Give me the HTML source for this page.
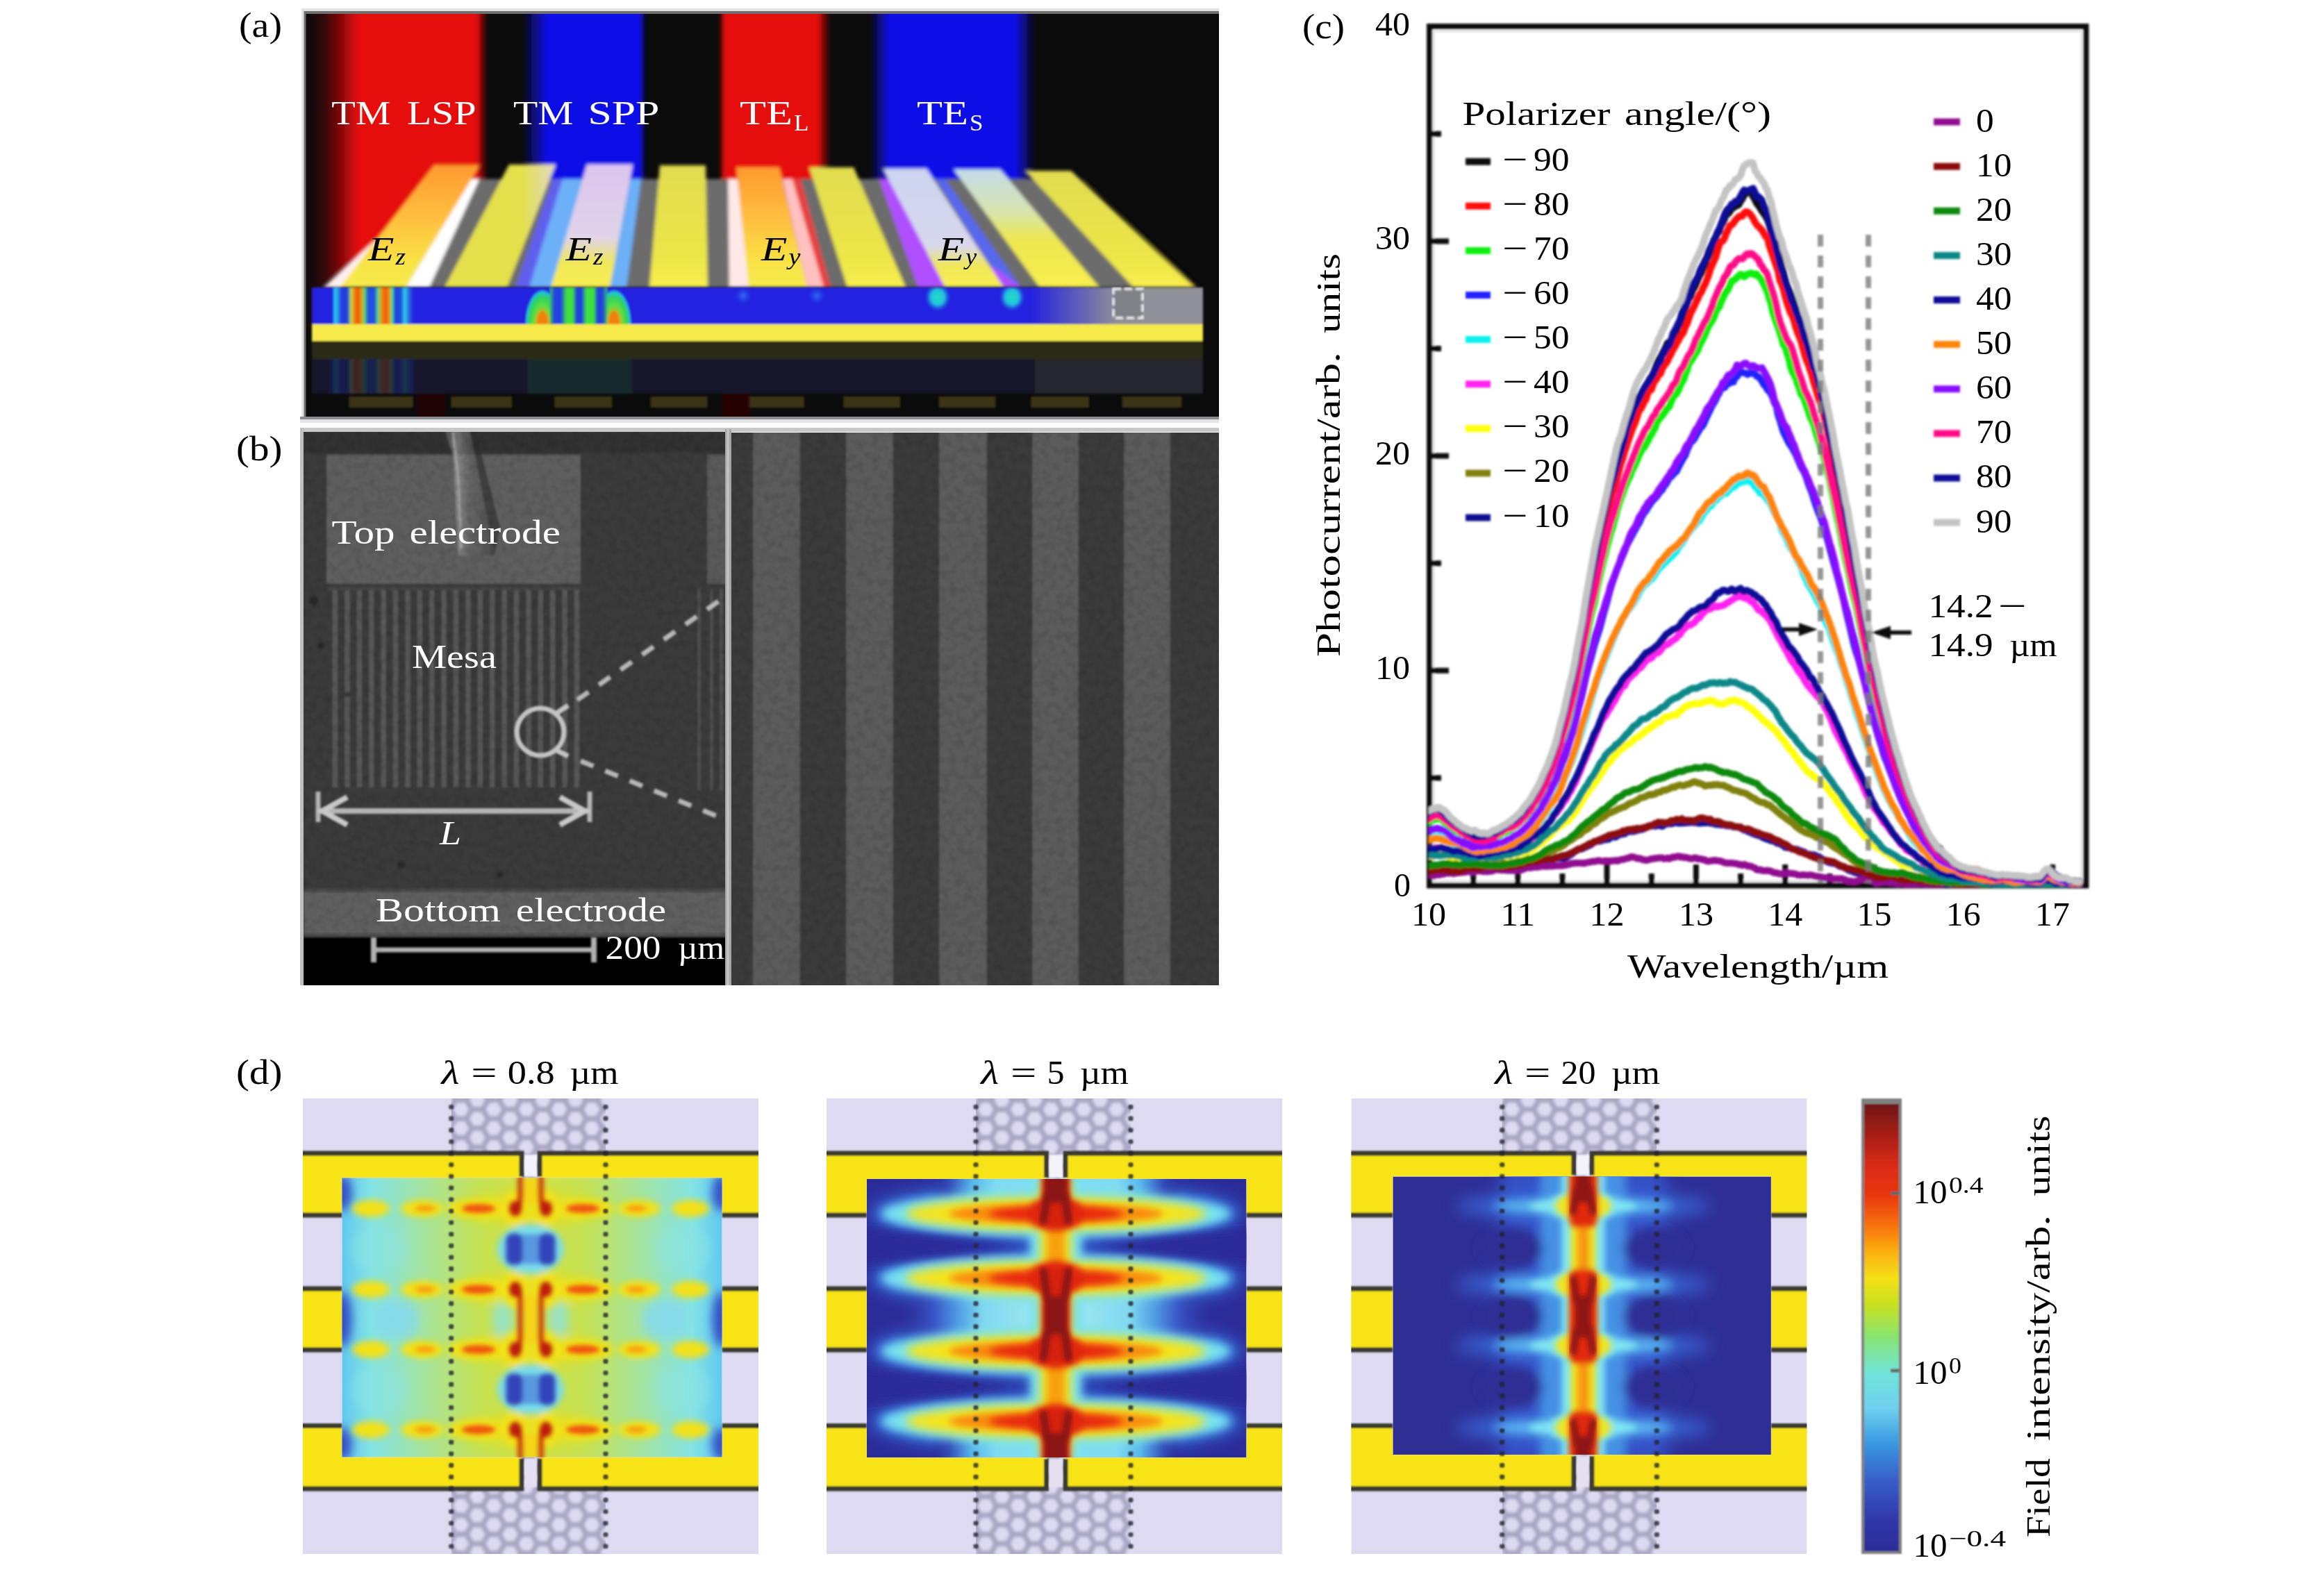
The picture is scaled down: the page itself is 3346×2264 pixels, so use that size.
<!DOCTYPE html>
<html><head><meta charset="utf-8"><title>Figure</title>
<style>html,body{margin:0;padding:0;background:#fff}svg{display:block}text{font-family:'Liberation Serif', serif;white-space:pre}</style>
</head><body>
<svg width="3346" height="2264" viewBox="0 0 3346 2264">
<rect width="3346" height="2264" fill="#fff"/>
<defs>
<linearGradient id="aR1" gradientUnits="userSpaceOnUse" x1="441" x2="702"><stop offset="0.0000" stop-color="#e60a0a" stop-opacity="0"/><stop offset="0.0728" stop-color="#e60a0a" stop-opacity="0.12"/><stop offset="0.1303" stop-color="#e60a0a" stop-opacity="0.3"/><stop offset="0.1877" stop-color="#e60a0a" stop-opacity="0.55"/><stop offset="0.2261" stop-color="#e60a0a" stop-opacity="0.72"/><stop offset="0.2874" stop-color="#e60a0a" stop-opacity="1"/><stop offset="0.9387" stop-color="#e60a0a" stop-opacity="1"/><stop offset="1.0000" stop-color="#e60a0a" stop-opacity="0"/></linearGradient>
<linearGradient id="aB1" gradientUnits="userSpaceOnUse" x1="752" x2="930"><stop offset="0" stop-color="#1010e8" stop-opacity="0"/><stop offset=".2" stop-color="#1010e8"/><stop offset=".95" stop-color="#1010e8"/><stop offset="1" stop-color="#1010e8" stop-opacity="0"/></linearGradient>
<linearGradient id="aR2" gradientUnits="userSpaceOnUse" x1="1035" x2="1196"><stop offset="0" stop-color="#e60a0a" stop-opacity="0"/><stop offset=".05" stop-color="#e60a0a"/><stop offset=".88" stop-color="#e60a0a"/><stop offset="1" stop-color="#e60a0a" stop-opacity="0"/></linearGradient>
<linearGradient id="aB2" gradientUnits="userSpaceOnUse" x1="1252" x2="1490"><stop offset="0" stop-color="#1010e8" stop-opacity="0"/><stop offset=".12" stop-color="#1010e8"/><stop offset=".88" stop-color="#1010e8"/><stop offset="1" stop-color="#1010e8" stop-opacity="0"/></linearGradient>
<linearGradient id="aOr" x1="0" y1="0" x2="0" y2="1"><stop offset="0" stop-color="#ff9a30"/><stop offset=".45" stop-color="#ffc040"/><stop offset=".8" stop-color="#f8e444"/><stop offset="1" stop-color="#f6ea4c"/></linearGradient>
<linearGradient id="aYe" x1="0" y1="0" x2="0" y2="1"><stop offset="0" stop-color="#e0dc50"/><stop offset=".75" stop-color="#ece648"/><stop offset="1" stop-color="#f8ee50"/></linearGradient>
<linearGradient id="aLv" x1="0" y1="0" x2="0" y2="1"><stop offset="0" stop-color="#dcc4ee"/><stop offset=".6" stop-color="#e0d4e8"/><stop offset=".8" stop-color="#f0e858"/><stop offset="1" stop-color="#f8ee50"/></linearGradient>
<linearGradient id="aLb" x1="0" y1="0" x2="0" y2="1"><stop offset="0" stop-color="#ccd4f0"/><stop offset=".65" stop-color="#d8d8ee"/><stop offset=".82" stop-color="#f0e858"/><stop offset="1" stop-color="#f8ee50"/></linearGradient>
<linearGradient id="aLc" x1="0" y1="0" x2="0" y2="1"><stop offset="0" stop-color="#c4dcea"/><stop offset=".35" stop-color="#d8e4b0"/><stop offset=".6" stop-color="#ece850"/><stop offset="1" stop-color="#f8ee50"/></linearGradient>
<linearGradient id="aS2" x1="0" y1="0" x2="1" y2="0"><stop offset="0" stop-color="#e4e04c"/><stop offset=".7" stop-color="#e4e04c"/><stop offset="1" stop-color="#e0d8c8"/></linearGradient>
<linearGradient id="aBlue" gradientUnits="userSpaceOnUse" x1="1480" x2="1610"><stop offset="0" stop-color="#2020e0"/><stop offset="1" stop-color="#909098"/></linearGradient>
<linearGradient id="aLSP" gradientUnits="userSpaceOnUse" x1="476" x2="596"><stop offset="0" stop-color="#2020e0"/><stop offset="0.02" stop-color="#2020e0"/><stop offset="0.05" stop-color="#28c8ec"/><stop offset="0.075" stop-color="#28b0ec"/><stop offset="0.135" stop-color="#2038e0"/><stop offset="0.2" stop-color="#2040e0"/><stop offset="0.245" stop-color="#b8e048"/><stop offset="0.285" stop-color="#f08a10"/><stop offset="0.325" stop-color="#f05410"/><stop offset="0.365" stop-color="#f09010"/><stop offset="0.405" stop-color="#58e068"/><stop offset="0.45" stop-color="#2050e0"/><stop offset="0.525" stop-color="#2050e0"/><stop offset="0.57" stop-color="#60e080"/><stop offset="0.61" stop-color="#f09010"/><stop offset="0.66" stop-color="#f05a10"/><stop offset="0.705" stop-color="#f09a10"/><stop offset="0.74" stop-color="#40e0a0"/><stop offset="0.775" stop-color="#2040e0"/><stop offset="0.84" stop-color="#2048e0"/><stop offset="0.89" stop-color="#30d0e8"/><stop offset="0.94" stop-color="#2868e0"/><stop offset="1" stop-color="#2020e0"/></linearGradient>
<linearGradient id="aSPPs" gradientUnits="userSpaceOnUse" x1="790" x2="876">
<stop offset="0" stop-color="#40e040"/><stop offset=".1" stop-color="#2040e0"/><stop offset=".2" stop-color="#2040e0"/><stop offset=".3" stop-color="#40e040"/><stop offset=".4" stop-color="#40e040"/><stop offset=".47" stop-color="#2040e0"/><stop offset=".55" stop-color="#2040e0"/><stop offset=".63" stop-color="#40e040"/><stop offset=".75" stop-color="#40e040"/><stop offset=".82" stop-color="#2040e0"/><stop offset=".9" stop-color="#2040e0"/><stop offset="1" stop-color="#40e040"/></linearGradient>
<radialGradient id="aArc"><stop offset="0" stop-color="#f07010"/><stop offset=".3" stop-color="#f0a010"/><stop offset=".5" stop-color="#60e040"/><stop offset=".75" stop-color="#30d060"/><stop offset=".9" stop-color="#20c0e0"/><stop offset="1" stop-color="#2020e0" stop-opacity="0"/></radialGradient>
<radialGradient id="aSpot"><stop offset="0" stop-color="#20e0c0"/><stop offset=".5" stop-color="#20c0e0"/><stop offset="1" stop-color="#2020e0" stop-opacity="0"/></radialGradient>
<radialGradient id="aSpot2"><stop offset="0" stop-color="#3070f0"/><stop offset="1" stop-color="#2020e0" stop-opacity="0"/></radialGradient>
<clipPath id="aClip"><rect x="440.5" y="20" width="1314.5" height="580"/></clipPath>
<clipPath id="aLayer"><rect x="449" y="414" width="1283" height="53"/></clipPath>
<filter id="aBl" x="-5%" y="-5%" width="110%" height="110%"><feGaussianBlur stdDeviation="2.6"/></filter>
<filter id="aBl2" x="-5%" y="-5%" width="110%" height="110%"><feGaussianBlur stdDeviation="1.6"/></filter>

</defs>
<rect x="434.0" y="12.0" width="1321.0" height="593.0" fill="#e4e4e4" />
<rect x="437.5" y="16.0" width="1317.5" height="587.0" fill="#707070" />
<g clip-path="url(#aClip)">
<rect x="437.0" y="19.0" width="1318.0" height="581.0" fill="#0b0b0b" />
<g filter="url(#aBl)">
<polygon points="441.0,0.0 702.0,0.0 702.0,262.0 610.0,262.0 441.0,484.0" fill="url(#aR1)" />
<rect x="752.0" y="0.0" width="178.0" height="262.0" fill="url(#aB1)" />
<rect x="1035.0" y="0.0" width="161.0" height="262.0" fill="url(#aR2)" />
<rect x="1252.0" y="0.0" width="238.0" height="262.0" fill="url(#aB2)" />
<polygon points="678.3,258.0 1494.5,258.0 1632.0,414.0 584.0,414.0" fill="#6c6c6c" />
<polygon points="1563.1,258.0 1560.0,258.0 1732.0,414.0 1720.0,414.0" fill="#0b0b0b" />
<polygon points="541.0,345.0 545.0,345.0 492.0,414.0 466.0,414.0" fill="#fff0f0" />
<polygon points="678.3,258.0 690.3,258.0 618.0,414.0 584.0,414.0" fill="#ffffff" />
<polygon points="795.7,258.0 809.7,258.0 768.0,414.0 742.0,414.0" fill="#6060ee" />
<polygon points="809.7,258.0 838.8,258.0 796.0,414.0 762.0,414.0" fill="#6cb0f8" />
<polygon points="907.1,258.0 923.1,258.0 902.0,414.0 878.0,414.0" fill="#6cb0f8" />
<polygon points="1048.1,258.0 1062.1,258.0 1080.0,414.0 1050.0,414.0" fill="#ffe8e8" />
<polygon points="1126.7,258.0 1142.7,258.0 1188.0,414.0 1162.0,414.0" fill="#ffc0c0" />
<polygon points="1140.7,258.0 1152.7,258.0 1196.0,414.0 1186.0,414.0" fill="#e84040" />
<polygon points="1265.7,258.0 1283.7,258.0 1363.0,414.0 1322.0,414.0" fill="#b050ff" />
<polygon points="1347.2,258.0 1361.2,258.0 1470.0,414.0 1445.0,414.0" fill="#5868ec" />
<polygon points="1420.0,385.0 1432.0,385.0 1470.0,414.0 1445.0,414.0" fill="#b050ff" />
<polygon points="625.0,238.0 691.0,238.0 584.0,414.0 489.0,414.0" fill="url(#aOr)" />
<polygon points="733.0,237.0 800.0,237.0 730.0,414.0 640.0,414.0" fill="url(#aS2)" />
<polygon points="845.0,237.0 911.0,237.0 878.0,414.0 793.0,414.0" fill="url(#aLv)" />
<polygon points="950.0,238.0 1016.0,238.0 1019.0,414.0 935.0,414.0" fill="url(#aYe)" />
<polygon points="1060.0,241.0 1122.0,241.0 1162.0,414.0 1078.0,414.0" fill="url(#aOr)" />
<polygon points="1165.0,241.0 1229.0,241.0 1304.0,414.0 1220.0,414.0" fill="url(#aYe)" />
<polygon points="1271.0,243.0 1334.0,243.0 1445.0,414.0 1361.0,414.0" fill="url(#aLb)" />
<polygon points="1373.0,244.0 1440.0,244.0 1583.0,414.0 1497.0,414.0" fill="url(#aLc)" />
<polygon points="1476.0,246.0 1542.0,246.0 1720.0,414.0 1632.0,414.0" fill="url(#aYe)" />
</g>
<g filter="url(#aBl2)">
<rect x="449.0" y="414.0" width="1283.0" height="53.0" fill="url(#aBlue)" />
<g clip-path="url(#aLayer)">
<rect x="476.0" y="414.0" width="120.0" height="53.0" fill="url(#aLSP)" />
<ellipse cx="781" cy="467" rx="26" ry="52" fill="url(#aArc)"/>
<ellipse cx="884" cy="467" rx="26" ry="52" fill="url(#aArc)"/>
<rect x="792.0" y="414.0" width="82.0" height="53.0" fill="url(#aSPPs)" />
<ellipse cx="781" cy="462" rx="7" ry="14" fill="#f08010"/>
<ellipse cx="884" cy="462" rx="7" ry="14" fill="#f08010"/>
<ellipse cx="1070" cy="426" rx="16" ry="16" fill="url(#aSpot2)"/>
<ellipse cx="1176" cy="426" rx="16" ry="16" fill="url(#aSpot2)"/>
<ellipse cx="1350" cy="428" rx="20" ry="22" fill="url(#aSpot)"/>
<ellipse cx="1457" cy="428" rx="20" ry="22" fill="url(#aSpot)"/>
</g>
<rect x="449.0" y="467.0" width="1283.0" height="24.0" fill="#f6ea4c" />
<rect x="449.0" y="491.0" width="1283.0" height="26.0" fill="#2c2a12" />
<rect x="449.0" y="517.0" width="1283.0" height="50.0" fill="#15162c" />
<rect x="476.0" y="517.0" width="120.0" height="50.0" fill="url(#aLSP)" opacity=".18"/>
<rect x="760.0" y="517.0" width="150.0" height="50.0" fill="#30a040" opacity=".15"/>
<rect x="1490.0" y="517.0" width="242.0" height="50.0" fill="#2a2a2e" opacity=".8"/>
<rect x="502.3" y="571.0" width="92.5" height="16.0" fill="#3a3418" />
<rect x="649.4" y="571.0" width="87.7" height="16.0" fill="#3a3418" />
<rect x="798.4" y="571.0" width="82.8" height="16.0" fill="#3a3418" />
<rect x="936.7" y="571.0" width="81.8" height="16.0" fill="#3a3418" />
<rect x="1076.0" y="571.0" width="81.8" height="16.0" fill="#3a3418" />
<rect x="1214.3" y="571.0" width="81.8" height="16.0" fill="#3a3418" />
<rect x="1351.6" y="571.0" width="81.8" height="16.0" fill="#3a3418" />
<rect x="1484.1" y="571.0" width="83.8" height="16.0" fill="#3a3418" />
<rect x="1615.6" y="571.0" width="85.7" height="16.0" fill="#3a3418" />
<rect x="1040.0" y="567.0" width="40.0" height="33.0" fill="#2a0808" opacity=".8"/>
<rect x="600.0" y="567.0" width="40.0" height="33.0" fill="#2a0808" opacity=".7"/>
</g>
<rect x="1603" y="416" width="42" height="42" fill="#707078" fill-opacity=".5" stroke="#f0f0f0" stroke-width="3.5" stroke-dasharray="11 5" filter="url(#aBl2)"/>
</g>
<text x="344.0" y="53.0" font-size="50" fill="#000" textLength="62.0" lengthAdjust="spacingAndGlyphs">(a)</text>
<text fill="#fff"><tspan x="477.3" y="179.0" font-size="49.5" textLength="85.0" lengthAdjust="spacingAndGlyphs">TM</tspan><tspan font-size="20"> </tspan><tspan x="586.0" y="179.0" font-size="49.5" textLength="99.5" lengthAdjust="spacingAndGlyphs">LSP</tspan></text>
<text fill="#fff"><tspan x="739.0" y="179.0" font-size="49.5" textLength="86.5" lengthAdjust="spacingAndGlyphs">TM</tspan><tspan font-size="20"> </tspan><tspan x="846.4" y="179.0" font-size="49.5" textLength="103.0" lengthAdjust="spacingAndGlyphs">SPP</tspan></text>
<text fill="#fff"><tspan x="1065.0" y="179.0" font-size="49.5" textLength="76.0" lengthAdjust="spacingAndGlyphs">TE</tspan><tspan x="1143.0" y="188.0" font-size="34" textLength="21.5" lengthAdjust="spacingAndGlyphs">L</tspan></text>
<text fill="#fff"><tspan x="1320.0" y="179.0" font-size="49.5" textLength="74.0" lengthAdjust="spacingAndGlyphs">TE</tspan><tspan x="1396.0" y="188.0" font-size="34" textLength="19.5" lengthAdjust="spacingAndGlyphs">S</tspan></text>
<text fill="#000"><tspan x="530.0" y="375.0" font-size="49.5" textLength="37.5" lengthAdjust="spacingAndGlyphs" font-style="italic">E</tspan><tspan x="569.5" y="381.0" font-size="34.5" textLength="14.5" lengthAdjust="spacingAndGlyphs" font-style="italic">z</tspan></text>
<text fill="#000"><tspan x="814.6" y="375.0" font-size="49.5" textLength="37.5" lengthAdjust="spacingAndGlyphs" font-style="italic">E</tspan><tspan x="854.1" y="381.0" font-size="34.5" textLength="14.5" lengthAdjust="spacingAndGlyphs" font-style="italic">z</tspan></text>
<text fill="#000"><tspan x="1096.0" y="375.0" font-size="49.5" textLength="37.5" lengthAdjust="spacingAndGlyphs" font-style="italic">E</tspan><tspan x="1135.5" y="381.0" font-size="34.5" textLength="17.0" lengthAdjust="spacingAndGlyphs" font-style="italic">y</tspan></text>
<text fill="#000"><tspan x="1350.7" y="375.0" font-size="49.5" textLength="37.5" lengthAdjust="spacingAndGlyphs" font-style="italic">E</tspan><tspan x="1390.2" y="381.0" font-size="34.5" textLength="16.0" lengthAdjust="spacingAndGlyphs" font-style="italic">y</tspan></text>
<defs>
<filter id="bBl" x="-5%" y="-5%" width="110%" height="110%"><feGaussianBlur stdDeviation="1.8"/></filter>
<filter id="bBl3" x="-5%" y="-5%" width="110%" height="110%"><feGaussianBlur stdDeviation="3"/></filter>
<filter id="bNoise" x="0" y="0" width="100%" height="100%"><feTurbulence type="fractalNoise" baseFrequency="0.09" numOctaves="2" seed="7" result="n"/><feColorMatrix in="n" type="matrix" values="0 0 0 0 0  0 0 0 0 0  0 0 0 0 0  1.1 0 0 0 -0.42"/></filter>
<clipPath id="bClipL"><rect x="437" y="622" width="609" height="797"/></clipPath>
<clipPath id="bClipR"><rect x="1053" y="623" width="702" height="796"/></clipPath>
<linearGradient id="bWire" x1="0" x2="1" y1="0" y2="0"><stop offset="0" stop-color="#686868"/><stop offset=".25" stop-color="#a8a8a8"/><stop offset=".5" stop-color="#6a6a6a"/><stop offset=".85" stop-color="#505050"/><stop offset="1" stop-color="#2a2a2a"/></linearGradient>
</defs>
<rect x="432.0" y="600.0" width="1323.0" height="4.0" fill="#8c8c90" />
<rect x="432.0" y="604.0" width="1323.0" height="5.0" fill="#e4e4e4" />
<rect x="432.0" y="616.0" width="1323.0" height="6.0" fill="#c8c8c8" />
<rect x="432.0" y="616.0" width="6.0" height="803.0" fill="#c0c0c0" />
<g clip-path="url(#bClipL)">
<rect x="437.0" y="622.0" width="609.0" height="797.0" fill="#3b3b3b" />
<g filter="url(#bBl)">
<rect x="437.0" y="622.0" width="609.0" height="30.0" fill="#303030" />
<rect x="470.0" y="655.0" width="366.0" height="186.0" fill="#5e5e5e" />
<rect x="1018.0" y="655.0" width="40.0" height="186.0" fill="#5a5a5a" />
<rect x="1004.0" y="848.0" width="5.0" height="290.0" fill="#505050" />
<rect x="1022.0" y="848.0" width="5.0" height="290.0" fill="#505050" />
<rect x="1036.0" y="848.0" width="5.0" height="290.0" fill="#505050" />
<polygon points="640.0,618.0 676.0,618.0 684.0,655.0 712.0,800.0 660.0,800.0 652.0,655.0" fill="url(#bWire)" opacity=".55"/>
<polygon points="676.0,618.0 684.0,618.0 720.0,760.0 712.0,800.0 684.0,655.0" fill="#2c2c2c" opacity=".6"/>
<path d="M652 622 L660 690 L664 790" stroke="#a8a8a8" stroke-width="3.5" fill="none" opacity=".8"/>
<rect x="478.8" y="848.0" width="7.5" height="286.0" fill="#585858" />
<rect x="496.2" y="848.0" width="7.5" height="286.0" fill="#585858" />
<rect x="513.6" y="848.0" width="7.5" height="286.0" fill="#585858" />
<rect x="531.0" y="848.0" width="7.5" height="286.0" fill="#585858" />
<rect x="548.4" y="848.0" width="7.5" height="286.0" fill="#585858" />
<rect x="565.8" y="848.0" width="7.5" height="286.0" fill="#585858" />
<rect x="583.2" y="848.0" width="7.5" height="286.0" fill="#585858" />
<rect x="600.6" y="848.0" width="7.5" height="286.0" fill="#585858" />
<rect x="618.0" y="848.0" width="7.5" height="286.0" fill="#585858" />
<rect x="635.4" y="848.0" width="7.5" height="286.0" fill="#585858" />
<rect x="652.8" y="848.0" width="7.5" height="286.0" fill="#585858" />
<rect x="670.2" y="848.0" width="7.5" height="286.0" fill="#585858" />
<rect x="687.6" y="848.0" width="7.5" height="286.0" fill="#585858" />
<rect x="705.0" y="848.0" width="7.5" height="286.0" fill="#585858" />
<rect x="722.4" y="848.0" width="7.5" height="286.0" fill="#585858" />
<rect x="739.8" y="848.0" width="7.5" height="286.0" fill="#585858" />
<rect x="757.2" y="848.0" width="7.5" height="286.0" fill="#585858" />
<rect x="774.6" y="848.0" width="7.5" height="286.0" fill="#585858" />
<rect x="792.0" y="848.0" width="7.5" height="286.0" fill="#585858" />
<rect x="809.4" y="848.0" width="7.5" height="286.0" fill="#585858" />
<rect x="826.8" y="848.0" width="7.5" height="286.0" fill="#585858" />
<rect x="470.0" y="845.0" width="366.0" height="5.0" fill="#444" />
<rect x="437.0" y="1284.0" width="609.0" height="64.0" fill="#616161" />
<rect x="437.0" y="1280.0" width="609.0" height="5.0" fill="#4a4a4a" />
<rect x="437.0" y="1348.0" width="609.0" height="75.0" fill="#020202" />
<rect x="437.0" y="1344.0" width="609.0" height="5.0" fill="#505050" />
<circle cx="452" cy="865" r="7" fill="#222" opacity=".6"/>
<circle cx="462" cy="930" r="5" fill="#222" opacity=".6"/>
<circle cx="578" cy="1245" r="6" fill="#222" opacity=".6"/>
<circle cx="720" cy="1260" r="5" fill="#222" opacity=".6"/>
<circle cx="500" cy="1000" r="4" fill="#222" opacity=".6"/>
</g>
<rect x="437.0" y="622.0" width="609.0" height="726.0" fill="#000" filter="url(#bNoise)" opacity=".22"/>
<g filter="url(#bBl)">
<circle cx="778" cy="1054" r="34" fill="none" stroke="#c4c4c4" stroke-width="7"/>
<path d="M800 1028 L818 1016 M800 1080 L818 1089" stroke="#c4c4c4" stroke-width="7" fill="none"/>
<path d="M831 1008 L1046 858" stroke="#b8b8b8" stroke-width="7" stroke-dasharray="20 18" fill="none"/>
<path d="M836 1096 L1046 1181" stroke="#b8b8b8" stroke-width="7" stroke-dasharray="20 18" fill="none"/>
<path d="M460 1168 L846 1168" stroke="#b4b4b4" stroke-width="8" fill="none"/>
<path d="M458 1140 V1184 M849 1140 V1184" stroke="#b4b4b4" stroke-width="7" fill="none"/>
<path d="M500 1148 L464 1168 L500 1188 M806 1148 L842 1168 L806 1188" stroke="#c8c8c8" stroke-width="8" fill="none"/>
<path d="M536 1368 H856" stroke="#b0b0b0" stroke-width="7" fill="none"/>
<path d="M538 1350 V1386 M855 1350 V1386" stroke="#b0b0b0" stroke-width="8" fill="none"/>
</g>
</g>
<rect x="1044.0" y="618.0" width="9.0" height="801.0" fill="#a4a4a4" />
<rect x="1046.0" y="618.0" width="4.0" height="801.0" fill="#c0c0c0" />
<g clip-path="url(#bClipR)">
<rect x="1053.0" y="623.0" width="702.0" height="796.0" fill="#3b3b3b" />
<g filter="url(#bBl)">
<rect x="1084.0" y="615.0" width="68.0" height="815.0" fill="#5b5b5b" />
<rect x="1218.0" y="615.0" width="68.0" height="815.0" fill="#5b5b5b" />
<rect x="1352.0" y="615.0" width="69.0" height="815.0" fill="#5b5b5b" />
<rect x="1486.0" y="615.0" width="67.0" height="815.0" fill="#5b5b5b" />
<rect x="1618.0" y="615.0" width="67.0" height="815.0" fill="#5b5b5b" />
</g>
<rect x="1053.0" y="623.0" width="702.0" height="796.0" fill="#000" filter="url(#bNoise)" opacity=".22"/>
</g>
<text x="340.0" y="662.5" font-size="50" fill="#000" textLength="66.5" lengthAdjust="spacingAndGlyphs">(b)</text>
<text fill="#fff"><tspan x="477.5" y="783.0" font-size="49.5" textLength="91.0" lengthAdjust="spacingAndGlyphs">Top</tspan><tspan font-size="20"> </tspan><tspan x="589.5" y="783.0" font-size="49.5" textLength="217.5" lengthAdjust="spacingAndGlyphs">electrode</tspan></text>
<text x="593.0" y="962.0" font-size="49.5" fill="#fff" textLength="122.0" lengthAdjust="spacingAndGlyphs">Mesa</text>
<text x="633.0" y="1216.0" font-size="49.5" fill="#fff" textLength="31.0" lengthAdjust="spacingAndGlyphs" font-style="italic">L</text>
<text fill="#fff"><tspan x="541.0" y="1327.0" font-size="49.5" textLength="180.0" lengthAdjust="spacingAndGlyphs">Bottom</tspan><tspan font-size="20"> </tspan><tspan x="742.8" y="1327.0" font-size="49.5" textLength="216.5" lengthAdjust="spacingAndGlyphs">electrode</tspan></text>
<text fill="#fff"><tspan x="871.5" y="1381.0" font-size="49.5" textLength="80.0" lengthAdjust="spacingAndGlyphs">200</tspan><tspan font-size="20"> </tspan><tspan x="976.0" y="1381.0" font-size="49.5" textLength="67.0" lengthAdjust="spacingAndGlyphs">µm</tspan></text>
<defs><filter id="cBl" x="-5%" y="-5%" width="110%" height="110%"><feGaussianBlur stdDeviation="1.5"/></filter><clipPath id="cClip"><rect x="2057" y="38" width="947" height="1240"/></clipPath></defs>
<g filter="url(#cBl)">
<rect x="2058" y="38" width="945.5" height="1237.5" fill="none" stroke="#111" stroke-width="8"/>
<rect x="2064" y="45" width="933" height="1224" fill="none" stroke="#ccc" stroke-width="3" opacity=".6"/>
<path d="M2060 1120.4 h15" stroke="#111" stroke-width="8"/>
<path d="M2060 965.8 h26" stroke="#111" stroke-width="8"/>
<path d="M2060 811.2 h15" stroke="#111" stroke-width="8"/>
<path d="M2060 656.6 h26" stroke="#111" stroke-width="8"/>
<path d="M2060 502.0 h15" stroke="#111" stroke-width="8"/>
<path d="M2060 347.4 h26" stroke="#111" stroke-width="8"/>
<path d="M2060 192.8 h15" stroke="#111" stroke-width="8"/>
<path d="M2121.2 1272 v-14" stroke="#111" stroke-width="8"/>
<path d="M2185.3 1272 v-27" stroke="#111" stroke-width="8"/>
<path d="M2249.4 1272 v-14" stroke="#111" stroke-width="8"/>
<path d="M2313.6 1272 v-27" stroke="#111" stroke-width="8"/>
<path d="M2377.8 1272 v-14" stroke="#111" stroke-width="8"/>
<path d="M2441.9 1272 v-27" stroke="#111" stroke-width="8"/>
<path d="M2506.1 1272 v-14" stroke="#111" stroke-width="8"/>
<path d="M2570.2 1272 v-27" stroke="#111" stroke-width="8"/>
<path d="M2634.3 1272 v-14" stroke="#111" stroke-width="8"/>
<path d="M2698.5 1272 v-27" stroke="#111" stroke-width="8"/>
<path d="M2762.7 1272 v-14" stroke="#111" stroke-width="8"/>
<path d="M2826.8 1272 v-27" stroke="#111" stroke-width="8"/>
<path d="M2890.9 1272 v-14" stroke="#111" stroke-width="8"/>
<path d="M2955.1 1272 v-27" stroke="#111" stroke-width="8"/>
<g clip-path="url(#cClip)" fill="none" stroke-width="10" stroke-linejoin="round" stroke-linecap="round">
<polyline points="2057.0,1171.3 2059.6,1169.9 2062.1,1168.8 2064.7,1168.0 2067.3,1168.8 2069.8,1168.9 2072.4,1169.6 2075.0,1170.4 2077.5,1171.5 2080.1,1173.0 2082.7,1174.4 2085.2,1176.7 2087.8,1179.4 2090.4,1181.9 2092.9,1184.1 2095.5,1185.8 2098.1,1188.2 2100.6,1191.2 2103.2,1192.9 2105.8,1193.4 2108.3,1194.4 2110.9,1195.6 2113.5,1197.8 2116.0,1198.2 2118.6,1198.8 2121.2,1200.1 2123.7,1201.9 2126.3,1202.4 2128.8,1201.4 2131.4,1202.0 2134.0,1202.8 2136.5,1203.0 2139.1,1203.5 2141.7,1203.3 2144.2,1203.6 2146.8,1203.1 2149.4,1201.6 2151.9,1200.9 2154.5,1199.0 2157.1,1196.5 2159.6,1195.6 2162.2,1193.9 2164.8,1193.3 2167.3,1192.1 2169.9,1189.7 2172.5,1189.7 2175.0,1188.1 2177.6,1184.9 2180.2,1182.1 2182.7,1179.1 2185.3,1175.7 2187.9,1172.4 2190.4,1169.2 2193.0,1165.7 2195.6,1164.3 2198.1,1161.8 2200.7,1160.0 2203.3,1156.3 2205.8,1152.3 2208.4,1147.5 2211.0,1142.4 2213.5,1137.0 2216.1,1131.5 2218.7,1125.1 2221.2,1120.9 2223.8,1115.8 2226.4,1108.6 2228.9,1104.3 2231.5,1097.0 2234.1,1090.7 2236.6,1082.6 2239.2,1073.9 2241.8,1065.5 2244.3,1057.6 2246.9,1047.6 2249.4,1039.5 2252.0,1028.4 2254.6,1020.3 2257.1,1009.9 2259.7,999.1 2262.3,989.2 2264.8,977.7 2267.4,963.2 2270.0,951.0 2272.5,936.6 2275.1,924.7 2277.7,911.3 2280.2,896.3 2282.8,882.2 2285.4,869.5 2287.9,855.1 2290.5,841.3 2293.1,825.9 2295.6,812.0 2298.2,799.9 2300.8,787.4 2303.3,772.2 2305.9,759.7 2308.5,748.5 2311.0,736.9 2313.6,725.6 2316.2,712.5 2318.7,701.3 2321.3,693.7 2323.9,685.4 2326.4,673.9 2329.0,664.3 2331.6,656.5 2334.1,649.3 2336.7,641.4 2339.3,631.7 2341.8,623.6 2344.4,616.0 2347.0,607.8 2349.5,599.4 2352.1,593.2 2354.7,584.5 2357.2,579.7 2359.8,572.3 2362.4,568.0 2364.9,565.6 2367.5,560.8 2370.1,554.6 2372.6,551.4 2375.2,545.6 2377.8,542.2 2380.3,537.5 2382.9,530.9 2385.4,524.1 2388.0,518.7 2390.6,514.5 2393.1,509.6 2395.7,504.8 2398.3,499.9 2400.8,494.1 2403.4,492.4 2406.0,490.9 2408.5,486.6 2411.1,482.3 2413.7,476.6 2416.2,469.4 2418.8,466.0 2421.4,458.9 2423.9,450.5 2426.5,443.7 2429.1,436.8 2431.6,430.3 2434.2,426.8 2436.8,418.4 2439.3,414.7 2441.9,409.1 2444.5,402.7 2447.0,397.2 2449.6,392.9 2452.2,386.0 2454.7,381.9 2457.3,373.3 2459.9,368.5 2462.4,362.4 2465.0,357.3 2467.6,351.9 2470.1,342.2 2472.7,336.1 2475.3,333.7 2477.8,325.0 2480.4,321.2 2483.0,315.3 2485.5,307.5 2488.1,307.9 2490.7,304.7 2493.2,300.0 2495.8,299.2 2498.4,296.9 2500.9,296.2 2503.5,294.8 2506.1,289.8 2508.6,286.1 2511.2,281.0 2513.7,278.5 2516.3,276.2 2518.9,274.6 2521.4,278.3 2524.0,282.9 2526.6,287.6 2529.1,292.6 2531.7,296.0 2534.3,299.7 2536.8,304.1 2539.4,307.4 2542.0,311.3 2544.5,315.8 2547.1,322.9 2549.7,333.1 2552.2,338.3 2554.8,345.2 2557.4,352.9 2559.9,363.2 2562.5,373.7 2565.1,383.6 2567.6,391.7 2570.2,402.2 2572.8,410.9 2575.3,416.9 2577.9,422.6 2580.5,430.0 2583.0,437.3 2585.6,445.3 2588.2,454.2 2590.7,460.2 2593.3,470.1 2595.9,476.6 2598.4,484.6 2601.0,492.6 2603.6,498.8 2606.1,506.2 2608.7,516.4 2611.3,524.7 2613.8,536.5 2616.4,545.5 2619.0,556.1 2621.5,565.3 2624.1,576.0 2626.7,585.6 2629.2,600.2 2631.8,611.9 2634.3,623.8 2636.9,636.4 2639.5,650.2 2642.0,662.6 2644.6,677.9 2647.2,687.7 2649.7,698.0 2652.3,711.7 2654.9,724.7 2657.4,739.8 2660.0,754.1 2662.6,768.9 2665.1,783.3 2667.7,797.4 2670.3,810.4 2672.8,823.8 2675.4,836.2 2678.0,848.7 2680.5,861.3 2683.1,873.7 2685.7,889.0 2688.2,903.8 2690.8,916.6 2693.4,932.7 2695.9,947.5 2698.5,960.0 2701.1,974.1 2703.6,986.7 2706.2,998.7 2708.8,1011.5 2711.3,1018.9 2713.9,1028.6 2716.5,1039.1 2719.0,1047.5 2721.6,1057.1 2724.2,1065.2 2726.7,1073.3 2729.3,1082.6 2731.9,1092.3 2734.4,1100.0 2737.0,1108.7 2739.6,1117.0 2742.1,1124.4 2744.7,1132.3 2747.3,1139.3 2749.8,1144.8 2752.4,1151.2 2755.0,1157.3 2757.5,1161.9 2760.1,1169.1 2762.7,1174.1 2765.2,1180.8 2767.8,1186.2 2770.3,1191.7 2772.9,1196.3 2775.5,1201.9 2778.0,1204.4 2780.6,1207.5 2783.2,1211.2 2785.7,1215.0 2788.3,1218.1 2790.9,1220.7 2793.4,1222.1 2796.0,1226.2 2798.6,1230.1 2801.1,1232.9 2803.7,1235.8 2806.3,1238.9 2808.8,1241.4 2811.4,1244.7 2814.0,1245.2 2816.5,1246.1 2819.1,1247.6 2821.7,1248.8 2824.2,1249.5 2826.8,1249.9 2829.4,1250.6 2831.9,1252.7 2834.5,1253.9 2837.1,1254.0 2839.6,1254.6 2842.2,1254.2 2844.8,1255.4 2847.3,1255.4 2849.9,1255.7 2852.5,1256.3 2855.0,1257.1 2857.6,1258.4 2860.2,1259.5 2862.7,1260.9 2865.3,1261.5 2867.9,1262.2 2870.4,1261.6 2873.0,1261.8 2875.6,1260.7 2878.1,1260.7 2880.7,1260.7 2883.3,1261.9 2885.8,1261.6 2888.4,1262.3 2890.9,1262.5 2893.5,1262.7 2896.1,1262.8 2898.6,1263.0 2901.2,1261.9 2903.8,1260.9 2906.3,1261.7 2908.9,1262.8 2911.5,1263.3 2914.0,1264.0 2916.6,1263.2 2919.2,1263.8 2921.7,1264.7 2924.3,1265.5 2926.9,1264.2 2929.4,1263.4 2932.0,1262.7 2934.6,1263.5 2937.1,1262.6 2939.7,1261.7 2942.3,1257.2 2944.8,1254.6 2947.4,1254.5 2950.0,1255.8 2952.5,1256.9 2955.1,1259.2 2957.7,1260.3 2960.2,1262.3 2962.8,1264.1 2965.4,1265.0 2967.9,1266.1 2970.5,1266.7 2973.1,1267.8 2975.6,1267.7 2978.2,1268.7 2980.8,1268.4 2983.3,1268.2 2985.9,1268.4 2988.5,1268.7 2991.0,1268.9 2993.6,1269.6" stroke="#101010"/>
<polyline points="2057.0,1173.9 2059.6,1171.7 2062.1,1170.5 2064.7,1168.9 2067.3,1169.4 2069.8,1168.6 2072.4,1170.1 2075.0,1170.9 2077.5,1172.5 2080.1,1175.2 2082.7,1179.1 2085.2,1181.3 2087.8,1184.0 2090.4,1187.1 2092.9,1189.2 2095.5,1192.2 2098.1,1193.5 2100.6,1194.5 2103.2,1195.2 2105.8,1197.1 2108.3,1197.8 2110.9,1199.2 2113.5,1200.0 2116.0,1202.0 2118.6,1203.2 2121.2,1204.4 2123.7,1204.3 2126.3,1203.7 2128.8,1203.9 2131.4,1204.1 2134.0,1203.3 2136.5,1202.9 2139.1,1202.3 2141.7,1201.7 2144.2,1202.5 2146.8,1201.9 2149.4,1200.5 2151.9,1197.9 2154.5,1196.6 2157.1,1196.0 2159.6,1195.7 2162.2,1193.9 2164.8,1192.9 2167.3,1191.4 2169.9,1190.4 2172.5,1188.6 2175.0,1186.2 2177.6,1184.3 2180.2,1182.0 2182.7,1179.8 2185.3,1177.9 2187.9,1175.4 2190.4,1173.3 2193.0,1172.2 2195.6,1169.2 2198.1,1166.6 2200.7,1163.8 2203.3,1160.6 2205.8,1156.9 2208.4,1151.7 2211.0,1146.6 2213.5,1141.2 2216.1,1135.2 2218.7,1129.9 2221.2,1124.2 2223.8,1119.3 2226.4,1114.5 2228.9,1109.3 2231.5,1104.0 2234.1,1097.8 2236.6,1089.4 2239.2,1080.8 2241.8,1073.0 2244.3,1063.4 2246.9,1052.9 2249.4,1044.2 2252.0,1034.7 2254.6,1025.7 2257.1,1016.3 2259.7,1005.7 2262.3,995.4 2264.8,984.5 2267.4,971.4 2270.0,958.3 2272.5,944.2 2275.1,930.9 2277.7,915.5 2280.2,902.3 2282.8,888.7 2285.4,874.7 2287.9,863.0 2290.5,850.5 2293.1,836.0 2295.6,825.8 2298.2,813.4 2300.8,801.9 2303.3,790.1 2305.9,775.7 2308.5,762.8 2311.0,753.8 2313.6,741.9 2316.2,732.0 2318.7,721.3 2321.3,711.5 2323.9,704.4 2326.4,695.8 2329.0,685.7 2331.6,676.5 2334.1,667.3 2336.7,659.6 2339.3,650.7 2341.8,642.9 2344.4,634.7 2347.0,627.4 2349.5,620.0 2352.1,613.5 2354.7,607.5 2357.2,600.1 2359.8,591.8 2362.4,588.9 2364.9,584.1 2367.5,578.6 2370.1,574.7 2372.6,565.9 2375.2,562.8 2377.8,560.9 2380.3,553.1 2382.9,548.2 2385.4,545.7 2388.0,538.8 2390.6,538.6 2393.1,531.6 2395.7,526.8 2398.3,523.7 2400.8,520.1 2403.4,514.3 2406.0,509.8 2408.5,503.8 2411.1,500.3 2413.7,494.9 2416.2,491.0 2418.8,485.6 2421.4,482.0 2423.9,478.6 2426.5,470.7 2429.1,466.1 2431.6,458.4 2434.2,451.1 2436.8,446.1 2439.3,441.2 2441.9,435.1 2444.5,430.1 2447.0,424.0 2449.6,420.8 2452.2,414.4 2454.7,409.8 2457.3,403.5 2459.9,396.7 2462.4,388.3 2465.0,381.9 2467.6,376.2 2470.1,370.8 2472.7,361.7 2475.3,353.1 2477.8,348.3 2480.4,347.2 2483.0,342.7 2485.5,336.1 2488.1,330.6 2490.7,324.9 2493.2,324.1 2495.8,321.3 2498.4,317.2 2500.9,314.8 2503.5,312.0 2506.1,311.0 2508.6,311.4 2511.2,306.7 2513.7,304.9 2516.3,305.6 2518.9,307.5 2521.4,310.5 2524.0,314.4 2526.6,319.7 2529.1,323.5 2531.7,326.2 2534.3,328.8 2536.8,331.5 2539.4,336.1 2542.0,340.9 2544.5,341.9 2547.1,353.0 2549.7,360.9 2552.2,367.9 2554.8,375.6 2557.4,383.2 2559.9,390.4 2562.5,403.8 2565.1,409.4 2567.6,416.6 2570.2,427.2 2572.8,436.3 2575.3,443.4 2577.9,450.7 2580.5,455.1 2583.0,462.3 2585.6,472.2 2588.2,479.6 2590.7,485.6 2593.3,492.6 2595.9,502.5 2598.4,511.5 2601.0,519.5 2603.6,525.2 2606.1,532.9 2608.7,540.7 2611.3,550.8 2613.8,558.7 2616.4,567.7 2619.0,575.6 2621.5,582.6 2624.1,591.4 2626.7,602.4 2629.2,611.5 2631.8,624.5 2634.3,636.0 2636.9,651.7 2639.5,666.3 2642.0,677.9 2644.6,690.8 2647.2,705.4 2649.7,715.1 2652.3,728.6 2654.9,740.4 2657.4,754.7 2660.0,771.1 2662.6,784.5 2665.1,796.3 2667.7,810.9 2670.3,824.4 2672.8,838.6 2675.4,851.9 2678.0,863.9 2680.5,877.9 2683.1,893.0 2685.7,906.2 2688.2,918.9 2690.8,931.1 2693.4,943.9 2695.9,955.5 2698.5,966.3 2701.1,977.3 2703.6,989.5 2706.2,1001.8 2708.8,1013.0 2711.3,1023.9 2713.9,1034.5 2716.5,1045.9 2719.0,1055.5 2721.6,1065.3 2724.2,1073.0 2726.7,1081.8 2729.3,1090.2 2731.9,1099.4 2734.4,1107.2 2737.0,1115.5 2739.6,1121.4 2742.1,1129.2 2744.7,1136.1 2747.3,1143.6 2749.8,1150.0 2752.4,1155.6 2755.0,1160.2 2757.5,1167.5 2760.1,1173.6 2762.7,1179.0 2765.2,1184.1 2767.8,1189.8 2770.3,1195.0 2772.9,1200.2 2775.5,1204.9 2778.0,1208.6 2780.6,1212.1 2783.2,1215.1 2785.7,1218.0 2788.3,1220.0 2790.9,1223.0 2793.4,1225.2 2796.0,1227.4 2798.6,1230.8 2801.1,1233.2 2803.7,1235.9 2806.3,1238.7 2808.8,1241.3 2811.4,1242.2 2814.0,1244.1 2816.5,1244.9 2819.1,1246.7 2821.7,1246.9 2824.2,1249.2 2826.8,1249.6 2829.4,1250.7 2831.9,1251.6 2834.5,1252.1 2837.1,1251.2 2839.6,1252.3 2842.2,1251.8 2844.8,1252.5 2847.3,1252.6 2849.9,1254.4 2852.5,1254.6 2855.0,1257.1 2857.6,1258.7 2860.2,1260.1 2862.7,1260.7 2865.3,1261.7 2867.9,1261.2 2870.4,1262.0 2873.0,1262.0 2875.6,1261.3 2878.1,1262.1 2880.7,1262.0 2883.3,1261.9 2885.8,1262.2 2888.4,1263.6 2890.9,1264.3 2893.5,1263.7 2896.1,1263.1 2898.6,1263.7 2901.2,1264.6 2903.8,1264.2 2906.3,1263.7 2908.9,1263.6 2911.5,1265.1 2914.0,1265.0 2916.6,1264.3 2919.2,1264.0 2921.7,1264.0 2924.3,1263.7 2926.9,1263.3 2929.4,1262.5 2932.0,1262.5 2934.6,1262.5 2937.1,1261.8 2939.7,1260.2 2942.3,1257.0 2944.8,1254.2 2947.4,1252.8 2950.0,1253.5 2952.5,1255.6 2955.1,1259.0 2957.7,1261.0 2960.2,1262.4 2962.8,1263.9 2965.4,1264.2 2967.9,1264.9 2970.5,1265.8 2973.1,1266.6 2975.6,1266.8 2978.2,1268.4 2980.8,1268.4 2983.3,1269.3 2985.9,1270.1 2988.5,1270.3 2991.0,1269.6 2993.6,1270.1" stroke="#ff1010"/>
<polyline points="2057.0,1184.4 2059.6,1182.7 2062.1,1181.4 2064.7,1180.8 2067.3,1179.7 2069.8,1179.3 2072.4,1178.6 2075.0,1179.8 2077.5,1182.6 2080.1,1185.3 2082.7,1186.4 2085.2,1189.4 2087.8,1191.6 2090.4,1194.6 2092.9,1197.1 2095.5,1197.0 2098.1,1196.9 2100.6,1199.4 2103.2,1199.4 2105.8,1201.0 2108.3,1203.0 2110.9,1203.6 2113.5,1205.2 2116.0,1207.5 2118.6,1207.7 2121.2,1209.9 2123.7,1210.7 2126.3,1211.4 2128.8,1211.6 2131.4,1211.6 2134.0,1211.1 2136.5,1212.1 2139.1,1211.0 2141.7,1209.9 2144.2,1209.5 2146.8,1209.5 2149.4,1208.7 2151.9,1207.7 2154.5,1205.8 2157.1,1204.4 2159.6,1203.2 2162.2,1201.0 2164.8,1199.3 2167.3,1198.7 2169.9,1197.9 2172.5,1196.9 2175.0,1194.5 2177.6,1193.0 2180.2,1191.3 2182.7,1189.5 2185.3,1187.0 2187.9,1184.9 2190.4,1182.0 2193.0,1180.8 2195.6,1177.8 2198.1,1175.3 2200.7,1171.9 2203.3,1168.0 2205.8,1164.9 2208.4,1161.3 2211.0,1157.1 2213.5,1153.5 2216.1,1149.0 2218.7,1145.6 2221.2,1140.7 2223.8,1135.6 2226.4,1131.2 2228.9,1125.6 2231.5,1121.0 2234.1,1114.4 2236.6,1106.8 2239.2,1100.3 2241.8,1092.6 2244.3,1084.9 2246.9,1078.4 2249.4,1067.8 2252.0,1059.9 2254.6,1051.4 2257.1,1041.4 2259.7,1032.2 2262.3,1021.8 2264.8,1010.4 2267.4,1000.4 2270.0,989.0 2272.5,976.7 2275.1,964.2 2277.7,950.1 2280.2,939.1 2282.8,927.5 2285.4,914.2 2287.9,901.0 2290.5,888.8 2293.1,877.7 2295.6,868.8 2298.2,854.3 2300.8,841.6 2303.3,830.6 2305.9,819.6 2308.5,808.0 2311.0,798.9 2313.6,787.7 2316.2,778.3 2318.7,768.7 2321.3,761.3 2323.9,751.4 2326.4,742.7 2329.0,732.9 2331.6,724.4 2334.1,717.0 2336.7,710.0 2339.3,702.4 2341.8,696.5 2344.4,690.6 2347.0,686.1 2349.5,677.9 2352.1,673.7 2354.7,668.3 2357.2,662.3 2359.8,655.7 2362.4,651.1 2364.9,646.0 2367.5,644.3 2370.1,639.0 2372.6,635.3 2375.2,629.3 2377.8,626.0 2380.3,620.5 2382.9,616.6 2385.4,608.6 2388.0,604.6 2390.6,601.3 2393.1,598.7 2395.7,595.2 2398.3,591.4 2400.8,587.8 2403.4,585.9 2406.0,578.7 2408.5,573.1 2411.1,569.4 2413.7,567.1 2416.2,563.1 2418.8,556.2 2421.4,551.1 2423.9,547.1 2426.5,539.2 2429.1,532.9 2431.6,524.4 2434.2,520.4 2436.8,516.9 2439.3,512.1 2441.9,508.6 2444.5,504.2 2447.0,497.4 2449.6,492.8 2452.2,487.3 2454.7,482.3 2457.3,475.8 2459.9,470.6 2462.4,465.8 2465.0,462.5 2467.6,457.5 2470.1,449.9 2472.7,444.3 2475.3,442.7 2477.8,434.8 2480.4,429.9 2483.0,424.2 2485.5,420.1 2488.1,416.7 2490.7,411.0 2493.2,404.5 2495.8,404.0 2498.4,402.0 2500.9,399.8 2503.5,397.0 2506.1,395.0 2508.6,395.6 2511.2,398.8 2513.7,396.7 2516.3,394.6 2518.9,394.3 2521.4,393.2 2524.0,394.4 2526.6,396.0 2529.1,394.3 2531.7,398.0 2534.3,400.5 2536.8,404.4 2539.4,409.5 2542.0,414.9 2544.5,419.9 2547.1,429.7 2549.7,436.7 2552.2,449.0 2554.8,456.9 2557.4,464.7 2559.9,471.1 2562.5,479.3 2565.1,486.7 2567.6,496.8 2570.2,499.2 2572.8,508.7 2575.3,515.9 2577.9,528.0 2580.5,535.2 2583.0,540.3 2585.6,544.7 2588.2,553.6 2590.7,559.5 2593.3,568.2 2595.9,571.1 2598.4,577.4 2601.0,585.2 2603.6,592.4 2606.1,600.6 2608.7,605.9 2611.3,611.1 2613.8,621.0 2616.4,629.4 2619.0,636.6 2621.5,646.2 2624.1,652.3 2626.7,661.7 2629.2,673.8 2631.8,682.9 2634.3,692.6 2636.9,706.5 2639.5,717.0 2642.0,730.9 2644.6,744.3 2647.2,754.9 2649.7,767.9 2652.3,782.6 2654.9,794.6 2657.4,807.2 2660.0,818.6 2662.6,830.6 2665.1,843.6 2667.7,855.4 2670.3,865.2 2672.8,875.6 2675.4,888.4 2678.0,901.6 2680.5,913.1 2683.1,925.9 2685.7,938.7 2688.2,952.0 2690.8,965.3 2693.4,975.8 2695.9,988.5 2698.5,999.2 2701.1,1009.5 2703.6,1020.4 2706.2,1030.3 2708.8,1040.7 2711.3,1050.5 2713.9,1057.9 2716.5,1068.3 2719.0,1077.0 2721.6,1084.0 2724.2,1092.6 2726.7,1099.3 2729.3,1107.0 2731.9,1113.9 2734.4,1121.1 2737.0,1127.9 2739.6,1134.7 2742.1,1142.4 2744.7,1148.9 2747.3,1156.3 2749.8,1164.1 2752.4,1168.3 2755.0,1173.5 2757.5,1178.4 2760.1,1182.1 2762.7,1186.6 2765.2,1190.6 2767.8,1194.6 2770.3,1200.2 2772.9,1204.6 2775.5,1208.7 2778.0,1212.7 2780.6,1216.5 2783.2,1219.8 2785.7,1222.7 2788.3,1226.2 2790.9,1228.3 2793.4,1231.7 2796.0,1233.8 2798.6,1236.4 2801.1,1237.9 2803.7,1239.8 2806.3,1241.1 2808.8,1243.3 2811.4,1244.6 2814.0,1245.9 2816.5,1247.0 2819.1,1248.1 2821.7,1248.8 2824.2,1249.5 2826.8,1251.0 2829.4,1251.1 2831.9,1251.1 2834.5,1252.2 2837.1,1253.6 2839.6,1256.0 2842.2,1256.5 2844.8,1256.9 2847.3,1257.5 2849.9,1260.1 2852.5,1260.4 2855.0,1260.4 2857.6,1260.1 2860.2,1261.3 2862.7,1261.1 2865.3,1262.6 2867.9,1261.9 2870.4,1262.3 2873.0,1263.2 2875.6,1263.4 2878.1,1262.9 2880.7,1263.5 2883.3,1263.3 2885.8,1263.7 2888.4,1263.4 2890.9,1263.9 2893.5,1263.4 2896.1,1265.2 2898.6,1265.6 2901.2,1266.5 2903.8,1265.7 2906.3,1266.1 2908.9,1266.2 2911.5,1267.0 2914.0,1265.1 2916.6,1264.7 2919.2,1263.8 2921.7,1265.0 2924.3,1265.9 2926.9,1265.0 2929.4,1263.8 2932.0,1264.7 2934.6,1264.4 2937.1,1264.7 2939.7,1261.4 2942.3,1258.0 2944.8,1255.8 2947.4,1256.6 2950.0,1257.2 2952.5,1259.1 2955.1,1260.3 2957.7,1263.7 2960.2,1264.7 2962.8,1265.6 2965.4,1265.5 2967.9,1266.4 2970.5,1267.9 2973.1,1269.6 2975.6,1268.9 2978.2,1270.3 2980.8,1270.8 2983.3,1270.5 2985.9,1271.3 2988.5,1270.7 2991.0,1270.3 2993.6,1271.0" stroke="#10f010"/>
<polyline points="2057.0,1197.2 2059.6,1196.1 2062.1,1195.3 2064.7,1194.3 2067.3,1193.8 2069.8,1193.8 2072.4,1194.3 2075.0,1196.3 2077.5,1196.8 2080.1,1198.9 2082.7,1201.0 2085.2,1202.4 2087.8,1203.5 2090.4,1205.4 2092.9,1206.7 2095.5,1208.9 2098.1,1208.9 2100.6,1209.9 2103.2,1211.9 2105.8,1212.1 2108.3,1213.5 2110.9,1214.4 2113.5,1215.3 2116.0,1216.6 2118.6,1217.5 2121.2,1218.4 2123.7,1220.0 2126.3,1219.8 2128.8,1220.2 2131.4,1221.5 2134.0,1221.3 2136.5,1221.8 2139.1,1221.8 2141.7,1221.8 2144.2,1222.2 2146.8,1221.8 2149.4,1219.8 2151.9,1219.5 2154.5,1218.0 2157.1,1217.1 2159.6,1216.1 2162.2,1215.0 2164.8,1213.6 2167.3,1212.3 2169.9,1211.2 2172.5,1210.9 2175.0,1209.4 2177.6,1207.9 2180.2,1205.3 2182.7,1203.6 2185.3,1202.2 2187.9,1200.8 2190.4,1197.1 2193.0,1195.3 2195.6,1193.8 2198.1,1192.0 2200.7,1190.3 2203.3,1186.7 2205.8,1183.0 2208.4,1180.6 2211.0,1177.2 2213.5,1173.3 2216.1,1169.0 2218.7,1163.6 2221.2,1158.5 2223.8,1153.8 2226.4,1150.7 2228.9,1145.5 2231.5,1140.8 2234.1,1135.7 2236.6,1131.0 2239.2,1126.6 2241.8,1121.3 2244.3,1113.3 2246.9,1105.6 2249.4,1098.5 2252.0,1093.0 2254.6,1085.9 2257.1,1077.3 2259.7,1068.9 2262.3,1061.2 2264.8,1054.2 2267.4,1043.7 2270.0,1032.1 2272.5,1021.0 2275.1,1011.7 2277.7,1001.0 2280.2,989.9 2282.8,977.7 2285.4,966.6 2287.9,957.7 2290.5,948.6 2293.1,938.6 2295.6,929.1 2298.2,920.8 2300.8,912.6 2303.3,904.9 2305.9,894.7 2308.5,885.0 2311.0,876.4 2313.6,867.2 2316.2,857.0 2318.7,848.0 2321.3,839.6 2323.9,832.4 2326.4,825.3 2329.0,817.8 2331.6,811.8 2334.1,805.2 2336.7,799.1 2339.3,793.1 2341.8,786.0 2344.4,781.1 2347.0,776.2 2349.5,771.5 2352.1,766.2 2354.7,762.1 2357.2,757.2 2359.8,753.5 2362.4,747.3 2364.9,742.4 2367.5,738.2 2370.1,735.2 2372.6,730.8 2375.2,726.7 2377.8,723.1 2380.3,720.0 2382.9,717.6 2385.4,714.8 2388.0,711.2 2390.6,707.4 2393.1,705.6 2395.7,700.3 2398.3,697.7 2400.8,693.1 2403.4,688.3 2406.0,686.7 2408.5,683.6 2411.1,680.8 2413.7,678.9 2416.2,673.5 2418.8,668.4 2421.4,663.8 2423.9,659.4 2426.5,655.3 2429.1,647.6 2431.6,642.8 2434.2,637.0 2436.8,635.1 2439.3,632.0 2441.9,627.2 2444.5,622.7 2447.0,618.4 2449.6,615.2 2452.2,611.9 2454.7,606.3 2457.3,600.5 2459.9,594.9 2462.4,590.0 2465.0,584.4 2467.6,580.2 2470.1,575.7 2472.7,570.0 2475.3,566.0 2477.8,559.6 2480.4,559.0 2483.0,558.1 2485.5,554.5 2488.1,552.6 2490.7,551.7 2493.2,549.3 2495.8,550.0 2498.4,543.2 2500.9,542.4 2503.5,537.8 2506.1,535.7 2508.6,536.0 2511.2,537.3 2513.7,537.5 2516.3,539.2 2518.9,537.2 2521.4,537.5 2524.0,537.6 2526.6,538.8 2529.1,541.7 2531.7,542.4 2534.3,545.6 2536.8,548.8 2539.4,554.1 2542.0,555.9 2544.5,561.1 2547.1,563.5 2549.7,567.1 2552.2,572.6 2554.8,580.3 2557.4,584.8 2559.9,597.4 2562.5,604.7 2565.1,613.5 2567.6,621.9 2570.2,627.0 2572.8,632.3 2575.3,637.7 2577.9,641.4 2580.5,645.3 2583.0,650.0 2585.6,654.7 2588.2,661.1 2590.7,667.0 2593.3,673.1 2595.9,677.2 2598.4,681.9 2601.0,688.8 2603.6,697.1 2606.1,703.4 2608.7,709.5 2611.3,718.0 2613.8,726.1 2616.4,733.3 2619.0,740.1 2621.5,746.1 2624.1,754.1 2626.7,762.6 2629.2,771.3 2631.8,779.5 2634.3,789.3 2636.9,798.8 2639.5,808.6 2642.0,818.0 2644.6,827.0 2647.2,836.8 2649.7,846.3 2652.3,856.2 2654.9,866.6 2657.4,878.1 2660.0,889.6 2662.6,899.9 2665.1,910.5 2667.7,921.8 2670.3,932.4 2672.8,940.7 2675.4,948.3 2678.0,957.8 2680.5,967.1 2683.1,976.8 2685.7,986.3 2688.2,996.9 2690.8,1008.9 2693.4,1020.1 2695.9,1028.7 2698.5,1040.3 2701.1,1049.6 2703.6,1059.0 2706.2,1067.0 2708.8,1075.2 2711.3,1084.1 2713.9,1092.2 2716.5,1097.8 2719.0,1105.1 2721.6,1111.8 2724.2,1118.8 2726.7,1124.5 2729.3,1130.8 2731.9,1137.8 2734.4,1145.3 2737.0,1151.2 2739.6,1156.9 2742.1,1162.5 2744.7,1167.8 2747.3,1173.2 2749.8,1177.6 2752.4,1183.8 2755.0,1189.1 2757.5,1194.1 2760.1,1199.3 2762.7,1203.5 2765.2,1207.1 2767.8,1211.9 2770.3,1214.0 2772.9,1217.7 2775.5,1221.5 2778.0,1224.1 2780.6,1228.3 2783.2,1230.8 2785.7,1233.4 2788.3,1235.4 2790.9,1236.9 2793.4,1238.3 2796.0,1240.5 2798.6,1241.8 2801.1,1244.3 2803.7,1245.6 2806.3,1247.0 2808.8,1248.8 2811.4,1250.4 2814.0,1251.2 2816.5,1251.9 2819.1,1252.8 2821.7,1254.1 2824.2,1255.8 2826.8,1256.2 2829.4,1256.6 2831.9,1257.7 2834.5,1258.8 2837.1,1259.0 2839.6,1259.3 2842.2,1259.8 2844.8,1260.0 2847.3,1260.3 2849.9,1260.1 2852.5,1260.1 2855.0,1261.0 2857.6,1261.3 2860.2,1261.3 2862.7,1261.9 2865.3,1263.4 2867.9,1263.9 2870.4,1264.4 2873.0,1264.2 2875.6,1264.7 2878.1,1265.0 2880.7,1266.1 2883.3,1266.1 2885.8,1267.6 2888.4,1268.0 2890.9,1267.6 2893.5,1266.8 2896.1,1267.4 2898.6,1266.3 2901.2,1265.2 2903.8,1264.0 2906.3,1264.9 2908.9,1265.0 2911.5,1266.0 2914.0,1265.8 2916.6,1265.3 2919.2,1265.7 2921.7,1265.3 2924.3,1263.7 2926.9,1264.4 2929.4,1264.7 2932.0,1264.2 2934.6,1265.0 2937.1,1264.6 2939.7,1263.0 2942.3,1261.6 2944.8,1259.2 2947.4,1258.0 2950.0,1259.0 2952.5,1260.5 2955.1,1262.5 2957.7,1264.5 2960.2,1266.2 2962.8,1266.7 2965.4,1267.7 2967.9,1267.2 2970.5,1268.0 2973.1,1268.7 2975.6,1268.6 2978.2,1268.5 2980.8,1269.7 2983.3,1270.0 2985.9,1271.1 2988.5,1270.9 2991.0,1271.0 2993.6,1271.7" stroke="#2020ff"/>
<polyline points="2057.0,1209.2 2059.6,1208.1 2062.1,1206.7 2064.7,1206.6 2067.3,1204.7 2069.8,1205.2 2072.4,1204.9 2075.0,1204.3 2077.5,1205.0 2080.1,1206.7 2082.7,1207.2 2085.2,1209.7 2087.8,1212.2 2090.4,1213.8 2092.9,1216.1 2095.5,1217.8 2098.1,1218.6 2100.6,1219.6 2103.2,1220.8 2105.8,1220.6 2108.3,1221.0 2110.9,1222.6 2113.5,1223.4 2116.0,1224.7 2118.6,1225.4 2121.2,1226.4 2123.7,1226.3 2126.3,1227.6 2128.8,1226.2 2131.4,1225.6 2134.0,1225.3 2136.5,1226.1 2139.1,1226.2 2141.7,1226.9 2144.2,1225.5 2146.8,1225.3 2149.4,1225.7 2151.9,1223.9 2154.5,1222.5 2157.1,1222.3 2159.6,1220.2 2162.2,1219.4 2164.8,1218.9 2167.3,1217.8 2169.9,1217.3 2172.5,1216.5 2175.0,1214.5 2177.6,1213.8 2180.2,1213.2 2182.7,1212.2 2185.3,1210.9 2187.9,1209.6 2190.4,1208.9 2193.0,1207.0 2195.6,1205.3 2198.1,1203.2 2200.7,1201.0 2203.3,1198.0 2205.8,1195.5 2208.4,1192.2 2211.0,1189.6 2213.5,1186.6 2216.1,1184.4 2218.7,1181.5 2221.2,1177.5 2223.8,1173.9 2226.4,1170.1 2228.9,1166.1 2231.5,1162.3 2234.1,1156.8 2236.6,1151.4 2239.2,1149.1 2241.8,1145.0 2244.3,1138.6 2246.9,1132.7 2249.4,1127.7 2252.0,1123.5 2254.6,1118.0 2257.1,1110.7 2259.7,1104.2 2262.3,1099.2 2264.8,1092.9 2267.4,1084.8 2270.0,1075.9 2272.5,1068.6 2275.1,1060.8 2277.7,1053.1 2280.2,1043.3 2282.8,1036.4 2285.4,1027.8 2287.9,1018.6 2290.5,1010.2 2293.1,1001.5 2295.6,992.5 2298.2,984.8 2300.8,976.7 2303.3,970.1 2305.9,964.2 2308.5,957.0 2311.0,949.7 2313.6,943.5 2316.2,936.8 2318.7,931.3 2321.3,924.2 2323.9,917.8 2326.4,912.1 2329.0,906.8 2331.6,900.9 2334.1,896.6 2336.7,890.3 2339.3,886.1 2341.8,882.5 2344.4,878.9 2347.0,875.5 2349.5,872.6 2352.1,868.5 2354.7,863.6 2357.2,859.8 2359.8,854.3 2362.4,849.8 2364.9,846.3 2367.5,843.0 2370.1,840.9 2372.6,838.9 2375.2,835.0 2377.8,834.7 2380.3,831.2 2382.9,827.7 2385.4,823.4 2388.0,820.1 2390.6,816.3 2393.1,815.1 2395.7,810.5 2398.3,810.0 2400.8,806.8 2403.4,804.1 2406.0,802.4 2408.5,799.5 2411.1,797.2 2413.7,793.9 2416.2,789.1 2418.8,785.7 2421.4,782.8 2423.9,779.2 2426.5,775.1 2429.1,769.5 2431.6,767.9 2434.2,763.9 2436.8,760.7 2439.3,758.2 2441.9,754.7 2444.5,751.6 2447.0,750.0 2449.6,744.9 2452.2,740.6 2454.7,737.6 2457.3,734.9 2459.9,729.8 2462.4,729.4 2465.0,726.8 2467.6,721.7 2470.1,721.4 2472.7,718.5 2475.3,715.8 2477.8,714.2 2480.4,710.0 2483.0,709.3 2485.5,710.7 2488.1,707.3 2490.7,705.0 2493.2,702.2 2495.8,701.7 2498.4,700.1 2500.9,696.7 2503.5,695.6 2506.1,695.3 2508.6,693.1 2511.2,693.8 2513.7,691.6 2516.3,691.9 2518.9,693.5 2521.4,694.7 2524.0,696.4 2526.6,701.1 2529.1,702.1 2531.7,706.6 2534.3,710.4 2536.8,710.5 2539.4,712.4 2542.0,716.4 2544.5,719.9 2547.1,722.9 2549.7,727.6 2552.2,733.5 2554.8,739.2 2557.4,743.1 2559.9,747.1 2562.5,754.3 2565.1,763.9 2567.6,767.8 2570.2,772.0 2572.8,777.5 2575.3,784.6 2577.9,789.2 2580.5,792.8 2583.0,796.0 2585.6,801.8 2588.2,807.5 2590.7,812.5 2593.3,817.1 2595.9,825.2 2598.4,831.0 2601.0,836.6 2603.6,842.9 2606.1,846.3 2608.7,850.4 2611.3,855.1 2613.8,859.7 2616.4,865.5 2619.0,869.3 2621.5,873.9 2624.1,880.3 2626.7,888.7 2629.2,897.4 2631.8,901.4 2634.3,907.8 2636.9,916.1 2639.5,924.4 2642.0,930.8 2644.6,937.8 2647.2,944.1 2649.7,953.5 2652.3,960.9 2654.9,967.6 2657.4,976.1 2660.0,984.8 2662.6,993.1 2665.1,1001.3 2667.7,1009.7 2670.3,1017.3 2672.8,1027.0 2675.4,1033.9 2678.0,1041.8 2680.5,1049.7 2683.1,1057.7 2685.7,1064.9 2688.2,1073.0 2690.8,1080.0 2693.4,1087.0 2695.9,1095.1 2698.5,1101.1 2701.1,1108.0 2703.6,1115.7 2706.2,1121.8 2708.8,1128.5 2711.3,1135.1 2713.9,1140.5 2716.5,1146.2 2719.0,1151.2 2721.6,1155.8 2724.2,1161.2 2726.7,1165.0 2729.3,1169.5 2731.9,1173.8 2734.4,1177.9 2737.0,1182.1 2739.6,1186.3 2742.1,1190.7 2744.7,1195.2 2747.3,1199.4 2749.8,1203.7 2752.4,1208.2 2755.0,1211.2 2757.5,1213.9 2760.1,1216.7 2762.7,1219.3 2765.2,1222.3 2767.8,1223.6 2770.3,1225.0 2772.9,1227.9 2775.5,1230.6 2778.0,1232.9 2780.6,1235.0 2783.2,1236.9 2785.7,1240.7 2788.3,1243.4 2790.9,1245.5 2793.4,1247.1 2796.0,1249.1 2798.6,1251.3 2801.1,1251.9 2803.7,1251.8 2806.3,1253.5 2808.8,1254.4 2811.4,1255.5 2814.0,1256.3 2816.5,1257.7 2819.1,1259.0 2821.7,1261.5 2824.2,1261.9 2826.8,1262.4 2829.4,1263.0 2831.9,1263.8 2834.5,1263.8 2837.1,1264.0 2839.6,1262.8 2842.2,1263.0 2844.8,1263.0 2847.3,1264.0 2849.9,1263.4 2852.5,1263.3 2855.0,1264.1 2857.6,1264.4 2860.2,1265.4 2862.7,1265.1 2865.3,1265.1 2867.9,1265.9 2870.4,1266.3 2873.0,1266.9 2875.6,1267.9 2878.1,1267.7 2880.7,1269.4 2883.3,1269.7 2885.8,1270.1 2888.4,1270.4 2890.9,1269.4 2893.5,1269.4 2896.1,1269.6 2898.6,1268.9 2901.2,1269.1 2903.8,1268.4 2906.3,1268.5 2908.9,1269.4 2911.5,1270.0 2914.0,1270.3 2916.6,1270.0 2919.2,1269.0 2921.7,1269.3 2924.3,1269.1 2926.9,1269.0 2929.4,1268.8 2932.0,1269.3 2934.6,1269.0 2937.1,1269.8 2939.7,1268.4 2942.3,1266.0 2944.8,1264.4 2947.4,1263.3 2950.0,1262.8 2952.5,1264.8 2955.1,1265.5 2957.7,1267.1 2960.2,1268.4 2962.8,1268.5 2965.4,1269.4 2967.9,1270.5 2970.5,1271.0 2973.1,1271.7 2975.6,1272.2 2978.2,1272.5 2980.8,1273.3 2983.3,1273.2 2985.9,1272.7 2988.5,1272.5 2991.0,1272.3 2993.6,1272.0" stroke="#10f0f0"/>
<polyline points="2057.0,1222.2 2059.6,1222.2 2062.1,1222.1 2064.7,1221.7 2067.3,1220.8 2069.8,1221.6 2072.4,1221.6 2075.0,1222.7 2077.5,1222.5 2080.1,1223.4 2082.7,1223.8 2085.2,1224.5 2087.8,1224.8 2090.4,1225.5 2092.9,1225.4 2095.5,1226.5 2098.1,1225.9 2100.6,1226.0 2103.2,1226.1 2105.8,1226.8 2108.3,1227.3 2110.9,1227.7 2113.5,1228.1 2116.0,1228.1 2118.6,1229.3 2121.2,1229.7 2123.7,1228.7 2126.3,1229.0 2128.8,1229.1 2131.4,1228.6 2134.0,1229.2 2136.5,1229.0 2139.1,1228.7 2141.7,1228.7 2144.2,1228.3 2146.8,1228.7 2149.4,1227.9 2151.9,1227.7 2154.5,1226.7 2157.1,1226.0 2159.6,1225.8 2162.2,1225.9 2164.8,1225.2 2167.3,1224.4 2169.9,1223.7 2172.5,1223.2 2175.0,1222.9 2177.6,1222.4 2180.2,1221.6 2182.7,1221.8 2185.3,1221.3 2187.9,1220.3 2190.4,1219.6 2193.0,1217.9 2195.6,1216.8 2198.1,1214.0 2200.7,1212.1 2203.3,1210.3 2205.8,1209.0 2208.4,1207.0 2211.0,1204.7 2213.5,1202.7 2216.1,1201.1 2218.7,1197.8 2221.2,1195.3 2223.8,1191.9 2226.4,1188.6 2228.9,1186.1 2231.5,1182.2 2234.1,1178.9 2236.6,1175.4 2239.2,1172.2 2241.8,1169.5 2244.3,1165.9 2246.9,1162.5 2249.4,1157.9 2252.0,1154.7 2254.6,1151.5 2257.1,1146.3 2259.7,1141.5 2262.3,1138.1 2264.8,1132.2 2267.4,1128.8 2270.0,1122.1 2272.5,1116.1 2275.1,1110.6 2277.7,1103.9 2280.2,1097.9 2282.8,1092.6 2285.4,1085.8 2287.9,1080.6 2290.5,1073.9 2293.1,1067.6 2295.6,1062.5 2298.2,1056.1 2300.8,1049.4 2303.3,1043.5 2305.9,1038.0 2308.5,1034.4 2311.0,1031.7 2313.6,1027.3 2316.2,1022.8 2318.7,1019.5 2321.3,1013.8 2323.9,1011.0 2326.4,1006.2 2329.0,1000.9 2331.6,996.4 2334.1,991.7 2336.7,988.6 2339.3,987.7 2341.8,981.7 2344.4,977.7 2347.0,975.7 2349.5,973.0 2352.1,970.8 2354.7,968.7 2357.2,964.5 2359.8,963.2 2362.4,961.2 2364.9,958.3 2367.5,954.3 2370.1,951.9 2372.6,949.1 2375.2,948.9 2377.8,947.6 2380.3,944.5 2382.9,940.6 2385.4,940.6 2388.0,939.9 2390.6,937.1 2393.1,933.4 2395.7,929.8 2398.3,928.9 2400.8,928.0 2403.4,926.5 2406.0,923.9 2408.5,922.4 2411.1,920.6 2413.7,918.8 2416.2,915.1 2418.8,914.1 2421.4,909.0 2423.9,906.4 2426.5,904.0 2429.1,900.4 2431.6,900.5 2434.2,900.4 2436.8,897.7 2439.3,896.9 2441.9,893.4 2444.5,890.1 2447.0,890.0 2449.6,885.6 2452.2,883.1 2454.7,879.6 2457.3,878.4 2459.9,876.9 2462.4,877.2 2465.0,874.3 2467.6,874.6 2470.1,872.7 2472.7,874.0 2475.3,872.6 2477.8,873.0 2480.4,871.9 2483.0,871.4 2485.5,868.7 2488.1,868.0 2490.7,865.8 2493.2,864.6 2495.8,862.6 2498.4,860.6 2500.9,860.2 2503.5,858.9 2506.1,859.5 2508.6,859.3 2511.2,861.3 2513.7,860.9 2516.3,862.9 2518.9,864.3 2521.4,866.3 2524.0,867.8 2526.6,871.2 2529.1,874.0 2531.7,878.6 2534.3,879.1 2536.8,881.6 2539.4,883.8 2542.0,885.9 2544.5,888.8 2547.1,892.0 2549.7,895.9 2552.2,901.2 2554.8,905.9 2557.4,911.7 2559.9,916.4 2562.5,920.9 2565.1,925.5 2567.6,930.1 2570.2,934.4 2572.8,939.1 2575.3,944.1 2577.9,949.4 2580.5,953.3 2583.0,956.2 2585.6,959.9 2588.2,965.1 2590.7,968.2 2593.3,971.6 2595.9,975.3 2598.4,980.1 2601.0,984.4 2603.6,988.3 2606.1,990.8 2608.7,994.1 2611.3,997.1 2613.8,999.9 2616.4,1003.1 2619.0,1005.5 2621.5,1008.4 2624.1,1012.2 2626.7,1017.1 2629.2,1021.8 2631.8,1027.1 2634.3,1032.2 2636.9,1038.2 2639.5,1045.1 2642.0,1052.2 2644.6,1056.9 2647.2,1062.0 2649.7,1066.7 2652.3,1071.7 2654.9,1077.1 2657.4,1081.5 2660.0,1086.3 2662.6,1093.5 2665.1,1098.1 2667.7,1103.3 2670.3,1107.7 2672.8,1112.9 2675.4,1118.9 2678.0,1123.8 2680.5,1127.7 2683.1,1135.0 2685.7,1141.1 2688.2,1146.6 2690.8,1150.7 2693.4,1154.7 2695.9,1159.6 2698.5,1164.8 2701.1,1167.1 2703.6,1170.9 2706.2,1174.7 2708.8,1179.3 2711.3,1184.0 2713.9,1186.3 2716.5,1188.7 2719.0,1192.4 2721.6,1196.1 2724.2,1199.5 2726.7,1201.8 2729.3,1204.1 2731.9,1208.4 2734.4,1212.0 2737.0,1216.0 2739.6,1217.7 2742.1,1220.2 2744.7,1224.2 2747.3,1225.6 2749.8,1226.8 2752.4,1227.9 2755.0,1230.1 2757.5,1232.4 2760.1,1233.7 2762.7,1235.3 2765.2,1238.2 2767.8,1240.8 2770.3,1244.1 2772.9,1244.9 2775.5,1246.2 2778.0,1248.1 2780.6,1248.5 2783.2,1249.5 2785.7,1250.8 2788.3,1251.3 2790.9,1252.9 2793.4,1254.9 2796.0,1256.6 2798.6,1258.4 2801.1,1259.6 2803.7,1260.5 2806.3,1261.2 2808.8,1261.4 2811.4,1261.8 2814.0,1263.1 2816.5,1264.1 2819.1,1263.5 2821.7,1263.7 2824.2,1264.4 2826.8,1265.2 2829.4,1265.3 2831.9,1264.9 2834.5,1264.7 2837.1,1265.6 2839.6,1265.7 2842.2,1266.0 2844.8,1266.3 2847.3,1266.7 2849.9,1266.7 2852.5,1266.6 2855.0,1267.4 2857.6,1267.2 2860.2,1267.0 2862.7,1266.6 2865.3,1267.1 2867.9,1267.4 2870.4,1268.3 2873.0,1268.1 2875.6,1270.2 2878.1,1270.3 2880.7,1271.7 2883.3,1271.2 2885.8,1270.7 2888.4,1270.6 2890.9,1270.8 2893.5,1270.0 2896.1,1270.4 2898.6,1269.6 2901.2,1269.5 2903.8,1269.7 2906.3,1269.1 2908.9,1269.0 2911.5,1269.2 2914.0,1269.4 2916.6,1270.1 2919.2,1270.7 2921.7,1271.3 2924.3,1271.2 2926.9,1271.1 2929.4,1270.1 2932.0,1270.8 2934.6,1270.1 2937.1,1269.4 2939.7,1268.4 2942.3,1268.4 2944.8,1267.7 2947.4,1268.1 2950.0,1267.5 2952.5,1268.1 2955.1,1268.9 2957.7,1269.7 2960.2,1270.0 2962.8,1270.3 2965.4,1270.4 2967.9,1271.0 2970.5,1271.1 2973.1,1271.9 2975.6,1271.8 2978.2,1272.3 2980.8,1272.5 2983.3,1272.9 2985.9,1273.1 2988.5,1273.5 2991.0,1273.4 2993.6,1273.9" stroke="#ff20f0"/>
<polyline points="2057.0,1233.2 2059.6,1233.2 2062.1,1233.0 2064.7,1232.3 2067.3,1231.6 2069.8,1231.7 2072.4,1230.9 2075.0,1231.5 2077.5,1231.9 2080.1,1231.8 2082.7,1232.0 2085.2,1233.3 2087.8,1233.3 2090.4,1234.8 2092.9,1236.1 2095.5,1235.8 2098.1,1236.8 2100.6,1237.5 2103.2,1238.1 2105.8,1238.4 2108.3,1237.6 2110.9,1237.4 2113.5,1237.7 2116.0,1237.2 2118.6,1236.6 2121.2,1236.4 2123.7,1236.9 2126.3,1237.6 2128.8,1236.0 2131.4,1236.3 2134.0,1236.1 2136.5,1236.6 2139.1,1237.0 2141.7,1236.9 2144.2,1237.4 2146.8,1238.5 2149.4,1237.6 2151.9,1237.3 2154.5,1238.1 2157.1,1236.6 2159.6,1236.5 2162.2,1235.8 2164.8,1234.3 2167.3,1234.0 2169.9,1233.8 2172.5,1231.9 2175.0,1232.3 2177.6,1231.1 2180.2,1230.5 2182.7,1230.8 2185.3,1230.4 2187.9,1229.1 2190.4,1229.3 2193.0,1228.4 2195.6,1228.6 2198.1,1228.0 2200.7,1226.4 2203.3,1225.3 2205.8,1224.6 2208.4,1222.5 2211.0,1221.0 2213.5,1218.2 2216.1,1215.8 2218.7,1215.3 2221.2,1213.0 2223.8,1210.2 2226.4,1207.9 2228.9,1205.7 2231.5,1203.6 2234.1,1201.2 2236.6,1197.2 2239.2,1194.7 2241.8,1193.4 2244.3,1191.7 2246.9,1189.5 2249.4,1187.5 2252.0,1185.5 2254.6,1183.7 2257.1,1182.8 2259.7,1179.4 2262.3,1176.5 2264.8,1173.9 2267.4,1170.2 2270.0,1166.8 2272.5,1162.3 2275.1,1157.9 2277.7,1154.2 2280.2,1149.9 2282.8,1145.7 2285.4,1142.5 2287.9,1138.0 2290.5,1135.2 2293.1,1131.4 2295.6,1128.8 2298.2,1125.1 2300.8,1120.3 2303.3,1116.6 2305.9,1113.3 2308.5,1109.3 2311.0,1105.1 2313.6,1101.6 2316.2,1098.8 2318.7,1096.5 2321.3,1091.8 2323.9,1089.3 2326.4,1086.7 2329.0,1084.2 2331.6,1080.9 2334.1,1079.3 2336.7,1077.1 2339.3,1075.3 2341.8,1073.4 2344.4,1071.6 2347.0,1070.3 2349.5,1068.4 2352.1,1065.4 2354.7,1063.1 2357.2,1062.3 2359.8,1060.4 2362.4,1059.0 2364.9,1056.5 2367.5,1054.8 2370.1,1051.8 2372.6,1050.9 2375.2,1048.5 2377.8,1046.9 2380.3,1045.1 2382.9,1043.0 2385.4,1041.2 2388.0,1040.7 2390.6,1039.6 2393.1,1036.9 2395.7,1033.7 2398.3,1032.4 2400.8,1032.6 2403.4,1032.0 2406.0,1030.9 2408.5,1029.4 2411.1,1029.6 2413.7,1030.0 2416.2,1026.3 2418.8,1024.2 2421.4,1022.6 2423.9,1020.0 2426.5,1017.8 2429.1,1016.7 2431.6,1015.0 2434.2,1015.2 2436.8,1014.2 2439.3,1012.8 2441.9,1013.5 2444.5,1013.8 2447.0,1013.3 2449.6,1012.6 2452.2,1011.4 2454.7,1010.6 2457.3,1010.5 2459.9,1009.8 2462.4,1008.2 2465.0,1009.3 2467.6,1009.5 2470.1,1012.0 2472.7,1013.3 2475.3,1013.6 2477.8,1013.8 2480.4,1014.3 2483.0,1012.8 2485.5,1011.9 2488.1,1010.4 2490.7,1009.3 2493.2,1009.5 2495.8,1008.5 2498.4,1008.2 2500.9,1009.1 2503.5,1011.0 2506.1,1011.5 2508.6,1012.1 2511.2,1013.2 2513.7,1015.0 2516.3,1018.0 2518.9,1019.3 2521.4,1020.0 2524.0,1022.8 2526.6,1025.3 2529.1,1027.2 2531.7,1030.3 2534.3,1032.9 2536.8,1035.2 2539.4,1038.0 2542.0,1039.8 2544.5,1041.9 2547.1,1043.9 2549.7,1046.8 2552.2,1048.7 2554.8,1050.5 2557.4,1053.3 2559.9,1056.7 2562.5,1060.6 2565.1,1063.8 2567.6,1066.2 2570.2,1069.4 2572.8,1073.4 2575.3,1077.1 2577.9,1080.3 2580.5,1082.1 2583.0,1086.6 2585.6,1089.8 2588.2,1093.3 2590.7,1096.9 2593.3,1099.2 2595.9,1102.7 2598.4,1107.0 2601.0,1109.4 2603.6,1112.6 2606.1,1114.2 2608.7,1115.4 2611.3,1118.5 2613.8,1119.5 2616.4,1121.9 2619.0,1122.4 2621.5,1124.6 2624.1,1127.6 2626.7,1130.7 2629.2,1133.0 2631.8,1136.4 2634.3,1139.7 2636.9,1143.6 2639.5,1146.3 2642.0,1149.7 2644.6,1154.0 2647.2,1157.5 2649.7,1160.4 2652.3,1164.1 2654.9,1168.8 2657.4,1172.7 2660.0,1176.6 2662.6,1179.7 2665.1,1183.3 2667.7,1186.8 2670.3,1188.7 2672.8,1190.7 2675.4,1193.2 2678.0,1196.0 2680.5,1199.9 2683.1,1202.5 2685.7,1205.5 2688.2,1208.4 2690.8,1211.8 2693.4,1213.9 2695.9,1216.8 2698.5,1217.5 2701.1,1219.6 2703.6,1221.4 2706.2,1222.9 2708.8,1224.1 2711.3,1226.6 2713.9,1227.7 2716.5,1229.3 2719.0,1231.0 2721.6,1232.5 2724.2,1235.1 2726.7,1237.4 2729.3,1238.9 2731.9,1239.8 2734.4,1242.1 2737.0,1244.0 2739.6,1245.7 2742.1,1246.2 2744.7,1246.4 2747.3,1247.1 2749.8,1248.4 2752.4,1248.5 2755.0,1248.5 2757.5,1249.4 2760.1,1249.4 2762.7,1250.6 2765.2,1252.0 2767.8,1253.7 2770.3,1254.8 2772.9,1256.5 2775.5,1257.6 2778.0,1259.4 2780.6,1260.5 2783.2,1261.3 2785.7,1262.2 2788.3,1263.1 2790.9,1263.0 2793.4,1263.3 2796.0,1263.9 2798.6,1264.4 2801.1,1265.7 2803.7,1264.7 2806.3,1264.6 2808.8,1265.2 2811.4,1265.7 2814.0,1265.8 2816.5,1265.9 2819.1,1265.4 2821.7,1266.0 2824.2,1267.1 2826.8,1267.1 2829.4,1267.3 2831.9,1267.6 2834.5,1268.3 2837.1,1269.3 2839.6,1270.0 2842.2,1269.6 2844.8,1269.9 2847.3,1270.0 2849.9,1270.5 2852.5,1269.8 2855.0,1269.5 2857.6,1269.4 2860.2,1269.6 2862.7,1270.6 2865.3,1270.7 2867.9,1271.4 2870.4,1272.1 2873.0,1271.9 2875.6,1272.3 2878.1,1272.4 2880.7,1272.1 2883.3,1272.4 2885.8,1271.2 2888.4,1270.8 2890.9,1271.4 2893.5,1271.4 2896.1,1271.6 2898.6,1272.5 2901.2,1272.0 2903.8,1272.7 2906.3,1273.7 2908.9,1274.0 2911.5,1273.2 2914.0,1273.3 2916.6,1271.7 2919.2,1272.3 2921.7,1272.1 2924.3,1270.6 2926.9,1269.3 2929.4,1270.4 2932.0,1270.2 2934.6,1271.6 2937.1,1271.8 2939.7,1272.6 2942.3,1272.9 2944.8,1274.1 2947.4,1273.9 2950.0,1273.6 2952.5,1273.0 2955.1,1273.1 2957.7,1273.5 2960.2,1273.8 2962.8,1274.4 2965.4,1274.4 2967.9,1274.4 2970.5,1274.4 2973.1,1274.4 2975.6,1274.3 2978.2,1274.4 2980.8,1273.9 2983.3,1273.5 2985.9,1273.1 2988.5,1273.5 2991.0,1273.6 2993.6,1273.9" stroke="#ffff10"/>
<polyline points="2057.0,1247.6 2059.6,1248.0 2062.1,1248.7 2064.7,1248.5 2067.3,1248.6 2069.8,1249.3 2072.4,1250.1 2075.0,1249.0 2077.5,1248.1 2080.1,1247.2 2082.7,1247.3 2085.2,1246.8 2087.8,1246.2 2090.4,1245.4 2092.9,1245.8 2095.5,1246.6 2098.1,1247.1 2100.6,1246.9 2103.2,1246.3 2105.8,1246.6 2108.3,1247.2 2110.9,1246.6 2113.5,1245.7 2116.0,1245.7 2118.6,1246.0 2121.2,1246.9 2123.7,1246.3 2126.3,1244.3 2128.8,1244.9 2131.4,1245.0 2134.0,1244.8 2136.5,1244.4 2139.1,1243.8 2141.7,1243.7 2144.2,1245.5 2146.8,1245.5 2149.4,1245.0 2151.9,1244.6 2154.5,1244.4 2157.1,1244.2 2159.6,1244.5 2162.2,1243.3 2164.8,1243.1 2167.3,1243.8 2169.9,1244.2 2172.5,1244.2 2175.0,1243.0 2177.6,1242.5 2180.2,1242.7 2182.7,1241.3 2185.3,1240.6 2187.9,1240.4 2190.4,1240.1 2193.0,1240.9 2195.6,1241.1 2198.1,1240.7 2200.7,1240.6 2203.3,1238.7 2205.8,1236.8 2208.4,1235.5 2211.0,1234.6 2213.5,1233.2 2216.1,1232.9 2218.7,1232.0 2221.2,1233.0 2223.8,1232.3 2226.4,1230.5 2228.9,1229.2 2231.5,1227.5 2234.1,1225.9 2236.6,1225.5 2239.2,1223.1 2241.8,1221.9 2244.3,1221.3 2246.9,1219.8 2249.4,1218.5 2252.0,1217.1 2254.6,1214.5 2257.1,1212.6 2259.7,1211.2 2262.3,1209.9 2264.8,1207.7 2267.4,1206.0 2270.0,1204.0 2272.5,1203.1 2275.1,1201.9 2277.7,1198.9 2280.2,1196.9 2282.8,1195.6 2285.4,1194.3 2287.9,1192.3 2290.5,1189.5 2293.1,1187.3 2295.6,1186.5 2298.2,1185.1 2300.8,1182.1 2303.3,1179.8 2305.9,1178.6 2308.5,1177.1 2311.0,1175.5 2313.6,1173.1 2316.2,1170.9 2318.7,1170.8 2321.3,1169.2 2323.9,1168.1 2326.4,1167.2 2329.0,1165.4 2331.6,1164.6 2334.1,1163.5 2336.7,1162.4 2339.3,1162.0 2341.8,1159.9 2344.4,1158.2 2347.0,1156.7 2349.5,1156.1 2352.1,1155.0 2354.7,1153.7 2357.2,1152.5 2359.8,1150.5 2362.4,1148.7 2364.9,1148.6 2367.5,1147.8 2370.1,1146.7 2372.6,1145.2 2375.2,1144.0 2377.8,1145.0 2380.3,1143.8 2382.9,1143.7 2385.4,1141.4 2388.0,1141.0 2390.6,1140.7 2393.1,1138.9 2395.7,1137.8 2398.3,1138.3 2400.8,1136.8 2403.4,1136.0 2406.0,1134.4 2408.5,1133.4 2411.1,1134.0 2413.7,1132.0 2416.2,1131.3 2418.8,1130.4 2421.4,1131.5 2423.9,1131.5 2426.5,1130.6 2429.1,1129.5 2431.6,1129.3 2434.2,1127.9 2436.8,1126.8 2439.3,1125.7 2441.9,1126.3 2444.5,1127.8 2447.0,1127.8 2449.6,1129.2 2452.2,1129.8 2454.7,1132.2 2457.3,1131.5 2459.9,1130.9 2462.4,1130.8 2465.0,1130.9 2467.6,1130.0 2470.1,1130.5 2472.7,1129.8 2475.3,1130.6 2477.8,1131.0 2480.4,1130.9 2483.0,1131.6 2485.5,1133.4 2488.1,1133.9 2490.7,1135.4 2493.2,1136.6 2495.8,1138.3 2498.4,1138.3 2500.9,1139.0 2503.5,1139.7 2506.1,1140.9 2508.6,1141.4 2511.2,1142.0 2513.7,1142.6 2516.3,1144.5 2518.9,1146.1 2521.4,1147.9 2524.0,1149.2 2526.6,1150.2 2529.1,1152.6 2531.7,1153.9 2534.3,1154.8 2536.8,1155.8 2539.4,1155.7 2542.0,1157.0 2544.5,1159.2 2547.1,1159.0 2549.7,1161.0 2552.2,1163.6 2554.8,1165.1 2557.4,1168.0 2559.9,1169.9 2562.5,1172.0 2565.1,1174.4 2567.6,1175.7 2570.2,1177.6 2572.8,1180.0 2575.3,1181.2 2577.9,1183.6 2580.5,1184.8 2583.0,1187.3 2585.6,1190.2 2588.2,1192.2 2590.7,1194.1 2593.3,1195.9 2595.9,1197.0 2598.4,1198.5 2601.0,1199.5 2603.6,1200.7 2606.1,1200.6 2608.7,1202.4 2611.3,1203.5 2613.8,1205.1 2616.4,1206.6 2619.0,1207.1 2621.5,1207.8 2624.1,1210.4 2626.7,1211.0 2629.2,1212.8 2631.8,1213.2 2634.3,1214.9 2636.9,1217.4 2639.5,1219.5 2642.0,1221.0 2644.6,1222.6 2647.2,1223.7 2649.7,1225.9 2652.3,1227.5 2654.9,1229.7 2657.4,1231.0 2660.0,1232.8 2662.6,1234.2 2665.1,1237.1 2667.7,1239.1 2670.3,1241.1 2672.8,1242.7 2675.4,1245.0 2678.0,1246.6 2680.5,1248.3 2683.1,1249.2 2685.7,1251.1 2688.2,1252.2 2690.8,1253.3 2693.4,1253.8 2695.9,1253.8 2698.5,1254.9 2701.1,1255.5 2703.6,1255.8 2706.2,1255.6 2708.8,1256.2 2711.3,1256.5 2713.9,1257.9 2716.5,1258.9 2719.0,1259.1 2721.6,1259.5 2724.2,1260.3 2726.7,1260.8 2729.3,1261.2 2731.9,1260.1 2734.4,1259.8 2737.0,1260.1 2739.6,1260.6 2742.1,1260.3 2744.7,1260.4 2747.3,1259.6 2749.8,1260.8 2752.4,1261.3 2755.0,1261.3 2757.5,1262.1 2760.1,1263.2 2762.7,1263.7 2765.2,1265.4 2767.8,1265.1 2770.3,1265.8 2772.9,1265.6 2775.5,1265.1 2778.0,1264.4 2780.6,1264.4 2783.2,1265.3 2785.7,1267.0 2788.3,1266.3 2790.9,1267.9 2793.4,1268.5 2796.0,1269.4 2798.6,1269.1 2801.1,1268.2 2803.7,1267.7 2806.3,1268.5 2808.8,1268.1 2811.4,1268.9 2814.0,1269.5 2816.5,1270.8 2819.1,1271.9 2821.7,1272.8 2824.2,1272.6 2826.8,1273.3 2829.4,1272.2 2831.9,1272.1 2834.5,1271.6 2837.1,1271.5 2839.6,1270.6 2842.2,1270.8 2844.8,1270.9 2847.3,1271.7 2849.9,1272.0 2852.5,1272.4 2855.0,1272.7 2857.6,1272.8 2860.2,1273.5 2862.7,1273.9 2865.3,1273.7 2867.9,1273.5 2870.4,1274.0 2873.0,1274.1 2875.6,1274.4 2878.1,1274.4 2880.7,1274.4 2883.3,1274.4 2885.8,1274.4 2888.4,1274.4 2890.9,1274.3 2893.5,1273.5 2896.1,1273.2 2898.6,1273.0 2901.2,1272.7 2903.8,1271.4 2906.3,1271.7 2908.9,1272.2 2911.5,1272.0 2914.0,1271.4 2916.6,1271.6 2919.2,1272.0 2921.7,1273.0 2924.3,1273.7 2926.9,1273.3 2929.4,1274.2 2932.0,1274.4 2934.6,1274.4 2937.1,1274.4 2939.7,1274.2 2942.3,1273.4 2944.8,1274.2 2947.4,1274.2 2950.0,1274.4 2952.5,1274.4 2955.1,1274.4 2957.7,1274.4 2960.2,1274.4 2962.8,1274.4 2965.4,1274.4 2967.9,1274.4 2970.5,1274.4 2973.1,1274.4 2975.6,1274.4 2978.2,1274.4 2980.8,1274.4 2983.3,1274.4 2985.9,1274.1 2988.5,1274.0 2991.0,1274.4 2993.6,1274.4" stroke="#808010"/>
<polyline points="2057.0,1253.5 2059.6,1253.9 2062.1,1253.6 2064.7,1254.1 2067.3,1254.2 2069.8,1254.5 2072.4,1255.2 2075.0,1255.2 2077.5,1254.5 2080.1,1254.9 2082.7,1253.7 2085.2,1253.4 2087.8,1253.3 2090.4,1252.5 2092.9,1252.3 2095.5,1251.9 2098.1,1251.1 2100.6,1251.7 2103.2,1251.8 2105.8,1252.1 2108.3,1251.7 2110.9,1251.3 2113.5,1251.8 2116.0,1252.9 2118.6,1252.7 2121.2,1253.0 2123.7,1252.3 2126.3,1253.2 2128.8,1253.7 2131.4,1252.9 2134.0,1252.0 2136.5,1251.7 2139.1,1251.4 2141.7,1251.3 2144.2,1250.7 2146.8,1249.9 2149.4,1249.8 2151.9,1249.3 2154.5,1249.4 2157.1,1248.1 2159.6,1248.0 2162.2,1248.0 2164.8,1247.6 2167.3,1247.8 2169.9,1247.3 2172.5,1247.0 2175.0,1247.6 2177.6,1247.6 2180.2,1247.0 2182.7,1247.8 2185.3,1248.2 2187.9,1248.7 2190.4,1248.2 2193.0,1247.5 2195.6,1247.2 2198.1,1247.8 2200.7,1247.6 2203.3,1246.6 2205.8,1246.2 2208.4,1245.7 2211.0,1245.0 2213.5,1244.6 2216.1,1242.6 2218.7,1241.2 2221.2,1240.6 2223.8,1239.6 2226.4,1239.9 2228.9,1238.6 2231.5,1237.6 2234.1,1237.0 2236.6,1236.4 2239.2,1236.3 2241.8,1236.1 2244.3,1235.0 2246.9,1236.3 2249.4,1236.6 2252.0,1236.1 2254.6,1235.3 2257.1,1233.6 2259.7,1231.6 2262.3,1230.4 2264.8,1228.5 2267.4,1225.8 2270.0,1224.9 2272.5,1223.4 2275.1,1222.8 2277.7,1222.7 2280.2,1221.0 2282.8,1220.0 2285.4,1218.9 2287.9,1217.6 2290.5,1216.4 2293.1,1214.5 2295.6,1212.9 2298.2,1211.6 2300.8,1211.5 2303.3,1211.3 2305.9,1210.6 2308.5,1209.1 2311.0,1209.4 2313.6,1208.9 2316.2,1208.5 2318.7,1206.0 2321.3,1205.1 2323.9,1205.5 2326.4,1205.4 2329.0,1203.4 2331.6,1202.2 2334.1,1201.5 2336.7,1201.1 2339.3,1200.6 2341.8,1198.6 2344.4,1197.7 2347.0,1197.4 2349.5,1197.4 2352.1,1197.3 2354.7,1196.6 2357.2,1196.0 2359.8,1195.0 2362.4,1194.8 2364.9,1194.3 2367.5,1192.9 2370.1,1192.0 2372.6,1190.8 2375.2,1189.1 2377.8,1189.6 2380.3,1189.4 2382.9,1189.7 2385.4,1189.3 2388.0,1188.5 2390.6,1189.0 2393.1,1190.0 2395.7,1188.4 2398.3,1187.1 2400.8,1185.9 2403.4,1186.2 2406.0,1186.3 2408.5,1185.7 2411.1,1184.4 2413.7,1184.8 2416.2,1185.3 2418.8,1185.4 2421.4,1185.0 2423.9,1185.3 2426.5,1184.9 2429.1,1184.8 2431.6,1184.5 2434.2,1184.4 2436.8,1184.1 2439.3,1184.8 2441.9,1184.3 2444.5,1185.2 2447.0,1185.5 2449.6,1185.3 2452.2,1184.8 2454.7,1185.1 2457.3,1184.8 2459.9,1184.2 2462.4,1185.4 2465.0,1185.7 2467.6,1186.2 2470.1,1187.0 2472.7,1187.2 2475.3,1186.8 2477.8,1188.1 2480.4,1187.9 2483.0,1188.1 2485.5,1189.0 2488.1,1189.3 2490.7,1189.1 2493.2,1189.3 2495.8,1190.8 2498.4,1190.8 2500.9,1191.2 2503.5,1191.4 2506.1,1192.5 2508.6,1194.1 2511.2,1195.4 2513.7,1195.4 2516.3,1197.3 2518.9,1198.2 2521.4,1199.2 2524.0,1200.7 2526.6,1200.9 2529.1,1202.6 2531.7,1203.0 2534.3,1203.8 2536.8,1205.2 2539.4,1206.9 2542.0,1207.5 2544.5,1208.8 2547.1,1209.1 2549.7,1210.8 2552.2,1210.5 2554.8,1212.0 2557.4,1213.5 2559.9,1214.5 2562.5,1214.9 2565.1,1216.6 2567.6,1217.9 2570.2,1220.1 2572.8,1220.7 2575.3,1220.8 2577.9,1221.5 2580.5,1223.0 2583.0,1222.9 2585.6,1223.2 2588.2,1223.7 2590.7,1224.9 2593.3,1225.9 2595.9,1226.5 2598.4,1227.7 2601.0,1230.0 2603.6,1230.4 2606.1,1230.6 2608.7,1231.3 2611.3,1231.3 2613.8,1232.1 2616.4,1233.6 2619.0,1234.1 2621.5,1235.8 2624.1,1237.5 2626.7,1238.7 2629.2,1240.3 2631.8,1241.3 2634.3,1242.4 2636.9,1242.8 2639.5,1243.3 2642.0,1243.6 2644.6,1244.4 2647.2,1246.6 2649.7,1248.0 2652.3,1248.0 2654.9,1249.3 2657.4,1250.4 2660.0,1252.4 2662.6,1253.7 2665.1,1254.0 2667.7,1255.4 2670.3,1256.4 2672.8,1257.2 2675.4,1257.6 2678.0,1257.7 2680.5,1258.0 2683.1,1258.1 2685.7,1258.3 2688.2,1259.4 2690.8,1259.8 2693.4,1260.8 2695.9,1261.5 2698.5,1261.4 2701.1,1262.0 2703.6,1262.1 2706.2,1261.2 2708.8,1261.4 2711.3,1261.3 2713.9,1261.6 2716.5,1263.3 2719.0,1265.0 2721.6,1266.0 2724.2,1266.1 2726.7,1267.0 2729.3,1267.8 2731.9,1267.9 2734.4,1266.8 2737.0,1265.8 2739.6,1265.3 2742.1,1266.4 2744.7,1266.7 2747.3,1267.0 2749.8,1268.4 2752.4,1269.2 2755.0,1269.5 2757.5,1269.9 2760.1,1269.8 2762.7,1270.5 2765.2,1271.0 2767.8,1269.9 2770.3,1270.8 2772.9,1270.9 2775.5,1271.2 2778.0,1271.6 2780.6,1271.6 2783.2,1271.0 2785.7,1272.1 2788.3,1271.3 2790.9,1271.5 2793.4,1271.9 2796.0,1272.3 2798.6,1271.5 2801.1,1272.4 2803.7,1272.1 2806.3,1273.1 2808.8,1272.8 2811.4,1272.4 2814.0,1273.0 2816.5,1273.8 2819.1,1273.9 2821.7,1273.9 2824.2,1272.9 2826.8,1273.7 2829.4,1274.1 2831.9,1274.4 2834.5,1273.7 2837.1,1273.8 2839.6,1273.8 2842.2,1274.4 2844.8,1273.8 2847.3,1274.0 2849.9,1273.5 2852.5,1274.4 2855.0,1273.9 2857.6,1274.4 2860.2,1273.9 2862.7,1273.9 2865.3,1273.0 2867.9,1273.3 2870.4,1273.0 2873.0,1273.5 2875.6,1272.3 2878.1,1273.4 2880.7,1273.5 2883.3,1274.4 2885.8,1274.1 2888.4,1273.8 2890.9,1273.8 2893.5,1274.3 2896.1,1273.6 2898.6,1274.4 2901.2,1274.0 2903.8,1274.4 2906.3,1274.4 2908.9,1274.4 2911.5,1274.4 2914.0,1274.4 2916.6,1274.4 2919.2,1274.4 2921.7,1274.3 2924.3,1274.4 2926.9,1273.8 2929.4,1274.2 2932.0,1274.0 2934.6,1273.2 2937.1,1272.4 2939.7,1272.5 2942.3,1271.7 2944.8,1272.8 2947.4,1273.0 2950.0,1274.0 2952.5,1274.3 2955.1,1274.4 2957.7,1274.4 2960.2,1274.4 2962.8,1274.4 2965.4,1274.0 2967.9,1273.7 2970.5,1273.7 2973.1,1273.2 2975.6,1272.9 2978.2,1273.4 2980.8,1273.5 2983.3,1274.4 2985.9,1274.0 2988.5,1274.4 2991.0,1274.4 2993.6,1274.4" stroke="#101090"/>
<polyline points="2057.0,1260.5 2059.6,1260.1 2062.1,1260.9 2064.7,1261.3 2067.3,1259.8 2069.8,1259.8 2072.4,1260.0 2075.0,1258.7 2077.5,1259.1 2080.1,1258.2 2082.7,1257.5 2085.2,1257.6 2087.8,1257.5 2090.4,1257.5 2092.9,1258.2 2095.5,1257.7 2098.1,1257.0 2100.6,1256.7 2103.2,1256.5 2105.8,1256.2 2108.3,1256.1 2110.9,1255.8 2113.5,1255.0 2116.0,1255.5 2118.6,1255.1 2121.2,1255.9 2123.7,1254.8 2126.3,1254.5 2128.8,1254.0 2131.4,1254.5 2134.0,1254.9 2136.5,1255.2 2139.1,1253.9 2141.7,1255.4 2144.2,1254.5 2146.8,1254.7 2149.4,1254.2 2151.9,1252.3 2154.5,1252.5 2157.1,1252.7 2159.6,1252.5 2162.2,1253.2 2164.8,1252.8 2167.3,1253.1 2169.9,1253.7 2172.5,1252.8 2175.0,1253.8 2177.6,1253.5 2180.2,1253.8 2182.7,1253.5 2185.3,1253.0 2187.9,1252.9 2190.4,1253.1 2193.0,1251.7 2195.6,1250.9 2198.1,1249.4 2200.7,1249.6 2203.3,1249.9 2205.8,1249.2 2208.4,1248.7 2211.0,1248.6 2213.5,1248.7 2216.1,1248.4 2218.7,1247.6 2221.2,1247.4 2223.8,1247.8 2226.4,1247.7 2228.9,1247.5 2231.5,1247.0 2234.1,1247.6 2236.6,1246.9 2239.2,1247.0 2241.8,1246.6 2244.3,1246.7 2246.9,1246.7 2249.4,1246.8 2252.0,1245.7 2254.6,1246.0 2257.1,1244.9 2259.7,1244.8 2262.3,1243.3 2264.8,1243.5 2267.4,1243.1 2270.0,1242.9 2272.5,1243.0 2275.1,1243.1 2277.7,1243.1 2280.2,1243.4 2282.8,1242.6 2285.4,1242.1 2287.9,1241.8 2290.5,1241.1 2293.1,1240.8 2295.6,1240.6 2298.2,1240.2 2300.8,1239.4 2303.3,1239.7 2305.9,1240.1 2308.5,1240.4 2311.0,1239.8 2313.6,1240.0 2316.2,1240.0 2318.7,1240.4 2321.3,1239.7 2323.9,1239.7 2326.4,1239.1 2329.0,1239.9 2331.6,1238.7 2334.1,1238.0 2336.7,1237.8 2339.3,1237.1 2341.8,1236.3 2344.4,1236.1 2347.0,1234.4 2349.5,1234.0 2352.1,1234.5 2354.7,1235.3 2357.2,1236.5 2359.8,1236.2 2362.4,1236.8 2364.9,1238.2 2367.5,1238.3 2370.1,1239.1 2372.6,1238.5 2375.2,1237.7 2377.8,1236.9 2380.3,1236.8 2382.9,1236.2 2385.4,1236.1 2388.0,1235.6 2390.6,1235.4 2393.1,1235.4 2395.7,1236.7 2398.3,1236.6 2400.8,1235.7 2403.4,1236.8 2406.0,1235.5 2408.5,1234.3 2411.1,1234.7 2413.7,1233.6 2416.2,1233.1 2418.8,1234.3 2421.4,1233.7 2423.9,1234.9 2426.5,1234.8 2429.1,1235.1 2431.6,1236.3 2434.2,1236.6 2436.8,1236.6 2439.3,1235.5 2441.9,1235.6 2444.5,1237.0 2447.0,1237.1 2449.6,1237.2 2452.2,1238.3 2454.7,1238.3 2457.3,1240.1 2459.9,1240.4 2462.4,1239.9 2465.0,1239.5 2467.6,1239.2 2470.1,1239.1 2472.7,1239.6 2475.3,1239.9 2477.8,1240.3 2480.4,1241.4 2483.0,1242.5 2485.5,1242.8 2488.1,1243.1 2490.7,1242.9 2493.2,1243.0 2495.8,1243.4 2498.4,1243.6 2500.9,1244.0 2503.5,1245.2 2506.1,1244.9 2508.6,1246.2 2511.2,1245.0 2513.7,1246.0 2516.3,1247.4 2518.9,1247.2 2521.4,1247.8 2524.0,1249.1 2526.6,1250.0 2529.1,1252.6 2531.7,1252.9 2534.3,1252.4 2536.8,1253.8 2539.4,1254.0 2542.0,1253.9 2544.5,1253.7 2547.1,1254.2 2549.7,1254.7 2552.2,1256.1 2554.8,1256.9 2557.4,1256.9 2559.9,1257.8 2562.5,1258.5 2565.1,1258.5 2567.6,1258.2 2570.2,1257.4 2572.8,1256.8 2575.3,1257.6 2577.9,1258.1 2580.5,1258.0 2583.0,1258.5 2585.6,1258.9 2588.2,1260.1 2590.7,1260.4 2593.3,1260.2 2595.9,1260.0 2598.4,1260.2 2601.0,1260.4 2603.6,1260.8 2606.1,1260.1 2608.7,1260.7 2611.3,1261.2 2613.8,1262.0 2616.4,1262.2 2619.0,1262.7 2621.5,1262.9 2624.1,1263.9 2626.7,1263.9 2629.2,1264.6 2631.8,1264.6 2634.3,1265.3 2636.9,1265.2 2639.5,1265.7 2642.0,1265.5 2644.6,1265.5 2647.2,1265.8 2649.7,1265.4 2652.3,1265.6 2654.9,1266.7 2657.4,1267.3 2660.0,1268.8 2662.6,1269.0 2665.1,1269.1 2667.7,1269.7 2670.3,1269.9 2672.8,1268.8 2675.4,1268.3 2678.0,1266.8 2680.5,1267.1 2683.1,1265.4 2685.7,1265.9 2688.2,1266.5 2690.8,1267.8 2693.4,1267.9 2695.9,1269.1 2698.5,1269.5 2701.1,1272.1 2703.6,1271.4 2706.2,1271.1 2708.8,1270.3 2711.3,1270.4 2713.9,1270.1 2716.5,1270.4 2719.0,1270.6 2721.6,1271.3 2724.2,1271.6 2726.7,1271.6 2729.3,1272.0 2731.9,1272.9 2734.4,1272.2 2737.0,1271.8 2739.6,1271.8 2742.1,1272.4 2744.7,1274.4 2747.3,1274.4 2749.8,1274.3 2752.4,1274.4 2755.0,1274.4 2757.5,1274.4 2760.1,1273.7 2762.7,1272.0 2765.2,1272.4 2767.8,1272.5 2770.3,1272.9 2772.9,1273.2 2775.5,1273.5 2778.0,1274.0 2780.6,1274.4 2783.2,1274.4 2785.7,1274.4 2788.3,1274.4 2790.9,1273.1 2793.4,1272.9 2796.0,1272.9 2798.6,1272.2 2801.1,1271.0 2803.7,1271.2 2806.3,1271.2 2808.8,1272.9 2811.4,1273.7 2814.0,1274.1 2816.5,1274.4 2819.1,1274.4 2821.7,1274.4 2824.2,1274.4 2826.8,1274.3 2829.4,1273.7 2831.9,1273.5 2834.5,1273.0 2837.1,1273.8 2839.6,1274.0 2842.2,1274.2 2844.8,1274.1 2847.3,1274.4 2849.9,1274.4 2852.5,1274.2 2855.0,1273.4 2857.6,1273.0 2860.2,1272.2 2862.7,1272.8 2865.3,1272.1 2867.9,1271.7 2870.4,1273.0 2873.0,1273.3 2875.6,1273.7 2878.1,1274.2 2880.7,1274.2 2883.3,1274.4 2885.8,1274.4 2888.4,1274.4 2890.9,1274.4 2893.5,1274.4 2896.1,1274.4 2898.6,1274.4 2901.2,1274.4 2903.8,1274.4 2906.3,1274.4 2908.9,1274.4 2911.5,1274.4 2914.0,1274.4 2916.6,1274.4 2919.2,1274.4 2921.7,1274.4 2924.3,1274.4 2926.9,1274.4 2929.4,1274.4 2932.0,1274.4 2934.6,1274.4 2937.1,1274.4 2939.7,1274.4 2942.3,1274.4 2944.8,1274.4 2947.4,1274.2 2950.0,1273.9 2952.5,1273.2 2955.1,1273.8 2957.7,1274.1 2960.2,1273.5 2962.8,1273.7 2965.4,1274.4 2967.9,1274.4 2970.5,1274.4 2973.1,1274.4 2975.6,1274.4 2978.2,1274.4 2980.8,1274.4 2983.3,1274.1 2985.9,1273.8 2988.5,1274.3 2991.0,1274.4 2993.6,1273.9" stroke="#901090"/>
<polyline points="2057.0,1255.1 2059.6,1255.2 2062.1,1254.3 2064.7,1254.2 2067.3,1254.0 2069.8,1253.2 2072.4,1253.2 2075.0,1252.9 2077.5,1252.8 2080.1,1253.4 2082.7,1253.6 2085.2,1254.2 2087.8,1254.9 2090.4,1255.3 2092.9,1255.0 2095.5,1255.0 2098.1,1254.9 2100.6,1255.5 2103.2,1254.5 2105.8,1254.0 2108.3,1252.5 2110.9,1251.4 2113.5,1250.7 2116.0,1251.2 2118.6,1250.2 2121.2,1250.4 2123.7,1249.9 2126.3,1251.2 2128.8,1251.1 2131.4,1251.2 2134.0,1249.8 2136.5,1249.2 2139.1,1249.2 2141.7,1248.4 2144.2,1247.9 2146.8,1248.9 2149.4,1248.5 2151.9,1249.6 2154.5,1249.3 2157.1,1248.7 2159.6,1249.9 2162.2,1249.7 2164.8,1249.5 2167.3,1248.8 2169.9,1248.3 2172.5,1248.6 2175.0,1248.6 2177.6,1247.7 2180.2,1247.5 2182.7,1246.1 2185.3,1246.9 2187.9,1246.2 2190.4,1246.1 2193.0,1244.9 2195.6,1243.1 2198.1,1242.7 2200.7,1242.9 2203.3,1241.8 2205.8,1241.6 2208.4,1240.9 2211.0,1241.6 2213.5,1241.1 2216.1,1239.4 2218.7,1238.4 2221.2,1238.7 2223.8,1238.6 2226.4,1237.6 2228.9,1237.0 2231.5,1237.4 2234.1,1237.7 2236.6,1237.4 2239.2,1235.3 2241.8,1234.5 2244.3,1233.9 2246.9,1233.3 2249.4,1232.2 2252.0,1232.4 2254.6,1231.6 2257.1,1230.7 2259.7,1229.5 2262.3,1228.4 2264.8,1227.1 2267.4,1226.1 2270.0,1224.2 2272.5,1222.6 2275.1,1222.5 2277.7,1221.1 2280.2,1219.7 2282.8,1218.7 2285.4,1217.2 2287.9,1215.4 2290.5,1214.4 2293.1,1213.8 2295.6,1211.7 2298.2,1211.6 2300.8,1210.2 2303.3,1209.3 2305.9,1208.0 2308.5,1207.1 2311.0,1205.7 2313.6,1205.3 2316.2,1203.0 2318.7,1202.7 2321.3,1201.8 2323.9,1201.9 2326.4,1201.0 2329.0,1199.9 2331.6,1199.3 2334.1,1199.1 2336.7,1196.6 2339.3,1197.2 2341.8,1195.6 2344.4,1194.9 2347.0,1194.6 2349.5,1194.9 2352.1,1193.8 2354.7,1195.3 2357.2,1192.7 2359.8,1193.7 2362.4,1193.0 2364.9,1192.3 2367.5,1191.7 2370.1,1192.2 2372.6,1189.7 2375.2,1190.0 2377.8,1188.6 2380.3,1187.7 2382.9,1186.1 2385.4,1185.3 2388.0,1184.1 2390.6,1184.6 2393.1,1184.4 2395.7,1185.2 2398.3,1184.8 2400.8,1184.6 2403.4,1183.9 2406.0,1181.8 2408.5,1182.1 2411.1,1181.7 2413.7,1180.0 2416.2,1180.5 2418.8,1180.6 2421.4,1179.1 2423.9,1181.3 2426.5,1181.4 2429.1,1181.3 2431.6,1181.7 2434.2,1181.4 2436.8,1181.6 2439.3,1182.4 2441.9,1180.6 2444.5,1179.6 2447.0,1178.2 2449.6,1177.9 2452.2,1178.2 2454.7,1179.2 2457.3,1179.4 2459.9,1180.8 2462.4,1179.8 2465.0,1182.3 2467.6,1183.1 2470.1,1183.4 2472.7,1183.0 2475.3,1183.6 2477.8,1184.8 2480.4,1186.8 2483.0,1186.9 2485.5,1187.6 2488.1,1187.9 2490.7,1187.7 2493.2,1188.6 2495.8,1189.8 2498.4,1190.6 2500.9,1190.7 2503.5,1190.9 2506.1,1191.1 2508.6,1193.1 2511.2,1193.8 2513.7,1194.0 2516.3,1193.8 2518.9,1194.6 2521.4,1195.7 2524.0,1197.8 2526.6,1197.8 2529.1,1199.4 2531.7,1199.5 2534.3,1200.9 2536.8,1201.8 2539.4,1202.5 2542.0,1203.1 2544.5,1204.1 2547.1,1204.5 2549.7,1205.6 2552.2,1208.0 2554.8,1208.7 2557.4,1210.0 2559.9,1210.5 2562.5,1211.9 2565.1,1213.3 2567.6,1215.0 2570.2,1215.7 2572.8,1217.2 2575.3,1219.0 2577.9,1221.5 2580.5,1222.4 2583.0,1223.0 2585.6,1224.5 2588.2,1225.0 2590.7,1227.1 2593.3,1227.4 2595.9,1228.3 2598.4,1229.3 2601.0,1230.4 2603.6,1230.7 2606.1,1232.8 2608.7,1233.5 2611.3,1235.0 2613.8,1235.3 2616.4,1236.4 2619.0,1238.0 2621.5,1239.1 2624.1,1238.9 2626.7,1239.0 2629.2,1239.1 2631.8,1239.6 2634.3,1239.9 2636.9,1240.8 2639.5,1241.0 2642.0,1242.7 2644.6,1243.9 2647.2,1245.4 2649.7,1246.4 2652.3,1248.3 2654.9,1248.0 2657.4,1250.4 2660.0,1250.4 2662.6,1251.2 2665.1,1251.3 2667.7,1252.6 2670.3,1252.8 2672.8,1254.1 2675.4,1253.8 2678.0,1255.0 2680.5,1255.6 2683.1,1256.3 2685.7,1256.8 2688.2,1259.0 2690.8,1259.7 2693.4,1260.3 2695.9,1261.3 2698.5,1262.3 2701.1,1264.2 2703.6,1264.3 2706.2,1264.4 2708.8,1264.4 2711.3,1264.6 2713.9,1263.8 2716.5,1263.3 2719.0,1262.4 2721.6,1262.9 2724.2,1261.8 2726.7,1263.4 2729.3,1264.7 2731.9,1265.0 2734.4,1266.2 2737.0,1267.4 2739.6,1268.0 2742.1,1268.8 2744.7,1267.6 2747.3,1267.0 2749.8,1268.2 2752.4,1268.2 2755.0,1267.6 2757.5,1267.6 2760.1,1267.9 2762.7,1269.2 2765.2,1269.2 2767.8,1269.1 2770.3,1269.2 2772.9,1269.9 2775.5,1271.0 2778.0,1270.9 2780.6,1270.8 2783.2,1271.5 2785.7,1271.8 2788.3,1271.6 2790.9,1271.6 2793.4,1269.9 2796.0,1270.4 2798.6,1270.5 2801.1,1270.8 2803.7,1269.8 2806.3,1270.8 2808.8,1271.0 2811.4,1272.5 2814.0,1272.8 2816.5,1272.7 2819.1,1272.0 2821.7,1273.7 2824.2,1274.0 2826.8,1273.1 2829.4,1273.8 2831.9,1274.0 2834.5,1274.4 2837.1,1274.4 2839.6,1274.4 2842.2,1274.3 2844.8,1274.4 2847.3,1274.1 2849.9,1274.4 2852.5,1274.0 2855.0,1274.2 2857.6,1273.8 2860.2,1273.7 2862.7,1273.1 2865.3,1272.1 2867.9,1272.2 2870.4,1272.0 2873.0,1272.1 2875.6,1272.0 2878.1,1271.9 2880.7,1271.4 2883.3,1272.0 2885.8,1271.8 2888.4,1272.5 2890.9,1272.9 2893.5,1273.2 2896.1,1274.4 2898.6,1274.4 2901.2,1274.4 2903.8,1274.4 2906.3,1274.4 2908.9,1274.4 2911.5,1274.4 2914.0,1274.4 2916.6,1274.4 2919.2,1274.4 2921.7,1273.8 2924.3,1273.8 2926.9,1274.2 2929.4,1274.3 2932.0,1274.2 2934.6,1274.4 2937.1,1274.4 2939.7,1274.4 2942.3,1274.4 2944.8,1274.4 2947.4,1274.4 2950.0,1274.4 2952.5,1274.4 2955.1,1274.4 2957.7,1274.1 2960.2,1274.4 2962.8,1274.4 2965.4,1274.0 2967.9,1274.0 2970.5,1273.7 2973.1,1274.1 2975.6,1274.4 2978.2,1274.4 2980.8,1274.4 2983.3,1274.4 2985.9,1274.4 2988.5,1274.4 2991.0,1274.4 2993.6,1274.4" stroke="#8c1010"/>
<polyline points="2057.0,1246.6 2059.6,1246.8 2062.1,1246.4 2064.7,1245.4 2067.3,1245.8 2069.8,1245.8 2072.4,1245.3 2075.0,1244.5 2077.5,1244.3 2080.1,1244.1 2082.7,1244.2 2085.2,1243.5 2087.8,1244.1 2090.4,1245.2 2092.9,1245.1 2095.5,1244.3 2098.1,1244.9 2100.6,1245.8 2103.2,1245.9 2105.8,1244.5 2108.3,1244.2 2110.9,1244.1 2113.5,1245.0 2116.0,1244.5 2118.6,1244.2 2121.2,1243.4 2123.7,1244.4 2126.3,1244.3 2128.8,1244.8 2131.4,1244.9 2134.0,1244.7 2136.5,1244.9 2139.1,1246.3 2141.7,1246.0 2144.2,1245.8 2146.8,1246.3 2149.4,1245.9 2151.9,1246.3 2154.5,1246.5 2157.1,1245.8 2159.6,1246.4 2162.2,1246.7 2164.8,1244.8 2167.3,1245.1 2169.9,1244.7 2172.5,1244.0 2175.0,1243.5 2177.6,1243.7 2180.2,1242.4 2182.7,1243.4 2185.3,1241.3 2187.9,1241.3 2190.4,1241.6 2193.0,1240.4 2195.6,1238.8 2198.1,1238.4 2200.7,1236.8 2203.3,1237.4 2205.8,1236.8 2208.4,1235.2 2211.0,1234.2 2213.5,1232.9 2216.1,1232.1 2218.7,1230.6 2221.2,1228.3 2223.8,1226.4 2226.4,1224.0 2228.9,1223.3 2231.5,1221.7 2234.1,1220.6 2236.6,1219.6 2239.2,1218.1 2241.8,1216.8 2244.3,1217.1 2246.9,1215.3 2249.4,1214.1 2252.0,1212.0 2254.6,1211.3 2257.1,1210.0 2259.7,1208.4 2262.3,1205.3 2264.8,1203.4 2267.4,1201.3 2270.0,1199.2 2272.5,1196.0 2275.1,1193.0 2277.7,1190.4 2280.2,1188.3 2282.8,1186.4 2285.4,1183.9 2287.9,1182.4 2290.5,1180.6 2293.1,1178.3 2295.6,1176.0 2298.2,1174.1 2300.8,1171.8 2303.3,1170.3 2305.9,1167.2 2308.5,1165.4 2311.0,1164.9 2313.6,1162.2 2316.2,1159.7 2318.7,1157.5 2321.3,1155.7 2323.9,1153.7 2326.4,1150.7 2329.0,1148.7 2331.6,1147.9 2334.1,1146.6 2336.7,1144.4 2339.3,1142.1 2341.8,1141.2 2344.4,1141.1 2347.0,1139.9 2349.5,1138.5 2352.1,1137.3 2354.7,1137.0 2357.2,1136.6 2359.8,1135.6 2362.4,1134.5 2364.9,1132.8 2367.5,1131.2 2370.1,1129.6 2372.6,1127.4 2375.2,1126.7 2377.8,1124.6 2380.3,1123.9 2382.9,1122.6 2385.4,1122.2 2388.0,1121.3 2390.6,1121.7 2393.1,1119.2 2395.7,1120.2 2398.3,1117.8 2400.8,1117.8 2403.4,1115.5 2406.0,1115.4 2408.5,1114.2 2411.1,1113.9 2413.7,1111.7 2416.2,1111.7 2418.8,1110.4 2421.4,1111.3 2423.9,1110.3 2426.5,1108.8 2429.1,1108.2 2431.6,1107.8 2434.2,1107.4 2436.8,1106.9 2439.3,1105.9 2441.9,1105.3 2444.5,1106.4 2447.0,1105.7 2449.6,1105.8 2452.2,1105.5 2454.7,1104.0 2457.3,1104.4 2459.9,1105.8 2462.4,1104.7 2465.0,1105.9 2467.6,1106.7 2470.1,1107.6 2472.7,1109.2 2475.3,1110.8 2477.8,1110.8 2480.4,1112.7 2483.0,1112.4 2485.5,1112.5 2488.1,1112.9 2490.7,1114.1 2493.2,1114.4 2495.8,1115.5 2498.4,1115.2 2500.9,1116.7 2503.5,1117.7 2506.1,1119.0 2508.6,1120.9 2511.2,1122.3 2513.7,1122.7 2516.3,1123.5 2518.9,1124.7 2521.4,1125.3 2524.0,1126.7 2526.6,1127.6 2529.1,1128.3 2531.7,1130.9 2534.3,1133.8 2536.8,1135.8 2539.4,1138.2 2542.0,1141.1 2544.5,1142.2 2547.1,1143.8 2549.7,1145.0 2552.2,1146.8 2554.8,1148.8 2557.4,1151.4 2559.9,1152.2 2562.5,1155.9 2565.1,1159.2 2567.6,1161.9 2570.2,1163.2 2572.8,1165.6 2575.3,1166.7 2577.9,1169.5 2580.5,1172.8 2583.0,1174.7 2585.6,1176.5 2588.2,1178.8 2590.7,1181.1 2593.3,1183.9 2595.9,1185.9 2598.4,1185.7 2601.0,1187.0 2603.6,1189.1 2606.1,1191.0 2608.7,1191.8 2611.3,1193.8 2613.8,1194.1 2616.4,1196.0 2619.0,1197.3 2621.5,1198.4 2624.1,1200.7 2626.7,1201.7 2629.2,1201.8 2631.8,1203.4 2634.3,1204.3 2636.9,1206.6 2639.5,1207.2 2642.0,1208.7 2644.6,1211.2 2647.2,1214.7 2649.7,1218.0 2652.3,1220.3 2654.9,1222.0 2657.4,1225.8 2660.0,1228.3 2662.6,1230.7 2665.1,1232.3 2667.7,1234.3 2670.3,1237.0 2672.8,1239.3 2675.4,1240.2 2678.0,1241.1 2680.5,1242.7 2683.1,1243.3 2685.7,1244.8 2688.2,1245.6 2690.8,1246.5 2693.4,1247.8 2695.9,1249.1 2698.5,1250.3 2701.1,1252.5 2703.6,1253.5 2706.2,1253.8 2708.8,1254.8 2711.3,1255.5 2713.9,1255.8 2716.5,1256.0 2719.0,1256.8 2721.6,1256.7 2724.2,1257.5 2726.7,1256.8 2729.3,1257.1 2731.9,1258.4 2734.4,1257.3 2737.0,1256.6 2739.6,1256.7 2742.1,1257.6 2744.7,1259.4 2747.3,1260.0 2749.8,1259.9 2752.4,1262.1 2755.0,1262.7 2757.5,1263.3 2760.1,1264.0 2762.7,1263.0 2765.2,1264.2 2767.8,1264.2 2770.3,1264.6 2772.9,1266.3 2775.5,1267.1 2778.0,1266.2 2780.6,1268.1 2783.2,1268.0 2785.7,1268.3 2788.3,1269.0 2790.9,1268.1 2793.4,1268.7 2796.0,1269.7 2798.6,1269.5 2801.1,1269.6 2803.7,1270.9 2806.3,1270.1 2808.8,1271.4 2811.4,1270.4 2814.0,1270.6 2816.5,1271.0 2819.1,1270.9 2821.7,1270.4 2824.2,1271.1 2826.8,1270.7 2829.4,1270.6 2831.9,1270.6 2834.5,1270.8 2837.1,1270.3 2839.6,1270.3 2842.2,1270.4 2844.8,1270.8 2847.3,1271.3 2849.9,1271.7 2852.5,1271.5 2855.0,1272.6 2857.6,1273.7 2860.2,1272.9 2862.7,1272.3 2865.3,1272.4 2867.9,1272.5 2870.4,1271.8 2873.0,1273.0 2875.6,1272.8 2878.1,1274.4 2880.7,1274.4 2883.3,1274.4 2885.8,1274.4 2888.4,1274.4 2890.9,1274.4 2893.5,1274.4 2896.1,1273.6 2898.6,1273.3 2901.2,1273.9 2903.8,1273.9 2906.3,1273.0 2908.9,1272.6 2911.5,1272.9 2914.0,1273.4 2916.6,1274.2 2919.2,1274.4 2921.7,1274.4 2924.3,1274.4 2926.9,1274.4 2929.4,1274.4 2932.0,1274.4 2934.6,1274.4 2937.1,1274.4 2939.7,1274.2 2942.3,1273.9 2944.8,1274.4 2947.4,1274.0 2950.0,1273.8 2952.5,1273.8 2955.1,1274.3 2957.7,1273.6 2960.2,1273.9 2962.8,1273.1 2965.4,1273.6 2967.9,1274.1 2970.5,1274.4 2973.1,1274.4 2975.6,1274.4 2978.2,1274.4 2980.8,1274.4 2983.3,1274.4 2985.9,1274.4 2988.5,1274.3 2991.0,1274.2 2993.6,1274.2" stroke="#108a10"/>
<polyline points="2057.0,1232.1 2059.6,1231.9 2062.1,1231.7 2064.7,1232.3 2067.3,1231.3 2069.8,1231.9 2072.4,1232.4 2075.0,1231.8 2077.5,1231.7 2080.1,1231.7 2082.7,1231.2 2085.2,1231.7 2087.8,1231.5 2090.4,1231.4 2092.9,1231.5 2095.5,1232.1 2098.1,1232.8 2100.6,1232.8 2103.2,1233.9 2105.8,1234.7 2108.3,1234.9 2110.9,1235.3 2113.5,1235.4 2116.0,1235.7 2118.6,1235.3 2121.2,1235.2 2123.7,1234.5 2126.3,1234.3 2128.8,1234.8 2131.4,1234.6 2134.0,1234.0 2136.5,1234.1 2139.1,1234.7 2141.7,1235.5 2144.2,1235.1 2146.8,1234.9 2149.4,1235.3 2151.9,1234.9 2154.5,1235.2 2157.1,1233.7 2159.6,1233.8 2162.2,1233.5 2164.8,1232.2 2167.3,1231.6 2169.9,1231.8 2172.5,1230.9 2175.0,1231.5 2177.6,1229.0 2180.2,1228.6 2182.7,1229.0 2185.3,1228.1 2187.9,1226.9 2190.4,1226.0 2193.0,1224.7 2195.6,1224.5 2198.1,1223.7 2200.7,1221.9 2203.3,1220.7 2205.8,1219.0 2208.4,1217.9 2211.0,1215.7 2213.5,1213.8 2216.1,1211.8 2218.7,1208.9 2221.2,1206.1 2223.8,1204.0 2226.4,1202.4 2228.9,1199.8 2231.5,1197.7 2234.1,1195.3 2236.6,1194.3 2239.2,1192.5 2241.8,1189.5 2244.3,1186.0 2246.9,1183.9 2249.4,1181.2 2252.0,1178.7 2254.6,1175.0 2257.1,1171.9 2259.7,1169.8 2262.3,1166.0 2264.8,1162.5 2267.4,1158.2 2270.0,1154.5 2272.5,1150.9 2275.1,1146.0 2277.7,1141.3 2280.2,1137.6 2282.8,1133.2 2285.4,1130.5 2287.9,1125.5 2290.5,1121.1 2293.1,1118.4 2295.6,1114.2 2298.2,1109.8 2300.8,1105.0 2303.3,1100.1 2305.9,1096.3 2308.5,1094.0 2311.0,1088.2 2313.6,1085.4 2316.2,1082.6 2318.7,1080.7 2321.3,1078.2 2323.9,1076.7 2326.4,1072.3 2329.0,1071.9 2331.6,1068.7 2334.1,1066.6 2336.7,1063.6 2339.3,1060.5 2341.8,1057.2 2344.4,1055.5 2347.0,1051.7 2349.5,1049.2 2352.1,1045.7 2354.7,1044.7 2357.2,1042.6 2359.8,1040.2 2362.4,1036.8 2364.9,1035.3 2367.5,1035.2 2370.1,1034.4 2372.6,1033.2 2375.2,1030.3 2377.8,1028.4 2380.3,1027.2 2382.9,1027.2 2385.4,1024.4 2388.0,1023.2 2390.6,1020.1 2393.1,1018.6 2395.7,1017.8 2398.3,1015.8 2400.8,1012.5 2403.4,1010.3 2406.0,1008.4 2408.5,1006.9 2411.1,1005.2 2413.7,1004.8 2416.2,1003.7 2418.8,1001.6 2421.4,1000.0 2423.9,997.6 2426.5,996.6 2429.1,996.1 2431.6,993.7 2434.2,992.6 2436.8,991.2 2439.3,991.3 2441.9,991.4 2444.5,990.3 2447.0,989.4 2449.6,987.7 2452.2,986.4 2454.7,986.9 2457.3,985.8 2459.9,984.5 2462.4,983.3 2465.0,983.8 2467.6,983.0 2470.1,983.8 2472.7,984.2 2475.3,982.9 2477.8,983.3 2480.4,984.3 2483.0,983.6 2485.5,983.8 2488.1,983.7 2490.7,981.6 2493.2,982.4 2495.8,982.8 2498.4,982.6 2500.9,984.0 2503.5,985.5 2506.1,986.1 2508.6,987.7 2511.2,988.8 2513.7,989.9 2516.3,991.4 2518.9,991.6 2521.4,992.3 2524.0,993.8 2526.6,996.3 2529.1,998.0 2531.7,1000.3 2534.3,1002.4 2536.8,1004.8 2539.4,1007.7 2542.0,1008.6 2544.5,1011.2 2547.1,1013.9 2549.7,1016.3 2552.2,1020.1 2554.8,1022.3 2557.4,1026.4 2559.9,1032.0 2562.5,1035.5 2565.1,1040.8 2567.6,1043.2 2570.2,1046.5 2572.8,1050.3 2575.3,1053.5 2577.9,1056.6 2580.5,1059.9 2583.0,1061.5 2585.6,1066.0 2588.2,1069.4 2590.7,1072.2 2593.3,1074.7 2595.9,1078.5 2598.4,1081.3 2601.0,1084.6 2603.6,1086.4 2606.1,1088.0 2608.7,1090.6 2611.3,1092.2 2613.8,1094.5 2616.4,1096.7 2619.0,1099.5 2621.5,1103.3 2624.1,1106.5 2626.7,1110.7 2629.2,1114.8 2631.8,1118.3 2634.3,1121.8 2636.9,1125.0 2639.5,1129.4 2642.0,1133.1 2644.6,1136.4 2647.2,1139.6 2649.7,1142.3 2652.3,1146.8 2654.9,1151.2 2657.4,1154.5 2660.0,1157.9 2662.6,1161.1 2665.1,1164.5 2667.7,1169.0 2670.3,1171.7 2672.8,1175.0 2675.4,1177.5 2678.0,1181.8 2680.5,1185.9 2683.1,1189.3 2685.7,1192.9 2688.2,1196.2 2690.8,1198.2 2693.4,1202.1 2695.9,1204.8 2698.5,1206.9 2701.1,1211.1 2703.6,1212.8 2706.2,1216.0 2708.8,1220.2 2711.3,1221.8 2713.9,1224.2 2716.5,1225.9 2719.0,1226.6 2721.6,1228.2 2724.2,1229.8 2726.7,1231.0 2729.3,1232.5 2731.9,1234.6 2734.4,1236.3 2737.0,1237.8 2739.6,1239.0 2742.1,1240.0 2744.7,1241.5 2747.3,1242.4 2749.8,1243.3 2752.4,1244.4 2755.0,1246.0 2757.5,1248.6 2760.1,1249.7 2762.7,1250.2 2765.2,1251.6 2767.8,1251.9 2770.3,1254.0 2772.9,1254.8 2775.5,1255.2 2778.0,1256.5 2780.6,1257.2 2783.2,1259.0 2785.7,1259.6 2788.3,1259.5 2790.9,1261.3 2793.4,1262.1 2796.0,1263.0 2798.6,1264.4 2801.1,1264.4 2803.7,1265.1 2806.3,1265.1 2808.8,1265.0 2811.4,1264.8 2814.0,1265.0 2816.5,1265.2 2819.1,1265.8 2821.7,1266.1 2824.2,1267.7 2826.8,1268.1 2829.4,1269.3 2831.9,1269.1 2834.5,1269.2 2837.1,1269.0 2839.6,1270.6 2842.2,1270.5 2844.8,1270.7 2847.3,1270.2 2849.9,1271.1 2852.5,1271.1 2855.0,1271.3 2857.6,1270.5 2860.2,1271.5 2862.7,1272.0 2865.3,1271.9 2867.9,1271.6 2870.4,1272.6 2873.0,1273.7 2875.6,1274.0 2878.1,1272.9 2880.7,1273.2 2883.3,1273.9 2885.8,1273.5 2888.4,1272.6 2890.9,1272.2 2893.5,1272.8 2896.1,1272.8 2898.6,1272.6 2901.2,1272.1 2903.8,1272.3 2906.3,1273.7 2908.9,1273.7 2911.5,1273.4 2914.0,1274.4 2916.6,1273.3 2919.2,1274.0 2921.7,1274.4 2924.3,1273.5 2926.9,1273.5 2929.4,1273.7 2932.0,1272.6 2934.6,1273.7 2937.1,1273.1 2939.7,1273.2 2942.3,1273.4 2944.8,1272.2 2947.4,1271.8 2950.0,1272.4 2952.5,1271.7 2955.1,1272.6 2957.7,1273.0 2960.2,1273.3 2962.8,1274.0 2965.4,1273.9 2967.9,1274.4 2970.5,1274.4 2973.1,1274.4 2975.6,1274.4 2978.2,1274.4 2980.8,1274.4 2983.3,1274.4 2985.9,1274.4 2988.5,1274.4 2991.0,1274.4 2993.6,1274.3" stroke="#108888"/>
<polyline points="2057.0,1222.8 2059.6,1222.2 2062.1,1222.3 2064.7,1222.3 2067.3,1222.3 2069.8,1221.9 2072.4,1221.3 2075.0,1220.6 2077.5,1221.8 2080.1,1222.1 2082.7,1223.0 2085.2,1223.4 2087.8,1224.5 2090.4,1225.4 2092.9,1226.6 2095.5,1225.7 2098.1,1225.4 2100.6,1226.0 2103.2,1226.7 2105.8,1227.3 2108.3,1227.7 2110.9,1227.5 2113.5,1228.9 2116.0,1230.3 2118.6,1230.4 2121.2,1230.5 2123.7,1230.9 2126.3,1231.2 2128.8,1232.7 2131.4,1233.0 2134.0,1231.7 2136.5,1231.7 2139.1,1230.4 2141.7,1230.3 2144.2,1230.5 2146.8,1229.2 2149.4,1228.3 2151.9,1228.5 2154.5,1227.3 2157.1,1227.6 2159.6,1226.5 2162.2,1225.4 2164.8,1225.3 2167.3,1224.5 2169.9,1223.5 2172.5,1223.2 2175.0,1223.5 2177.6,1223.2 2180.2,1221.8 2182.7,1220.4 2185.3,1220.1 2187.9,1220.0 2190.4,1218.4 2193.0,1215.7 2195.6,1214.4 2198.1,1212.8 2200.7,1210.8 2203.3,1207.5 2205.8,1204.9 2208.4,1204.1 2211.0,1202.9 2213.5,1199.7 2216.1,1198.2 2218.7,1196.8 2221.2,1194.5 2223.8,1192.1 2226.4,1189.1 2228.9,1185.2 2231.5,1183.6 2234.1,1179.6 2236.6,1173.9 2239.2,1171.2 2241.8,1167.4 2244.3,1163.4 2246.9,1160.4 2249.4,1154.1 2252.0,1150.3 2254.6,1147.1 2257.1,1142.9 2259.7,1138.5 2262.3,1132.8 2264.8,1127.4 2267.4,1123.3 2270.0,1118.1 2272.5,1112.5 2275.1,1106.4 2277.7,1100.5 2280.2,1094.7 2282.8,1087.5 2285.4,1082.2 2287.9,1075.8 2290.5,1070.1 2293.1,1063.1 2295.6,1056.4 2298.2,1052.3 2300.8,1047.1 2303.3,1040.0 2305.9,1033.7 2308.5,1026.8 2311.0,1022.3 2313.6,1016.9 2316.2,1010.6 2318.7,1006.4 2321.3,1002.7 2323.9,998.0 2326.4,993.8 2329.0,990.4 2331.6,987.5 2334.1,982.4 2336.7,978.0 2339.3,975.1 2341.8,972.3 2344.4,969.9 2347.0,967.1 2349.5,963.8 2352.1,962.7 2354.7,959.1 2357.2,955.4 2359.8,952.4 2362.4,949.7 2364.9,946.3 2367.5,943.1 2370.1,939.9 2372.6,939.6 2375.2,937.5 2377.8,935.9 2380.3,934.3 2382.9,932.0 2385.4,930.0 2388.0,927.5 2390.6,924.1 2393.1,921.0 2395.7,917.8 2398.3,914.2 2400.8,912.2 2403.4,910.8 2406.0,908.5 2408.5,906.7 2411.1,906.0 2413.7,904.7 2416.2,903.1 2418.8,900.7 2421.4,895.9 2423.9,893.6 2426.5,891.0 2429.1,887.5 2431.6,884.7 2434.2,882.9 2436.8,880.0 2439.3,879.9 2441.9,878.9 2444.5,877.0 2447.0,874.8 2449.6,874.1 2452.2,873.6 2454.7,873.3 2457.3,870.6 2459.9,867.3 2462.4,865.0 2465.0,863.9 2467.6,861.1 2470.1,856.8 2472.7,854.0 2475.3,854.0 2477.8,851.9 2480.4,850.0 2483.0,850.1 2485.5,851.0 2488.1,851.9 2490.7,850.3 2493.2,848.2 2495.8,851.1 2498.4,851.6 2500.9,849.9 2503.5,848.7 2506.1,847.4 2508.6,850.8 2511.2,851.7 2513.7,850.2 2516.3,850.6 2518.9,852.6 2521.4,852.9 2524.0,856.3 2526.6,856.2 2529.1,859.0 2531.7,861.1 2534.3,862.4 2536.8,865.1 2539.4,869.0 2542.0,870.9 2544.5,875.6 2547.1,879.3 2549.7,882.9 2552.2,889.2 2554.8,892.5 2557.4,896.1 2559.9,903.2 2562.5,908.4 2565.1,912.6 2567.6,917.1 2570.2,921.0 2572.8,925.8 2575.3,931.2 2577.9,932.9 2580.5,935.8 2583.0,939.1 2585.6,942.7 2588.2,946.4 2590.7,952.0 2593.3,955.0 2595.9,958.1 2598.4,961.8 2601.0,965.1 2603.6,970.4 2606.1,975.5 2608.7,976.6 2611.3,980.8 2613.8,986.0 2616.4,989.9 2619.0,995.7 2621.5,999.4 2624.1,1003.0 2626.7,1008.6 2629.2,1012.1 2631.8,1017.1 2634.3,1021.9 2636.9,1026.1 2639.5,1031.7 2642.0,1037.7 2644.6,1042.7 2647.2,1048.4 2649.7,1053.8 2652.3,1060.3 2654.9,1066.8 2657.4,1072.3 2660.0,1077.3 2662.6,1083.7 2665.1,1089.6 2667.7,1094.7 2670.3,1100.2 2672.8,1104.7 2675.4,1109.7 2678.0,1114.2 2680.5,1119.8 2683.1,1124.8 2685.7,1130.6 2688.2,1136.0 2690.8,1142.0 2693.4,1148.5 2695.9,1153.9 2698.5,1157.9 2701.1,1163.7 2703.6,1168.1 2706.2,1171.3 2708.8,1175.4 2711.3,1178.5 2713.9,1182.4 2716.5,1186.5 2719.0,1190.2 2721.6,1193.7 2724.2,1198.4 2726.7,1201.8 2729.3,1204.7 2731.9,1208.2 2734.4,1211.2 2737.0,1214.4 2739.6,1216.8 2742.1,1218.3 2744.7,1220.6 2747.3,1223.4 2749.8,1225.1 2752.4,1227.7 2755.0,1228.4 2757.5,1231.0 2760.1,1233.9 2762.7,1236.1 2765.2,1237.2 2767.8,1239.0 2770.3,1241.1 2772.9,1243.0 2775.5,1243.8 2778.0,1245.9 2780.6,1247.4 2783.2,1249.8 2785.7,1251.2 2788.3,1252.2 2790.9,1254.7 2793.4,1256.8 2796.0,1256.8 2798.6,1258.2 2801.1,1258.3 2803.7,1259.8 2806.3,1259.9 2808.8,1260.1 2811.4,1260.1 2814.0,1261.4 2816.5,1261.7 2819.1,1262.9 2821.7,1263.3 2824.2,1264.4 2826.8,1263.6 2829.4,1264.7 2831.9,1264.8 2834.5,1264.8 2837.1,1265.1 2839.6,1264.8 2842.2,1264.8 2844.8,1265.5 2847.3,1264.8 2849.9,1265.0 2852.5,1265.9 2855.0,1266.5 2857.6,1268.2 2860.2,1268.5 2862.7,1269.3 2865.3,1269.3 2867.9,1270.3 2870.4,1270.5 2873.0,1269.7 2875.6,1268.8 2878.1,1268.8 2880.7,1268.9 2883.3,1268.7 2885.8,1268.2 2888.4,1267.9 2890.9,1267.9 2893.5,1268.1 2896.1,1268.5 2898.6,1268.0 2901.2,1269.1 2903.8,1268.7 2906.3,1268.5 2908.9,1269.7 2911.5,1270.0 2914.0,1270.0 2916.6,1270.9 2919.2,1271.0 2921.7,1271.4 2924.3,1272.1 2926.9,1271.8 2929.4,1272.4 2932.0,1271.8 2934.6,1271.6 2937.1,1271.7 2939.7,1270.3 2942.3,1268.8 2944.8,1267.8 2947.4,1267.6 2950.0,1268.5 2952.5,1268.5 2955.1,1269.2 2957.7,1271.1 2960.2,1272.2 2962.8,1272.0 2965.4,1271.3 2967.9,1271.2 2970.5,1271.7 2973.1,1272.2 2975.6,1271.9 2978.2,1272.5 2980.8,1272.8 2983.3,1274.4 2985.9,1274.4 2988.5,1274.4 2991.0,1274.4 2993.6,1274.4" stroke="#101098"/>
<polyline points="2057.0,1209.9 2059.6,1208.3 2062.1,1208.6 2064.7,1207.9 2067.3,1207.3 2069.8,1207.3 2072.4,1208.3 2075.0,1208.1 2077.5,1209.7 2080.1,1210.4 2082.7,1211.4 2085.2,1211.5 2087.8,1213.1 2090.4,1213.1 2092.9,1213.7 2095.5,1214.6 2098.1,1214.2 2100.6,1214.9 2103.2,1216.9 2105.8,1216.7 2108.3,1218.5 2110.9,1220.6 2113.5,1221.7 2116.0,1223.3 2118.6,1223.4 2121.2,1225.3 2123.7,1225.9 2126.3,1226.3 2128.8,1225.7 2131.4,1224.8 2134.0,1225.0 2136.5,1225.7 2139.1,1223.6 2141.7,1223.8 2144.2,1223.7 2146.8,1223.6 2149.4,1223.3 2151.9,1222.5 2154.5,1222.4 2157.1,1221.7 2159.6,1220.9 2162.2,1220.1 2164.8,1219.8 2167.3,1219.7 2169.9,1218.3 2172.5,1217.0 2175.0,1216.6 2177.6,1215.6 2180.2,1214.0 2182.7,1211.3 2185.3,1209.5 2187.9,1208.4 2190.4,1206.5 2193.0,1205.4 2195.6,1203.7 2198.1,1202.2 2200.7,1200.6 2203.3,1197.8 2205.8,1195.0 2208.4,1192.3 2211.0,1189.6 2213.5,1186.4 2216.1,1181.8 2218.7,1178.4 2221.2,1174.6 2223.8,1171.1 2226.4,1166.7 2228.9,1162.5 2231.5,1159.4 2234.1,1157.0 2236.6,1153.7 2239.2,1150.1 2241.8,1145.9 2244.3,1141.5 2246.9,1135.7 2249.4,1128.8 2252.0,1121.1 2254.6,1114.2 2257.1,1109.0 2259.7,1101.9 2262.3,1095.1 2264.8,1087.3 2267.4,1079.8 2270.0,1072.6 2272.5,1064.2 2275.1,1053.5 2277.7,1043.9 2280.2,1036.9 2282.8,1029.1 2285.4,1020.4 2287.9,1012.9 2290.5,1004.3 2293.1,996.8 2295.6,990.0 2298.2,980.7 2300.8,973.1 2303.3,966.3 2305.9,958.3 2308.5,951.7 2311.0,945.2 2313.6,938.5 2316.2,932.9 2318.7,926.6 2321.3,920.3 2323.9,915.2 2326.4,909.5 2329.0,904.3 2331.6,900.2 2334.1,894.4 2336.7,889.3 2339.3,886.1 2341.8,880.9 2344.4,876.8 2347.0,873.3 2349.5,868.8 2352.1,863.8 2354.7,858.3 2357.2,852.7 2359.8,848.7 2362.4,845.5 2364.9,842.1 2367.5,838.6 2370.1,836.8 2372.6,834.8 2375.2,829.9 2377.8,827.3 2380.3,824.0 2382.9,818.9 2385.4,816.7 2388.0,811.2 2390.6,808.1 2393.1,806.7 2395.7,803.0 2398.3,799.2 2400.8,797.7 2403.4,793.5 2406.0,792.1 2408.5,789.5 2411.1,788.0 2413.7,786.0 2416.2,783.4 2418.8,780.8 2421.4,777.3 2423.9,775.7 2426.5,773.1 2429.1,768.4 2431.6,764.8 2434.2,760.9 2436.8,757.8 2439.3,754.5 2441.9,748.6 2444.5,744.1 2447.0,738.8 2449.6,736.9 2452.2,733.9 2454.7,729.7 2457.3,726.0 2459.9,723.4 2462.4,722.0 2465.0,720.8 2467.6,716.9 2470.1,714.5 2472.7,712.0 2475.3,710.1 2477.8,710.0 2480.4,705.4 2483.0,704.7 2485.5,701.4 2488.1,698.3 2490.7,695.9 2493.2,693.2 2495.8,690.5 2498.4,690.1 2500.9,687.6 2503.5,685.7 2506.1,686.4 2508.6,685.8 2511.2,685.2 2513.7,682.1 2516.3,681.0 2518.9,682.5 2521.4,685.0 2524.0,684.1 2526.6,686.6 2529.1,690.8 2531.7,694.9 2534.3,698.6 2536.8,700.2 2539.4,701.3 2542.0,707.4 2544.5,712.6 2547.1,715.0 2549.7,722.4 2552.2,728.6 2554.8,735.1 2557.4,742.3 2559.9,747.8 2562.5,752.1 2565.1,758.4 2567.6,762.1 2570.2,767.3 2572.8,772.3 2575.3,776.4 2577.9,782.7 2580.5,789.5 2583.0,795.4 2585.6,801.0 2588.2,804.4 2590.7,807.5 2593.3,814.5 2595.9,817.7 2598.4,822.0 2601.0,825.8 2603.6,831.0 2606.1,837.2 2608.7,843.2 2611.3,845.5 2613.8,849.5 2616.4,854.3 2619.0,860.5 2621.5,864.4 2624.1,871.4 2626.7,878.3 2629.2,884.7 2631.8,891.2 2634.3,897.5 2636.9,905.2 2639.5,913.7 2642.0,920.8 2644.6,929.5 2647.2,937.5 2649.7,946.4 2652.3,955.4 2654.9,962.8 2657.4,971.9 2660.0,978.5 2662.6,985.2 2665.1,994.5 2667.7,1003.8 2670.3,1010.9 2672.8,1018.6 2675.4,1025.4 2678.0,1034.9 2680.5,1043.1 2683.1,1051.5 2685.7,1058.4 2688.2,1066.2 2690.8,1075.3 2693.4,1082.7 2695.9,1089.3 2698.5,1096.3 2701.1,1102.9 2703.6,1109.8 2706.2,1116.7 2708.8,1123.3 2711.3,1130.4 2713.9,1137.0 2716.5,1141.7 2719.0,1148.0 2721.6,1153.6 2724.2,1158.4 2726.7,1162.3 2729.3,1166.7 2731.9,1171.6 2734.4,1177.9 2737.0,1181.8 2739.6,1185.4 2742.1,1189.5 2744.7,1193.7 2747.3,1197.2 2749.8,1200.2 2752.4,1203.1 2755.0,1207.1 2757.5,1210.0 2760.1,1212.6 2762.7,1215.8 2765.2,1220.2 2767.8,1224.1 2770.3,1226.1 2772.9,1227.2 2775.5,1230.8 2778.0,1233.9 2780.6,1237.0 2783.2,1237.9 2785.7,1239.5 2788.3,1242.7 2790.9,1246.1 2793.4,1247.0 2796.0,1249.0 2798.6,1250.0 2801.1,1250.9 2803.7,1252.1 2806.3,1252.1 2808.8,1251.5 2811.4,1252.6 2814.0,1252.8 2816.5,1253.6 2819.1,1255.3 2821.7,1256.9 2824.2,1257.8 2826.8,1259.4 2829.4,1260.4 2831.9,1260.9 2834.5,1262.2 2837.1,1262.7 2839.6,1262.0 2842.2,1263.7 2844.8,1263.9 2847.3,1264.5 2849.9,1265.5 2852.5,1265.5 2855.0,1266.6 2857.6,1267.3 2860.2,1266.8 2862.7,1267.6 2865.3,1267.9 2867.9,1268.4 2870.4,1268.5 2873.0,1267.9 2875.6,1267.6 2878.1,1267.1 2880.7,1266.8 2883.3,1266.4 2885.8,1266.6 2888.4,1267.7 2890.9,1267.7 2893.5,1268.4 2896.1,1269.5 2898.6,1270.0 2901.2,1270.8 2903.8,1270.6 2906.3,1269.5 2908.9,1269.7 2911.5,1269.6 2914.0,1269.4 2916.6,1268.4 2919.2,1268.3 2921.7,1268.6 2924.3,1269.5 2926.9,1269.4 2929.4,1269.8 2932.0,1269.6 2934.6,1269.7 2937.1,1269.8 2939.7,1268.0 2942.3,1265.2 2944.8,1263.4 2947.4,1261.5 2950.0,1262.4 2952.5,1263.6 2955.1,1265.3 2957.7,1266.9 2960.2,1267.7 2962.8,1267.6 2965.4,1268.9 2967.9,1270.0 2970.5,1270.6 2973.1,1269.8 2975.6,1269.7 2978.2,1270.6 2980.8,1271.7 2983.3,1272.2 2985.9,1271.5 2988.5,1271.7 2991.0,1272.1 2993.6,1272.1" stroke="#ff8410"/>
<polyline points="2057.0,1196.6 2059.6,1195.6 2062.1,1194.7 2064.7,1193.6 2067.3,1193.1 2069.8,1193.1 2072.4,1193.5 2075.0,1194.2 2077.5,1195.5 2080.1,1196.8 2082.7,1198.8 2085.2,1200.7 2087.8,1202.9 2090.4,1205.8 2092.9,1207.6 2095.5,1208.9 2098.1,1209.8 2100.6,1211.4 2103.2,1212.6 2105.8,1215.1 2108.3,1215.6 2110.9,1216.4 2113.5,1217.2 2116.0,1218.7 2118.6,1220.1 2121.2,1220.9 2123.7,1220.4 2126.3,1219.4 2128.8,1219.3 2131.4,1219.7 2134.0,1219.5 2136.5,1218.8 2139.1,1218.7 2141.7,1218.2 2144.2,1218.7 2146.8,1218.3 2149.4,1216.6 2151.9,1216.8 2154.5,1215.8 2157.1,1214.0 2159.6,1213.7 2162.2,1213.5 2164.8,1211.9 2167.3,1211.6 2169.9,1209.2 2172.5,1208.3 2175.0,1207.5 2177.6,1205.3 2180.2,1203.4 2182.7,1202.4 2185.3,1200.9 2187.9,1199.7 2190.4,1197.1 2193.0,1195.3 2195.6,1192.5 2198.1,1190.5 2200.7,1187.0 2203.3,1184.8 2205.8,1180.6 2208.4,1177.8 2211.0,1174.1 2213.5,1171.1 2216.1,1167.3 2218.7,1164.5 2221.2,1158.7 2223.8,1155.4 2226.4,1150.0 2228.9,1145.7 2231.5,1141.0 2234.1,1134.6 2236.6,1129.1 2239.2,1123.7 2241.8,1116.8 2244.3,1110.3 2246.9,1102.0 2249.4,1094.2 2252.0,1087.7 2254.6,1080.6 2257.1,1072.9 2259.7,1066.1 2262.3,1057.5 2264.8,1050.1 2267.4,1041.2 2270.0,1031.3 2272.5,1019.2 2275.1,1008.5 2277.7,997.5 2280.2,986.7 2282.8,975.1 2285.4,962.3 2287.9,950.9 2290.5,940.1 2293.1,929.9 2295.6,919.4 2298.2,911.0 2300.8,903.6 2303.3,895.2 2305.9,885.6 2308.5,878.8 2311.0,869.8 2313.6,861.5 2316.2,854.5 2318.7,844.0 2321.3,837.4 2323.9,831.0 2326.4,823.7 2329.0,817.5 2331.6,811.6 2334.1,802.3 2336.7,796.6 2339.3,789.8 2341.8,785.9 2344.4,777.7 2347.0,770.5 2349.5,765.3 2352.1,761.5 2354.7,757.8 2357.2,752.1 2359.8,745.2 2362.4,741.6 2364.9,737.9 2367.5,732.0 2370.1,729.4 2372.6,723.9 2375.2,722.1 2377.8,718.3 2380.3,716.2 2382.9,714.5 2385.4,710.3 2388.0,705.5 2390.6,702.1 2393.1,698.5 2395.7,695.3 2398.3,691.3 2400.8,687.2 2403.4,684.2 2406.0,679.1 2408.5,676.5 2411.1,672.2 2413.7,665.8 2416.2,662.2 2418.8,658.1 2421.4,655.4 2423.9,651.8 2426.5,644.9 2429.1,640.7 2431.6,638.4 2434.2,632.9 2436.8,628.4 2439.3,622.8 2441.9,617.9 2444.5,615.4 2447.0,609.8 2449.6,605.2 2452.2,600.5 2454.7,595.7 2457.3,589.2 2459.9,586.0 2462.4,582.9 2465.0,578.8 2467.6,573.3 2470.1,570.2 2472.7,564.7 2475.3,561.7 2477.8,557.5 2480.4,550.8 2483.0,549.9 2485.5,545.0 2488.1,540.5 2490.7,539.3 2493.2,538.5 2495.8,535.2 2498.4,532.0 2500.9,525.7 2503.5,526.3 2506.1,527.4 2508.6,525.5 2511.2,523.4 2513.7,523.0 2516.3,525.5 2518.9,527.5 2521.4,527.4 2524.0,526.6 2526.6,528.0 2529.1,529.4 2531.7,530.3 2534.3,530.6 2536.8,529.7 2539.4,534.3 2542.0,539.0 2544.5,543.8 2547.1,548.4 2549.7,555.5 2552.2,564.8 2554.8,576.9 2557.4,581.9 2559.9,588.3 2562.5,594.2 2565.1,602.6 2567.6,608.9 2570.2,613.1 2572.8,615.9 2575.3,623.4 2577.9,628.5 2580.5,636.1 2583.0,640.6 2585.6,648.8 2588.2,654.9 2590.7,662.3 2593.3,668.6 2595.9,674.6 2598.4,678.5 2601.0,685.4 2603.6,690.2 2606.1,697.9 2608.7,703.2 2611.3,708.6 2613.8,715.7 2616.4,722.6 2619.0,731.4 2621.5,739.1 2624.1,746.3 2626.7,752.6 2629.2,762.8 2631.8,772.5 2634.3,782.5 2636.9,790.4 2639.5,800.6 2642.0,810.5 2644.6,823.7 2647.2,832.2 2649.7,842.8 2652.3,854.0 2654.9,864.4 2657.4,874.0 2660.0,881.6 2662.6,892.4 2665.1,903.5 2667.7,913.4 2670.3,922.4 2672.8,932.1 2675.4,943.6 2678.0,956.2 2680.5,966.8 2683.1,976.7 2685.7,986.9 2688.2,998.4 2690.8,1009.5 2693.4,1017.7 2695.9,1027.5 2698.5,1036.9 2701.1,1046.0 2703.6,1055.1 2706.2,1062.9 2708.8,1071.0 2711.3,1080.1 2713.9,1088.2 2716.5,1094.7 2719.0,1102.8 2721.6,1109.7 2724.2,1117.2 2726.7,1125.5 2729.3,1133.2 2731.9,1139.0 2734.4,1144.9 2737.0,1151.3 2739.6,1156.8 2742.1,1162.6 2744.7,1167.5 2747.3,1171.6 2749.8,1177.2 2752.4,1182.6 2755.0,1187.1 2757.5,1192.1 2760.1,1196.4 2762.7,1200.1 2765.2,1204.3 2767.8,1208.8 2770.3,1211.7 2772.9,1215.2 2775.5,1217.8 2778.0,1222.1 2780.6,1224.5 2783.2,1227.7 2785.7,1230.1 2788.3,1234.4 2790.9,1235.9 2793.4,1239.1 2796.0,1239.7 2798.6,1241.8 2801.1,1242.8 2803.7,1243.8 2806.3,1244.9 2808.8,1246.4 2811.4,1247.2 2814.0,1248.8 2816.5,1250.1 2819.1,1251.3 2821.7,1253.3 2824.2,1254.3 2826.8,1255.2 2829.4,1255.0 2831.9,1255.9 2834.5,1256.3 2837.1,1257.7 2839.6,1257.3 2842.2,1257.3 2844.8,1257.7 2847.3,1259.5 2849.9,1259.4 2852.5,1259.8 2855.0,1259.5 2857.6,1260.4 2860.2,1261.5 2862.7,1262.0 2865.3,1262.4 2867.9,1263.6 2870.4,1264.7 2873.0,1265.7 2875.6,1265.6 2878.1,1265.0 2880.7,1263.9 2883.3,1263.7 2885.8,1263.5 2888.4,1262.8 2890.9,1263.0 2893.5,1263.6 2896.1,1264.1 2898.6,1265.4 2901.2,1265.3 2903.8,1265.8 2906.3,1266.3 2908.9,1266.6 2911.5,1267.2 2914.0,1267.4 2916.6,1267.7 2919.2,1267.6 2921.7,1267.0 2924.3,1268.3 2926.9,1267.7 2929.4,1267.8 2932.0,1266.6 2934.6,1266.9 2937.1,1267.6 2939.7,1266.3 2942.3,1261.9 2944.8,1259.8 2947.4,1258.0 2950.0,1259.0 2952.5,1259.8 2955.1,1261.0 2957.7,1261.8 2960.2,1265.0 2962.8,1265.5 2965.4,1266.9 2967.9,1268.0 2970.5,1268.6 2973.1,1269.4 2975.6,1270.4 2978.2,1269.8 2980.8,1269.8 2983.3,1269.0 2985.9,1269.9 2988.5,1270.3 2991.0,1270.2 2993.6,1270.4" stroke="#8a10ff"/>
<polyline points="2057.0,1180.0 2059.6,1178.4 2062.1,1176.6 2064.7,1175.4 2067.3,1174.5 2069.8,1174.6 2072.4,1175.0 2075.0,1176.7 2077.5,1178.8 2080.1,1180.6 2082.7,1183.0 2085.2,1184.4 2087.8,1187.0 2090.4,1189.5 2092.9,1191.0 2095.5,1192.3 2098.1,1194.3 2100.6,1195.7 2103.2,1198.7 2105.8,1199.5 2108.3,1201.6 2110.9,1203.4 2113.5,1204.2 2116.0,1205.1 2118.6,1207.1 2121.2,1208.0 2123.7,1209.8 2126.3,1210.1 2128.8,1209.7 2131.4,1210.4 2134.0,1211.4 2136.5,1211.1 2139.1,1210.7 2141.7,1209.8 2144.2,1208.3 2146.8,1208.1 2149.4,1207.3 2151.9,1205.5 2154.5,1203.1 2157.1,1201.2 2159.6,1198.8 2162.2,1198.5 2164.8,1196.4 2167.3,1194.7 2169.9,1193.1 2172.5,1193.1 2175.0,1192.1 2177.6,1191.2 2180.2,1189.5 2182.7,1188.0 2185.3,1186.0 2187.9,1184.0 2190.4,1181.0 2193.0,1178.2 2195.6,1175.8 2198.1,1172.2 2200.7,1169.7 2203.3,1166.4 2205.8,1162.7 2208.4,1157.7 2211.0,1154.4 2213.5,1150.5 2216.1,1146.6 2218.7,1141.8 2221.2,1136.9 2223.8,1132.1 2226.4,1127.2 2228.9,1120.1 2231.5,1114.4 2234.1,1107.8 2236.6,1101.3 2239.2,1093.0 2241.8,1086.1 2244.3,1078.7 2246.9,1071.1 2249.4,1060.6 2252.0,1052.1 2254.6,1043.6 2257.1,1034.6 2259.7,1024.0 2262.3,1014.3 2264.8,1004.1 2267.4,993.5 2270.0,981.9 2272.5,967.6 2275.1,954.9 2277.7,940.5 2280.2,926.7 2282.8,914.5 2285.4,901.3 2287.9,887.9 2290.5,875.2 2293.1,864.7 2295.6,855.3 2298.2,842.8 2300.8,830.2 2303.3,817.9 2305.9,805.5 2308.5,795.6 2311.0,783.6 2313.6,773.2 2316.2,763.7 2318.7,754.0 2321.3,746.2 2323.9,739.1 2326.4,729.8 2329.0,721.5 2331.6,712.9 2334.1,705.3 2336.7,697.0 2339.3,690.3 2341.8,683.2 2344.4,677.1 2347.0,669.1 2349.5,663.7 2352.1,656.5 2354.7,650.5 2357.2,643.7 2359.8,637.5 2362.4,632.2 2364.9,627.5 2367.5,621.2 2370.1,617.1 2372.6,614.6 2375.2,609.1 2377.8,604.4 2380.3,599.2 2382.9,597.6 2385.4,590.5 2388.0,587.5 2390.6,584.2 2393.1,579.9 2395.7,575.7 2398.3,573.0 2400.8,568.6 2403.4,565.5 2406.0,560.2 2408.5,554.5 2411.1,552.9 2413.7,548.3 2416.2,540.2 2418.8,534.2 2421.4,530.9 2423.9,527.4 2426.5,521.3 2429.1,515.4 2431.6,510.9 2434.2,508.0 2436.8,502.1 2439.3,496.0 2441.9,488.2 2444.5,484.5 2447.0,478.4 2449.6,473.6 2452.2,468.1 2454.7,463.2 2457.3,459.6 2459.9,453.6 2462.4,446.9 2465.0,441.5 2467.6,432.7 2470.1,427.0 2472.7,421.0 2475.3,414.5 2477.8,410.6 2480.4,405.2 2483.0,398.6 2485.5,396.5 2488.1,390.8 2490.7,384.9 2493.2,382.4 2495.8,381.7 2498.4,377.7 2500.9,374.5 2503.5,372.6 2506.1,372.4 2508.6,372.9 2511.2,369.9 2513.7,366.8 2516.3,365.4 2518.9,366.6 2521.4,365.0 2524.0,366.7 2526.6,369.2 2529.1,371.4 2531.7,374.1 2534.3,380.5 2536.8,383.1 2539.4,388.5 2542.0,390.9 2544.5,395.6 2547.1,404.9 2549.7,413.0 2552.2,420.5 2554.8,429.5 2557.4,439.9 2559.9,452.8 2562.5,462.3 2565.1,470.0 2567.6,476.6 2570.2,483.1 2572.8,489.2 2575.3,493.5 2577.9,496.6 2580.5,503.5 2583.0,512.3 2585.6,521.0 2588.2,531.0 2590.7,538.8 2593.3,545.1 2595.9,553.9 2598.4,562.7 2601.0,567.0 2603.6,572.8 2606.1,578.1 2608.7,585.9 2611.3,595.2 2613.8,603.4 2616.4,610.1 2619.0,618.7 2621.5,628.9 2624.1,639.7 2626.7,650.3 2629.2,660.0 2631.8,672.0 2634.3,683.4 2636.9,695.7 2639.5,706.8 2642.0,717.3 2644.6,729.0 2647.2,742.9 2649.7,755.0 2652.3,768.2 2654.9,782.2 2657.4,794.8 2660.0,807.1 2662.6,821.1 2665.1,831.0 2667.7,842.7 2670.3,854.9 2672.8,865.1 2675.4,876.5 2678.0,891.0 2680.5,905.1 2683.1,918.3 2685.7,930.8 2688.2,943.6 2690.8,958.2 2693.4,970.4 2695.9,979.6 2698.5,988.4 2701.1,999.6 2703.6,1011.8 2706.2,1021.6 2708.8,1031.0 2711.3,1041.6 2713.9,1052.7 2716.5,1062.6 2719.0,1072.7 2721.6,1080.5 2724.2,1089.0 2726.7,1096.8 2729.3,1104.8 2731.9,1112.2 2734.4,1118.9 2737.0,1125.3 2739.6,1131.5 2742.1,1138.0 2744.7,1144.9 2747.3,1151.4 2749.8,1157.0 2752.4,1163.0 2755.0,1168.3 2757.5,1173.6 2760.1,1178.4 2762.7,1182.5 2765.2,1186.9 2767.8,1192.0 2770.3,1196.8 2772.9,1202.2 2775.5,1207.4 2778.0,1211.2 2780.6,1216.1 2783.2,1220.1 2785.7,1223.7 2788.3,1226.8 2790.9,1229.0 2793.4,1231.7 2796.0,1233.9 2798.6,1234.4 2801.1,1236.6 2803.7,1239.2 2806.3,1240.7 2808.8,1242.5 2811.4,1243.2 2814.0,1246.2 2816.5,1249.1 2819.1,1250.2 2821.7,1251.8 2824.2,1253.6 2826.8,1254.1 2829.4,1255.0 2831.9,1255.1 2834.5,1256.1 2837.1,1257.3 2839.6,1257.1 2842.2,1256.8 2844.8,1258.2 2847.3,1258.8 2849.9,1260.0 2852.5,1260.4 2855.0,1260.7 2857.6,1261.3 2860.2,1262.0 2862.7,1262.3 2865.3,1263.9 2867.9,1264.1 2870.4,1264.1 2873.0,1263.9 2875.6,1264.1 2878.1,1265.1 2880.7,1264.7 2883.3,1264.3 2885.8,1264.2 2888.4,1264.2 2890.9,1264.5 2893.5,1264.2 2896.1,1263.8 2898.6,1263.9 2901.2,1263.4 2903.8,1263.0 2906.3,1262.6 2908.9,1263.5 2911.5,1263.8 2914.0,1264.2 2916.6,1265.1 2919.2,1265.3 2921.7,1265.8 2924.3,1266.7 2926.9,1266.4 2929.4,1266.4 2932.0,1266.5 2934.6,1265.3 2937.1,1265.2 2939.7,1263.5 2942.3,1260.5 2944.8,1256.8 2947.4,1256.4 2950.0,1256.4 2952.5,1257.6 2955.1,1259.9 2957.7,1262.1 2960.2,1263.4 2962.8,1263.6 2965.4,1263.6 2967.9,1264.2 2970.5,1266.1 2973.1,1267.0 2975.6,1267.3 2978.2,1267.5 2980.8,1269.1 2983.3,1268.9 2985.9,1269.5 2988.5,1269.8 2991.0,1269.2 2993.6,1269.1" stroke="#ff1088"/>
<polyline points="2057.0,1170.4 2059.6,1168.9 2062.1,1167.3 2064.7,1165.6 2067.3,1164.4 2069.8,1163.0 2072.4,1165.5 2075.0,1168.5 2077.5,1169.7 2080.1,1172.6 2082.7,1175.2 2085.2,1178.3 2087.8,1180.5 2090.4,1182.5 2092.9,1183.9 2095.5,1186.0 2098.1,1187.3 2100.6,1189.6 2103.2,1190.7 2105.8,1193.2 2108.3,1194.6 2110.9,1196.5 2113.5,1198.2 2116.0,1200.0 2118.6,1201.0 2121.2,1202.7 2123.7,1204.0 2126.3,1204.7 2128.8,1204.8 2131.4,1204.5 2134.0,1204.0 2136.5,1204.2 2139.1,1203.5 2141.7,1202.6 2144.2,1202.0 2146.8,1200.4 2149.4,1199.8 2151.9,1199.3 2154.5,1198.1 2157.1,1196.4 2159.6,1194.4 2162.2,1192.5 2164.8,1190.9 2167.3,1190.1 2169.9,1186.9 2172.5,1185.4 2175.0,1183.8 2177.6,1182.2 2180.2,1181.4 2182.7,1179.3 2185.3,1176.6 2187.9,1174.6 2190.4,1171.6 2193.0,1168.7 2195.6,1165.3 2198.1,1161.0 2200.7,1157.7 2203.3,1153.0 2205.8,1149.7 2208.4,1144.9 2211.0,1140.4 2213.5,1136.7 2216.1,1131.0 2218.7,1125.6 2221.2,1119.6 2223.8,1114.3 2226.4,1108.4 2228.9,1102.1 2231.5,1095.8 2234.1,1090.0 2236.6,1082.9 2239.2,1076.0 2241.8,1065.5 2244.3,1057.6 2246.9,1048.0 2249.4,1038.1 2252.0,1028.7 2254.6,1018.7 2257.1,1007.5 2259.7,997.7 2262.3,986.3 2264.8,975.2 2267.4,961.4 2270.0,947.5 2272.5,933.8 2275.1,919.1 2277.7,904.5 2280.2,889.4 2282.8,875.8 2285.4,862.4 2287.9,847.7 2290.5,833.8 2293.1,821.4 2295.6,808.8 2298.2,797.7 2300.8,781.6 2303.3,769.1 2305.9,757.0 2308.5,746.3 2311.0,734.3 2313.6,722.9 2316.2,710.4 2318.7,702.5 2321.3,692.4 2323.9,684.3 2326.4,674.9 2329.0,665.5 2331.6,656.2 2334.1,648.0 2336.7,638.8 2339.3,629.8 2341.8,618.9 2344.4,609.6 2347.0,604.4 2349.5,597.2 2352.1,589.4 2354.7,584.1 2357.2,579.1 2359.8,573.9 2362.4,568.1 2364.9,562.7 2367.5,558.2 2370.1,554.4 2372.6,550.6 2375.2,547.7 2377.8,542.9 2380.3,539.1 2382.9,533.0 2385.4,527.2 2388.0,523.0 2390.6,520.1 2393.1,511.5 2395.7,508.5 2398.3,503.7 2400.8,499.7 2403.4,497.4 2406.0,490.5 2408.5,481.0 2411.1,476.2 2413.7,471.4 2416.2,465.9 2418.8,460.8 2421.4,450.4 2423.9,445.5 2426.5,439.4 2429.1,434.9 2431.6,427.3 2434.2,418.7 2436.8,411.0 2439.3,406.5 2441.9,402.5 2444.5,398.4 2447.0,390.6 2449.6,384.9 2452.2,380.8 2454.7,375.1 2457.3,370.4 2459.9,361.9 2462.4,356.6 2465.0,351.4 2467.6,345.2 2470.1,341.0 2472.7,334.3 2475.3,329.7 2477.8,323.0 2480.4,316.3 2483.0,309.1 2485.5,303.3 2488.1,300.5 2490.7,298.6 2493.2,293.9 2495.8,293.5 2498.4,290.0 2500.9,290.1 2503.5,287.2 2506.1,282.4 2508.6,277.4 2511.2,273.7 2513.7,274.6 2516.3,274.6 2518.9,273.7 2521.4,272.3 2524.0,271.3 2526.6,276.8 2529.1,283.5 2531.7,283.1 2534.3,285.8 2536.8,288.0 2539.4,295.7 2542.0,300.5 2544.5,306.5 2547.1,317.2 2549.7,329.4 2552.2,337.3 2554.8,347.2 2557.4,358.5 2559.9,368.2 2562.5,379.5 2565.1,388.1 2567.6,393.7 2570.2,404.4 2572.8,411.8 2575.3,419.1 2577.9,428.8 2580.5,434.7 2583.0,440.1 2585.6,448.9 2588.2,454.5 2590.7,462.6 2593.3,468.2 2595.9,478.7 2598.4,487.4 2601.0,492.8 2603.6,501.9 2606.1,511.1 2608.7,519.5 2611.3,529.4 2613.8,532.5 2616.4,542.5 2619.0,554.9 2621.5,563.8 2624.1,575.2 2626.7,587.0 2629.2,600.0 2631.8,614.6 2634.3,626.6 2636.9,637.0 2639.5,648.9 2642.0,661.3 2644.6,677.0 2647.2,686.9 2649.7,700.3 2652.3,711.9 2654.9,726.0 2657.4,739.8 2660.0,755.1 2662.6,768.2 2665.1,783.8 2667.7,798.8 2670.3,813.4 2672.8,826.3 2675.4,841.1 2678.0,854.3 2680.5,867.7 2683.1,879.5 2685.7,894.0 2688.2,907.4 2690.8,923.4 2693.4,935.6 2695.9,947.3 2698.5,958.6 2701.1,971.7 2703.6,981.6 2706.2,993.2 2708.8,1003.3 2711.3,1015.5 2713.9,1026.8 2716.5,1036.7 2719.0,1046.4 2721.6,1056.3 2724.2,1066.3 2726.7,1074.6 2729.3,1083.1 2731.9,1091.6 2734.4,1100.3 2737.0,1108.9 2739.6,1116.4 2742.1,1124.0 2744.7,1131.1 2747.3,1138.1 2749.8,1145.1 2752.4,1151.3 2755.0,1157.6 2757.5,1163.9 2760.1,1169.4 2762.7,1174.5 2765.2,1180.1 2767.8,1185.3 2770.3,1190.9 2772.9,1195.6 2775.5,1200.1 2778.0,1204.7 2780.6,1209.9 2783.2,1213.4 2785.7,1217.3 2788.3,1220.2 2790.9,1223.4 2793.4,1226.9 2796.0,1229.1 2798.6,1231.6 2801.1,1233.9 2803.7,1235.7 2806.3,1237.9 2808.8,1240.3 2811.4,1241.8 2814.0,1243.9 2816.5,1246.0 2819.1,1248.3 2821.7,1250.3 2824.2,1251.9 2826.8,1252.1 2829.4,1253.0 2831.9,1253.4 2834.5,1253.9 2837.1,1254.0 2839.6,1254.2 2842.2,1254.2 2844.8,1255.8 2847.3,1256.2 2849.9,1256.0 2852.5,1255.8 2855.0,1256.0 2857.6,1257.6 2860.2,1259.0 2862.7,1259.1 2865.3,1260.0 2867.9,1261.3 2870.4,1262.3 2873.0,1263.0 2875.6,1262.3 2878.1,1262.1 2880.7,1262.1 2883.3,1261.5 2885.8,1261.1 2888.4,1261.5 2890.9,1261.8 2893.5,1261.6 2896.1,1261.7 2898.6,1261.8 2901.2,1262.7 2903.8,1262.7 2906.3,1262.6 2908.9,1262.8 2911.5,1263.4 2914.0,1263.8 2916.6,1264.1 2919.2,1264.0 2921.7,1265.4 2924.3,1265.4 2926.9,1264.9 2929.4,1265.2 2932.0,1265.3 2934.6,1265.6 2937.1,1265.5 2939.7,1262.9 2942.3,1259.4 2944.8,1256.1 2947.4,1254.4 2950.0,1254.3 2952.5,1254.8 2955.1,1256.4 2957.7,1258.5 2960.2,1260.8 2962.8,1262.4 2965.4,1262.8 2967.9,1264.2 2970.5,1265.7 2973.1,1266.6 2975.6,1267.6 2978.2,1267.9 2980.8,1268.6 2983.3,1269.2 2985.9,1268.4 2988.5,1268.9 2991.0,1269.2 2993.6,1269.0" stroke="#101098"/>
<polyline points="2057.0,1167.9 2059.6,1166.6 2062.1,1165.3 2064.7,1164.6 2067.3,1164.1 2069.8,1163.2 2072.4,1162.8 2075.0,1165.0 2077.5,1165.7 2080.1,1167.6 2082.7,1169.8 2085.2,1173.4 2087.8,1176.6 2090.4,1178.8 2092.9,1181.1 2095.5,1182.9 2098.1,1185.6 2100.6,1187.1 2103.2,1189.0 2105.8,1191.2 2108.3,1192.3 2110.9,1192.9 2113.5,1195.1 2116.0,1195.4 2118.6,1196.9 2121.2,1195.9 2123.7,1195.6 2126.3,1197.6 2128.8,1199.3 2131.4,1199.8 2134.0,1200.2 2136.5,1199.4 2139.1,1200.2 2141.7,1200.8 2144.2,1199.6 2146.8,1197.8 2149.4,1196.0 2151.9,1195.5 2154.5,1194.6 2157.1,1193.2 2159.6,1191.8 2162.2,1190.0 2164.8,1188.8 2167.3,1187.9 2169.9,1185.2 2172.5,1183.8 2175.0,1182.1 2177.6,1179.5 2180.2,1177.9 2182.7,1175.3 2185.3,1172.8 2187.9,1171.0 2190.4,1167.9 2193.0,1163.8 2195.6,1160.8 2198.1,1157.3 2200.7,1154.9 2203.3,1151.0 2205.8,1146.3 2208.4,1141.9 2211.0,1138.0 2213.5,1133.4 2216.1,1128.5 2218.7,1122.9 2221.2,1116.4 2223.8,1111.1 2226.4,1105.5 2228.9,1099.8 2231.5,1092.4 2234.1,1085.7 2236.6,1078.8 2239.2,1071.1 2241.8,1061.6 2244.3,1051.3 2246.9,1041.1 2249.4,1031.7 2252.0,1022.2 2254.6,1009.4 2257.1,999.0 2259.7,986.7 2262.3,976.7 2264.8,965.3 2267.4,953.0 2270.0,937.4 2272.5,924.0 2275.1,910.0 2277.7,896.6 2280.2,880.6 2282.8,863.8 2285.4,849.1 2287.9,834.6 2290.5,820.1 2293.1,805.7 2295.6,791.3 2298.2,778.8 2300.8,767.7 2303.3,755.4 2305.9,744.0 2308.5,732.6 2311.0,720.9 2313.6,709.5 2316.2,696.8 2318.7,685.6 2321.3,672.7 2323.9,660.7 2326.4,649.1 2329.0,638.7 2331.6,631.9 2334.1,625.3 2336.7,615.2 2339.3,606.0 2341.8,598.0 2344.4,590.6 2347.0,582.2 2349.5,572.6 2352.1,563.4 2354.7,556.3 2357.2,550.6 2359.8,545.6 2362.4,541.0 2364.9,537.1 2367.5,532.8 2370.1,529.5 2372.6,524.1 2375.2,519.2 2377.8,513.3 2380.3,508.1 2382.9,502.4 2385.4,494.7 2388.0,487.5 2390.6,483.3 2393.1,476.5 2395.7,472.6 2398.3,465.2 2400.8,459.2 2403.4,456.5 2406.0,453.5 2408.5,449.4 2411.1,446.0 2413.7,440.8 2416.2,438.5 2418.8,434.9 2421.4,429.4 2423.9,420.3 2426.5,412.3 2429.1,404.5 2431.6,398.7 2434.2,392.1 2436.8,384.6 2439.3,378.6 2441.9,373.1 2444.5,368.3 2447.0,363.5 2449.6,357.6 2452.2,350.1 2454.7,342.3 2457.3,334.7 2459.9,330.1 2462.4,323.1 2465.0,317.7 2467.6,310.3 2470.1,303.3 2472.7,301.3 2475.3,297.3 2477.8,290.0 2480.4,285.9 2483.0,279.9 2485.5,273.4 2488.1,272.1 2490.7,267.6 2493.2,266.9 2495.8,263.5 2498.4,258.7 2500.9,257.5 2503.5,256.1 2506.1,252.6 2508.6,244.2 2511.2,238.6 2513.7,236.7 2516.3,235.6 2518.9,234.4 2521.4,234.0 2524.0,234.6 2526.6,245.8 2529.1,249.0 2531.7,254.0 2534.3,256.2 2536.8,260.5 2539.4,263.1 2542.0,269.8 2544.5,273.4 2547.1,283.7 2549.7,289.7 2552.2,302.1 2554.8,312.3 2557.4,324.1 2559.9,333.1 2562.5,342.0 2565.1,346.5 2567.6,358.5 2570.2,365.2 2572.8,372.3 2575.3,381.1 2577.9,386.5 2580.5,393.5 2583.0,403.7 2585.6,408.6 2588.2,419.0 2590.7,427.9 2593.3,434.2 2595.9,443.0 2598.4,450.6 2601.0,458.3 2603.6,470.7 2606.1,477.9 2608.7,488.4 2611.3,497.6 2613.8,509.0 2616.4,522.9 2619.0,532.8 2621.5,541.8 2624.1,554.1 2626.7,562.6 2629.2,576.2 2631.8,588.1 2634.3,599.9 2636.9,613.8 2639.5,627.2 2642.0,643.1 2644.6,656.2 2647.2,668.7 2649.7,682.2 2652.3,696.5 2654.9,708.5 2657.4,722.7 2660.0,731.8 2662.6,748.1 2665.1,762.6 2667.7,776.5 2670.3,789.5 2672.8,806.2 2675.4,821.4 2678.0,835.4 2680.5,848.2 2683.1,864.2 2685.7,880.9 2688.2,893.5 2690.8,906.0 2693.4,919.5 2695.9,935.6 2698.5,949.3 2701.1,960.4 2703.6,970.6 2706.2,984.0 2708.8,996.2 2711.3,1006.7 2713.9,1016.8 2716.5,1028.3 2719.0,1037.8 2721.6,1049.5 2724.2,1059.1 2726.7,1067.7 2729.3,1078.0 2731.9,1085.8 2734.4,1093.4 2737.0,1103.5 2739.6,1110.6 2742.1,1118.9 2744.7,1127.0 2747.3,1134.6 2749.8,1142.1 2752.4,1148.7 2755.0,1154.4 2757.5,1160.5 2760.1,1164.9 2762.7,1171.2 2765.2,1176.2 2767.8,1182.8 2770.3,1188.0 2772.9,1192.7 2775.5,1198.1 2778.0,1202.8 2780.6,1207.3 2783.2,1211.5 2785.7,1215.0 2788.3,1219.0 2790.9,1222.1 2793.4,1223.8 2796.0,1225.9 2798.6,1228.3 2801.1,1230.9 2803.7,1233.0 2806.3,1234.6 2808.8,1237.4 2811.4,1240.0 2814.0,1242.8 2816.5,1244.1 2819.1,1245.6 2821.7,1247.0 2824.2,1248.3 2826.8,1248.7 2829.4,1249.1 2831.9,1250.3 2834.5,1251.3 2837.1,1251.1 2839.6,1251.7 2842.2,1252.2 2844.8,1252.6 2847.3,1253.6 2849.9,1254.6 2852.5,1254.4 2855.0,1255.4 2857.6,1255.7 2860.2,1256.1 2862.7,1257.2 2865.3,1258.3 2867.9,1258.1 2870.4,1259.1 2873.0,1259.7 2875.6,1260.3 2878.1,1260.6 2880.7,1260.0 2883.3,1259.3 2885.8,1260.0 2888.4,1260.0 2890.9,1259.9 2893.5,1260.3 2896.1,1260.5 2898.6,1260.7 2901.2,1260.9 2903.8,1261.0 2906.3,1261.4 2908.9,1261.4 2911.5,1261.4 2914.0,1261.9 2916.6,1262.3 2919.2,1263.1 2921.7,1263.4 2924.3,1263.2 2926.9,1262.8 2929.4,1262.5 2932.0,1262.5 2934.6,1262.2 2937.1,1261.9 2939.7,1258.7 2942.3,1255.7 2944.8,1252.6 2947.4,1251.2 2950.0,1252.4 2952.5,1254.8 2955.1,1257.9 2957.7,1260.8 2960.2,1262.3 2962.8,1263.3 2965.4,1264.4 2967.9,1264.1 2970.5,1264.7 2973.1,1264.0 2975.6,1264.5 2978.2,1266.3 2980.8,1267.4 2983.3,1267.9 2985.9,1269.0 2988.5,1269.4 2991.0,1270.0 2993.6,1270.1" stroke="#c4c4c4"/>
</g>
<path d="M2621 338 V1272" stroke="#7c7c7c" stroke-width="8" stroke-dasharray="17 13" fill="none" opacity=".8"/>
<path d="M2690 338 V1272" stroke="#7c7c7c" stroke-width="8" stroke-dasharray="17 13" fill="none" opacity=".8"/>
<path d="M2110 232.7 H2146" stroke="#101010" stroke-width="10"/>
<path d="M2110 296.8 H2146" stroke="#ff1010" stroke-width="10"/>
<path d="M2110 360.9 H2146" stroke="#10f010" stroke-width="10"/>
<path d="M2110 425.0 H2146" stroke="#2020ff" stroke-width="10"/>
<path d="M2110 489.1 H2146" stroke="#10f0f0" stroke-width="10"/>
<path d="M2110 553.2 H2146" stroke="#ff20f0" stroke-width="10"/>
<path d="M2110 617.3 H2146" stroke="#ffff10" stroke-width="10"/>
<path d="M2110 681.4 H2146" stroke="#808010" stroke-width="10"/>
<path d="M2110 745.5 H2146" stroke="#101090" stroke-width="10"/>
<path d="M2784 175.6 H2822" stroke="#901090" stroke-width="10"/>
<path d="M2784 239.7 H2822" stroke="#8c1010" stroke-width="10"/>
<path d="M2784 303.8 H2822" stroke="#108a10" stroke-width="10"/>
<path d="M2784 367.9 H2822" stroke="#108888" stroke-width="10"/>
<path d="M2784 432.0 H2822" stroke="#101098" stroke-width="10"/>
<path d="M2784 496.1 H2822" stroke="#ff8410" stroke-width="10"/>
<path d="M2784 560.2 H2822" stroke="#8a10ff" stroke-width="10"/>
<path d="M2784 624.3 H2822" stroke="#ff1088" stroke-width="10"/>
<path d="M2784 688.4 H2822" stroke="#101098" stroke-width="10"/>
<path d="M2784 752.5 H2822" stroke="#c4c4c4" stroke-width="10"/>
<path d="M2566 906.5 H2600 M2752 911 H2716" stroke="#111" stroke-width="6"/>
<polygon points="2617,906.5 2590,897 2590,916" fill="#111"/>
<polygon points="2694,911 2722,901.5 2722,920.5" fill="#111"/>
</g>
<text x="1875.0" y="55.0" font-size="50" fill="#000" textLength="61.0" lengthAdjust="spacingAndGlyphs">(c)</text>
<text x="1980.0" y="977.8" font-size="49" fill="#000" textLength="50.0" lengthAdjust="spacingAndGlyphs">10</text>
<text x="1980.0" y="668.6" font-size="49" fill="#000" textLength="50.0" lengthAdjust="spacingAndGlyphs">20</text>
<text x="1980.0" y="359.4" font-size="49" fill="#000" textLength="50.0" lengthAdjust="spacingAndGlyphs">30</text>
<text x="1980.0" y="51.2" font-size="49" fill="#000" textLength="50.0" lengthAdjust="spacingAndGlyphs">40</text>
<text x="2007.0" y="1291.0" font-size="49" fill="#000" textLength="24.0" lengthAdjust="spacingAndGlyphs">0</text>
<text x="2057.0" y="1333.0" font-size="49" fill="#000" textLength="50.0" lengthAdjust="spacingAndGlyphs" text-anchor="middle">10</text>
<text x="2185.3" y="1333.0" font-size="49" fill="#000" textLength="50.0" lengthAdjust="spacingAndGlyphs" text-anchor="middle">11</text>
<text x="2313.6" y="1333.0" font-size="49" fill="#000" textLength="50.0" lengthAdjust="spacingAndGlyphs" text-anchor="middle">12</text>
<text x="2441.9" y="1333.0" font-size="49" fill="#000" textLength="50.0" lengthAdjust="spacingAndGlyphs" text-anchor="middle">13</text>
<text x="2570.2" y="1333.0" font-size="49" fill="#000" textLength="50.0" lengthAdjust="spacingAndGlyphs" text-anchor="middle">14</text>
<text x="2698.5" y="1333.0" font-size="49" fill="#000" textLength="50.0" lengthAdjust="spacingAndGlyphs" text-anchor="middle">15</text>
<text x="2826.8" y="1333.0" font-size="49" fill="#000" textLength="50.0" lengthAdjust="spacingAndGlyphs" text-anchor="middle">16</text>
<text x="2955.1" y="1333.0" font-size="49" fill="#000" textLength="50.0" lengthAdjust="spacingAndGlyphs" text-anchor="middle">17</text>
<text x="2343.0" y="1408.0" font-size="49" fill="#000" textLength="376.0" lengthAdjust="spacingAndGlyphs">Wavelength/µm</text>
<text transform="translate(1929,946) rotate(-90)" font-size="49"><tspan x="0" y="0" textLength="439" lengthAdjust="spacingAndGlyphs">Photocurrent/arb.</tspan><tspan font-size="20"> </tspan><tspan x="466" y="0" textLength="115" lengthAdjust="spacingAndGlyphs">units</tspan></text>
<text fill="#000"><tspan x="2105.5" y="180.0" font-size="49" textLength="213.0" lengthAdjust="spacingAndGlyphs">Polarizer</tspan><tspan font-size="20"> </tspan><tspan x="2339.0" y="180.0" font-size="49" textLength="211.0" lengthAdjust="spacingAndGlyphs">angle/(°)</tspan></text>
<text fill="#000"><tspan x="2163.2" y="245.7" font-size="49" textLength="36.5" lengthAdjust="spacingAndGlyphs">−</tspan><tspan x="2208.0" y="245.7" font-size="49" textLength="51.5" lengthAdjust="spacingAndGlyphs">90</tspan></text>
<text fill="#000"><tspan x="2163.2" y="309.8" font-size="49" textLength="36.5" lengthAdjust="spacingAndGlyphs">−</tspan><tspan x="2208.0" y="309.8" font-size="49" textLength="51.5" lengthAdjust="spacingAndGlyphs">80</tspan></text>
<text fill="#000"><tspan x="2163.2" y="373.9" font-size="49" textLength="36.5" lengthAdjust="spacingAndGlyphs">−</tspan><tspan x="2208.0" y="373.9" font-size="49" textLength="51.5" lengthAdjust="spacingAndGlyphs">70</tspan></text>
<text fill="#000"><tspan x="2163.2" y="438.0" font-size="49" textLength="36.5" lengthAdjust="spacingAndGlyphs">−</tspan><tspan x="2208.0" y="438.0" font-size="49" textLength="51.5" lengthAdjust="spacingAndGlyphs">60</tspan></text>
<text fill="#000"><tspan x="2163.2" y="502.1" font-size="49" textLength="36.5" lengthAdjust="spacingAndGlyphs">−</tspan><tspan x="2208.0" y="502.1" font-size="49" textLength="51.5" lengthAdjust="spacingAndGlyphs">50</tspan></text>
<text fill="#000"><tspan x="2163.2" y="566.2" font-size="49" textLength="36.5" lengthAdjust="spacingAndGlyphs">−</tspan><tspan x="2208.0" y="566.2" font-size="49" textLength="51.5" lengthAdjust="spacingAndGlyphs">40</tspan></text>
<text fill="#000"><tspan x="2163.2" y="630.3" font-size="49" textLength="36.5" lengthAdjust="spacingAndGlyphs">−</tspan><tspan x="2208.0" y="630.3" font-size="49" textLength="51.5" lengthAdjust="spacingAndGlyphs">30</tspan></text>
<text fill="#000"><tspan x="2163.2" y="694.4" font-size="49" textLength="36.5" lengthAdjust="spacingAndGlyphs">−</tspan><tspan x="2208.0" y="694.4" font-size="49" textLength="51.5" lengthAdjust="spacingAndGlyphs">20</tspan></text>
<text fill="#000"><tspan x="2163.2" y="758.5" font-size="49" textLength="36.5" lengthAdjust="spacingAndGlyphs">−</tspan><tspan x="2208.0" y="758.5" font-size="49" textLength="51.5" lengthAdjust="spacingAndGlyphs">10</tspan></text>
<text x="2845.0" y="189.6" font-size="49" fill="#000" textLength="25.7" lengthAdjust="spacingAndGlyphs">0</text>
<text x="2845.0" y="253.7" font-size="49" fill="#000" textLength="51.4" lengthAdjust="spacingAndGlyphs">10</text>
<text x="2845.0" y="317.8" font-size="49" fill="#000" textLength="51.4" lengthAdjust="spacingAndGlyphs">20</text>
<text x="2845.0" y="381.9" font-size="49" fill="#000" textLength="51.4" lengthAdjust="spacingAndGlyphs">30</text>
<text x="2845.0" y="446.0" font-size="49" fill="#000" textLength="51.4" lengthAdjust="spacingAndGlyphs">40</text>
<text x="2845.0" y="510.1" font-size="49" fill="#000" textLength="51.4" lengthAdjust="spacingAndGlyphs">50</text>
<text x="2845.0" y="574.2" font-size="49" fill="#000" textLength="51.4" lengthAdjust="spacingAndGlyphs">60</text>
<text x="2845.0" y="638.3" font-size="49" fill="#000" textLength="51.4" lengthAdjust="spacingAndGlyphs">70</text>
<text x="2845.0" y="702.4" font-size="49" fill="#000" textLength="51.4" lengthAdjust="spacingAndGlyphs">80</text>
<text x="2845.0" y="766.5" font-size="49" fill="#000" textLength="51.4" lengthAdjust="spacingAndGlyphs">90</text>
<text fill="#000"><tspan x="2776.5" y="889.0" font-size="49" textLength="93.0" lengthAdjust="spacingAndGlyphs">14.2</tspan><tspan x="2877.0" y="889.0" font-size="49" textLength="41.0" lengthAdjust="spacingAndGlyphs">−</tspan></text>
<text fill="#000"><tspan x="2776.5" y="945.0" font-size="49" textLength="93.0" lengthAdjust="spacingAndGlyphs">14.9</tspan><tspan font-size="20"> </tspan><tspan x="2893.5" y="945.0" font-size="49" textLength="68.0" lengthAdjust="spacingAndGlyphs">µm</tspan></text>
<defs>
<filter id="dBl1" x="-5%" y="-5%" width="110%" height="110%"><feGaussianBlur stdDeviation="1.3"/></filter>
<filter id="dBl2" x="-5%" y="-5%" width="110%" height="110%"><feGaussianBlur stdDeviation="2.2"/></filter>
<filter id="dBl3" x="-20%" y="-20%" width="140%" height="140%"><feGaussianBlur stdDeviation="3"/></filter>
<filter id="dBl4" x="-20%" y="-20%" width="140%" height="140%"><feGaussianBlur stdDeviation="4"/></filter>
<filter id="dBl5" x="-20%" y="-20%" width="140%" height="140%"><feGaussianBlur stdDeviation="5"/></filter>
<filter id="dBl6" x="-20%" y="-20%" width="140%" height="140%"><feGaussianBlur stdDeviation="7"/></filter>
<filter id="dBl10" x="-20%" y="-20%" width="140%" height="140%"><feGaussianBlur stdDeviation="12"/></filter>
<clipPath id="dPanel"><rect x="0" y="0" width="656" height="656"/></clipPath>
<linearGradient id="d1bg" x1="0" x2="1" y1="0" y2="0"><stop offset="0" stop-color="#60c8f0"/><stop offset=".08" stop-color="#84e4e4"/><stop offset=".26" stop-color="#b0e488"/><stop offset=".36" stop-color="#c4e254"/><stop offset=".5" stop-color="#d4e040"/><stop offset=".64" stop-color="#c4e254"/><stop offset=".74" stop-color="#b0e488"/><stop offset=".92" stop-color="#84e4e4"/><stop offset="1" stop-color="#60c8f0"/></linearGradient>
<linearGradient id="d2mid" gradientUnits="userSpaceOnUse" x1="58" x2="604"><stop offset="0.0000" stop-color="#2c2c98" stop-opacity="0"/><stop offset="0.0769" stop-color="#2c2c98" stop-opacity="0"/><stop offset="0.1795" stop-color="#3a58c8" stop-opacity="1"/><stop offset="0.2436" stop-color="#50a0e4" stop-opacity="1"/><stop offset="0.3077" stop-color="#80d8f0" stop-opacity="1"/><stop offset="0.4194" stop-color="#98e4f0" stop-opacity="1"/><stop offset="0.5000" stop-color="#98e4f0" stop-opacity="1"/><stop offset="0.5000" stop-color="#98e4f0" stop-opacity="1"/><stop offset="0.5806" stop-color="#98e4f0" stop-opacity="1"/><stop offset="0.6923" stop-color="#80d8f0" stop-opacity="1"/><stop offset="0.7564" stop-color="#50a0e4" stop-opacity="1"/><stop offset="0.8205" stop-color="#3a58c8" stop-opacity="1"/><stop offset="0.9231" stop-color="#2c2c98" stop-opacity="0"/><stop offset="1.0000" stop-color="#2c2c98" stop-opacity="0"/></linearGradient>
<linearGradient id="d2top" gradientUnits="userSpaceOnUse" x1="58" x2="604"><stop offset="0.0000" stop-color="#2c2c98" stop-opacity="0"/><stop offset="0.1685" stop-color="#2c2c98" stop-opacity="0"/><stop offset="0.2198" stop-color="#3450bc" stop-opacity="1"/><stop offset="0.2784" stop-color="#58b8ec" stop-opacity="1"/><stop offset="0.3425" stop-color="#80dcf0" stop-opacity="1"/><stop offset="0.5000" stop-color="#80dcf0" stop-opacity="1"/><stop offset="0.5000" stop-color="#80dcf0" stop-opacity="1"/><stop offset="0.6575" stop-color="#80dcf0" stop-opacity="1"/><stop offset="0.7216" stop-color="#58b8ec" stop-opacity="1"/><stop offset="0.7802" stop-color="#3450bc" stop-opacity="1"/><stop offset="0.8315" stop-color="#2c2c98" stop-opacity="0"/><stop offset="1.0000" stop-color="#2c2c98" stop-opacity="0"/></linearGradient>
<linearGradient id="dCb" x1="0" x2="0" y1="0" y2="1"><stop offset="0" stop-color="#701818"/><stop offset=".06" stop-color="#a01c14"/><stop offset=".14" stop-color="#dc2c14"/><stop offset=".2" stop-color="#e83410"/><stop offset=".27" stop-color="#f87010"/><stop offset=".33" stop-color="#fcb010"/><stop offset=".39" stop-color="#f4e018"/><stop offset=".45" stop-color="#c8e020"/><stop offset=".52" stop-color="#88e470"/><stop offset=".6" stop-color="#70e4d8"/><stop offset=".68" stop-color="#70d0f0"/><stop offset=".76" stop-color="#3898e0"/><stop offset=".84" stop-color="#3860c8"/><stop offset=".93" stop-color="#3038a8"/><stop offset="1" stop-color="#2c2c98"/></linearGradient>
</defs>
<defs><clipPath id="dField0"><rect x="56.5" y="114.5" width="547.0" height="402.0"/></clipPath><clipPath id="dHc0"><path d="M213.7 0 H436.0 V79 H213.7Z M213.7 562 H436.0 V656 H213.7Z M315.0 77 H341.0 V114.5 H315.0Z M315.0 516.5 H341.0 V564 H315.0Z"/></clipPath></defs>
<g transform="translate(436,1582)" clip-path="url(#dPanel)">
<rect x="0.0" y="0.0" width="656.0" height="656.0" fill="#dedaf2" />
<g clip-path="url(#dHc0)" filter="url(#dBl2)"><path d="M219.8 2.2 L212.0 15.8 L196.3 15.8 L188.4 2.2 L196.3 -11.4 L212.0 -11.4Z M219.8 29.3 L212.0 42.9 L196.3 42.9 L188.4 29.3 L196.3 15.8 L212.0 15.7Z M219.8 56.5 L212.0 70.1 L196.3 70.1 L188.4 56.5 L196.3 42.9 L212.0 42.9Z M219.8 83.7 L212.0 97.3 L196.3 97.3 L188.4 83.7 L196.3 70.1 L212.0 70.1Z M219.8 110.9 L212.0 124.5 L196.3 124.5 L188.4 110.9 L196.3 97.3 L212.0 97.3Z M219.8 138.1 L212.0 151.7 L196.3 151.7 L188.4 138.1 L196.3 124.5 L212.0 124.5Z M219.8 165.3 L212.0 178.9 L196.3 178.9 L188.4 165.3 L196.3 151.7 L212.0 151.7Z M219.8 192.5 L212.0 206.1 L196.3 206.1 L188.4 192.5 L196.3 178.9 L212.0 178.9Z M219.8 219.7 L212.0 233.3 L196.3 233.3 L188.4 219.7 L196.3 206.1 L212.0 206.1Z M219.8 246.9 L212.0 260.5 L196.3 260.5 L188.4 246.9 L196.3 233.3 L212.0 233.3Z M219.8 274.1 L212.0 287.7 L196.3 287.7 L188.4 274.1 L196.3 260.5 L212.0 260.5Z M219.8 301.3 L212.0 314.9 L196.3 314.9 L188.4 301.3 L196.3 287.7 L212.0 287.7Z M219.8 328.5 L212.0 342.1 L196.3 342.1 L188.4 328.5 L196.3 314.9 L212.0 314.9Z M219.8 355.7 L212.0 369.3 L196.3 369.3 L188.4 355.7 L196.3 342.1 L212.0 342.1Z M219.8 382.9 L212.0 396.5 L196.3 396.5 L188.4 382.9 L196.3 369.3 L212.0 369.3Z M219.8 410.1 L212.0 423.6 L196.3 423.6 L188.4 410.1 L196.3 396.5 L212.0 396.5Z M219.8 437.2 L212.0 450.8 L196.3 450.8 L188.4 437.2 L196.3 423.6 L212.0 423.6Z M219.8 464.4 L212.0 478.0 L196.3 478.0 L188.4 464.4 L196.3 450.8 L212.0 450.8Z M219.8 491.6 L212.0 505.2 L196.3 505.2 L188.4 491.6 L196.3 478.0 L212.0 478.0Z M219.8 518.8 L212.0 532.4 L196.3 532.4 L188.4 518.8 L196.3 505.2 L212.0 505.2Z M219.8 546.0 L212.0 559.6 L196.3 559.6 L188.4 546.0 L196.3 532.4 L212.0 532.4Z M219.8 573.2 L212.0 586.8 L196.3 586.8 L188.4 573.2 L196.3 559.6 L212.0 559.6Z M219.8 600.4 L212.0 614.0 L196.3 614.0 L188.4 600.4 L196.3 586.8 L212.0 586.8Z M219.8 627.6 L212.0 641.2 L196.3 641.2 L188.4 627.6 L196.3 614.0 L212.0 614.0Z M219.8 654.8 L212.0 668.4 L196.3 668.4 L188.4 654.8 L196.3 641.2 L212.0 641.2Z M219.8 682.0 L212.0 695.6 L196.3 695.6 L188.4 682.0 L196.3 668.4 L212.0 668.4Z M219.8 709.2 L212.0 722.8 L196.3 722.8 L188.4 709.2 L196.3 695.6 L212.0 695.6Z M219.8 736.4 L212.0 750.0 L196.3 750.0 L188.4 736.4 L196.3 722.8 L212.0 722.8Z M243.4 -11.4 L235.5 2.2 L219.8 2.2 L212.0 -11.4 L219.8 -25.0 L235.5 -25.0Z M243.4 15.8 L235.5 29.3 L219.8 29.3 L212.0 15.8 L219.8 2.2 L235.5 2.2Z M243.4 42.9 L235.5 56.5 L219.8 56.5 L212.0 42.9 L219.8 29.3 L235.5 29.3Z M243.4 70.1 L235.5 83.7 L219.8 83.7 L212.0 70.1 L219.8 56.5 L235.5 56.5Z M243.4 97.3 L235.5 110.9 L219.8 110.9 L212.0 97.3 L219.8 83.7 L235.5 83.7Z M243.4 124.5 L235.5 138.1 L219.8 138.1 L212.0 124.5 L219.8 110.9 L235.5 110.9Z M243.4 151.7 L235.5 165.3 L219.8 165.3 L212.0 151.7 L219.8 138.1 L235.5 138.1Z M243.4 178.9 L235.5 192.5 L219.8 192.5 L212.0 178.9 L219.8 165.3 L235.5 165.3Z M243.4 206.1 L235.5 219.7 L219.8 219.7 L212.0 206.1 L219.8 192.5 L235.5 192.5Z M243.4 233.3 L235.5 246.9 L219.8 246.9 L212.0 233.3 L219.8 219.7 L235.5 219.7Z M243.4 260.5 L235.5 274.1 L219.8 274.1 L212.0 260.5 L219.8 246.9 L235.5 246.9Z M243.4 287.7 L235.5 301.3 L219.8 301.3 L212.0 287.7 L219.8 274.1 L235.5 274.1Z M243.4 314.9 L235.5 328.5 L219.8 328.5 L212.0 314.9 L219.8 301.3 L235.5 301.3Z M243.4 342.1 L235.5 355.7 L219.8 355.7 L212.0 342.1 L219.8 328.5 L235.5 328.5Z M243.4 369.3 L235.5 382.9 L219.8 382.9 L212.0 369.3 L219.8 355.7 L235.5 355.7Z M243.4 396.5 L235.5 410.1 L219.8 410.1 L212.0 396.5 L219.8 382.9 L235.5 382.9Z M243.4 423.6 L235.5 437.2 L219.8 437.2 L212.0 423.6 L219.8 410.1 L235.5 410.1Z M243.4 450.8 L235.5 464.4 L219.8 464.4 L212.0 450.8 L219.8 437.2 L235.5 437.2Z M243.4 478.0 L235.5 491.6 L219.8 491.6 L212.0 478.0 L219.8 464.4 L235.5 464.4Z M243.4 505.2 L235.5 518.8 L219.8 518.8 L212.0 505.2 L219.8 491.6 L235.5 491.6Z M243.4 532.4 L235.5 546.0 L219.8 546.0 L212.0 532.4 L219.8 518.8 L235.5 518.8Z M243.4 559.6 L235.5 573.2 L219.8 573.2 L212.0 559.6 L219.8 546.0 L235.5 546.0Z M243.4 586.8 L235.5 600.4 L219.8 600.4 L212.0 586.8 L219.8 573.2 L235.5 573.2Z M243.4 614.0 L235.5 627.6 L219.8 627.6 L212.0 614.0 L219.8 600.4 L235.5 600.4Z M243.4 641.2 L235.5 654.8 L219.8 654.8 L212.0 641.2 L219.8 627.6 L235.5 627.6Z M243.4 668.4 L235.5 682.0 L219.8 682.0 L212.0 668.4 L219.8 654.8 L235.5 654.8Z M243.4 695.6 L235.5 709.2 L219.8 709.2 L212.0 695.6 L219.8 682.0 L235.5 682.0Z M243.4 722.8 L235.5 736.4 L219.8 736.4 L212.0 722.8 L219.8 709.2 L235.5 709.2Z M266.9 2.2 L259.1 15.8 L243.4 15.8 L235.6 2.2 L243.4 -11.4 L259.1 -11.4Z M266.9 29.3 L259.1 42.9 L243.4 42.9 L235.6 29.3 L243.4 15.8 L259.1 15.7Z M266.9 56.5 L259.1 70.1 L243.4 70.1 L235.6 56.5 L243.4 42.9 L259.1 42.9Z M266.9 83.7 L259.1 97.3 L243.4 97.3 L235.6 83.7 L243.4 70.1 L259.1 70.1Z M266.9 110.9 L259.1 124.5 L243.4 124.5 L235.6 110.9 L243.4 97.3 L259.1 97.3Z M266.9 138.1 L259.1 151.7 L243.4 151.7 L235.6 138.1 L243.4 124.5 L259.1 124.5Z M266.9 165.3 L259.1 178.9 L243.4 178.9 L235.6 165.3 L243.4 151.7 L259.1 151.7Z M266.9 192.5 L259.1 206.1 L243.4 206.1 L235.6 192.5 L243.4 178.9 L259.1 178.9Z M266.9 219.7 L259.1 233.3 L243.4 233.3 L235.6 219.7 L243.4 206.1 L259.1 206.1Z M266.9 246.9 L259.1 260.5 L243.4 260.5 L235.6 246.9 L243.4 233.3 L259.1 233.3Z M266.9 274.1 L259.1 287.7 L243.4 287.7 L235.6 274.1 L243.4 260.5 L259.1 260.5Z M266.9 301.3 L259.1 314.9 L243.4 314.9 L235.6 301.3 L243.4 287.7 L259.1 287.7Z M266.9 328.5 L259.1 342.1 L243.4 342.1 L235.6 328.5 L243.4 314.9 L259.1 314.9Z M266.9 355.7 L259.1 369.3 L243.4 369.3 L235.6 355.7 L243.4 342.1 L259.1 342.1Z M266.9 382.9 L259.1 396.5 L243.4 396.5 L235.6 382.9 L243.4 369.3 L259.1 369.3Z M266.9 410.1 L259.1 423.6 L243.4 423.6 L235.6 410.1 L243.4 396.5 L259.1 396.5Z M266.9 437.2 L259.1 450.8 L243.4 450.8 L235.6 437.2 L243.4 423.6 L259.1 423.6Z M266.9 464.4 L259.1 478.0 L243.4 478.0 L235.6 464.4 L243.4 450.8 L259.1 450.8Z M266.9 491.6 L259.1 505.2 L243.4 505.2 L235.6 491.6 L243.4 478.0 L259.1 478.0Z M266.9 518.8 L259.1 532.4 L243.4 532.4 L235.6 518.8 L243.4 505.2 L259.1 505.2Z M266.9 546.0 L259.1 559.6 L243.4 559.6 L235.6 546.0 L243.4 532.4 L259.1 532.4Z M266.9 573.2 L259.1 586.8 L243.4 586.8 L235.6 573.2 L243.4 559.6 L259.1 559.6Z M266.9 600.4 L259.1 614.0 L243.4 614.0 L235.6 600.4 L243.4 586.8 L259.1 586.8Z M266.9 627.6 L259.1 641.2 L243.4 641.2 L235.6 627.6 L243.4 614.0 L259.1 614.0Z M266.9 654.8 L259.1 668.4 L243.4 668.4 L235.6 654.8 L243.4 641.2 L259.1 641.2Z M266.9 682.0 L259.1 695.6 L243.4 695.6 L235.6 682.0 L243.4 668.4 L259.1 668.4Z M266.9 709.2 L259.1 722.8 L243.4 722.8 L235.6 709.2 L243.4 695.6 L259.1 695.6Z M266.9 736.4 L259.1 750.0 L243.4 750.0 L235.6 736.4 L243.4 722.8 L259.1 722.8Z M290.5 -11.4 L282.6 2.2 L266.9 2.2 L259.1 -11.4 L266.9 -25.0 L282.6 -25.0Z M290.5 15.8 L282.6 29.3 L266.9 29.3 L259.1 15.8 L266.9 2.2 L282.6 2.2Z M290.5 42.9 L282.6 56.5 L266.9 56.5 L259.1 42.9 L266.9 29.3 L282.6 29.3Z M290.5 70.1 L282.6 83.7 L266.9 83.7 L259.1 70.1 L266.9 56.5 L282.6 56.5Z M290.5 97.3 L282.6 110.9 L266.9 110.9 L259.1 97.3 L266.9 83.7 L282.6 83.7Z M290.5 124.5 L282.6 138.1 L266.9 138.1 L259.1 124.5 L266.9 110.9 L282.6 110.9Z M290.5 151.7 L282.6 165.3 L266.9 165.3 L259.1 151.7 L266.9 138.1 L282.6 138.1Z M290.5 178.9 L282.6 192.5 L266.9 192.5 L259.1 178.9 L266.9 165.3 L282.6 165.3Z M290.5 206.1 L282.6 219.7 L266.9 219.7 L259.1 206.1 L266.9 192.5 L282.6 192.5Z M290.5 233.3 L282.6 246.9 L266.9 246.9 L259.1 233.3 L266.9 219.7 L282.6 219.7Z M290.5 260.5 L282.6 274.1 L266.9 274.1 L259.1 260.5 L266.9 246.9 L282.6 246.9Z M290.5 287.7 L282.6 301.3 L266.9 301.3 L259.1 287.7 L266.9 274.1 L282.6 274.1Z M290.5 314.9 L282.6 328.5 L266.9 328.5 L259.1 314.9 L266.9 301.3 L282.6 301.3Z M290.5 342.1 L282.6 355.7 L266.9 355.7 L259.1 342.1 L266.9 328.5 L282.6 328.5Z M290.5 369.3 L282.6 382.9 L266.9 382.9 L259.1 369.3 L266.9 355.7 L282.6 355.7Z M290.5 396.5 L282.6 410.1 L266.9 410.1 L259.1 396.5 L266.9 382.9 L282.6 382.9Z M290.5 423.6 L282.6 437.2 L266.9 437.2 L259.1 423.6 L266.9 410.1 L282.6 410.1Z M290.5 450.8 L282.6 464.4 L266.9 464.4 L259.1 450.8 L266.9 437.2 L282.6 437.2Z M290.5 478.0 L282.6 491.6 L266.9 491.6 L259.1 478.0 L266.9 464.4 L282.6 464.4Z M290.5 505.2 L282.6 518.8 L266.9 518.8 L259.1 505.2 L266.9 491.6 L282.6 491.6Z M290.5 532.4 L282.6 546.0 L266.9 546.0 L259.1 532.4 L266.9 518.8 L282.6 518.8Z M290.5 559.6 L282.6 573.2 L266.9 573.2 L259.1 559.6 L266.9 546.0 L282.6 546.0Z M290.5 586.8 L282.6 600.4 L266.9 600.4 L259.1 586.8 L266.9 573.2 L282.6 573.2Z M290.5 614.0 L282.6 627.6 L266.9 627.6 L259.1 614.0 L266.9 600.4 L282.6 600.4Z M290.5 641.2 L282.6 654.8 L266.9 654.8 L259.1 641.2 L266.9 627.6 L282.6 627.6Z M290.5 668.4 L282.6 682.0 L266.9 682.0 L259.1 668.4 L266.9 654.8 L282.6 654.8Z M290.5 695.6 L282.6 709.2 L266.9 709.2 L259.1 695.6 L266.9 682.0 L282.6 682.0Z M290.5 722.8 L282.6 736.4 L266.9 736.4 L259.1 722.8 L266.9 709.2 L282.6 709.2Z M314.0 2.2 L306.2 15.8 L290.5 15.8 L282.6 2.2 L290.5 -11.4 L306.2 -11.4Z M314.0 29.3 L306.2 42.9 L290.5 42.9 L282.6 29.3 L290.5 15.8 L306.2 15.7Z M314.0 56.5 L306.2 70.1 L290.5 70.1 L282.6 56.5 L290.5 42.9 L306.2 42.9Z M314.0 83.7 L306.2 97.3 L290.5 97.3 L282.6 83.7 L290.5 70.1 L306.2 70.1Z M314.0 110.9 L306.2 124.5 L290.5 124.5 L282.6 110.9 L290.5 97.3 L306.2 97.3Z M314.0 138.1 L306.2 151.7 L290.5 151.7 L282.6 138.1 L290.5 124.5 L306.2 124.5Z M314.0 165.3 L306.2 178.9 L290.5 178.9 L282.6 165.3 L290.5 151.7 L306.2 151.7Z M314.0 192.5 L306.2 206.1 L290.5 206.1 L282.6 192.5 L290.5 178.9 L306.2 178.9Z M314.0 219.7 L306.2 233.3 L290.5 233.3 L282.6 219.7 L290.5 206.1 L306.2 206.1Z M314.0 246.9 L306.2 260.5 L290.5 260.5 L282.6 246.9 L290.5 233.3 L306.2 233.3Z M314.0 274.1 L306.2 287.7 L290.5 287.7 L282.6 274.1 L290.5 260.5 L306.2 260.5Z M314.0 301.3 L306.2 314.9 L290.5 314.9 L282.6 301.3 L290.5 287.7 L306.2 287.7Z M314.0 328.5 L306.2 342.1 L290.5 342.1 L282.6 328.5 L290.5 314.9 L306.2 314.9Z M314.0 355.7 L306.2 369.3 L290.5 369.3 L282.6 355.7 L290.5 342.1 L306.2 342.1Z M314.0 382.9 L306.2 396.5 L290.5 396.5 L282.6 382.9 L290.5 369.3 L306.2 369.3Z M314.0 410.1 L306.2 423.6 L290.5 423.6 L282.6 410.1 L290.5 396.5 L306.2 396.5Z M314.0 437.2 L306.2 450.8 L290.5 450.8 L282.6 437.2 L290.5 423.6 L306.2 423.6Z M314.0 464.4 L306.2 478.0 L290.5 478.0 L282.6 464.4 L290.5 450.8 L306.2 450.8Z M314.0 491.6 L306.2 505.2 L290.5 505.2 L282.6 491.6 L290.5 478.0 L306.2 478.0Z M314.0 518.8 L306.2 532.4 L290.5 532.4 L282.6 518.8 L290.5 505.2 L306.2 505.2Z M314.0 546.0 L306.2 559.6 L290.5 559.6 L282.6 546.0 L290.5 532.4 L306.2 532.4Z M314.0 573.2 L306.2 586.8 L290.5 586.8 L282.6 573.2 L290.5 559.6 L306.2 559.6Z M314.0 600.4 L306.2 614.0 L290.5 614.0 L282.6 600.4 L290.5 586.8 L306.2 586.8Z M314.0 627.6 L306.2 641.2 L290.5 641.2 L282.6 627.6 L290.5 614.0 L306.2 614.0Z M314.0 654.8 L306.2 668.4 L290.5 668.4 L282.6 654.8 L290.5 641.2 L306.2 641.2Z M314.0 682.0 L306.2 695.6 L290.5 695.6 L282.6 682.0 L290.5 668.4 L306.2 668.4Z M314.0 709.2 L306.2 722.8 L290.5 722.8 L282.6 709.2 L290.5 695.6 L306.2 695.6Z M314.0 736.4 L306.2 750.0 L290.5 750.0 L282.6 736.4 L290.5 722.8 L306.2 722.8Z M337.6 -11.4 L329.8 2.2 L314.0 2.2 L306.2 -11.4 L314.0 -25.0 L329.8 -25.0Z M337.6 15.8 L329.8 29.3 L314.0 29.3 L306.2 15.8 L314.0 2.2 L329.8 2.2Z M337.6 42.9 L329.8 56.5 L314.0 56.5 L306.2 42.9 L314.0 29.3 L329.8 29.3Z M337.6 70.1 L329.8 83.7 L314.0 83.7 L306.2 70.1 L314.0 56.5 L329.8 56.5Z M337.6 97.3 L329.8 110.9 L314.0 110.9 L306.2 97.3 L314.0 83.7 L329.8 83.7Z M337.6 124.5 L329.8 138.1 L314.0 138.1 L306.2 124.5 L314.0 110.9 L329.8 110.9Z M337.6 151.7 L329.8 165.3 L314.0 165.3 L306.2 151.7 L314.0 138.1 L329.8 138.1Z M337.6 178.9 L329.8 192.5 L314.0 192.5 L306.2 178.9 L314.0 165.3 L329.8 165.3Z M337.6 206.1 L329.8 219.7 L314.0 219.7 L306.2 206.1 L314.0 192.5 L329.8 192.5Z M337.6 233.3 L329.8 246.9 L314.0 246.9 L306.2 233.3 L314.0 219.7 L329.8 219.7Z M337.6 260.5 L329.8 274.1 L314.0 274.1 L306.2 260.5 L314.0 246.9 L329.8 246.9Z M337.6 287.7 L329.8 301.3 L314.0 301.3 L306.2 287.7 L314.0 274.1 L329.8 274.1Z M337.6 314.9 L329.8 328.5 L314.0 328.5 L306.2 314.9 L314.0 301.3 L329.8 301.3Z M337.6 342.1 L329.8 355.7 L314.0 355.7 L306.2 342.1 L314.0 328.5 L329.8 328.5Z M337.6 369.3 L329.8 382.9 L314.0 382.9 L306.2 369.3 L314.0 355.7 L329.8 355.7Z M337.6 396.5 L329.8 410.1 L314.0 410.1 L306.2 396.5 L314.0 382.9 L329.8 382.9Z M337.6 423.6 L329.8 437.2 L314.0 437.2 L306.2 423.6 L314.0 410.1 L329.8 410.1Z M337.6 450.8 L329.8 464.4 L314.0 464.4 L306.2 450.8 L314.0 437.2 L329.8 437.2Z M337.6 478.0 L329.8 491.6 L314.0 491.6 L306.2 478.0 L314.0 464.4 L329.8 464.4Z M337.6 505.2 L329.8 518.8 L314.0 518.8 L306.2 505.2 L314.0 491.6 L329.8 491.6Z M337.6 532.4 L329.8 546.0 L314.0 546.0 L306.2 532.4 L314.0 518.8 L329.8 518.8Z M337.6 559.6 L329.8 573.2 L314.0 573.2 L306.2 559.6 L314.0 546.0 L329.8 546.0Z M337.6 586.8 L329.8 600.4 L314.0 600.4 L306.2 586.8 L314.0 573.2 L329.8 573.2Z M337.6 614.0 L329.8 627.6 L314.0 627.6 L306.2 614.0 L314.0 600.4 L329.8 600.4Z M337.6 641.2 L329.8 654.8 L314.0 654.8 L306.2 641.2 L314.0 627.6 L329.8 627.6Z M337.6 668.4 L329.8 682.0 L314.0 682.0 L306.2 668.4 L314.0 654.8 L329.8 654.8Z M337.6 695.6 L329.8 709.2 L314.0 709.2 L306.2 695.6 L314.0 682.0 L329.8 682.0Z M337.6 722.8 L329.8 736.4 L314.0 736.4 L306.2 722.8 L314.0 709.2 L329.8 709.2Z M361.1 2.2 L353.3 15.8 L337.6 15.8 L329.8 2.2 L337.6 -11.4 L353.3 -11.4Z M361.1 29.3 L353.3 42.9 L337.6 42.9 L329.8 29.3 L337.6 15.8 L353.3 15.7Z M361.1 56.5 L353.3 70.1 L337.6 70.1 L329.8 56.5 L337.6 42.9 L353.3 42.9Z M361.1 83.7 L353.3 97.3 L337.6 97.3 L329.8 83.7 L337.6 70.1 L353.3 70.1Z M361.1 110.9 L353.3 124.5 L337.6 124.5 L329.8 110.9 L337.6 97.3 L353.3 97.3Z M361.1 138.1 L353.3 151.7 L337.6 151.7 L329.8 138.1 L337.6 124.5 L353.3 124.5Z M361.1 165.3 L353.3 178.9 L337.6 178.9 L329.8 165.3 L337.6 151.7 L353.3 151.7Z M361.1 192.5 L353.3 206.1 L337.6 206.1 L329.8 192.5 L337.6 178.9 L353.3 178.9Z M361.1 219.7 L353.3 233.3 L337.6 233.3 L329.8 219.7 L337.6 206.1 L353.3 206.1Z M361.1 246.9 L353.3 260.5 L337.6 260.5 L329.8 246.9 L337.6 233.3 L353.3 233.3Z M361.1 274.1 L353.3 287.7 L337.6 287.7 L329.8 274.1 L337.6 260.5 L353.3 260.5Z M361.1 301.3 L353.3 314.9 L337.6 314.9 L329.8 301.3 L337.6 287.7 L353.3 287.7Z M361.1 328.5 L353.3 342.1 L337.6 342.1 L329.8 328.5 L337.6 314.9 L353.3 314.9Z M361.1 355.7 L353.3 369.3 L337.6 369.3 L329.8 355.7 L337.6 342.1 L353.3 342.1Z M361.1 382.9 L353.3 396.5 L337.6 396.5 L329.8 382.9 L337.6 369.3 L353.3 369.3Z M361.1 410.1 L353.3 423.6 L337.6 423.6 L329.8 410.1 L337.6 396.5 L353.3 396.5Z M361.1 437.2 L353.3 450.8 L337.6 450.8 L329.8 437.2 L337.6 423.6 L353.3 423.6Z M361.1 464.4 L353.3 478.0 L337.6 478.0 L329.8 464.4 L337.6 450.8 L353.3 450.8Z M361.1 491.6 L353.3 505.2 L337.6 505.2 L329.8 491.6 L337.6 478.0 L353.3 478.0Z M361.1 518.8 L353.3 532.4 L337.6 532.4 L329.8 518.8 L337.6 505.2 L353.3 505.2Z M361.1 546.0 L353.3 559.6 L337.6 559.6 L329.8 546.0 L337.6 532.4 L353.3 532.4Z M361.1 573.2 L353.3 586.8 L337.6 586.8 L329.8 573.2 L337.6 559.6 L353.3 559.6Z M361.1 600.4 L353.3 614.0 L337.6 614.0 L329.8 600.4 L337.6 586.8 L353.3 586.8Z M361.1 627.6 L353.3 641.2 L337.6 641.2 L329.8 627.6 L337.6 614.0 L353.3 614.0Z M361.1 654.8 L353.3 668.4 L337.6 668.4 L329.8 654.8 L337.6 641.2 L353.3 641.2Z M361.1 682.0 L353.3 695.6 L337.6 695.6 L329.8 682.0 L337.6 668.4 L353.3 668.4Z M361.1 709.2 L353.3 722.8 L337.6 722.8 L329.8 709.2 L337.6 695.6 L353.3 695.6Z M361.1 736.4 L353.3 750.0 L337.6 750.0 L329.8 736.4 L337.6 722.8 L353.3 722.8Z M384.7 -11.4 L376.9 2.2 L361.1 2.2 L353.3 -11.4 L361.1 -25.0 L376.9 -25.0Z M384.7 15.8 L376.9 29.3 L361.1 29.3 L353.3 15.8 L361.1 2.2 L376.9 2.2Z M384.7 42.9 L376.9 56.5 L361.1 56.5 L353.3 42.9 L361.1 29.3 L376.9 29.3Z M384.7 70.1 L376.9 83.7 L361.1 83.7 L353.3 70.1 L361.1 56.5 L376.9 56.5Z M384.7 97.3 L376.9 110.9 L361.1 110.9 L353.3 97.3 L361.1 83.7 L376.9 83.7Z M384.7 124.5 L376.9 138.1 L361.1 138.1 L353.3 124.5 L361.1 110.9 L376.9 110.9Z M384.7 151.7 L376.9 165.3 L361.1 165.3 L353.3 151.7 L361.1 138.1 L376.9 138.1Z M384.7 178.9 L376.9 192.5 L361.1 192.5 L353.3 178.9 L361.1 165.3 L376.9 165.3Z M384.7 206.1 L376.9 219.7 L361.1 219.7 L353.3 206.1 L361.1 192.5 L376.9 192.5Z M384.7 233.3 L376.9 246.9 L361.1 246.9 L353.3 233.3 L361.1 219.7 L376.9 219.7Z M384.7 260.5 L376.9 274.1 L361.1 274.1 L353.3 260.5 L361.1 246.9 L376.9 246.9Z M384.7 287.7 L376.9 301.3 L361.1 301.3 L353.3 287.7 L361.1 274.1 L376.9 274.1Z M384.7 314.9 L376.9 328.5 L361.1 328.5 L353.3 314.9 L361.1 301.3 L376.9 301.3Z M384.7 342.1 L376.9 355.7 L361.1 355.7 L353.3 342.1 L361.1 328.5 L376.9 328.5Z M384.7 369.3 L376.9 382.9 L361.1 382.9 L353.3 369.3 L361.1 355.7 L376.9 355.7Z M384.7 396.5 L376.9 410.1 L361.1 410.1 L353.3 396.5 L361.1 382.9 L376.9 382.9Z M384.7 423.6 L376.9 437.2 L361.1 437.2 L353.3 423.6 L361.1 410.1 L376.9 410.1Z M384.7 450.8 L376.9 464.4 L361.1 464.4 L353.3 450.8 L361.1 437.2 L376.9 437.2Z M384.7 478.0 L376.9 491.6 L361.1 491.6 L353.3 478.0 L361.1 464.4 L376.9 464.4Z M384.7 505.2 L376.9 518.8 L361.1 518.8 L353.3 505.2 L361.1 491.6 L376.9 491.6Z M384.7 532.4 L376.9 546.0 L361.1 546.0 L353.3 532.4 L361.1 518.8 L376.9 518.8Z M384.7 559.6 L376.9 573.2 L361.1 573.2 L353.3 559.6 L361.1 546.0 L376.9 546.0Z M384.7 586.8 L376.9 600.4 L361.1 600.4 L353.3 586.8 L361.1 573.2 L376.9 573.2Z M384.7 614.0 L376.9 627.6 L361.1 627.6 L353.3 614.0 L361.1 600.4 L376.9 600.4Z M384.7 641.2 L376.9 654.8 L361.1 654.8 L353.3 641.2 L361.1 627.6 L376.9 627.6Z M384.7 668.4 L376.9 682.0 L361.1 682.0 L353.3 668.4 L361.1 654.8 L376.9 654.8Z M384.7 695.6 L376.9 709.2 L361.1 709.2 L353.3 695.6 L361.1 682.0 L376.9 682.0Z M384.7 722.8 L376.9 736.4 L361.1 736.4 L353.3 722.8 L361.1 709.2 L376.9 709.2Z M408.2 2.2 L400.4 15.8 L384.7 15.8 L376.8 2.2 L384.7 -11.4 L400.4 -11.4Z M408.2 29.3 L400.4 42.9 L384.7 42.9 L376.8 29.3 L384.7 15.8 L400.4 15.7Z M408.2 56.5 L400.4 70.1 L384.7 70.1 L376.8 56.5 L384.7 42.9 L400.4 42.9Z M408.2 83.7 L400.4 97.3 L384.7 97.3 L376.8 83.7 L384.7 70.1 L400.4 70.1Z M408.2 110.9 L400.4 124.5 L384.7 124.5 L376.8 110.9 L384.7 97.3 L400.4 97.3Z M408.2 138.1 L400.4 151.7 L384.7 151.7 L376.8 138.1 L384.7 124.5 L400.4 124.5Z M408.2 165.3 L400.4 178.9 L384.7 178.9 L376.8 165.3 L384.7 151.7 L400.4 151.7Z M408.2 192.5 L400.4 206.1 L384.7 206.1 L376.8 192.5 L384.7 178.9 L400.4 178.9Z M408.2 219.7 L400.4 233.3 L384.7 233.3 L376.8 219.7 L384.7 206.1 L400.4 206.1Z M408.2 246.9 L400.4 260.5 L384.7 260.5 L376.8 246.9 L384.7 233.3 L400.4 233.3Z M408.2 274.1 L400.4 287.7 L384.7 287.7 L376.8 274.1 L384.7 260.5 L400.4 260.5Z M408.2 301.3 L400.4 314.9 L384.7 314.9 L376.8 301.3 L384.7 287.7 L400.4 287.7Z M408.2 328.5 L400.4 342.1 L384.7 342.1 L376.8 328.5 L384.7 314.9 L400.4 314.9Z M408.2 355.7 L400.4 369.3 L384.7 369.3 L376.8 355.7 L384.7 342.1 L400.4 342.1Z M408.2 382.9 L400.4 396.5 L384.7 396.5 L376.8 382.9 L384.7 369.3 L400.4 369.3Z M408.2 410.1 L400.4 423.6 L384.7 423.6 L376.8 410.1 L384.7 396.5 L400.4 396.5Z M408.2 437.2 L400.4 450.8 L384.7 450.8 L376.8 437.2 L384.7 423.6 L400.4 423.6Z M408.2 464.4 L400.4 478.0 L384.7 478.0 L376.8 464.4 L384.7 450.8 L400.4 450.8Z M408.2 491.6 L400.4 505.2 L384.7 505.2 L376.8 491.6 L384.7 478.0 L400.4 478.0Z M408.2 518.8 L400.4 532.4 L384.7 532.4 L376.8 518.8 L384.7 505.2 L400.4 505.2Z M408.2 546.0 L400.4 559.6 L384.7 559.6 L376.8 546.0 L384.7 532.4 L400.4 532.4Z M408.2 573.2 L400.4 586.8 L384.7 586.8 L376.8 573.2 L384.7 559.6 L400.4 559.6Z M408.2 600.4 L400.4 614.0 L384.7 614.0 L376.8 600.4 L384.7 586.8 L400.4 586.8Z M408.2 627.6 L400.4 641.2 L384.7 641.2 L376.8 627.6 L384.7 614.0 L400.4 614.0Z M408.2 654.8 L400.4 668.4 L384.7 668.4 L376.8 654.8 L384.7 641.2 L400.4 641.2Z M408.2 682.0 L400.4 695.6 L384.7 695.6 L376.8 682.0 L384.7 668.4 L400.4 668.4Z M408.2 709.2 L400.4 722.8 L384.7 722.8 L376.8 709.2 L384.7 695.6 L400.4 695.6Z M408.2 736.4 L400.4 750.0 L384.7 750.0 L376.8 736.4 L384.7 722.8 L400.4 722.8Z M431.8 -11.4 L423.9 2.2 L408.2 2.2 L400.4 -11.4 L408.2 -25.0 L423.9 -25.0Z M431.8 15.8 L423.9 29.3 L408.2 29.3 L400.4 15.8 L408.2 2.2 L423.9 2.2Z M431.8 42.9 L423.9 56.5 L408.2 56.5 L400.4 42.9 L408.2 29.3 L423.9 29.3Z M431.8 70.1 L423.9 83.7 L408.2 83.7 L400.4 70.1 L408.2 56.5 L423.9 56.5Z M431.8 97.3 L423.9 110.9 L408.2 110.9 L400.4 97.3 L408.2 83.7 L423.9 83.7Z M431.8 124.5 L423.9 138.1 L408.2 138.1 L400.4 124.5 L408.2 110.9 L423.9 110.9Z M431.8 151.7 L423.9 165.3 L408.2 165.3 L400.4 151.7 L408.2 138.1 L423.9 138.1Z M431.8 178.9 L423.9 192.5 L408.2 192.5 L400.4 178.9 L408.2 165.3 L423.9 165.3Z M431.8 206.1 L423.9 219.7 L408.2 219.7 L400.4 206.1 L408.2 192.5 L423.9 192.5Z M431.8 233.3 L423.9 246.9 L408.2 246.9 L400.4 233.3 L408.2 219.7 L423.9 219.7Z M431.8 260.5 L423.9 274.1 L408.2 274.1 L400.4 260.5 L408.2 246.9 L423.9 246.9Z M431.8 287.7 L423.9 301.3 L408.2 301.3 L400.4 287.7 L408.2 274.1 L423.9 274.1Z M431.8 314.9 L423.9 328.5 L408.2 328.5 L400.4 314.9 L408.2 301.3 L423.9 301.3Z M431.8 342.1 L423.9 355.7 L408.2 355.7 L400.4 342.1 L408.2 328.5 L423.9 328.5Z M431.8 369.3 L423.9 382.9 L408.2 382.9 L400.4 369.3 L408.2 355.7 L423.9 355.7Z M431.8 396.5 L423.9 410.1 L408.2 410.1 L400.4 396.5 L408.2 382.9 L423.9 382.9Z M431.8 423.6 L423.9 437.2 L408.2 437.2 L400.4 423.6 L408.2 410.1 L423.9 410.1Z M431.8 450.8 L423.9 464.4 L408.2 464.4 L400.4 450.8 L408.2 437.2 L423.9 437.2Z M431.8 478.0 L423.9 491.6 L408.2 491.6 L400.4 478.0 L408.2 464.4 L423.9 464.4Z M431.8 505.2 L423.9 518.8 L408.2 518.8 L400.4 505.2 L408.2 491.6 L423.9 491.6Z M431.8 532.4 L423.9 546.0 L408.2 546.0 L400.4 532.4 L408.2 518.8 L423.9 518.8Z M431.8 559.6 L423.9 573.2 L408.2 573.2 L400.4 559.6 L408.2 546.0 L423.9 546.0Z M431.8 586.8 L423.9 600.4 L408.2 600.4 L400.4 586.8 L408.2 573.2 L423.9 573.2Z M431.8 614.0 L423.9 627.6 L408.2 627.6 L400.4 614.0 L408.2 600.4 L423.9 600.4Z M431.8 641.2 L423.9 654.8 L408.2 654.8 L400.4 641.2 L408.2 627.6 L423.9 627.6Z M431.8 668.4 L423.9 682.0 L408.2 682.0 L400.4 668.4 L408.2 654.8 L423.9 654.8Z M431.8 695.6 L423.9 709.2 L408.2 709.2 L400.4 695.6 L408.2 682.0 L423.9 682.0Z M431.8 722.8 L423.9 736.4 L408.2 736.4 L400.4 722.8 L408.2 709.2 L423.9 709.2Z M455.3 2.2 L447.5 15.8 L431.8 15.8 L423.9 2.2 L431.8 -11.4 L447.5 -11.4Z M455.3 29.3 L447.5 42.9 L431.8 42.9 L423.9 29.3 L431.8 15.8 L447.5 15.7Z M455.3 56.5 L447.5 70.1 L431.8 70.1 L423.9 56.5 L431.8 42.9 L447.5 42.9Z M455.3 83.7 L447.5 97.3 L431.8 97.3 L423.9 83.7 L431.8 70.1 L447.5 70.1Z M455.3 110.9 L447.5 124.5 L431.8 124.5 L423.9 110.9 L431.8 97.3 L447.5 97.3Z M455.3 138.1 L447.5 151.7 L431.8 151.7 L423.9 138.1 L431.8 124.5 L447.5 124.5Z M455.3 165.3 L447.5 178.9 L431.8 178.9 L423.9 165.3 L431.8 151.7 L447.5 151.7Z M455.3 192.5 L447.5 206.1 L431.8 206.1 L423.9 192.5 L431.8 178.9 L447.5 178.9Z M455.3 219.7 L447.5 233.3 L431.8 233.3 L423.9 219.7 L431.8 206.1 L447.5 206.1Z M455.3 246.9 L447.5 260.5 L431.8 260.5 L423.9 246.9 L431.8 233.3 L447.5 233.3Z M455.3 274.1 L447.5 287.7 L431.8 287.7 L423.9 274.1 L431.8 260.5 L447.5 260.5Z M455.3 301.3 L447.5 314.9 L431.8 314.9 L423.9 301.3 L431.8 287.7 L447.5 287.7Z M455.3 328.5 L447.5 342.1 L431.8 342.1 L423.9 328.5 L431.8 314.9 L447.5 314.9Z M455.3 355.7 L447.5 369.3 L431.8 369.3 L423.9 355.7 L431.8 342.1 L447.5 342.1Z M455.3 382.9 L447.5 396.5 L431.8 396.5 L423.9 382.9 L431.8 369.3 L447.5 369.3Z M455.3 410.1 L447.5 423.6 L431.8 423.6 L423.9 410.1 L431.8 396.5 L447.5 396.5Z M455.3 437.2 L447.5 450.8 L431.8 450.8 L423.9 437.2 L431.8 423.6 L447.5 423.6Z M455.3 464.4 L447.5 478.0 L431.8 478.0 L423.9 464.4 L431.8 450.8 L447.5 450.8Z M455.3 491.6 L447.5 505.2 L431.8 505.2 L423.9 491.6 L431.8 478.0 L447.5 478.0Z M455.3 518.8 L447.5 532.4 L431.8 532.4 L423.9 518.8 L431.8 505.2 L447.5 505.2Z M455.3 546.0 L447.5 559.6 L431.8 559.6 L423.9 546.0 L431.8 532.4 L447.5 532.4Z M455.3 573.2 L447.5 586.8 L431.8 586.8 L423.9 573.2 L431.8 559.6 L447.5 559.6Z M455.3 600.4 L447.5 614.0 L431.8 614.0 L423.9 600.4 L431.8 586.8 L447.5 586.8Z M455.3 627.6 L447.5 641.2 L431.8 641.2 L423.9 627.6 L431.8 614.0 L447.5 614.0Z M455.3 654.8 L447.5 668.4 L431.8 668.4 L423.9 654.8 L431.8 641.2 L447.5 641.2Z M455.3 682.0 L447.5 695.6 L431.8 695.6 L423.9 682.0 L431.8 668.4 L447.5 668.4Z M455.3 709.2 L447.5 722.8 L431.8 722.8 L423.9 709.2 L431.8 695.6 L447.5 695.6Z M455.3 736.4 L447.5 750.0 L431.8 750.0 L423.9 736.4 L431.8 722.8 L447.5 722.8Z M478.9 -11.4 L471.0 2.2 L455.3 2.2 L447.5 -11.4 L455.3 -25.0 L471.0 -25.0Z M478.9 15.8 L471.0 29.3 L455.3 29.3 L447.5 15.8 L455.3 2.2 L471.0 2.2Z M478.9 42.9 L471.0 56.5 L455.3 56.5 L447.5 42.9 L455.3 29.3 L471.0 29.3Z M478.9 70.1 L471.0 83.7 L455.3 83.7 L447.5 70.1 L455.3 56.5 L471.0 56.5Z M478.9 97.3 L471.0 110.9 L455.3 110.9 L447.5 97.3 L455.3 83.7 L471.0 83.7Z M478.9 124.5 L471.0 138.1 L455.3 138.1 L447.5 124.5 L455.3 110.9 L471.0 110.9Z M478.9 151.7 L471.0 165.3 L455.3 165.3 L447.5 151.7 L455.3 138.1 L471.0 138.1Z M478.9 178.9 L471.0 192.5 L455.3 192.5 L447.5 178.9 L455.3 165.3 L471.0 165.3Z M478.9 206.1 L471.0 219.7 L455.3 219.7 L447.5 206.1 L455.3 192.5 L471.0 192.5Z M478.9 233.3 L471.0 246.9 L455.3 246.9 L447.5 233.3 L455.3 219.7 L471.0 219.7Z M478.9 260.5 L471.0 274.1 L455.3 274.1 L447.5 260.5 L455.3 246.9 L471.0 246.9Z M478.9 287.7 L471.0 301.3 L455.3 301.3 L447.5 287.7 L455.3 274.1 L471.0 274.1Z M478.9 314.9 L471.0 328.5 L455.3 328.5 L447.5 314.9 L455.3 301.3 L471.0 301.3Z M478.9 342.1 L471.0 355.7 L455.3 355.7 L447.5 342.1 L455.3 328.5 L471.0 328.5Z M478.9 369.3 L471.0 382.9 L455.3 382.9 L447.5 369.3 L455.3 355.7 L471.0 355.7Z M478.9 396.5 L471.0 410.1 L455.3 410.1 L447.5 396.5 L455.3 382.9 L471.0 382.9Z M478.9 423.6 L471.0 437.2 L455.3 437.2 L447.5 423.6 L455.3 410.1 L471.0 410.1Z M478.9 450.8 L471.0 464.4 L455.3 464.4 L447.5 450.8 L455.3 437.2 L471.0 437.2Z M478.9 478.0 L471.0 491.6 L455.3 491.6 L447.5 478.0 L455.3 464.4 L471.0 464.4Z M478.9 505.2 L471.0 518.8 L455.3 518.8 L447.5 505.2 L455.3 491.6 L471.0 491.6Z M478.9 532.4 L471.0 546.0 L455.3 546.0 L447.5 532.4 L455.3 518.8 L471.0 518.8Z M478.9 559.6 L471.0 573.2 L455.3 573.2 L447.5 559.6 L455.3 546.0 L471.0 546.0Z M478.9 586.8 L471.0 600.4 L455.3 600.4 L447.5 586.8 L455.3 573.2 L471.0 573.2Z M478.9 614.0 L471.0 627.6 L455.3 627.6 L447.5 614.0 L455.3 600.4 L471.0 600.4Z M478.9 641.2 L471.0 654.8 L455.3 654.8 L447.5 641.2 L455.3 627.6 L471.0 627.6Z M478.9 668.4 L471.0 682.0 L455.3 682.0 L447.5 668.4 L455.3 654.8 L471.0 654.8Z M478.9 695.6 L471.0 709.2 L455.3 709.2 L447.5 695.6 L455.3 682.0 L471.0 682.0Z M478.9 722.8 L471.0 736.4 L455.3 736.4 L447.5 722.8 L455.3 709.2 L471.0 709.2Z M502.4 2.2 L494.6 15.8 L478.9 15.8 L471.0 2.2 L478.9 -11.4 L494.6 -11.4Z M502.4 29.3 L494.6 42.9 L478.9 42.9 L471.0 29.3 L478.9 15.8 L494.6 15.7Z M502.4 56.5 L494.6 70.1 L478.9 70.1 L471.0 56.5 L478.9 42.9 L494.6 42.9Z M502.4 83.7 L494.6 97.3 L478.9 97.3 L471.0 83.7 L478.9 70.1 L494.6 70.1Z M502.4 110.9 L494.6 124.5 L478.9 124.5 L471.0 110.9 L478.9 97.3 L494.6 97.3Z M502.4 138.1 L494.6 151.7 L478.9 151.7 L471.0 138.1 L478.9 124.5 L494.6 124.5Z M502.4 165.3 L494.6 178.9 L478.9 178.9 L471.0 165.3 L478.9 151.7 L494.6 151.7Z M502.4 192.5 L494.6 206.1 L478.9 206.1 L471.0 192.5 L478.9 178.9 L494.6 178.9Z M502.4 219.7 L494.6 233.3 L478.9 233.3 L471.0 219.7 L478.9 206.1 L494.6 206.1Z M502.4 246.9 L494.6 260.5 L478.9 260.5 L471.0 246.9 L478.9 233.3 L494.6 233.3Z M502.4 274.1 L494.6 287.7 L478.9 287.7 L471.0 274.1 L478.9 260.5 L494.6 260.5Z M502.4 301.3 L494.6 314.9 L478.9 314.9 L471.0 301.3 L478.9 287.7 L494.6 287.7Z M502.4 328.5 L494.6 342.1 L478.9 342.1 L471.0 328.5 L478.9 314.9 L494.6 314.9Z M502.4 355.7 L494.6 369.3 L478.9 369.3 L471.0 355.7 L478.9 342.1 L494.6 342.1Z M502.4 382.9 L494.6 396.5 L478.9 396.5 L471.0 382.9 L478.9 369.3 L494.6 369.3Z M502.4 410.1 L494.6 423.6 L478.9 423.6 L471.0 410.1 L478.9 396.5 L494.6 396.5Z M502.4 437.2 L494.6 450.8 L478.9 450.8 L471.0 437.2 L478.9 423.6 L494.6 423.6Z M502.4 464.4 L494.6 478.0 L478.9 478.0 L471.0 464.4 L478.9 450.8 L494.6 450.8Z M502.4 491.6 L494.6 505.2 L478.9 505.2 L471.0 491.6 L478.9 478.0 L494.6 478.0Z M502.4 518.8 L494.6 532.4 L478.9 532.4 L471.0 518.8 L478.9 505.2 L494.6 505.2Z M502.4 546.0 L494.6 559.6 L478.9 559.6 L471.0 546.0 L478.9 532.4 L494.6 532.4Z M502.4 573.2 L494.6 586.8 L478.9 586.8 L471.0 573.2 L478.9 559.6 L494.6 559.6Z M502.4 600.4 L494.6 614.0 L478.9 614.0 L471.0 600.4 L478.9 586.8 L494.6 586.8Z M502.4 627.6 L494.6 641.2 L478.9 641.2 L471.0 627.6 L478.9 614.0 L494.6 614.0Z M502.4 654.8 L494.6 668.4 L478.9 668.4 L471.0 654.8 L478.9 641.2 L494.6 641.2Z M502.4 682.0 L494.6 695.6 L478.9 695.6 L471.0 682.0 L478.9 668.4 L494.6 668.4Z M502.4 709.2 L494.6 722.8 L478.9 722.8 L471.0 709.2 L478.9 695.6 L494.6 695.6Z M502.4 736.4 L494.6 750.0 L478.9 750.0 L471.0 736.4 L478.9 722.8 L494.6 722.8Z" fill="none" stroke="#a8a6c2" stroke-width="7.6"/></g>
<g filter="url(#dBl1)">
<path d="M-10 79 H315.0 V114.5 H56.5 V168 H-10 Z M-10 471.5 H56.5 V516.5 H315.0 V562 H-10 Z M-10 274 H56.5 V362 H-10 Z" fill="#f8e414"/>
<path d="M-10 79 H315.0 V112.5 M-10 168 H56.5 M-10 274 H56.5 M-10 362 H56.5 M-10 471.5 H56.5 M-10 562 H315.0 V518.5" fill="none" stroke="#3a3a30" stroke-width="7" stroke-linejoin="miter"/>
<path d="M666 79 H341.0 V114.5 H603.5 V168 H666 Z M666 471.5 H603.5 V516.5 H341.0 V562 H666 Z M666 274 H603.5 V362 H666 Z" fill="#f8e414"/>
<path d="M666 79 H341.0 V112.5 M666 168 H603.5 M666 274 H603.5 M666 362 H603.5 M666 471.5 H603.5 M666 562 H341.0 V518.5" fill="none" stroke="#3a3a30" stroke-width="7" stroke-linejoin="miter"/>
</g>
<g clip-path="url(#dField0)">
<rect x="56.5" y="114.5" width="547.0" height="402.0" fill="url(#d1bg)" />
<g filter="url(#dBl6)">
<ellipse cx="57.5" cy="136.0" rx="13.0" ry="26.0" fill="#3450c4"/>
<ellipse cx="602.5" cy="136.0" rx="13.0" ry="26.0" fill="#3450c4"/>
<ellipse cx="57.5" cy="318.0" rx="13.0" ry="40.0" fill="#3450c4"/>
<ellipse cx="602.5" cy="318.0" rx="13.0" ry="40.0" fill="#3450c4"/>
<ellipse cx="57.5" cy="498.0" rx="13.0" ry="24.0" fill="#3450c4"/>
<ellipse cx="602.5" cy="498.0" rx="13.0" ry="24.0" fill="#3450c4"/>
<ellipse cx="134.0" cy="318.0" rx="34.0" ry="28.0" fill="#84d8f0" opacity="0.8"/>
<ellipse cx="522.0" cy="318.0" rx="34.0" ry="28.0" fill="#84d8f0" opacity="0.8"/>
<ellipse cx="288.0" cy="318.0" rx="15.0" ry="34.0" fill="#8ce4dc" opacity="0.8"/>
<ellipse cx="368.0" cy="318.0" rx="15.0" ry="34.0" fill="#8ce4dc" opacity="0.8"/>
<ellipse cx="110.0" cy="217.0" rx="40.0" ry="36.0" fill="#8ce4e0" opacity="0.55"/>
<ellipse cx="546.0" cy="217.0" rx="40.0" ry="36.0" fill="#8ce4e0" opacity="0.55"/>
<ellipse cx="110.0" cy="419.0" rx="40.0" ry="36.0" fill="#8ce4e0" opacity="0.55"/>
<ellipse cx="546.0" cy="419.0" rx="40.0" ry="36.0" fill="#8ce4e0" opacity="0.55"/>
<ellipse cx="328.0" cy="158.5" rx="120.0" ry="22.0" fill="#e8e020" opacity="0.8"/>
<ellipse cx="328.0" cy="275.0" rx="120.0" ry="22.0" fill="#e8e020" opacity="0.8"/>
<ellipse cx="328.0" cy="361.5" rx="120.0" ry="22.0" fill="#e8e020" opacity="0.8"/>
<ellipse cx="328.0" cy="477.0" rx="120.0" ry="22.0" fill="#e8e020" opacity="0.8"/>
</g>
<g filter="url(#dBl5)">
<ellipse cx="98.0" cy="158.5" rx="27.0" ry="12.5" fill="#f2e014"/>
<ellipse cx="558.0" cy="158.5" rx="27.0" ry="12.5" fill="#f2e014"/>
<ellipse cx="172.0" cy="158.5" rx="31.0" ry="12.5" fill="#f2e014"/>
<ellipse cx="484.0" cy="158.5" rx="31.0" ry="12.5" fill="#f2e014"/>
<ellipse cx="253.0" cy="158.5" rx="42.0" ry="12.5" fill="#f2e014"/>
<ellipse cx="403.0" cy="158.5" rx="42.0" ry="12.5" fill="#f2e014"/>
<ellipse cx="307.0" cy="158.5" rx="18.0" ry="26.0" fill="#f2e014"/>
<ellipse cx="349.0" cy="158.5" rx="18.0" ry="26.0" fill="#f2e014"/>
<ellipse cx="98.0" cy="275.0" rx="27.0" ry="12.5" fill="#f2e014"/>
<ellipse cx="558.0" cy="275.0" rx="27.0" ry="12.5" fill="#f2e014"/>
<ellipse cx="172.0" cy="275.0" rx="31.0" ry="12.5" fill="#f2e014"/>
<ellipse cx="484.0" cy="275.0" rx="31.0" ry="12.5" fill="#f2e014"/>
<ellipse cx="253.0" cy="275.0" rx="42.0" ry="12.5" fill="#f2e014"/>
<ellipse cx="403.0" cy="275.0" rx="42.0" ry="12.5" fill="#f2e014"/>
<ellipse cx="307.0" cy="275.0" rx="18.0" ry="26.0" fill="#f2e014"/>
<ellipse cx="349.0" cy="275.0" rx="18.0" ry="26.0" fill="#f2e014"/>
<ellipse cx="98.0" cy="361.5" rx="27.0" ry="12.5" fill="#f2e014"/>
<ellipse cx="558.0" cy="361.5" rx="27.0" ry="12.5" fill="#f2e014"/>
<ellipse cx="172.0" cy="361.5" rx="31.0" ry="12.5" fill="#f2e014"/>
<ellipse cx="484.0" cy="361.5" rx="31.0" ry="12.5" fill="#f2e014"/>
<ellipse cx="253.0" cy="361.5" rx="42.0" ry="12.5" fill="#f2e014"/>
<ellipse cx="403.0" cy="361.5" rx="42.0" ry="12.5" fill="#f2e014"/>
<ellipse cx="307.0" cy="361.5" rx="18.0" ry="26.0" fill="#f2e014"/>
<ellipse cx="349.0" cy="361.5" rx="18.0" ry="26.0" fill="#f2e014"/>
<ellipse cx="98.0" cy="477.0" rx="27.0" ry="12.5" fill="#f2e014"/>
<ellipse cx="558.0" cy="477.0" rx="27.0" ry="12.5" fill="#f2e014"/>
<ellipse cx="172.0" cy="477.0" rx="31.0" ry="12.5" fill="#f2e014"/>
<ellipse cx="484.0" cy="477.0" rx="31.0" ry="12.5" fill="#f2e014"/>
<ellipse cx="253.0" cy="477.0" rx="42.0" ry="12.5" fill="#f2e014"/>
<ellipse cx="403.0" cy="477.0" rx="42.0" ry="12.5" fill="#f2e014"/>
<ellipse cx="307.0" cy="477.0" rx="18.0" ry="26.0" fill="#f2e014"/>
<ellipse cx="349.0" cy="477.0" rx="18.0" ry="26.0" fill="#f2e014"/>
<ellipse cx="328.0" cy="217.0" rx="48.0" ry="36.0" fill="#78dce8"/>
<ellipse cx="328.0" cy="419.0" rx="48.0" ry="36.0" fill="#78dce8"/>
</g>
<g filter="url(#dBl3)">
<ellipse cx="176.0" cy="158.5" rx="14.0" ry="4.5" fill="#f89c10"/>
<ellipse cx="480.0" cy="158.5" rx="14.0" ry="4.5" fill="#f89c10"/>
<ellipse cx="253.0" cy="158.5" rx="24.0" ry="6.5" fill="#f05410"/>
<ellipse cx="403.0" cy="158.5" rx="24.0" ry="6.5" fill="#f05410"/>
<ellipse cx="176.0" cy="275.0" rx="14.0" ry="4.5" fill="#f89c10"/>
<ellipse cx="480.0" cy="275.0" rx="14.0" ry="4.5" fill="#f89c10"/>
<ellipse cx="253.0" cy="275.0" rx="24.0" ry="6.5" fill="#f05410"/>
<ellipse cx="403.0" cy="275.0" rx="24.0" ry="6.5" fill="#f05410"/>
<ellipse cx="176.0" cy="361.5" rx="14.0" ry="4.5" fill="#f89c10"/>
<ellipse cx="480.0" cy="361.5" rx="14.0" ry="4.5" fill="#f89c10"/>
<ellipse cx="253.0" cy="361.5" rx="24.0" ry="6.5" fill="#f05410"/>
<ellipse cx="403.0" cy="361.5" rx="24.0" ry="6.5" fill="#f05410"/>
<ellipse cx="176.0" cy="477.0" rx="14.0" ry="4.5" fill="#f89c10"/>
<ellipse cx="480.0" cy="477.0" rx="14.0" ry="4.5" fill="#f89c10"/>
<ellipse cx="253.0" cy="477.0" rx="24.0" ry="6.5" fill="#f05410"/>
<ellipse cx="403.0" cy="477.0" rx="24.0" ry="6.5" fill="#f05410"/>
<rect x="304.0" y="196.0" width="48.0" height="42.0" fill="#5898e0" rx="8"/>
<rect x="292.5" y="194.5" width="24.0" height="45.0" fill="#3044b8" rx="9"/>
<rect x="339.5" y="194.5" width="24.0" height="45.0" fill="#3044b8" rx="9"/>
<rect x="304.0" y="398.0" width="48.0" height="42.0" fill="#5898e0" rx="8"/>
<rect x="292.5" y="396.5" width="24.0" height="45.0" fill="#3044b8" rx="9"/>
<rect x="339.5" y="396.5" width="24.0" height="45.0" fill="#3044b8" rx="9"/>
<rect x="319.0" y="114.5" width="18.0" height="37.5" fill="#f8d418" opacity=".95"/>
<rect x="319.0" y="282.0" width="18.0" height="72.0" fill="#f8d418" opacity=".95"/>
<rect x="319.0" y="484.0" width="18.0" height="32.5" fill="#f8d418" opacity=".95"/>
<path d="M313.5 114.5 Q313.5 114.5 313.5 136.5 L313.5 142 Q313.5 154 307.0 164" fill="none" stroke="#cc3008" stroke-width="8" stroke-linecap="round"/>
<path d="M342.5 114.5 Q342.5 114.5 342.5 136.5 L342.5 142 Q342.5 154 349.0 164" fill="none" stroke="#cc3008" stroke-width="8" stroke-linecap="round"/>
<path d="M307.0 268 Q313.5 278 313.5 290 L313.5 346 Q313.5 358 307.0 368" fill="none" stroke="#cc3008" stroke-width="8" stroke-linecap="round"/>
<path d="M349.0 268 Q342.5 278 342.5 290 L342.5 346 Q342.5 358 349.0 368" fill="none" stroke="#cc3008" stroke-width="8" stroke-linecap="round"/>
<path d="M307.0 470 Q313.5 480 313.5 492 L313.5 494.5 Q313.5 516.5 313.5 516.5" fill="none" stroke="#cc3008" stroke-width="8" stroke-linecap="round"/>
<path d="M349.0 470 Q342.5 480 342.5 492 L342.5 494.5 Q342.5 516.5 342.5 516.5" fill="none" stroke="#cc3008" stroke-width="8" stroke-linecap="round"/>
<ellipse cx="306.0" cy="158.5" rx="9.0" ry="11.0" fill="#bc1c08"/>
<ellipse cx="350.0" cy="158.5" rx="9.0" ry="11.0" fill="#bc1c08"/>
<ellipse cx="306.0" cy="275.0" rx="9.0" ry="11.0" fill="#bc1c08"/>
<ellipse cx="350.0" cy="275.0" rx="9.0" ry="11.0" fill="#bc1c08"/>
<ellipse cx="306.0" cy="361.5" rx="9.0" ry="11.0" fill="#bc1c08"/>
<ellipse cx="350.0" cy="361.5" rx="9.0" ry="11.0" fill="#bc1c08"/>
<ellipse cx="306.0" cy="477.0" rx="9.0" ry="11.0" fill="#bc1c08"/>
<ellipse cx="350.0" cy="477.0" rx="9.0" ry="11.0" fill="#bc1c08"/>
</g>
</g>
<g filter="url(#dBl1)">
<rect x="319.0" y="81.0" width="18.0" height="31.5" fill="#f4f2fa" />
<rect x="319.0" y="518.5" width="18.0" height="41.5" fill="#e4e0f2" />
</g>
<g filter="url(#dBl1)" fill="#23232e" opacity=".8">
<rect x="210.2" y="9.0" width="7" height="6.6" rx="2"/>
<rect x="210.2" y="25.6" width="7" height="6.6" rx="2"/>
<rect x="210.2" y="42.3" width="7" height="6.6" rx="2"/>
<rect x="210.2" y="58.9" width="7" height="6.6" rx="2"/>
<rect x="210.2" y="75.6" width="7" height="6.6" rx="2"/>
<rect x="210.2" y="92.2" width="7" height="6.6" rx="2"/>
<rect x="210.2" y="108.9" width="7" height="6.6" rx="2"/>
<rect x="210.2" y="125.6" width="7" height="6.6" rx="2"/>
<rect x="210.2" y="142.2" width="7" height="6.6" rx="2"/>
<rect x="210.2" y="158.9" width="7" height="6.6" rx="2"/>
<rect x="210.2" y="175.5" width="7" height="6.6" rx="2"/>
<rect x="210.2" y="192.2" width="7" height="6.6" rx="2"/>
<rect x="210.2" y="208.8" width="7" height="6.6" rx="2"/>
<rect x="210.2" y="225.5" width="7" height="6.6" rx="2"/>
<rect x="210.2" y="242.1" width="7" height="6.6" rx="2"/>
<rect x="210.2" y="258.8" width="7" height="6.6" rx="2"/>
<rect x="210.2" y="275.4" width="7" height="6.6" rx="2"/>
<rect x="210.2" y="292.1" width="7" height="6.6" rx="2"/>
<rect x="210.2" y="308.7" width="7" height="6.6" rx="2"/>
<rect x="210.2" y="325.3" width="7" height="6.6" rx="2"/>
<rect x="210.2" y="342.0" width="7" height="6.6" rx="2"/>
<rect x="210.2" y="358.6" width="7" height="6.6" rx="2"/>
<rect x="210.2" y="375.3" width="7" height="6.6" rx="2"/>
<rect x="210.2" y="391.9" width="7" height="6.6" rx="2"/>
<rect x="210.2" y="408.6" width="7" height="6.6" rx="2"/>
<rect x="210.2" y="425.2" width="7" height="6.6" rx="2"/>
<rect x="210.2" y="441.9" width="7" height="6.6" rx="2"/>
<rect x="210.2" y="458.5" width="7" height="6.6" rx="2"/>
<rect x="210.2" y="475.2" width="7" height="6.6" rx="2"/>
<rect x="210.2" y="491.8" width="7" height="6.6" rx="2"/>
<rect x="210.2" y="508.5" width="7" height="6.6" rx="2"/>
<rect x="210.2" y="525.1" width="7" height="6.6" rx="2"/>
<rect x="210.2" y="541.8" width="7" height="6.6" rx="2"/>
<rect x="210.2" y="558.4" width="7" height="6.6" rx="2"/>
<rect x="210.2" y="575.1" width="7" height="6.6" rx="2"/>
<rect x="210.2" y="591.7" width="7" height="6.6" rx="2"/>
<rect x="210.2" y="608.4" width="7" height="6.6" rx="2"/>
<rect x="210.2" y="625.0" width="7" height="6.6" rx="2"/>
<rect x="210.2" y="641.7" width="7" height="6.6" rx="2"/>
<rect x="432.5" y="9.0" width="7" height="6.6" rx="2"/>
<rect x="432.5" y="25.6" width="7" height="6.6" rx="2"/>
<rect x="432.5" y="42.3" width="7" height="6.6" rx="2"/>
<rect x="432.5" y="58.9" width="7" height="6.6" rx="2"/>
<rect x="432.5" y="75.6" width="7" height="6.6" rx="2"/>
<rect x="432.5" y="92.2" width="7" height="6.6" rx="2"/>
<rect x="432.5" y="108.9" width="7" height="6.6" rx="2"/>
<rect x="432.5" y="125.6" width="7" height="6.6" rx="2"/>
<rect x="432.5" y="142.2" width="7" height="6.6" rx="2"/>
<rect x="432.5" y="158.9" width="7" height="6.6" rx="2"/>
<rect x="432.5" y="175.5" width="7" height="6.6" rx="2"/>
<rect x="432.5" y="192.2" width="7" height="6.6" rx="2"/>
<rect x="432.5" y="208.8" width="7" height="6.6" rx="2"/>
<rect x="432.5" y="225.5" width="7" height="6.6" rx="2"/>
<rect x="432.5" y="242.1" width="7" height="6.6" rx="2"/>
<rect x="432.5" y="258.8" width="7" height="6.6" rx="2"/>
<rect x="432.5" y="275.4" width="7" height="6.6" rx="2"/>
<rect x="432.5" y="292.1" width="7" height="6.6" rx="2"/>
<rect x="432.5" y="308.7" width="7" height="6.6" rx="2"/>
<rect x="432.5" y="325.3" width="7" height="6.6" rx="2"/>
<rect x="432.5" y="342.0" width="7" height="6.6" rx="2"/>
<rect x="432.5" y="358.6" width="7" height="6.6" rx="2"/>
<rect x="432.5" y="375.3" width="7" height="6.6" rx="2"/>
<rect x="432.5" y="391.9" width="7" height="6.6" rx="2"/>
<rect x="432.5" y="408.6" width="7" height="6.6" rx="2"/>
<rect x="432.5" y="425.2" width="7" height="6.6" rx="2"/>
<rect x="432.5" y="441.9" width="7" height="6.6" rx="2"/>
<rect x="432.5" y="458.5" width="7" height="6.6" rx="2"/>
<rect x="432.5" y="475.2" width="7" height="6.6" rx="2"/>
<rect x="432.5" y="491.8" width="7" height="6.6" rx="2"/>
<rect x="432.5" y="508.5" width="7" height="6.6" rx="2"/>
<rect x="432.5" y="525.1" width="7" height="6.6" rx="2"/>
<rect x="432.5" y="541.8" width="7" height="6.6" rx="2"/>
<rect x="432.5" y="558.4" width="7" height="6.6" rx="2"/>
<rect x="432.5" y="575.1" width="7" height="6.6" rx="2"/>
<rect x="432.5" y="591.7" width="7" height="6.6" rx="2"/>
<rect x="432.5" y="608.4" width="7" height="6.6" rx="2"/>
<rect x="432.5" y="625.0" width="7" height="6.6" rx="2"/>
<rect x="432.5" y="641.7" width="7" height="6.6" rx="2"/>
</g>
</g>
<defs><clipPath id="dField1"><rect x="58.0" y="116.0" width="546.5" height="401.0"/></clipPath><clipPath id="dHc1"><path d="M215.0 0 H438.0 V79 H215.0Z M215.0 562 H438.0 V656 H215.0Z M316.5 77 H344.0 V116.0 H316.5Z M316.5 517.0 H344.0 V564 H316.5Z"/></clipPath></defs>
<g transform="translate(1190,1582)" clip-path="url(#dPanel)">
<rect x="0.0" y="0.0" width="656.0" height="656.0" fill="#dedaf2" />
<g clip-path="url(#dHc1)" filter="url(#dBl2)"><path d="M221.1 2.2 L213.3 15.8 L197.6 15.8 L189.8 2.2 L197.6 -11.4 L213.3 -11.4Z M221.1 29.3 L213.3 42.9 L197.6 42.9 L189.8 29.3 L197.6 15.8 L213.3 15.7Z M221.1 56.5 L213.3 70.1 L197.6 70.1 L189.8 56.5 L197.6 42.9 L213.3 42.9Z M221.1 83.7 L213.3 97.3 L197.6 97.3 L189.8 83.7 L197.6 70.1 L213.3 70.1Z M221.1 110.9 L213.3 124.5 L197.6 124.5 L189.8 110.9 L197.6 97.3 L213.3 97.3Z M221.1 138.1 L213.3 151.7 L197.6 151.7 L189.8 138.1 L197.6 124.5 L213.3 124.5Z M221.1 165.3 L213.3 178.9 L197.6 178.9 L189.8 165.3 L197.6 151.7 L213.3 151.7Z M221.1 192.5 L213.3 206.1 L197.6 206.1 L189.8 192.5 L197.6 178.9 L213.3 178.9Z M221.1 219.7 L213.3 233.3 L197.6 233.3 L189.8 219.7 L197.6 206.1 L213.3 206.1Z M221.1 246.9 L213.3 260.5 L197.6 260.5 L189.8 246.9 L197.6 233.3 L213.3 233.3Z M221.1 274.1 L213.3 287.7 L197.6 287.7 L189.8 274.1 L197.6 260.5 L213.3 260.5Z M221.1 301.3 L213.3 314.9 L197.6 314.9 L189.8 301.3 L197.6 287.7 L213.3 287.7Z M221.1 328.5 L213.3 342.1 L197.6 342.1 L189.8 328.5 L197.6 314.9 L213.3 314.9Z M221.1 355.7 L213.3 369.3 L197.6 369.3 L189.8 355.7 L197.6 342.1 L213.3 342.1Z M221.1 382.9 L213.3 396.5 L197.6 396.5 L189.8 382.9 L197.6 369.3 L213.3 369.3Z M221.1 410.1 L213.3 423.6 L197.6 423.6 L189.8 410.1 L197.6 396.5 L213.3 396.5Z M221.1 437.2 L213.3 450.8 L197.6 450.8 L189.8 437.2 L197.6 423.6 L213.3 423.6Z M221.1 464.4 L213.3 478.0 L197.6 478.0 L189.8 464.4 L197.6 450.8 L213.3 450.8Z M221.1 491.6 L213.3 505.2 L197.6 505.2 L189.8 491.6 L197.6 478.0 L213.3 478.0Z M221.1 518.8 L213.3 532.4 L197.6 532.4 L189.8 518.8 L197.6 505.2 L213.3 505.2Z M221.1 546.0 L213.3 559.6 L197.6 559.6 L189.8 546.0 L197.6 532.4 L213.3 532.4Z M221.1 573.2 L213.3 586.8 L197.6 586.8 L189.8 573.2 L197.6 559.6 L213.3 559.6Z M221.1 600.4 L213.3 614.0 L197.6 614.0 L189.8 600.4 L197.6 586.8 L213.3 586.8Z M221.1 627.6 L213.3 641.2 L197.6 641.2 L189.8 627.6 L197.6 614.0 L213.3 614.0Z M221.1 654.8 L213.3 668.4 L197.6 668.4 L189.8 654.8 L197.6 641.2 L213.3 641.2Z M221.1 682.0 L213.3 695.6 L197.6 695.6 L189.8 682.0 L197.6 668.4 L213.3 668.4Z M221.1 709.2 L213.3 722.8 L197.6 722.8 L189.8 709.2 L197.6 695.6 L213.3 695.6Z M221.1 736.4 L213.3 750.0 L197.6 750.0 L189.8 736.4 L197.6 722.8 L213.3 722.8Z M244.7 -11.4 L236.8 2.2 L221.2 2.2 L213.3 -11.4 L221.2 -25.0 L236.8 -25.0Z M244.7 15.8 L236.8 29.3 L221.2 29.3 L213.3 15.8 L221.2 2.2 L236.8 2.2Z M244.7 42.9 L236.8 56.5 L221.2 56.5 L213.3 42.9 L221.2 29.3 L236.8 29.3Z M244.7 70.1 L236.8 83.7 L221.2 83.7 L213.3 70.1 L221.2 56.5 L236.8 56.5Z M244.7 97.3 L236.8 110.9 L221.2 110.9 L213.3 97.3 L221.2 83.7 L236.8 83.7Z M244.7 124.5 L236.8 138.1 L221.2 138.1 L213.3 124.5 L221.2 110.9 L236.8 110.9Z M244.7 151.7 L236.8 165.3 L221.2 165.3 L213.3 151.7 L221.2 138.1 L236.8 138.1Z M244.7 178.9 L236.8 192.5 L221.2 192.5 L213.3 178.9 L221.2 165.3 L236.8 165.3Z M244.7 206.1 L236.8 219.7 L221.2 219.7 L213.3 206.1 L221.2 192.5 L236.8 192.5Z M244.7 233.3 L236.8 246.9 L221.2 246.9 L213.3 233.3 L221.2 219.7 L236.8 219.7Z M244.7 260.5 L236.8 274.1 L221.2 274.1 L213.3 260.5 L221.2 246.9 L236.8 246.9Z M244.7 287.7 L236.8 301.3 L221.2 301.3 L213.3 287.7 L221.2 274.1 L236.8 274.1Z M244.7 314.9 L236.8 328.5 L221.2 328.5 L213.3 314.9 L221.2 301.3 L236.8 301.3Z M244.7 342.1 L236.8 355.7 L221.2 355.7 L213.3 342.1 L221.2 328.5 L236.8 328.5Z M244.7 369.3 L236.8 382.9 L221.2 382.9 L213.3 369.3 L221.2 355.7 L236.8 355.7Z M244.7 396.5 L236.8 410.1 L221.2 410.1 L213.3 396.5 L221.2 382.9 L236.8 382.9Z M244.7 423.6 L236.8 437.2 L221.2 437.2 L213.3 423.6 L221.2 410.1 L236.8 410.1Z M244.7 450.8 L236.8 464.4 L221.2 464.4 L213.3 450.8 L221.2 437.2 L236.8 437.2Z M244.7 478.0 L236.8 491.6 L221.2 491.6 L213.3 478.0 L221.2 464.4 L236.8 464.4Z M244.7 505.2 L236.8 518.8 L221.2 518.8 L213.3 505.2 L221.2 491.6 L236.8 491.6Z M244.7 532.4 L236.8 546.0 L221.2 546.0 L213.3 532.4 L221.2 518.8 L236.8 518.8Z M244.7 559.6 L236.8 573.2 L221.2 573.2 L213.3 559.6 L221.2 546.0 L236.8 546.0Z M244.7 586.8 L236.8 600.4 L221.2 600.4 L213.3 586.8 L221.2 573.2 L236.8 573.2Z M244.7 614.0 L236.8 627.6 L221.2 627.6 L213.3 614.0 L221.2 600.4 L236.8 600.4Z M244.7 641.2 L236.8 654.8 L221.2 654.8 L213.3 641.2 L221.2 627.6 L236.8 627.6Z M244.7 668.4 L236.8 682.0 L221.2 682.0 L213.3 668.4 L221.2 654.8 L236.8 654.8Z M244.7 695.6 L236.8 709.2 L221.2 709.2 L213.3 695.6 L221.2 682.0 L236.8 682.0Z M244.7 722.8 L236.8 736.4 L221.2 736.4 L213.3 722.8 L221.2 709.2 L236.8 709.2Z M268.2 2.2 L260.4 15.8 L244.7 15.8 L236.9 2.2 L244.7 -11.4 L260.4 -11.4Z M268.2 29.3 L260.4 42.9 L244.7 42.9 L236.9 29.3 L244.7 15.8 L260.4 15.7Z M268.2 56.5 L260.4 70.1 L244.7 70.1 L236.9 56.5 L244.7 42.9 L260.4 42.9Z M268.2 83.7 L260.4 97.3 L244.7 97.3 L236.9 83.7 L244.7 70.1 L260.4 70.1Z M268.2 110.9 L260.4 124.5 L244.7 124.5 L236.9 110.9 L244.7 97.3 L260.4 97.3Z M268.2 138.1 L260.4 151.7 L244.7 151.7 L236.9 138.1 L244.7 124.5 L260.4 124.5Z M268.2 165.3 L260.4 178.9 L244.7 178.9 L236.9 165.3 L244.7 151.7 L260.4 151.7Z M268.2 192.5 L260.4 206.1 L244.7 206.1 L236.9 192.5 L244.7 178.9 L260.4 178.9Z M268.2 219.7 L260.4 233.3 L244.7 233.3 L236.9 219.7 L244.7 206.1 L260.4 206.1Z M268.2 246.9 L260.4 260.5 L244.7 260.5 L236.9 246.9 L244.7 233.3 L260.4 233.3Z M268.2 274.1 L260.4 287.7 L244.7 287.7 L236.9 274.1 L244.7 260.5 L260.4 260.5Z M268.2 301.3 L260.4 314.9 L244.7 314.9 L236.9 301.3 L244.7 287.7 L260.4 287.7Z M268.2 328.5 L260.4 342.1 L244.7 342.1 L236.9 328.5 L244.7 314.9 L260.4 314.9Z M268.2 355.7 L260.4 369.3 L244.7 369.3 L236.9 355.7 L244.7 342.1 L260.4 342.1Z M268.2 382.9 L260.4 396.5 L244.7 396.5 L236.9 382.9 L244.7 369.3 L260.4 369.3Z M268.2 410.1 L260.4 423.6 L244.7 423.6 L236.9 410.1 L244.7 396.5 L260.4 396.5Z M268.2 437.2 L260.4 450.8 L244.7 450.8 L236.9 437.2 L244.7 423.6 L260.4 423.6Z M268.2 464.4 L260.4 478.0 L244.7 478.0 L236.9 464.4 L244.7 450.8 L260.4 450.8Z M268.2 491.6 L260.4 505.2 L244.7 505.2 L236.9 491.6 L244.7 478.0 L260.4 478.0Z M268.2 518.8 L260.4 532.4 L244.7 532.4 L236.9 518.8 L244.7 505.2 L260.4 505.2Z M268.2 546.0 L260.4 559.6 L244.7 559.6 L236.9 546.0 L244.7 532.4 L260.4 532.4Z M268.2 573.2 L260.4 586.8 L244.7 586.8 L236.9 573.2 L244.7 559.6 L260.4 559.6Z M268.2 600.4 L260.4 614.0 L244.7 614.0 L236.9 600.4 L244.7 586.8 L260.4 586.8Z M268.2 627.6 L260.4 641.2 L244.7 641.2 L236.9 627.6 L244.7 614.0 L260.4 614.0Z M268.2 654.8 L260.4 668.4 L244.7 668.4 L236.9 654.8 L244.7 641.2 L260.4 641.2Z M268.2 682.0 L260.4 695.6 L244.7 695.6 L236.9 682.0 L244.7 668.4 L260.4 668.4Z M268.2 709.2 L260.4 722.8 L244.7 722.8 L236.9 709.2 L244.7 695.6 L260.4 695.6Z M268.2 736.4 L260.4 750.0 L244.7 750.0 L236.9 736.4 L244.7 722.8 L260.4 722.8Z M291.8 -11.4 L284.0 2.2 L268.2 2.2 L260.4 -11.4 L268.2 -25.0 L284.0 -25.0Z M291.8 15.8 L284.0 29.3 L268.2 29.3 L260.4 15.8 L268.2 2.2 L284.0 2.2Z M291.8 42.9 L284.0 56.5 L268.2 56.5 L260.4 42.9 L268.2 29.3 L284.0 29.3Z M291.8 70.1 L284.0 83.7 L268.2 83.7 L260.4 70.1 L268.2 56.5 L284.0 56.5Z M291.8 97.3 L284.0 110.9 L268.2 110.9 L260.4 97.3 L268.2 83.7 L284.0 83.7Z M291.8 124.5 L284.0 138.1 L268.2 138.1 L260.4 124.5 L268.2 110.9 L284.0 110.9Z M291.8 151.7 L284.0 165.3 L268.2 165.3 L260.4 151.7 L268.2 138.1 L284.0 138.1Z M291.8 178.9 L284.0 192.5 L268.2 192.5 L260.4 178.9 L268.2 165.3 L284.0 165.3Z M291.8 206.1 L284.0 219.7 L268.2 219.7 L260.4 206.1 L268.2 192.5 L284.0 192.5Z M291.8 233.3 L284.0 246.9 L268.2 246.9 L260.4 233.3 L268.2 219.7 L284.0 219.7Z M291.8 260.5 L284.0 274.1 L268.2 274.1 L260.4 260.5 L268.2 246.9 L284.0 246.9Z M291.8 287.7 L284.0 301.3 L268.2 301.3 L260.4 287.7 L268.2 274.1 L284.0 274.1Z M291.8 314.9 L284.0 328.5 L268.2 328.5 L260.4 314.9 L268.2 301.3 L284.0 301.3Z M291.8 342.1 L284.0 355.7 L268.2 355.7 L260.4 342.1 L268.2 328.5 L284.0 328.5Z M291.8 369.3 L284.0 382.9 L268.2 382.9 L260.4 369.3 L268.2 355.7 L284.0 355.7Z M291.8 396.5 L284.0 410.1 L268.2 410.1 L260.4 396.5 L268.2 382.9 L284.0 382.9Z M291.8 423.6 L284.0 437.2 L268.2 437.2 L260.4 423.6 L268.2 410.1 L284.0 410.1Z M291.8 450.8 L284.0 464.4 L268.2 464.4 L260.4 450.8 L268.2 437.2 L284.0 437.2Z M291.8 478.0 L284.0 491.6 L268.2 491.6 L260.4 478.0 L268.2 464.4 L284.0 464.4Z M291.8 505.2 L284.0 518.8 L268.2 518.8 L260.4 505.2 L268.2 491.6 L284.0 491.6Z M291.8 532.4 L284.0 546.0 L268.2 546.0 L260.4 532.4 L268.2 518.8 L284.0 518.8Z M291.8 559.6 L284.0 573.2 L268.2 573.2 L260.4 559.6 L268.2 546.0 L284.0 546.0Z M291.8 586.8 L284.0 600.4 L268.2 600.4 L260.4 586.8 L268.2 573.2 L284.0 573.2Z M291.8 614.0 L284.0 627.6 L268.2 627.6 L260.4 614.0 L268.2 600.4 L284.0 600.4Z M291.8 641.2 L284.0 654.8 L268.2 654.8 L260.4 641.2 L268.2 627.6 L284.0 627.6Z M291.8 668.4 L284.0 682.0 L268.2 682.0 L260.4 668.4 L268.2 654.8 L284.0 654.8Z M291.8 695.6 L284.0 709.2 L268.2 709.2 L260.4 695.6 L268.2 682.0 L284.0 682.0Z M291.8 722.8 L284.0 736.4 L268.2 736.4 L260.4 722.8 L268.2 709.2 L284.0 709.2Z M315.3 2.2 L307.5 15.8 L291.8 15.8 L283.9 2.2 L291.8 -11.4 L307.5 -11.4Z M315.3 29.3 L307.5 42.9 L291.8 42.9 L283.9 29.3 L291.8 15.8 L307.5 15.7Z M315.3 56.5 L307.5 70.1 L291.8 70.1 L283.9 56.5 L291.8 42.9 L307.5 42.9Z M315.3 83.7 L307.5 97.3 L291.8 97.3 L283.9 83.7 L291.8 70.1 L307.5 70.1Z M315.3 110.9 L307.5 124.5 L291.8 124.5 L283.9 110.9 L291.8 97.3 L307.5 97.3Z M315.3 138.1 L307.5 151.7 L291.8 151.7 L283.9 138.1 L291.8 124.5 L307.5 124.5Z M315.3 165.3 L307.5 178.9 L291.8 178.9 L283.9 165.3 L291.8 151.7 L307.5 151.7Z M315.3 192.5 L307.5 206.1 L291.8 206.1 L283.9 192.5 L291.8 178.9 L307.5 178.9Z M315.3 219.7 L307.5 233.3 L291.8 233.3 L283.9 219.7 L291.8 206.1 L307.5 206.1Z M315.3 246.9 L307.5 260.5 L291.8 260.5 L283.9 246.9 L291.8 233.3 L307.5 233.3Z M315.3 274.1 L307.5 287.7 L291.8 287.7 L283.9 274.1 L291.8 260.5 L307.5 260.5Z M315.3 301.3 L307.5 314.9 L291.8 314.9 L283.9 301.3 L291.8 287.7 L307.5 287.7Z M315.3 328.5 L307.5 342.1 L291.8 342.1 L283.9 328.5 L291.8 314.9 L307.5 314.9Z M315.3 355.7 L307.5 369.3 L291.8 369.3 L283.9 355.7 L291.8 342.1 L307.5 342.1Z M315.3 382.9 L307.5 396.5 L291.8 396.5 L283.9 382.9 L291.8 369.3 L307.5 369.3Z M315.3 410.1 L307.5 423.6 L291.8 423.6 L283.9 410.1 L291.8 396.5 L307.5 396.5Z M315.3 437.2 L307.5 450.8 L291.8 450.8 L283.9 437.2 L291.8 423.6 L307.5 423.6Z M315.3 464.4 L307.5 478.0 L291.8 478.0 L283.9 464.4 L291.8 450.8 L307.5 450.8Z M315.3 491.6 L307.5 505.2 L291.8 505.2 L283.9 491.6 L291.8 478.0 L307.5 478.0Z M315.3 518.8 L307.5 532.4 L291.8 532.4 L283.9 518.8 L291.8 505.2 L307.5 505.2Z M315.3 546.0 L307.5 559.6 L291.8 559.6 L283.9 546.0 L291.8 532.4 L307.5 532.4Z M315.3 573.2 L307.5 586.8 L291.8 586.8 L283.9 573.2 L291.8 559.6 L307.5 559.6Z M315.3 600.4 L307.5 614.0 L291.8 614.0 L283.9 600.4 L291.8 586.8 L307.5 586.8Z M315.3 627.6 L307.5 641.2 L291.8 641.2 L283.9 627.6 L291.8 614.0 L307.5 614.0Z M315.3 654.8 L307.5 668.4 L291.8 668.4 L283.9 654.8 L291.8 641.2 L307.5 641.2Z M315.3 682.0 L307.5 695.6 L291.8 695.6 L283.9 682.0 L291.8 668.4 L307.5 668.4Z M315.3 709.2 L307.5 722.8 L291.8 722.8 L283.9 709.2 L291.8 695.6 L307.5 695.6Z M315.3 736.4 L307.5 750.0 L291.8 750.0 L283.9 736.4 L291.8 722.8 L307.5 722.8Z M338.9 -11.4 L331.1 2.2 L315.3 2.2 L307.5 -11.4 L315.3 -25.0 L331.1 -25.0Z M338.9 15.8 L331.1 29.3 L315.3 29.3 L307.5 15.8 L315.3 2.2 L331.1 2.2Z M338.9 42.9 L331.1 56.5 L315.3 56.5 L307.5 42.9 L315.3 29.3 L331.1 29.3Z M338.9 70.1 L331.1 83.7 L315.3 83.7 L307.5 70.1 L315.3 56.5 L331.1 56.5Z M338.9 97.3 L331.1 110.9 L315.3 110.9 L307.5 97.3 L315.3 83.7 L331.1 83.7Z M338.9 124.5 L331.1 138.1 L315.3 138.1 L307.5 124.5 L315.3 110.9 L331.1 110.9Z M338.9 151.7 L331.1 165.3 L315.3 165.3 L307.5 151.7 L315.3 138.1 L331.1 138.1Z M338.9 178.9 L331.1 192.5 L315.3 192.5 L307.5 178.9 L315.3 165.3 L331.1 165.3Z M338.9 206.1 L331.1 219.7 L315.3 219.7 L307.5 206.1 L315.3 192.5 L331.1 192.5Z M338.9 233.3 L331.1 246.9 L315.3 246.9 L307.5 233.3 L315.3 219.7 L331.1 219.7Z M338.9 260.5 L331.1 274.1 L315.3 274.1 L307.5 260.5 L315.3 246.9 L331.1 246.9Z M338.9 287.7 L331.1 301.3 L315.3 301.3 L307.5 287.7 L315.3 274.1 L331.1 274.1Z M338.9 314.9 L331.1 328.5 L315.3 328.5 L307.5 314.9 L315.3 301.3 L331.1 301.3Z M338.9 342.1 L331.1 355.7 L315.3 355.7 L307.5 342.1 L315.3 328.5 L331.1 328.5Z M338.9 369.3 L331.1 382.9 L315.3 382.9 L307.5 369.3 L315.3 355.7 L331.1 355.7Z M338.9 396.5 L331.1 410.1 L315.3 410.1 L307.5 396.5 L315.3 382.9 L331.1 382.9Z M338.9 423.6 L331.1 437.2 L315.3 437.2 L307.5 423.6 L315.3 410.1 L331.1 410.1Z M338.9 450.8 L331.1 464.4 L315.3 464.4 L307.5 450.8 L315.3 437.2 L331.1 437.2Z M338.9 478.0 L331.1 491.6 L315.3 491.6 L307.5 478.0 L315.3 464.4 L331.1 464.4Z M338.9 505.2 L331.1 518.8 L315.3 518.8 L307.5 505.2 L315.3 491.6 L331.1 491.6Z M338.9 532.4 L331.1 546.0 L315.3 546.0 L307.5 532.4 L315.3 518.8 L331.1 518.8Z M338.9 559.6 L331.1 573.2 L315.3 573.2 L307.5 559.6 L315.3 546.0 L331.1 546.0Z M338.9 586.8 L331.1 600.4 L315.3 600.4 L307.5 586.8 L315.3 573.2 L331.1 573.2Z M338.9 614.0 L331.1 627.6 L315.3 627.6 L307.5 614.0 L315.3 600.4 L331.1 600.4Z M338.9 641.2 L331.1 654.8 L315.3 654.8 L307.5 641.2 L315.3 627.6 L331.1 627.6Z M338.9 668.4 L331.1 682.0 L315.3 682.0 L307.5 668.4 L315.3 654.8 L331.1 654.8Z M338.9 695.6 L331.1 709.2 L315.3 709.2 L307.5 695.6 L315.3 682.0 L331.1 682.0Z M338.9 722.8 L331.1 736.4 L315.3 736.4 L307.5 722.8 L315.3 709.2 L331.1 709.2Z M362.4 2.2 L354.6 15.8 L338.9 15.8 L331.1 2.2 L338.9 -11.4 L354.6 -11.4Z M362.4 29.3 L354.6 42.9 L338.9 42.9 L331.1 29.3 L338.9 15.8 L354.6 15.7Z M362.4 56.5 L354.6 70.1 L338.9 70.1 L331.1 56.5 L338.9 42.9 L354.6 42.9Z M362.4 83.7 L354.6 97.3 L338.9 97.3 L331.1 83.7 L338.9 70.1 L354.6 70.1Z M362.4 110.9 L354.6 124.5 L338.9 124.5 L331.1 110.9 L338.9 97.3 L354.6 97.3Z M362.4 138.1 L354.6 151.7 L338.9 151.7 L331.1 138.1 L338.9 124.5 L354.6 124.5Z M362.4 165.3 L354.6 178.9 L338.9 178.9 L331.1 165.3 L338.9 151.7 L354.6 151.7Z M362.4 192.5 L354.6 206.1 L338.9 206.1 L331.1 192.5 L338.9 178.9 L354.6 178.9Z M362.4 219.7 L354.6 233.3 L338.9 233.3 L331.1 219.7 L338.9 206.1 L354.6 206.1Z M362.4 246.9 L354.6 260.5 L338.9 260.5 L331.1 246.9 L338.9 233.3 L354.6 233.3Z M362.4 274.1 L354.6 287.7 L338.9 287.7 L331.1 274.1 L338.9 260.5 L354.6 260.5Z M362.4 301.3 L354.6 314.9 L338.9 314.9 L331.1 301.3 L338.9 287.7 L354.6 287.7Z M362.4 328.5 L354.6 342.1 L338.9 342.1 L331.1 328.5 L338.9 314.9 L354.6 314.9Z M362.4 355.7 L354.6 369.3 L338.9 369.3 L331.1 355.7 L338.9 342.1 L354.6 342.1Z M362.4 382.9 L354.6 396.5 L338.9 396.5 L331.1 382.9 L338.9 369.3 L354.6 369.3Z M362.4 410.1 L354.6 423.6 L338.9 423.6 L331.1 410.1 L338.9 396.5 L354.6 396.5Z M362.4 437.2 L354.6 450.8 L338.9 450.8 L331.1 437.2 L338.9 423.6 L354.6 423.6Z M362.4 464.4 L354.6 478.0 L338.9 478.0 L331.1 464.4 L338.9 450.8 L354.6 450.8Z M362.4 491.6 L354.6 505.2 L338.9 505.2 L331.1 491.6 L338.9 478.0 L354.6 478.0Z M362.4 518.8 L354.6 532.4 L338.9 532.4 L331.1 518.8 L338.9 505.2 L354.6 505.2Z M362.4 546.0 L354.6 559.6 L338.9 559.6 L331.1 546.0 L338.9 532.4 L354.6 532.4Z M362.4 573.2 L354.6 586.8 L338.9 586.8 L331.1 573.2 L338.9 559.6 L354.6 559.6Z M362.4 600.4 L354.6 614.0 L338.9 614.0 L331.1 600.4 L338.9 586.8 L354.6 586.8Z M362.4 627.6 L354.6 641.2 L338.9 641.2 L331.1 627.6 L338.9 614.0 L354.6 614.0Z M362.4 654.8 L354.6 668.4 L338.9 668.4 L331.1 654.8 L338.9 641.2 L354.6 641.2Z M362.4 682.0 L354.6 695.6 L338.9 695.6 L331.1 682.0 L338.9 668.4 L354.6 668.4Z M362.4 709.2 L354.6 722.8 L338.9 722.8 L331.1 709.2 L338.9 695.6 L354.6 695.6Z M362.4 736.4 L354.6 750.0 L338.9 750.0 L331.1 736.4 L338.9 722.8 L354.6 722.8Z M386.0 -11.4 L378.1 2.2 L362.4 2.2 L354.6 -11.4 L362.4 -25.0 L378.1 -25.0Z M386.0 15.8 L378.1 29.3 L362.4 29.3 L354.6 15.8 L362.4 2.2 L378.1 2.2Z M386.0 42.9 L378.1 56.5 L362.4 56.5 L354.6 42.9 L362.4 29.3 L378.1 29.3Z M386.0 70.1 L378.1 83.7 L362.4 83.7 L354.6 70.1 L362.4 56.5 L378.1 56.5Z M386.0 97.3 L378.1 110.9 L362.4 110.9 L354.6 97.3 L362.4 83.7 L378.1 83.7Z M386.0 124.5 L378.1 138.1 L362.4 138.1 L354.6 124.5 L362.4 110.9 L378.1 110.9Z M386.0 151.7 L378.1 165.3 L362.4 165.3 L354.6 151.7 L362.4 138.1 L378.1 138.1Z M386.0 178.9 L378.1 192.5 L362.4 192.5 L354.6 178.9 L362.4 165.3 L378.1 165.3Z M386.0 206.1 L378.1 219.7 L362.4 219.7 L354.6 206.1 L362.4 192.5 L378.1 192.5Z M386.0 233.3 L378.1 246.9 L362.4 246.9 L354.6 233.3 L362.4 219.7 L378.1 219.7Z M386.0 260.5 L378.1 274.1 L362.4 274.1 L354.6 260.5 L362.4 246.9 L378.1 246.9Z M386.0 287.7 L378.1 301.3 L362.4 301.3 L354.6 287.7 L362.4 274.1 L378.1 274.1Z M386.0 314.9 L378.1 328.5 L362.4 328.5 L354.6 314.9 L362.4 301.3 L378.1 301.3Z M386.0 342.1 L378.1 355.7 L362.4 355.7 L354.6 342.1 L362.4 328.5 L378.1 328.5Z M386.0 369.3 L378.1 382.9 L362.4 382.9 L354.6 369.3 L362.4 355.7 L378.1 355.7Z M386.0 396.5 L378.1 410.1 L362.4 410.1 L354.6 396.5 L362.4 382.9 L378.1 382.9Z M386.0 423.6 L378.1 437.2 L362.4 437.2 L354.6 423.6 L362.4 410.1 L378.1 410.1Z M386.0 450.8 L378.1 464.4 L362.4 464.4 L354.6 450.8 L362.4 437.2 L378.1 437.2Z M386.0 478.0 L378.1 491.6 L362.4 491.6 L354.6 478.0 L362.4 464.4 L378.1 464.4Z M386.0 505.2 L378.1 518.8 L362.4 518.8 L354.6 505.2 L362.4 491.6 L378.1 491.6Z M386.0 532.4 L378.1 546.0 L362.4 546.0 L354.6 532.4 L362.4 518.8 L378.1 518.8Z M386.0 559.6 L378.1 573.2 L362.4 573.2 L354.6 559.6 L362.4 546.0 L378.1 546.0Z M386.0 586.8 L378.1 600.4 L362.4 600.4 L354.6 586.8 L362.4 573.2 L378.1 573.2Z M386.0 614.0 L378.1 627.6 L362.4 627.6 L354.6 614.0 L362.4 600.4 L378.1 600.4Z M386.0 641.2 L378.1 654.8 L362.4 654.8 L354.6 641.2 L362.4 627.6 L378.1 627.6Z M386.0 668.4 L378.1 682.0 L362.4 682.0 L354.6 668.4 L362.4 654.8 L378.1 654.8Z M386.0 695.6 L378.1 709.2 L362.4 709.2 L354.6 695.6 L362.4 682.0 L378.1 682.0Z M386.0 722.8 L378.1 736.4 L362.4 736.4 L354.6 722.8 L362.4 709.2 L378.1 709.2Z M409.5 2.2 L401.7 15.8 L386.0 15.8 L378.1 2.2 L386.0 -11.4 L401.7 -11.4Z M409.5 29.3 L401.7 42.9 L386.0 42.9 L378.1 29.3 L386.0 15.8 L401.7 15.7Z M409.5 56.5 L401.7 70.1 L386.0 70.1 L378.1 56.5 L386.0 42.9 L401.7 42.9Z M409.5 83.7 L401.7 97.3 L386.0 97.3 L378.1 83.7 L386.0 70.1 L401.7 70.1Z M409.5 110.9 L401.7 124.5 L386.0 124.5 L378.1 110.9 L386.0 97.3 L401.7 97.3Z M409.5 138.1 L401.7 151.7 L386.0 151.7 L378.1 138.1 L386.0 124.5 L401.7 124.5Z M409.5 165.3 L401.7 178.9 L386.0 178.9 L378.1 165.3 L386.0 151.7 L401.7 151.7Z M409.5 192.5 L401.7 206.1 L386.0 206.1 L378.1 192.5 L386.0 178.9 L401.7 178.9Z M409.5 219.7 L401.7 233.3 L386.0 233.3 L378.1 219.7 L386.0 206.1 L401.7 206.1Z M409.5 246.9 L401.7 260.5 L386.0 260.5 L378.1 246.9 L386.0 233.3 L401.7 233.3Z M409.5 274.1 L401.7 287.7 L386.0 287.7 L378.1 274.1 L386.0 260.5 L401.7 260.5Z M409.5 301.3 L401.7 314.9 L386.0 314.9 L378.1 301.3 L386.0 287.7 L401.7 287.7Z M409.5 328.5 L401.7 342.1 L386.0 342.1 L378.1 328.5 L386.0 314.9 L401.7 314.9Z M409.5 355.7 L401.7 369.3 L386.0 369.3 L378.1 355.7 L386.0 342.1 L401.7 342.1Z M409.5 382.9 L401.7 396.5 L386.0 396.5 L378.1 382.9 L386.0 369.3 L401.7 369.3Z M409.5 410.1 L401.7 423.6 L386.0 423.6 L378.1 410.1 L386.0 396.5 L401.7 396.5Z M409.5 437.2 L401.7 450.8 L386.0 450.8 L378.1 437.2 L386.0 423.6 L401.7 423.6Z M409.5 464.4 L401.7 478.0 L386.0 478.0 L378.1 464.4 L386.0 450.8 L401.7 450.8Z M409.5 491.6 L401.7 505.2 L386.0 505.2 L378.1 491.6 L386.0 478.0 L401.7 478.0Z M409.5 518.8 L401.7 532.4 L386.0 532.4 L378.1 518.8 L386.0 505.2 L401.7 505.2Z M409.5 546.0 L401.7 559.6 L386.0 559.6 L378.1 546.0 L386.0 532.4 L401.7 532.4Z M409.5 573.2 L401.7 586.8 L386.0 586.8 L378.1 573.2 L386.0 559.6 L401.7 559.6Z M409.5 600.4 L401.7 614.0 L386.0 614.0 L378.1 600.4 L386.0 586.8 L401.7 586.8Z M409.5 627.6 L401.7 641.2 L386.0 641.2 L378.1 627.6 L386.0 614.0 L401.7 614.0Z M409.5 654.8 L401.7 668.4 L386.0 668.4 L378.1 654.8 L386.0 641.2 L401.7 641.2Z M409.5 682.0 L401.7 695.6 L386.0 695.6 L378.1 682.0 L386.0 668.4 L401.7 668.4Z M409.5 709.2 L401.7 722.8 L386.0 722.8 L378.1 709.2 L386.0 695.6 L401.7 695.6Z M409.5 736.4 L401.7 750.0 L386.0 750.0 L378.1 736.4 L386.0 722.8 L401.7 722.8Z M433.1 -11.4 L425.2 2.2 L409.5 2.2 L401.7 -11.4 L409.5 -25.0 L425.2 -25.0Z M433.1 15.8 L425.2 29.3 L409.5 29.3 L401.7 15.8 L409.5 2.2 L425.2 2.2Z M433.1 42.9 L425.2 56.5 L409.5 56.5 L401.7 42.9 L409.5 29.3 L425.2 29.3Z M433.1 70.1 L425.2 83.7 L409.5 83.7 L401.7 70.1 L409.5 56.5 L425.2 56.5Z M433.1 97.3 L425.2 110.9 L409.5 110.9 L401.7 97.3 L409.5 83.7 L425.2 83.7Z M433.1 124.5 L425.2 138.1 L409.5 138.1 L401.7 124.5 L409.5 110.9 L425.2 110.9Z M433.1 151.7 L425.2 165.3 L409.5 165.3 L401.7 151.7 L409.5 138.1 L425.2 138.1Z M433.1 178.9 L425.2 192.5 L409.5 192.5 L401.7 178.9 L409.5 165.3 L425.2 165.3Z M433.1 206.1 L425.2 219.7 L409.5 219.7 L401.7 206.1 L409.5 192.5 L425.2 192.5Z M433.1 233.3 L425.2 246.9 L409.5 246.9 L401.7 233.3 L409.5 219.7 L425.2 219.7Z M433.1 260.5 L425.2 274.1 L409.5 274.1 L401.7 260.5 L409.5 246.9 L425.2 246.9Z M433.1 287.7 L425.2 301.3 L409.5 301.3 L401.7 287.7 L409.5 274.1 L425.2 274.1Z M433.1 314.9 L425.2 328.5 L409.5 328.5 L401.7 314.9 L409.5 301.3 L425.2 301.3Z M433.1 342.1 L425.2 355.7 L409.5 355.7 L401.7 342.1 L409.5 328.5 L425.2 328.5Z M433.1 369.3 L425.2 382.9 L409.5 382.9 L401.7 369.3 L409.5 355.7 L425.2 355.7Z M433.1 396.5 L425.2 410.1 L409.5 410.1 L401.7 396.5 L409.5 382.9 L425.2 382.9Z M433.1 423.6 L425.2 437.2 L409.5 437.2 L401.7 423.6 L409.5 410.1 L425.2 410.1Z M433.1 450.8 L425.2 464.4 L409.5 464.4 L401.7 450.8 L409.5 437.2 L425.2 437.2Z M433.1 478.0 L425.2 491.6 L409.5 491.6 L401.7 478.0 L409.5 464.4 L425.2 464.4Z M433.1 505.2 L425.2 518.8 L409.5 518.8 L401.7 505.2 L409.5 491.6 L425.2 491.6Z M433.1 532.4 L425.2 546.0 L409.5 546.0 L401.7 532.4 L409.5 518.8 L425.2 518.8Z M433.1 559.6 L425.2 573.2 L409.5 573.2 L401.7 559.6 L409.5 546.0 L425.2 546.0Z M433.1 586.8 L425.2 600.4 L409.5 600.4 L401.7 586.8 L409.5 573.2 L425.2 573.2Z M433.1 614.0 L425.2 627.6 L409.5 627.6 L401.7 614.0 L409.5 600.4 L425.2 600.4Z M433.1 641.2 L425.2 654.8 L409.5 654.8 L401.7 641.2 L409.5 627.6 L425.2 627.6Z M433.1 668.4 L425.2 682.0 L409.5 682.0 L401.7 668.4 L409.5 654.8 L425.2 654.8Z M433.1 695.6 L425.2 709.2 L409.5 709.2 L401.7 695.6 L409.5 682.0 L425.2 682.0Z M433.1 722.8 L425.2 736.4 L409.5 736.4 L401.7 722.8 L409.5 709.2 L425.2 709.2Z M456.6 2.2 L448.8 15.8 L433.1 15.8 L425.2 2.2 L433.1 -11.4 L448.8 -11.4Z M456.6 29.3 L448.8 42.9 L433.1 42.9 L425.2 29.3 L433.1 15.8 L448.8 15.7Z M456.6 56.5 L448.8 70.1 L433.1 70.1 L425.2 56.5 L433.1 42.9 L448.8 42.9Z M456.6 83.7 L448.8 97.3 L433.1 97.3 L425.2 83.7 L433.1 70.1 L448.8 70.1Z M456.6 110.9 L448.8 124.5 L433.1 124.5 L425.2 110.9 L433.1 97.3 L448.8 97.3Z M456.6 138.1 L448.8 151.7 L433.1 151.7 L425.2 138.1 L433.1 124.5 L448.8 124.5Z M456.6 165.3 L448.8 178.9 L433.1 178.9 L425.2 165.3 L433.1 151.7 L448.8 151.7Z M456.6 192.5 L448.8 206.1 L433.1 206.1 L425.2 192.5 L433.1 178.9 L448.8 178.9Z M456.6 219.7 L448.8 233.3 L433.1 233.3 L425.2 219.7 L433.1 206.1 L448.8 206.1Z M456.6 246.9 L448.8 260.5 L433.1 260.5 L425.2 246.9 L433.1 233.3 L448.8 233.3Z M456.6 274.1 L448.8 287.7 L433.1 287.7 L425.2 274.1 L433.1 260.5 L448.8 260.5Z M456.6 301.3 L448.8 314.9 L433.1 314.9 L425.2 301.3 L433.1 287.7 L448.8 287.7Z M456.6 328.5 L448.8 342.1 L433.1 342.1 L425.2 328.5 L433.1 314.9 L448.8 314.9Z M456.6 355.7 L448.8 369.3 L433.1 369.3 L425.2 355.7 L433.1 342.1 L448.8 342.1Z M456.6 382.9 L448.8 396.5 L433.1 396.5 L425.2 382.9 L433.1 369.3 L448.8 369.3Z M456.6 410.1 L448.8 423.6 L433.1 423.6 L425.2 410.1 L433.1 396.5 L448.8 396.5Z M456.6 437.2 L448.8 450.8 L433.1 450.8 L425.2 437.2 L433.1 423.6 L448.8 423.6Z M456.6 464.4 L448.8 478.0 L433.1 478.0 L425.2 464.4 L433.1 450.8 L448.8 450.8Z M456.6 491.6 L448.8 505.2 L433.1 505.2 L425.2 491.6 L433.1 478.0 L448.8 478.0Z M456.6 518.8 L448.8 532.4 L433.1 532.4 L425.2 518.8 L433.1 505.2 L448.8 505.2Z M456.6 546.0 L448.8 559.6 L433.1 559.6 L425.2 546.0 L433.1 532.4 L448.8 532.4Z M456.6 573.2 L448.8 586.8 L433.1 586.8 L425.2 573.2 L433.1 559.6 L448.8 559.6Z M456.6 600.4 L448.8 614.0 L433.1 614.0 L425.2 600.4 L433.1 586.8 L448.8 586.8Z M456.6 627.6 L448.8 641.2 L433.1 641.2 L425.2 627.6 L433.1 614.0 L448.8 614.0Z M456.6 654.8 L448.8 668.4 L433.1 668.4 L425.2 654.8 L433.1 641.2 L448.8 641.2Z M456.6 682.0 L448.8 695.6 L433.1 695.6 L425.2 682.0 L433.1 668.4 L448.8 668.4Z M456.6 709.2 L448.8 722.8 L433.1 722.8 L425.2 709.2 L433.1 695.6 L448.8 695.6Z M456.6 736.4 L448.8 750.0 L433.1 750.0 L425.2 736.4 L433.1 722.8 L448.8 722.8Z M480.2 -11.4 L472.4 2.2 L456.6 2.2 L448.8 -11.4 L456.6 -25.0 L472.4 -25.0Z M480.2 15.8 L472.4 29.3 L456.6 29.3 L448.8 15.8 L456.6 2.2 L472.4 2.2Z M480.2 42.9 L472.4 56.5 L456.6 56.5 L448.8 42.9 L456.6 29.3 L472.4 29.3Z M480.2 70.1 L472.4 83.7 L456.6 83.7 L448.8 70.1 L456.6 56.5 L472.4 56.5Z M480.2 97.3 L472.4 110.9 L456.6 110.9 L448.8 97.3 L456.6 83.7 L472.4 83.7Z M480.2 124.5 L472.4 138.1 L456.6 138.1 L448.8 124.5 L456.6 110.9 L472.4 110.9Z M480.2 151.7 L472.4 165.3 L456.6 165.3 L448.8 151.7 L456.6 138.1 L472.4 138.1Z M480.2 178.9 L472.4 192.5 L456.6 192.5 L448.8 178.9 L456.6 165.3 L472.4 165.3Z M480.2 206.1 L472.4 219.7 L456.6 219.7 L448.8 206.1 L456.6 192.5 L472.4 192.5Z M480.2 233.3 L472.4 246.9 L456.6 246.9 L448.8 233.3 L456.6 219.7 L472.4 219.7Z M480.2 260.5 L472.4 274.1 L456.6 274.1 L448.8 260.5 L456.6 246.9 L472.4 246.9Z M480.2 287.7 L472.4 301.3 L456.6 301.3 L448.8 287.7 L456.6 274.1 L472.4 274.1Z M480.2 314.9 L472.4 328.5 L456.6 328.5 L448.8 314.9 L456.6 301.3 L472.4 301.3Z M480.2 342.1 L472.4 355.7 L456.6 355.7 L448.8 342.1 L456.6 328.5 L472.4 328.5Z M480.2 369.3 L472.4 382.9 L456.6 382.9 L448.8 369.3 L456.6 355.7 L472.4 355.7Z M480.2 396.5 L472.4 410.1 L456.6 410.1 L448.8 396.5 L456.6 382.9 L472.4 382.9Z M480.2 423.6 L472.4 437.2 L456.6 437.2 L448.8 423.6 L456.6 410.1 L472.4 410.1Z M480.2 450.8 L472.4 464.4 L456.6 464.4 L448.8 450.8 L456.6 437.2 L472.4 437.2Z M480.2 478.0 L472.4 491.6 L456.6 491.6 L448.8 478.0 L456.6 464.4 L472.4 464.4Z M480.2 505.2 L472.4 518.8 L456.6 518.8 L448.8 505.2 L456.6 491.6 L472.4 491.6Z M480.2 532.4 L472.4 546.0 L456.6 546.0 L448.8 532.4 L456.6 518.8 L472.4 518.8Z M480.2 559.6 L472.4 573.2 L456.6 573.2 L448.8 559.6 L456.6 546.0 L472.4 546.0Z M480.2 586.8 L472.4 600.4 L456.6 600.4 L448.8 586.8 L456.6 573.2 L472.4 573.2Z M480.2 614.0 L472.4 627.6 L456.6 627.6 L448.8 614.0 L456.6 600.4 L472.4 600.4Z M480.2 641.2 L472.4 654.8 L456.6 654.8 L448.8 641.2 L456.6 627.6 L472.4 627.6Z M480.2 668.4 L472.4 682.0 L456.6 682.0 L448.8 668.4 L456.6 654.8 L472.4 654.8Z M480.2 695.6 L472.4 709.2 L456.6 709.2 L448.8 695.6 L456.6 682.0 L472.4 682.0Z M480.2 722.8 L472.4 736.4 L456.6 736.4 L448.8 722.8 L456.6 709.2 L472.4 709.2Z M503.7 2.2 L495.9 15.8 L480.2 15.8 L472.3 2.2 L480.2 -11.4 L495.9 -11.4Z M503.7 29.3 L495.9 42.9 L480.2 42.9 L472.3 29.3 L480.2 15.8 L495.9 15.7Z M503.7 56.5 L495.9 70.1 L480.2 70.1 L472.3 56.5 L480.2 42.9 L495.9 42.9Z M503.7 83.7 L495.9 97.3 L480.2 97.3 L472.3 83.7 L480.2 70.1 L495.9 70.1Z M503.7 110.9 L495.9 124.5 L480.2 124.5 L472.3 110.9 L480.2 97.3 L495.9 97.3Z M503.7 138.1 L495.9 151.7 L480.2 151.7 L472.3 138.1 L480.2 124.5 L495.9 124.5Z M503.7 165.3 L495.9 178.9 L480.2 178.9 L472.3 165.3 L480.2 151.7 L495.9 151.7Z M503.7 192.5 L495.9 206.1 L480.2 206.1 L472.3 192.5 L480.2 178.9 L495.9 178.9Z M503.7 219.7 L495.9 233.3 L480.2 233.3 L472.3 219.7 L480.2 206.1 L495.9 206.1Z M503.7 246.9 L495.9 260.5 L480.2 260.5 L472.3 246.9 L480.2 233.3 L495.9 233.3Z M503.7 274.1 L495.9 287.7 L480.2 287.7 L472.3 274.1 L480.2 260.5 L495.9 260.5Z M503.7 301.3 L495.9 314.9 L480.2 314.9 L472.3 301.3 L480.2 287.7 L495.9 287.7Z M503.7 328.5 L495.9 342.1 L480.2 342.1 L472.3 328.5 L480.2 314.9 L495.9 314.9Z M503.7 355.7 L495.9 369.3 L480.2 369.3 L472.3 355.7 L480.2 342.1 L495.9 342.1Z M503.7 382.9 L495.9 396.5 L480.2 396.5 L472.3 382.9 L480.2 369.3 L495.9 369.3Z M503.7 410.1 L495.9 423.6 L480.2 423.6 L472.3 410.1 L480.2 396.5 L495.9 396.5Z M503.7 437.2 L495.9 450.8 L480.2 450.8 L472.3 437.2 L480.2 423.6 L495.9 423.6Z M503.7 464.4 L495.9 478.0 L480.2 478.0 L472.3 464.4 L480.2 450.8 L495.9 450.8Z M503.7 491.6 L495.9 505.2 L480.2 505.2 L472.3 491.6 L480.2 478.0 L495.9 478.0Z M503.7 518.8 L495.9 532.4 L480.2 532.4 L472.3 518.8 L480.2 505.2 L495.9 505.2Z M503.7 546.0 L495.9 559.6 L480.2 559.6 L472.3 546.0 L480.2 532.4 L495.9 532.4Z M503.7 573.2 L495.9 586.8 L480.2 586.8 L472.3 573.2 L480.2 559.6 L495.9 559.6Z M503.7 600.4 L495.9 614.0 L480.2 614.0 L472.3 600.4 L480.2 586.8 L495.9 586.8Z M503.7 627.6 L495.9 641.2 L480.2 641.2 L472.3 627.6 L480.2 614.0 L495.9 614.0Z M503.7 654.8 L495.9 668.4 L480.2 668.4 L472.3 654.8 L480.2 641.2 L495.9 641.2Z M503.7 682.0 L495.9 695.6 L480.2 695.6 L472.3 682.0 L480.2 668.4 L495.9 668.4Z M503.7 709.2 L495.9 722.8 L480.2 722.8 L472.3 709.2 L480.2 695.6 L495.9 695.6Z M503.7 736.4 L495.9 750.0 L480.2 750.0 L472.3 736.4 L480.2 722.8 L495.9 722.8Z" fill="none" stroke="#a8a6c2" stroke-width="7.6"/></g>
<g filter="url(#dBl1)">
<path d="M-10 79 H316.5 V116.0 H58.0 V168 H-10 Z M-10 471.5 H58.0 V517.0 H316.5 V562 H-10 Z M-10 274 H58.0 V362 H-10 Z" fill="#f8e414"/>
<path d="M-10 79 H316.5 V114.0 M-10 168 H58.0 M-10 274 H58.0 M-10 362 H58.0 M-10 471.5 H58.0 M-10 562 H316.5 V519.0" fill="none" stroke="#3a3a30" stroke-width="7" stroke-linejoin="miter"/>
<path d="M666 79 H344.0 V116.0 H604.5 V168 H666 Z M666 471.5 H604.5 V517.0 H344.0 V562 H666 Z M666 274 H604.5 V362 H666 Z" fill="#f8e414"/>
<path d="M666 79 H344.0 V114.0 M666 168 H604.5 M666 274 H604.5 M666 362 H604.5 M666 471.5 H604.5 M666 562 H344.0 V519.0" fill="none" stroke="#3a3a30" stroke-width="7" stroke-linejoin="miter"/>
</g>
<g clip-path="url(#dField1)">
<rect x="58.0" y="116.0" width="546.5" height="401.0" fill="#2c2c98" />
<g filter="url(#dBl10)">
<ellipse cx="330.2" cy="166.0" rx="268.0" ry="44.0" fill="#3070e0"/>
<ellipse cx="330.2" cy="259.0" rx="268.0" ry="44.0" fill="#3070e0"/>
<ellipse cx="330.2" cy="364.0" rx="268.0" ry="44.0" fill="#3070e0"/>
<ellipse cx="330.2" cy="465.0" rx="268.0" ry="44.0" fill="#3070e0"/>
</g>
<rect x="58.0" y="262.0" width="546.5" height="100.0" fill="url(#d2mid)" />
<rect x="58.0" y="116.0" width="546.5" height="50.0" fill="url(#d2top)" />
<rect x="58.0" y="467.0" width="546.5" height="50.0" fill="url(#d2top)" />
<g filter="url(#dBl6)">
<ellipse cx="330.2" cy="166.0" rx="252.0" ry="33.0" fill="#78e4f0"/>
<ellipse cx="330.2" cy="259.0" rx="252.0" ry="33.0" fill="#78e4f0"/>
<ellipse cx="330.2" cy="364.0" rx="252.0" ry="33.0" fill="#78e4f0"/>
<ellipse cx="330.2" cy="465.0" rx="252.0" ry="33.0" fill="#78e4f0"/>
<rect x="292.2" y="116.0" width="76.0" height="401.0" fill="#78e4f0" />
</g>
<g filter="url(#dBl6)">
<ellipse cx="330.2" cy="166.0" rx="216.0" ry="24.0" fill="#f4e41c"/>
<ellipse cx="330.2" cy="259.0" rx="216.0" ry="24.0" fill="#f4e41c"/>
<ellipse cx="330.2" cy="364.0" rx="216.0" ry="24.0" fill="#f4e41c"/>
<ellipse cx="330.2" cy="465.0" rx="216.0" ry="24.0" fill="#f4e41c"/>
<rect x="308.2" y="116.0" width="44.0" height="401.0" fill="#f4e41c" />
<polygon points="38.0,187.0 290.2,211.5 290.2,214.5 38.0,239.0" fill="#2c2c98" />
<polygon points="624.5,187.0 370.2,211.5 370.2,214.5 624.5,239.0" fill="#2c2c98" />
<polygon points="38.0,389.0 290.2,413.5 290.2,416.5 38.0,441.0" fill="#2c2c98" />
<polygon points="624.5,389.0 370.2,413.5 370.2,416.5 624.5,441.0" fill="#2c2c98" />
</g>
<g filter="url(#dBl5)">
<ellipse cx="330.2" cy="166.0" rx="154.0" ry="15.0" fill="#f88c10"/>
<ellipse cx="330.2" cy="259.0" rx="154.0" ry="15.0" fill="#f88c10"/>
<ellipse cx="330.2" cy="364.0" rx="154.0" ry="15.0" fill="#f88c10"/>
<ellipse cx="330.2" cy="465.0" rx="154.0" ry="15.0" fill="#f88c10"/>
<rect x="317.2" y="116.0" width="26.0" height="401.0" fill="#f8a010" />
</g>
<g filter="url(#dBl5)">
<ellipse cx="330.2" cy="166.0" rx="96.0" ry="11.0" fill="#e82c10"/>
<ellipse cx="330.2" cy="166.0" rx="42.0" ry="25.0" fill="#e02810"/>
<ellipse cx="330.2" cy="259.0" rx="96.0" ry="11.0" fill="#e82c10"/>
<ellipse cx="330.2" cy="259.0" rx="42.0" ry="25.0" fill="#e02810"/>
<ellipse cx="330.2" cy="364.0" rx="96.0" ry="11.0" fill="#e82c10"/>
<ellipse cx="330.2" cy="364.0" rx="42.0" ry="25.0" fill="#e02810"/>
<ellipse cx="330.2" cy="465.0" rx="96.0" ry="11.0" fill="#e82c10"/>
<ellipse cx="330.2" cy="465.0" rx="42.0" ry="25.0" fill="#e02810"/>
<rect x="310.2" y="106.0" width="40.0" height="78.0" fill="#d42410" />
<rect x="310.2" y="246.0" width="40.0" height="132.0" fill="#d42410" />
<rect x="310.2" y="448.0" width="40.0" height="79.0" fill="#d42410" />
</g>
<g filter="url(#dBl3)">
<rect x="314.2" y="106.0" width="32.0" height="44.0" fill="#8a1414" />
<rect x="314.2" y="285.0" width="32.0" height="55.0" fill="#8a1414" />
<rect x="314.2" y="482.0" width="32.0" height="45.0" fill="#8a1414" />
<path d="M317.25 140 L312.25 176 M343.25 140 L348.25 176" stroke="#8a1414" stroke-width="11" stroke-linecap="round"/>
<path d="M317.25 285 L312.25 249 M343.25 285 L348.25 249" stroke="#8a1414" stroke-width="11" stroke-linecap="round"/>
<path d="M317.25 338 L312.25 374 M343.25 338 L348.25 374" stroke="#8a1414" stroke-width="11" stroke-linecap="round"/>
<path d="M317.25 491 L312.25 455 M343.25 491 L348.25 455" stroke="#8a1414" stroke-width="11" stroke-linecap="round"/>
</g>
</g>
<g filter="url(#dBl1)">
<rect x="320.5" y="81.0" width="19.5" height="33.0" fill="#f4f2fa" />
<rect x="320.5" y="519.0" width="19.5" height="41.0" fill="#e4e0f2" />
</g>
<g filter="url(#dBl1)" fill="#23232e" opacity=".8">
<rect x="211.5" y="9.0" width="7" height="6.6" rx="2"/>
<rect x="211.5" y="25.6" width="7" height="6.6" rx="2"/>
<rect x="211.5" y="42.3" width="7" height="6.6" rx="2"/>
<rect x="211.5" y="58.9" width="7" height="6.6" rx="2"/>
<rect x="211.5" y="75.6" width="7" height="6.6" rx="2"/>
<rect x="211.5" y="92.2" width="7" height="6.6" rx="2"/>
<rect x="211.5" y="108.9" width="7" height="6.6" rx="2"/>
<rect x="211.5" y="125.6" width="7" height="6.6" rx="2"/>
<rect x="211.5" y="142.2" width="7" height="6.6" rx="2"/>
<rect x="211.5" y="158.9" width="7" height="6.6" rx="2"/>
<rect x="211.5" y="175.5" width="7" height="6.6" rx="2"/>
<rect x="211.5" y="192.2" width="7" height="6.6" rx="2"/>
<rect x="211.5" y="208.8" width="7" height="6.6" rx="2"/>
<rect x="211.5" y="225.5" width="7" height="6.6" rx="2"/>
<rect x="211.5" y="242.1" width="7" height="6.6" rx="2"/>
<rect x="211.5" y="258.8" width="7" height="6.6" rx="2"/>
<rect x="211.5" y="275.4" width="7" height="6.6" rx="2"/>
<rect x="211.5" y="292.1" width="7" height="6.6" rx="2"/>
<rect x="211.5" y="308.7" width="7" height="6.6" rx="2"/>
<rect x="211.5" y="325.3" width="7" height="6.6" rx="2"/>
<rect x="211.5" y="342.0" width="7" height="6.6" rx="2"/>
<rect x="211.5" y="358.6" width="7" height="6.6" rx="2"/>
<rect x="211.5" y="375.3" width="7" height="6.6" rx="2"/>
<rect x="211.5" y="391.9" width="7" height="6.6" rx="2"/>
<rect x="211.5" y="408.6" width="7" height="6.6" rx="2"/>
<rect x="211.5" y="425.2" width="7" height="6.6" rx="2"/>
<rect x="211.5" y="441.9" width="7" height="6.6" rx="2"/>
<rect x="211.5" y="458.5" width="7" height="6.6" rx="2"/>
<rect x="211.5" y="475.2" width="7" height="6.6" rx="2"/>
<rect x="211.5" y="491.8" width="7" height="6.6" rx="2"/>
<rect x="211.5" y="508.5" width="7" height="6.6" rx="2"/>
<rect x="211.5" y="525.1" width="7" height="6.6" rx="2"/>
<rect x="211.5" y="541.8" width="7" height="6.6" rx="2"/>
<rect x="211.5" y="558.4" width="7" height="6.6" rx="2"/>
<rect x="211.5" y="575.1" width="7" height="6.6" rx="2"/>
<rect x="211.5" y="591.7" width="7" height="6.6" rx="2"/>
<rect x="211.5" y="608.4" width="7" height="6.6" rx="2"/>
<rect x="211.5" y="625.0" width="7" height="6.6" rx="2"/>
<rect x="211.5" y="641.7" width="7" height="6.6" rx="2"/>
<rect x="434.5" y="9.0" width="7" height="6.6" rx="2"/>
<rect x="434.5" y="25.6" width="7" height="6.6" rx="2"/>
<rect x="434.5" y="42.3" width="7" height="6.6" rx="2"/>
<rect x="434.5" y="58.9" width="7" height="6.6" rx="2"/>
<rect x="434.5" y="75.6" width="7" height="6.6" rx="2"/>
<rect x="434.5" y="92.2" width="7" height="6.6" rx="2"/>
<rect x="434.5" y="108.9" width="7" height="6.6" rx="2"/>
<rect x="434.5" y="125.6" width="7" height="6.6" rx="2"/>
<rect x="434.5" y="142.2" width="7" height="6.6" rx="2"/>
<rect x="434.5" y="158.9" width="7" height="6.6" rx="2"/>
<rect x="434.5" y="175.5" width="7" height="6.6" rx="2"/>
<rect x="434.5" y="192.2" width="7" height="6.6" rx="2"/>
<rect x="434.5" y="208.8" width="7" height="6.6" rx="2"/>
<rect x="434.5" y="225.5" width="7" height="6.6" rx="2"/>
<rect x="434.5" y="242.1" width="7" height="6.6" rx="2"/>
<rect x="434.5" y="258.8" width="7" height="6.6" rx="2"/>
<rect x="434.5" y="275.4" width="7" height="6.6" rx="2"/>
<rect x="434.5" y="292.1" width="7" height="6.6" rx="2"/>
<rect x="434.5" y="308.7" width="7" height="6.6" rx="2"/>
<rect x="434.5" y="325.3" width="7" height="6.6" rx="2"/>
<rect x="434.5" y="342.0" width="7" height="6.6" rx="2"/>
<rect x="434.5" y="358.6" width="7" height="6.6" rx="2"/>
<rect x="434.5" y="375.3" width="7" height="6.6" rx="2"/>
<rect x="434.5" y="391.9" width="7" height="6.6" rx="2"/>
<rect x="434.5" y="408.6" width="7" height="6.6" rx="2"/>
<rect x="434.5" y="425.2" width="7" height="6.6" rx="2"/>
<rect x="434.5" y="441.9" width="7" height="6.6" rx="2"/>
<rect x="434.5" y="458.5" width="7" height="6.6" rx="2"/>
<rect x="434.5" y="475.2" width="7" height="6.6" rx="2"/>
<rect x="434.5" y="491.8" width="7" height="6.6" rx="2"/>
<rect x="434.5" y="508.5" width="7" height="6.6" rx="2"/>
<rect x="434.5" y="525.1" width="7" height="6.6" rx="2"/>
<rect x="434.5" y="541.8" width="7" height="6.6" rx="2"/>
<rect x="434.5" y="558.4" width="7" height="6.6" rx="2"/>
<rect x="434.5" y="575.1" width="7" height="6.6" rx="2"/>
<rect x="434.5" y="591.7" width="7" height="6.6" rx="2"/>
<rect x="434.5" y="608.4" width="7" height="6.6" rx="2"/>
<rect x="434.5" y="625.0" width="7" height="6.6" rx="2"/>
<rect x="434.5" y="641.7" width="7" height="6.6" rx="2"/>
</g>
</g>
<defs><clipPath id="dField2"><rect x="60.0" y="112.5" width="544.5" height="400.5"/></clipPath><clipPath id="dHc2"><path d="M217.3 0 H440.0 V79 H217.3Z M217.3 562 H440.0 V656 H217.3Z M320.5 77 H346.5 V112.5 H320.5Z M320.5 513.0 H346.5 V564 H320.5Z"/></clipPath></defs>
<g transform="translate(1945.4,1582)" clip-path="url(#dPanel)">
<rect x="0.0" y="0.0" width="656.0" height="656.0" fill="#dedaf2" />
<g clip-path="url(#dHc2)" filter="url(#dBl2)"><path d="M223.4 2.2 L215.6 15.8 L199.9 15.8 L192.1 2.2 L199.9 -11.4 L215.6 -11.4Z M223.4 29.3 L215.6 42.9 L199.9 42.9 L192.1 29.3 L199.9 15.8 L215.6 15.7Z M223.4 56.5 L215.6 70.1 L199.9 70.1 L192.1 56.5 L199.9 42.9 L215.6 42.9Z M223.4 83.7 L215.6 97.3 L199.9 97.3 L192.1 83.7 L199.9 70.1 L215.6 70.1Z M223.4 110.9 L215.6 124.5 L199.9 124.5 L192.1 110.9 L199.9 97.3 L215.6 97.3Z M223.4 138.1 L215.6 151.7 L199.9 151.7 L192.1 138.1 L199.9 124.5 L215.6 124.5Z M223.4 165.3 L215.6 178.9 L199.9 178.9 L192.1 165.3 L199.9 151.7 L215.6 151.7Z M223.4 192.5 L215.6 206.1 L199.9 206.1 L192.1 192.5 L199.9 178.9 L215.6 178.9Z M223.4 219.7 L215.6 233.3 L199.9 233.3 L192.1 219.7 L199.9 206.1 L215.6 206.1Z M223.4 246.9 L215.6 260.5 L199.9 260.5 L192.1 246.9 L199.9 233.3 L215.6 233.3Z M223.4 274.1 L215.6 287.7 L199.9 287.7 L192.1 274.1 L199.9 260.5 L215.6 260.5Z M223.4 301.3 L215.6 314.9 L199.9 314.9 L192.1 301.3 L199.9 287.7 L215.6 287.7Z M223.4 328.5 L215.6 342.1 L199.9 342.1 L192.1 328.5 L199.9 314.9 L215.6 314.9Z M223.4 355.7 L215.6 369.3 L199.9 369.3 L192.1 355.7 L199.9 342.1 L215.6 342.1Z M223.4 382.9 L215.6 396.5 L199.9 396.5 L192.1 382.9 L199.9 369.3 L215.6 369.3Z M223.4 410.1 L215.6 423.6 L199.9 423.6 L192.1 410.1 L199.9 396.5 L215.6 396.5Z M223.4 437.2 L215.6 450.8 L199.9 450.8 L192.1 437.2 L199.9 423.6 L215.6 423.6Z M223.4 464.4 L215.6 478.0 L199.9 478.0 L192.1 464.4 L199.9 450.8 L215.6 450.8Z M223.4 491.6 L215.6 505.2 L199.9 505.2 L192.1 491.6 L199.9 478.0 L215.6 478.0Z M223.4 518.8 L215.6 532.4 L199.9 532.4 L192.1 518.8 L199.9 505.2 L215.6 505.2Z M223.4 546.0 L215.6 559.6 L199.9 559.6 L192.1 546.0 L199.9 532.4 L215.6 532.4Z M223.4 573.2 L215.6 586.8 L199.9 586.8 L192.1 573.2 L199.9 559.6 L215.6 559.6Z M223.4 600.4 L215.6 614.0 L199.9 614.0 L192.1 600.4 L199.9 586.8 L215.6 586.8Z M223.4 627.6 L215.6 641.2 L199.9 641.2 L192.1 627.6 L199.9 614.0 L215.6 614.0Z M223.4 654.8 L215.6 668.4 L199.9 668.4 L192.1 654.8 L199.9 641.2 L215.6 641.2Z M223.4 682.0 L215.6 695.6 L199.9 695.6 L192.1 682.0 L199.9 668.4 L215.6 668.4Z M223.4 709.2 L215.6 722.8 L199.9 722.8 L192.1 709.2 L199.9 695.6 L215.6 695.6Z M223.4 736.4 L215.6 750.0 L199.9 750.0 L192.1 736.4 L199.9 722.8 L215.6 722.8Z M247.0 -11.4 L239.2 2.2 L223.5 2.2 L215.6 -11.4 L223.5 -25.0 L239.2 -25.0Z M247.0 15.8 L239.2 29.3 L223.5 29.3 L215.6 15.8 L223.5 2.2 L239.2 2.2Z M247.0 42.9 L239.2 56.5 L223.5 56.5 L215.6 42.9 L223.5 29.3 L239.2 29.3Z M247.0 70.1 L239.2 83.7 L223.5 83.7 L215.6 70.1 L223.5 56.5 L239.2 56.5Z M247.0 97.3 L239.2 110.9 L223.5 110.9 L215.6 97.3 L223.5 83.7 L239.2 83.7Z M247.0 124.5 L239.2 138.1 L223.5 138.1 L215.6 124.5 L223.5 110.9 L239.2 110.9Z M247.0 151.7 L239.2 165.3 L223.5 165.3 L215.6 151.7 L223.5 138.1 L239.2 138.1Z M247.0 178.9 L239.2 192.5 L223.5 192.5 L215.6 178.9 L223.5 165.3 L239.2 165.3Z M247.0 206.1 L239.2 219.7 L223.5 219.7 L215.6 206.1 L223.5 192.5 L239.2 192.5Z M247.0 233.3 L239.2 246.9 L223.5 246.9 L215.6 233.3 L223.5 219.7 L239.2 219.7Z M247.0 260.5 L239.2 274.1 L223.5 274.1 L215.6 260.5 L223.5 246.9 L239.2 246.9Z M247.0 287.7 L239.2 301.3 L223.5 301.3 L215.6 287.7 L223.5 274.1 L239.2 274.1Z M247.0 314.9 L239.2 328.5 L223.5 328.5 L215.6 314.9 L223.5 301.3 L239.2 301.3Z M247.0 342.1 L239.2 355.7 L223.5 355.7 L215.6 342.1 L223.5 328.5 L239.2 328.5Z M247.0 369.3 L239.2 382.9 L223.5 382.9 L215.6 369.3 L223.5 355.7 L239.2 355.7Z M247.0 396.5 L239.2 410.1 L223.5 410.1 L215.6 396.5 L223.5 382.9 L239.2 382.9Z M247.0 423.6 L239.2 437.2 L223.5 437.2 L215.6 423.6 L223.5 410.1 L239.2 410.1Z M247.0 450.8 L239.2 464.4 L223.5 464.4 L215.6 450.8 L223.5 437.2 L239.2 437.2Z M247.0 478.0 L239.2 491.6 L223.5 491.6 L215.6 478.0 L223.5 464.4 L239.2 464.4Z M247.0 505.2 L239.2 518.8 L223.5 518.8 L215.6 505.2 L223.5 491.6 L239.2 491.6Z M247.0 532.4 L239.2 546.0 L223.5 546.0 L215.6 532.4 L223.5 518.8 L239.2 518.8Z M247.0 559.6 L239.2 573.2 L223.5 573.2 L215.6 559.6 L223.5 546.0 L239.2 546.0Z M247.0 586.8 L239.2 600.4 L223.5 600.4 L215.6 586.8 L223.5 573.2 L239.2 573.2Z M247.0 614.0 L239.2 627.6 L223.5 627.6 L215.6 614.0 L223.5 600.4 L239.2 600.4Z M247.0 641.2 L239.2 654.8 L223.5 654.8 L215.6 641.2 L223.5 627.6 L239.2 627.6Z M247.0 668.4 L239.2 682.0 L223.5 682.0 L215.6 668.4 L223.5 654.8 L239.2 654.8Z M247.0 695.6 L239.2 709.2 L223.5 709.2 L215.6 695.6 L223.5 682.0 L239.2 682.0Z M247.0 722.8 L239.2 736.4 L223.5 736.4 L215.6 722.8 L223.5 709.2 L239.2 709.2Z M270.6 2.2 L262.7 15.8 L247.0 15.8 L239.2 2.2 L247.0 -11.4 L262.7 -11.4Z M270.6 29.3 L262.7 42.9 L247.0 42.9 L239.2 29.3 L247.0 15.8 L262.7 15.7Z M270.6 56.5 L262.7 70.1 L247.0 70.1 L239.2 56.5 L247.0 42.9 L262.7 42.9Z M270.6 83.7 L262.7 97.3 L247.0 97.3 L239.2 83.7 L247.0 70.1 L262.7 70.1Z M270.6 110.9 L262.7 124.5 L247.0 124.5 L239.2 110.9 L247.0 97.3 L262.7 97.3Z M270.6 138.1 L262.7 151.7 L247.0 151.7 L239.2 138.1 L247.0 124.5 L262.7 124.5Z M270.6 165.3 L262.7 178.9 L247.0 178.9 L239.2 165.3 L247.0 151.7 L262.7 151.7Z M270.6 192.5 L262.7 206.1 L247.0 206.1 L239.2 192.5 L247.0 178.9 L262.7 178.9Z M270.6 219.7 L262.7 233.3 L247.0 233.3 L239.2 219.7 L247.0 206.1 L262.7 206.1Z M270.6 246.9 L262.7 260.5 L247.0 260.5 L239.2 246.9 L247.0 233.3 L262.7 233.3Z M270.6 274.1 L262.7 287.7 L247.0 287.7 L239.2 274.1 L247.0 260.5 L262.7 260.5Z M270.6 301.3 L262.7 314.9 L247.0 314.9 L239.2 301.3 L247.0 287.7 L262.7 287.7Z M270.6 328.5 L262.7 342.1 L247.0 342.1 L239.2 328.5 L247.0 314.9 L262.7 314.9Z M270.6 355.7 L262.7 369.3 L247.0 369.3 L239.2 355.7 L247.0 342.1 L262.7 342.1Z M270.6 382.9 L262.7 396.5 L247.0 396.5 L239.2 382.9 L247.0 369.3 L262.7 369.3Z M270.6 410.1 L262.7 423.6 L247.0 423.6 L239.2 410.1 L247.0 396.5 L262.7 396.5Z M270.6 437.2 L262.7 450.8 L247.0 450.8 L239.2 437.2 L247.0 423.6 L262.7 423.6Z M270.6 464.4 L262.7 478.0 L247.0 478.0 L239.2 464.4 L247.0 450.8 L262.7 450.8Z M270.6 491.6 L262.7 505.2 L247.0 505.2 L239.2 491.6 L247.0 478.0 L262.7 478.0Z M270.6 518.8 L262.7 532.4 L247.0 532.4 L239.2 518.8 L247.0 505.2 L262.7 505.2Z M270.6 546.0 L262.7 559.6 L247.0 559.6 L239.2 546.0 L247.0 532.4 L262.7 532.4Z M270.6 573.2 L262.7 586.8 L247.0 586.8 L239.2 573.2 L247.0 559.6 L262.7 559.6Z M270.6 600.4 L262.7 614.0 L247.0 614.0 L239.2 600.4 L247.0 586.8 L262.7 586.8Z M270.6 627.6 L262.7 641.2 L247.0 641.2 L239.2 627.6 L247.0 614.0 L262.7 614.0Z M270.6 654.8 L262.7 668.4 L247.0 668.4 L239.2 654.8 L247.0 641.2 L262.7 641.2Z M270.6 682.0 L262.7 695.6 L247.0 695.6 L239.2 682.0 L247.0 668.4 L262.7 668.4Z M270.6 709.2 L262.7 722.8 L247.0 722.8 L239.2 709.2 L247.0 695.6 L262.7 695.6Z M270.6 736.4 L262.7 750.0 L247.0 750.0 L239.2 736.4 L247.0 722.8 L262.7 722.8Z M294.1 -11.4 L286.2 2.2 L270.5 2.2 L262.7 -11.4 L270.5 -25.0 L286.2 -25.0Z M294.1 15.8 L286.2 29.3 L270.5 29.3 L262.7 15.8 L270.5 2.2 L286.2 2.2Z M294.1 42.9 L286.2 56.5 L270.5 56.5 L262.7 42.9 L270.5 29.3 L286.2 29.3Z M294.1 70.1 L286.2 83.7 L270.5 83.7 L262.7 70.1 L270.5 56.5 L286.2 56.5Z M294.1 97.3 L286.2 110.9 L270.5 110.9 L262.7 97.3 L270.5 83.7 L286.2 83.7Z M294.1 124.5 L286.2 138.1 L270.5 138.1 L262.7 124.5 L270.5 110.9 L286.2 110.9Z M294.1 151.7 L286.2 165.3 L270.5 165.3 L262.7 151.7 L270.5 138.1 L286.2 138.1Z M294.1 178.9 L286.2 192.5 L270.5 192.5 L262.7 178.9 L270.5 165.3 L286.2 165.3Z M294.1 206.1 L286.2 219.7 L270.5 219.7 L262.7 206.1 L270.5 192.5 L286.2 192.5Z M294.1 233.3 L286.2 246.9 L270.5 246.9 L262.7 233.3 L270.5 219.7 L286.2 219.7Z M294.1 260.5 L286.2 274.1 L270.5 274.1 L262.7 260.5 L270.5 246.9 L286.2 246.9Z M294.1 287.7 L286.2 301.3 L270.5 301.3 L262.7 287.7 L270.5 274.1 L286.2 274.1Z M294.1 314.9 L286.2 328.5 L270.5 328.5 L262.7 314.9 L270.5 301.3 L286.2 301.3Z M294.1 342.1 L286.2 355.7 L270.5 355.7 L262.7 342.1 L270.5 328.5 L286.2 328.5Z M294.1 369.3 L286.2 382.9 L270.5 382.9 L262.7 369.3 L270.5 355.7 L286.2 355.7Z M294.1 396.5 L286.2 410.1 L270.5 410.1 L262.7 396.5 L270.5 382.9 L286.2 382.9Z M294.1 423.6 L286.2 437.2 L270.5 437.2 L262.7 423.6 L270.5 410.1 L286.2 410.1Z M294.1 450.8 L286.2 464.4 L270.5 464.4 L262.7 450.8 L270.5 437.2 L286.2 437.2Z M294.1 478.0 L286.2 491.6 L270.5 491.6 L262.7 478.0 L270.5 464.4 L286.2 464.4Z M294.1 505.2 L286.2 518.8 L270.5 518.8 L262.7 505.2 L270.5 491.6 L286.2 491.6Z M294.1 532.4 L286.2 546.0 L270.5 546.0 L262.7 532.4 L270.5 518.8 L286.2 518.8Z M294.1 559.6 L286.2 573.2 L270.5 573.2 L262.7 559.6 L270.5 546.0 L286.2 546.0Z M294.1 586.8 L286.2 600.4 L270.5 600.4 L262.7 586.8 L270.5 573.2 L286.2 573.2Z M294.1 614.0 L286.2 627.6 L270.5 627.6 L262.7 614.0 L270.5 600.4 L286.2 600.4Z M294.1 641.2 L286.2 654.8 L270.5 654.8 L262.7 641.2 L270.5 627.6 L286.2 627.6Z M294.1 668.4 L286.2 682.0 L270.5 682.0 L262.7 668.4 L270.5 654.8 L286.2 654.8Z M294.1 695.6 L286.2 709.2 L270.5 709.2 L262.7 695.6 L270.5 682.0 L286.2 682.0Z M294.1 722.8 L286.2 736.4 L270.5 736.4 L262.7 722.8 L270.5 709.2 L286.2 709.2Z M317.6 2.2 L309.8 15.8 L294.1 15.8 L286.2 2.2 L294.1 -11.4 L309.8 -11.4Z M317.6 29.3 L309.8 42.9 L294.1 42.9 L286.2 29.3 L294.1 15.8 L309.8 15.7Z M317.6 56.5 L309.8 70.1 L294.1 70.1 L286.2 56.5 L294.1 42.9 L309.8 42.9Z M317.6 83.7 L309.8 97.3 L294.1 97.3 L286.2 83.7 L294.1 70.1 L309.8 70.1Z M317.6 110.9 L309.8 124.5 L294.1 124.5 L286.2 110.9 L294.1 97.3 L309.8 97.3Z M317.6 138.1 L309.8 151.7 L294.1 151.7 L286.2 138.1 L294.1 124.5 L309.8 124.5Z M317.6 165.3 L309.8 178.9 L294.1 178.9 L286.2 165.3 L294.1 151.7 L309.8 151.7Z M317.6 192.5 L309.8 206.1 L294.1 206.1 L286.2 192.5 L294.1 178.9 L309.8 178.9Z M317.6 219.7 L309.8 233.3 L294.1 233.3 L286.2 219.7 L294.1 206.1 L309.8 206.1Z M317.6 246.9 L309.8 260.5 L294.1 260.5 L286.2 246.9 L294.1 233.3 L309.8 233.3Z M317.6 274.1 L309.8 287.7 L294.1 287.7 L286.2 274.1 L294.1 260.5 L309.8 260.5Z M317.6 301.3 L309.8 314.9 L294.1 314.9 L286.2 301.3 L294.1 287.7 L309.8 287.7Z M317.6 328.5 L309.8 342.1 L294.1 342.1 L286.2 328.5 L294.1 314.9 L309.8 314.9Z M317.6 355.7 L309.8 369.3 L294.1 369.3 L286.2 355.7 L294.1 342.1 L309.8 342.1Z M317.6 382.9 L309.8 396.5 L294.1 396.5 L286.2 382.9 L294.1 369.3 L309.8 369.3Z M317.6 410.1 L309.8 423.6 L294.1 423.6 L286.2 410.1 L294.1 396.5 L309.8 396.5Z M317.6 437.2 L309.8 450.8 L294.1 450.8 L286.2 437.2 L294.1 423.6 L309.8 423.6Z M317.6 464.4 L309.8 478.0 L294.1 478.0 L286.2 464.4 L294.1 450.8 L309.8 450.8Z M317.6 491.6 L309.8 505.2 L294.1 505.2 L286.2 491.6 L294.1 478.0 L309.8 478.0Z M317.6 518.8 L309.8 532.4 L294.1 532.4 L286.2 518.8 L294.1 505.2 L309.8 505.2Z M317.6 546.0 L309.8 559.6 L294.1 559.6 L286.2 546.0 L294.1 532.4 L309.8 532.4Z M317.6 573.2 L309.8 586.8 L294.1 586.8 L286.2 573.2 L294.1 559.6 L309.8 559.6Z M317.6 600.4 L309.8 614.0 L294.1 614.0 L286.2 600.4 L294.1 586.8 L309.8 586.8Z M317.6 627.6 L309.8 641.2 L294.1 641.2 L286.2 627.6 L294.1 614.0 L309.8 614.0Z M317.6 654.8 L309.8 668.4 L294.1 668.4 L286.2 654.8 L294.1 641.2 L309.8 641.2Z M317.6 682.0 L309.8 695.6 L294.1 695.6 L286.2 682.0 L294.1 668.4 L309.8 668.4Z M317.6 709.2 L309.8 722.8 L294.1 722.8 L286.2 709.2 L294.1 695.6 L309.8 695.6Z M317.6 736.4 L309.8 750.0 L294.1 750.0 L286.2 736.4 L294.1 722.8 L309.8 722.8Z M341.2 -11.4 L333.4 2.2 L317.6 2.2 L309.8 -11.4 L317.6 -25.0 L333.4 -25.0Z M341.2 15.8 L333.4 29.3 L317.6 29.3 L309.8 15.8 L317.6 2.2 L333.4 2.2Z M341.2 42.9 L333.4 56.5 L317.6 56.5 L309.8 42.9 L317.6 29.3 L333.4 29.3Z M341.2 70.1 L333.4 83.7 L317.6 83.7 L309.8 70.1 L317.6 56.5 L333.4 56.5Z M341.2 97.3 L333.4 110.9 L317.6 110.9 L309.8 97.3 L317.6 83.7 L333.4 83.7Z M341.2 124.5 L333.4 138.1 L317.6 138.1 L309.8 124.5 L317.6 110.9 L333.4 110.9Z M341.2 151.7 L333.4 165.3 L317.6 165.3 L309.8 151.7 L317.6 138.1 L333.4 138.1Z M341.2 178.9 L333.4 192.5 L317.6 192.5 L309.8 178.9 L317.6 165.3 L333.4 165.3Z M341.2 206.1 L333.4 219.7 L317.6 219.7 L309.8 206.1 L317.6 192.5 L333.4 192.5Z M341.2 233.3 L333.4 246.9 L317.6 246.9 L309.8 233.3 L317.6 219.7 L333.4 219.7Z M341.2 260.5 L333.4 274.1 L317.6 274.1 L309.8 260.5 L317.6 246.9 L333.4 246.9Z M341.2 287.7 L333.4 301.3 L317.6 301.3 L309.8 287.7 L317.6 274.1 L333.4 274.1Z M341.2 314.9 L333.4 328.5 L317.6 328.5 L309.8 314.9 L317.6 301.3 L333.4 301.3Z M341.2 342.1 L333.4 355.7 L317.6 355.7 L309.8 342.1 L317.6 328.5 L333.4 328.5Z M341.2 369.3 L333.4 382.9 L317.6 382.9 L309.8 369.3 L317.6 355.7 L333.4 355.7Z M341.2 396.5 L333.4 410.1 L317.6 410.1 L309.8 396.5 L317.6 382.9 L333.4 382.9Z M341.2 423.6 L333.4 437.2 L317.6 437.2 L309.8 423.6 L317.6 410.1 L333.4 410.1Z M341.2 450.8 L333.4 464.4 L317.6 464.4 L309.8 450.8 L317.6 437.2 L333.4 437.2Z M341.2 478.0 L333.4 491.6 L317.6 491.6 L309.8 478.0 L317.6 464.4 L333.4 464.4Z M341.2 505.2 L333.4 518.8 L317.6 518.8 L309.8 505.2 L317.6 491.6 L333.4 491.6Z M341.2 532.4 L333.4 546.0 L317.6 546.0 L309.8 532.4 L317.6 518.8 L333.4 518.8Z M341.2 559.6 L333.4 573.2 L317.6 573.2 L309.8 559.6 L317.6 546.0 L333.4 546.0Z M341.2 586.8 L333.4 600.4 L317.6 600.4 L309.8 586.8 L317.6 573.2 L333.4 573.2Z M341.2 614.0 L333.4 627.6 L317.6 627.6 L309.8 614.0 L317.6 600.4 L333.4 600.4Z M341.2 641.2 L333.4 654.8 L317.6 654.8 L309.8 641.2 L317.6 627.6 L333.4 627.6Z M341.2 668.4 L333.4 682.0 L317.6 682.0 L309.8 668.4 L317.6 654.8 L333.4 654.8Z M341.2 695.6 L333.4 709.2 L317.6 709.2 L309.8 695.6 L317.6 682.0 L333.4 682.0Z M341.2 722.8 L333.4 736.4 L317.6 736.4 L309.8 722.8 L317.6 709.2 L333.4 709.2Z M364.8 2.2 L356.9 15.8 L341.2 15.8 L333.4 2.2 L341.2 -11.4 L356.9 -11.4Z M364.8 29.3 L356.9 42.9 L341.2 42.9 L333.4 29.3 L341.2 15.8 L356.9 15.7Z M364.8 56.5 L356.9 70.1 L341.2 70.1 L333.4 56.5 L341.2 42.9 L356.9 42.9Z M364.8 83.7 L356.9 97.3 L341.2 97.3 L333.4 83.7 L341.2 70.1 L356.9 70.1Z M364.8 110.9 L356.9 124.5 L341.2 124.5 L333.4 110.9 L341.2 97.3 L356.9 97.3Z M364.8 138.1 L356.9 151.7 L341.2 151.7 L333.4 138.1 L341.2 124.5 L356.9 124.5Z M364.8 165.3 L356.9 178.9 L341.2 178.9 L333.4 165.3 L341.2 151.7 L356.9 151.7Z M364.8 192.5 L356.9 206.1 L341.2 206.1 L333.4 192.5 L341.2 178.9 L356.9 178.9Z M364.8 219.7 L356.9 233.3 L341.2 233.3 L333.4 219.7 L341.2 206.1 L356.9 206.1Z M364.8 246.9 L356.9 260.5 L341.2 260.5 L333.4 246.9 L341.2 233.3 L356.9 233.3Z M364.8 274.1 L356.9 287.7 L341.2 287.7 L333.4 274.1 L341.2 260.5 L356.9 260.5Z M364.8 301.3 L356.9 314.9 L341.2 314.9 L333.4 301.3 L341.2 287.7 L356.9 287.7Z M364.8 328.5 L356.9 342.1 L341.2 342.1 L333.4 328.5 L341.2 314.9 L356.9 314.9Z M364.8 355.7 L356.9 369.3 L341.2 369.3 L333.4 355.7 L341.2 342.1 L356.9 342.1Z M364.8 382.9 L356.9 396.5 L341.2 396.5 L333.4 382.9 L341.2 369.3 L356.9 369.3Z M364.8 410.1 L356.9 423.6 L341.2 423.6 L333.4 410.1 L341.2 396.5 L356.9 396.5Z M364.8 437.2 L356.9 450.8 L341.2 450.8 L333.4 437.2 L341.2 423.6 L356.9 423.6Z M364.8 464.4 L356.9 478.0 L341.2 478.0 L333.4 464.4 L341.2 450.8 L356.9 450.8Z M364.8 491.6 L356.9 505.2 L341.2 505.2 L333.4 491.6 L341.2 478.0 L356.9 478.0Z M364.8 518.8 L356.9 532.4 L341.2 532.4 L333.4 518.8 L341.2 505.2 L356.9 505.2Z M364.8 546.0 L356.9 559.6 L341.2 559.6 L333.4 546.0 L341.2 532.4 L356.9 532.4Z M364.8 573.2 L356.9 586.8 L341.2 586.8 L333.4 573.2 L341.2 559.6 L356.9 559.6Z M364.8 600.4 L356.9 614.0 L341.2 614.0 L333.4 600.4 L341.2 586.8 L356.9 586.8Z M364.8 627.6 L356.9 641.2 L341.2 641.2 L333.4 627.6 L341.2 614.0 L356.9 614.0Z M364.8 654.8 L356.9 668.4 L341.2 668.4 L333.4 654.8 L341.2 641.2 L356.9 641.2Z M364.8 682.0 L356.9 695.6 L341.2 695.6 L333.4 682.0 L341.2 668.4 L356.9 668.4Z M364.8 709.2 L356.9 722.8 L341.2 722.8 L333.4 709.2 L341.2 695.6 L356.9 695.6Z M364.8 736.4 L356.9 750.0 L341.2 750.0 L333.4 736.4 L341.2 722.8 L356.9 722.8Z M388.3 -11.4 L380.5 2.2 L364.8 2.2 L356.9 -11.4 L364.8 -25.0 L380.5 -25.0Z M388.3 15.8 L380.5 29.3 L364.8 29.3 L356.9 15.8 L364.8 2.2 L380.5 2.2Z M388.3 42.9 L380.5 56.5 L364.8 56.5 L356.9 42.9 L364.8 29.3 L380.5 29.3Z M388.3 70.1 L380.5 83.7 L364.8 83.7 L356.9 70.1 L364.8 56.5 L380.5 56.5Z M388.3 97.3 L380.5 110.9 L364.8 110.9 L356.9 97.3 L364.8 83.7 L380.5 83.7Z M388.3 124.5 L380.5 138.1 L364.8 138.1 L356.9 124.5 L364.8 110.9 L380.5 110.9Z M388.3 151.7 L380.5 165.3 L364.8 165.3 L356.9 151.7 L364.8 138.1 L380.5 138.1Z M388.3 178.9 L380.5 192.5 L364.8 192.5 L356.9 178.9 L364.8 165.3 L380.5 165.3Z M388.3 206.1 L380.5 219.7 L364.8 219.7 L356.9 206.1 L364.8 192.5 L380.5 192.5Z M388.3 233.3 L380.5 246.9 L364.8 246.9 L356.9 233.3 L364.8 219.7 L380.5 219.7Z M388.3 260.5 L380.5 274.1 L364.8 274.1 L356.9 260.5 L364.8 246.9 L380.5 246.9Z M388.3 287.7 L380.5 301.3 L364.8 301.3 L356.9 287.7 L364.8 274.1 L380.5 274.1Z M388.3 314.9 L380.5 328.5 L364.8 328.5 L356.9 314.9 L364.8 301.3 L380.5 301.3Z M388.3 342.1 L380.5 355.7 L364.8 355.7 L356.9 342.1 L364.8 328.5 L380.5 328.5Z M388.3 369.3 L380.5 382.9 L364.8 382.9 L356.9 369.3 L364.8 355.7 L380.5 355.7Z M388.3 396.5 L380.5 410.1 L364.8 410.1 L356.9 396.5 L364.8 382.9 L380.5 382.9Z M388.3 423.6 L380.5 437.2 L364.8 437.2 L356.9 423.6 L364.8 410.1 L380.5 410.1Z M388.3 450.8 L380.5 464.4 L364.8 464.4 L356.9 450.8 L364.8 437.2 L380.5 437.2Z M388.3 478.0 L380.5 491.6 L364.8 491.6 L356.9 478.0 L364.8 464.4 L380.5 464.4Z M388.3 505.2 L380.5 518.8 L364.8 518.8 L356.9 505.2 L364.8 491.6 L380.5 491.6Z M388.3 532.4 L380.5 546.0 L364.8 546.0 L356.9 532.4 L364.8 518.8 L380.5 518.8Z M388.3 559.6 L380.5 573.2 L364.8 573.2 L356.9 559.6 L364.8 546.0 L380.5 546.0Z M388.3 586.8 L380.5 600.4 L364.8 600.4 L356.9 586.8 L364.8 573.2 L380.5 573.2Z M388.3 614.0 L380.5 627.6 L364.8 627.6 L356.9 614.0 L364.8 600.4 L380.5 600.4Z M388.3 641.2 L380.5 654.8 L364.8 654.8 L356.9 641.2 L364.8 627.6 L380.5 627.6Z M388.3 668.4 L380.5 682.0 L364.8 682.0 L356.9 668.4 L364.8 654.8 L380.5 654.8Z M388.3 695.6 L380.5 709.2 L364.8 709.2 L356.9 695.6 L364.8 682.0 L380.5 682.0Z M388.3 722.8 L380.5 736.4 L364.8 736.4 L356.9 722.8 L364.8 709.2 L380.5 709.2Z M411.8 2.2 L404.0 15.8 L388.3 15.8 L380.4 2.2 L388.3 -11.4 L404.0 -11.4Z M411.8 29.3 L404.0 42.9 L388.3 42.9 L380.4 29.3 L388.3 15.8 L404.0 15.7Z M411.8 56.5 L404.0 70.1 L388.3 70.1 L380.4 56.5 L388.3 42.9 L404.0 42.9Z M411.8 83.7 L404.0 97.3 L388.3 97.3 L380.4 83.7 L388.3 70.1 L404.0 70.1Z M411.8 110.9 L404.0 124.5 L388.3 124.5 L380.4 110.9 L388.3 97.3 L404.0 97.3Z M411.8 138.1 L404.0 151.7 L388.3 151.7 L380.4 138.1 L388.3 124.5 L404.0 124.5Z M411.8 165.3 L404.0 178.9 L388.3 178.9 L380.4 165.3 L388.3 151.7 L404.0 151.7Z M411.8 192.5 L404.0 206.1 L388.3 206.1 L380.4 192.5 L388.3 178.9 L404.0 178.9Z M411.8 219.7 L404.0 233.3 L388.3 233.3 L380.4 219.7 L388.3 206.1 L404.0 206.1Z M411.8 246.9 L404.0 260.5 L388.3 260.5 L380.4 246.9 L388.3 233.3 L404.0 233.3Z M411.8 274.1 L404.0 287.7 L388.3 287.7 L380.4 274.1 L388.3 260.5 L404.0 260.5Z M411.8 301.3 L404.0 314.9 L388.3 314.9 L380.4 301.3 L388.3 287.7 L404.0 287.7Z M411.8 328.5 L404.0 342.1 L388.3 342.1 L380.4 328.5 L388.3 314.9 L404.0 314.9Z M411.8 355.7 L404.0 369.3 L388.3 369.3 L380.4 355.7 L388.3 342.1 L404.0 342.1Z M411.8 382.9 L404.0 396.5 L388.3 396.5 L380.4 382.9 L388.3 369.3 L404.0 369.3Z M411.8 410.1 L404.0 423.6 L388.3 423.6 L380.4 410.1 L388.3 396.5 L404.0 396.5Z M411.8 437.2 L404.0 450.8 L388.3 450.8 L380.4 437.2 L388.3 423.6 L404.0 423.6Z M411.8 464.4 L404.0 478.0 L388.3 478.0 L380.4 464.4 L388.3 450.8 L404.0 450.8Z M411.8 491.6 L404.0 505.2 L388.3 505.2 L380.4 491.6 L388.3 478.0 L404.0 478.0Z M411.8 518.8 L404.0 532.4 L388.3 532.4 L380.4 518.8 L388.3 505.2 L404.0 505.2Z M411.8 546.0 L404.0 559.6 L388.3 559.6 L380.4 546.0 L388.3 532.4 L404.0 532.4Z M411.8 573.2 L404.0 586.8 L388.3 586.8 L380.4 573.2 L388.3 559.6 L404.0 559.6Z M411.8 600.4 L404.0 614.0 L388.3 614.0 L380.4 600.4 L388.3 586.8 L404.0 586.8Z M411.8 627.6 L404.0 641.2 L388.3 641.2 L380.4 627.6 L388.3 614.0 L404.0 614.0Z M411.8 654.8 L404.0 668.4 L388.3 668.4 L380.4 654.8 L388.3 641.2 L404.0 641.2Z M411.8 682.0 L404.0 695.6 L388.3 695.6 L380.4 682.0 L388.3 668.4 L404.0 668.4Z M411.8 709.2 L404.0 722.8 L388.3 722.8 L380.4 709.2 L388.3 695.6 L404.0 695.6Z M411.8 736.4 L404.0 750.0 L388.3 750.0 L380.4 736.4 L388.3 722.8 L404.0 722.8Z M435.4 -11.4 L427.6 2.2 L411.8 2.2 L404.0 -11.4 L411.8 -25.0 L427.6 -25.0Z M435.4 15.8 L427.6 29.3 L411.8 29.3 L404.0 15.8 L411.8 2.2 L427.6 2.2Z M435.4 42.9 L427.6 56.5 L411.8 56.5 L404.0 42.9 L411.8 29.3 L427.6 29.3Z M435.4 70.1 L427.6 83.7 L411.8 83.7 L404.0 70.1 L411.8 56.5 L427.6 56.5Z M435.4 97.3 L427.6 110.9 L411.8 110.9 L404.0 97.3 L411.8 83.7 L427.6 83.7Z M435.4 124.5 L427.6 138.1 L411.8 138.1 L404.0 124.5 L411.8 110.9 L427.6 110.9Z M435.4 151.7 L427.6 165.3 L411.8 165.3 L404.0 151.7 L411.8 138.1 L427.6 138.1Z M435.4 178.9 L427.6 192.5 L411.8 192.5 L404.0 178.9 L411.8 165.3 L427.6 165.3Z M435.4 206.1 L427.6 219.7 L411.8 219.7 L404.0 206.1 L411.8 192.5 L427.6 192.5Z M435.4 233.3 L427.6 246.9 L411.8 246.9 L404.0 233.3 L411.8 219.7 L427.6 219.7Z M435.4 260.5 L427.6 274.1 L411.8 274.1 L404.0 260.5 L411.8 246.9 L427.6 246.9Z M435.4 287.7 L427.6 301.3 L411.8 301.3 L404.0 287.7 L411.8 274.1 L427.6 274.1Z M435.4 314.9 L427.6 328.5 L411.8 328.5 L404.0 314.9 L411.8 301.3 L427.6 301.3Z M435.4 342.1 L427.6 355.7 L411.8 355.7 L404.0 342.1 L411.8 328.5 L427.6 328.5Z M435.4 369.3 L427.6 382.9 L411.8 382.9 L404.0 369.3 L411.8 355.7 L427.6 355.7Z M435.4 396.5 L427.6 410.1 L411.8 410.1 L404.0 396.5 L411.8 382.9 L427.6 382.9Z M435.4 423.6 L427.6 437.2 L411.8 437.2 L404.0 423.6 L411.8 410.1 L427.6 410.1Z M435.4 450.8 L427.6 464.4 L411.8 464.4 L404.0 450.8 L411.8 437.2 L427.6 437.2Z M435.4 478.0 L427.6 491.6 L411.8 491.6 L404.0 478.0 L411.8 464.4 L427.6 464.4Z M435.4 505.2 L427.6 518.8 L411.8 518.8 L404.0 505.2 L411.8 491.6 L427.6 491.6Z M435.4 532.4 L427.6 546.0 L411.8 546.0 L404.0 532.4 L411.8 518.8 L427.6 518.8Z M435.4 559.6 L427.6 573.2 L411.8 573.2 L404.0 559.6 L411.8 546.0 L427.6 546.0Z M435.4 586.8 L427.6 600.4 L411.8 600.4 L404.0 586.8 L411.8 573.2 L427.6 573.2Z M435.4 614.0 L427.6 627.6 L411.8 627.6 L404.0 614.0 L411.8 600.4 L427.6 600.4Z M435.4 641.2 L427.6 654.8 L411.8 654.8 L404.0 641.2 L411.8 627.6 L427.6 627.6Z M435.4 668.4 L427.6 682.0 L411.8 682.0 L404.0 668.4 L411.8 654.8 L427.6 654.8Z M435.4 695.6 L427.6 709.2 L411.8 709.2 L404.0 695.6 L411.8 682.0 L427.6 682.0Z M435.4 722.8 L427.6 736.4 L411.8 736.4 L404.0 722.8 L411.8 709.2 L427.6 709.2Z M458.9 2.2 L451.1 15.8 L435.4 15.8 L427.6 2.2 L435.4 -11.4 L451.1 -11.4Z M458.9 29.3 L451.1 42.9 L435.4 42.9 L427.6 29.3 L435.4 15.8 L451.1 15.7Z M458.9 56.5 L451.1 70.1 L435.4 70.1 L427.6 56.5 L435.4 42.9 L451.1 42.9Z M458.9 83.7 L451.1 97.3 L435.4 97.3 L427.6 83.7 L435.4 70.1 L451.1 70.1Z M458.9 110.9 L451.1 124.5 L435.4 124.5 L427.6 110.9 L435.4 97.3 L451.1 97.3Z M458.9 138.1 L451.1 151.7 L435.4 151.7 L427.6 138.1 L435.4 124.5 L451.1 124.5Z M458.9 165.3 L451.1 178.9 L435.4 178.9 L427.6 165.3 L435.4 151.7 L451.1 151.7Z M458.9 192.5 L451.1 206.1 L435.4 206.1 L427.6 192.5 L435.4 178.9 L451.1 178.9Z M458.9 219.7 L451.1 233.3 L435.4 233.3 L427.6 219.7 L435.4 206.1 L451.1 206.1Z M458.9 246.9 L451.1 260.5 L435.4 260.5 L427.6 246.9 L435.4 233.3 L451.1 233.3Z M458.9 274.1 L451.1 287.7 L435.4 287.7 L427.6 274.1 L435.4 260.5 L451.1 260.5Z M458.9 301.3 L451.1 314.9 L435.4 314.9 L427.6 301.3 L435.4 287.7 L451.1 287.7Z M458.9 328.5 L451.1 342.1 L435.4 342.1 L427.6 328.5 L435.4 314.9 L451.1 314.9Z M458.9 355.7 L451.1 369.3 L435.4 369.3 L427.6 355.7 L435.4 342.1 L451.1 342.1Z M458.9 382.9 L451.1 396.5 L435.4 396.5 L427.6 382.9 L435.4 369.3 L451.1 369.3Z M458.9 410.1 L451.1 423.6 L435.4 423.6 L427.6 410.1 L435.4 396.5 L451.1 396.5Z M458.9 437.2 L451.1 450.8 L435.4 450.8 L427.6 437.2 L435.4 423.6 L451.1 423.6Z M458.9 464.4 L451.1 478.0 L435.4 478.0 L427.6 464.4 L435.4 450.8 L451.1 450.8Z M458.9 491.6 L451.1 505.2 L435.4 505.2 L427.6 491.6 L435.4 478.0 L451.1 478.0Z M458.9 518.8 L451.1 532.4 L435.4 532.4 L427.6 518.8 L435.4 505.2 L451.1 505.2Z M458.9 546.0 L451.1 559.6 L435.4 559.6 L427.6 546.0 L435.4 532.4 L451.1 532.4Z M458.9 573.2 L451.1 586.8 L435.4 586.8 L427.6 573.2 L435.4 559.6 L451.1 559.6Z M458.9 600.4 L451.1 614.0 L435.4 614.0 L427.6 600.4 L435.4 586.8 L451.1 586.8Z M458.9 627.6 L451.1 641.2 L435.4 641.2 L427.6 627.6 L435.4 614.0 L451.1 614.0Z M458.9 654.8 L451.1 668.4 L435.4 668.4 L427.6 654.8 L435.4 641.2 L451.1 641.2Z M458.9 682.0 L451.1 695.6 L435.4 695.6 L427.6 682.0 L435.4 668.4 L451.1 668.4Z M458.9 709.2 L451.1 722.8 L435.4 722.8 L427.6 709.2 L435.4 695.6 L451.1 695.6Z M458.9 736.4 L451.1 750.0 L435.4 750.0 L427.6 736.4 L435.4 722.8 L451.1 722.8Z M482.5 -11.4 L474.6 2.2 L458.9 2.2 L451.1 -11.4 L458.9 -25.0 L474.6 -25.0Z M482.5 15.8 L474.6 29.3 L458.9 29.3 L451.1 15.8 L458.9 2.2 L474.6 2.2Z M482.5 42.9 L474.6 56.5 L458.9 56.5 L451.1 42.9 L458.9 29.3 L474.6 29.3Z M482.5 70.1 L474.6 83.7 L458.9 83.7 L451.1 70.1 L458.9 56.5 L474.6 56.5Z M482.5 97.3 L474.6 110.9 L458.9 110.9 L451.1 97.3 L458.9 83.7 L474.6 83.7Z M482.5 124.5 L474.6 138.1 L458.9 138.1 L451.1 124.5 L458.9 110.9 L474.6 110.9Z M482.5 151.7 L474.6 165.3 L458.9 165.3 L451.1 151.7 L458.9 138.1 L474.6 138.1Z M482.5 178.9 L474.6 192.5 L458.9 192.5 L451.1 178.9 L458.9 165.3 L474.6 165.3Z M482.5 206.1 L474.6 219.7 L458.9 219.7 L451.1 206.1 L458.9 192.5 L474.6 192.5Z M482.5 233.3 L474.6 246.9 L458.9 246.9 L451.1 233.3 L458.9 219.7 L474.6 219.7Z M482.5 260.5 L474.6 274.1 L458.9 274.1 L451.1 260.5 L458.9 246.9 L474.6 246.9Z M482.5 287.7 L474.6 301.3 L458.9 301.3 L451.1 287.7 L458.9 274.1 L474.6 274.1Z M482.5 314.9 L474.6 328.5 L458.9 328.5 L451.1 314.9 L458.9 301.3 L474.6 301.3Z M482.5 342.1 L474.6 355.7 L458.9 355.7 L451.1 342.1 L458.9 328.5 L474.6 328.5Z M482.5 369.3 L474.6 382.9 L458.9 382.9 L451.1 369.3 L458.9 355.7 L474.6 355.7Z M482.5 396.5 L474.6 410.1 L458.9 410.1 L451.1 396.5 L458.9 382.9 L474.6 382.9Z M482.5 423.6 L474.6 437.2 L458.9 437.2 L451.1 423.6 L458.9 410.1 L474.6 410.1Z M482.5 450.8 L474.6 464.4 L458.9 464.4 L451.1 450.8 L458.9 437.2 L474.6 437.2Z M482.5 478.0 L474.6 491.6 L458.9 491.6 L451.1 478.0 L458.9 464.4 L474.6 464.4Z M482.5 505.2 L474.6 518.8 L458.9 518.8 L451.1 505.2 L458.9 491.6 L474.6 491.6Z M482.5 532.4 L474.6 546.0 L458.9 546.0 L451.1 532.4 L458.9 518.8 L474.6 518.8Z M482.5 559.6 L474.6 573.2 L458.9 573.2 L451.1 559.6 L458.9 546.0 L474.6 546.0Z M482.5 586.8 L474.6 600.4 L458.9 600.4 L451.1 586.8 L458.9 573.2 L474.6 573.2Z M482.5 614.0 L474.6 627.6 L458.9 627.6 L451.1 614.0 L458.9 600.4 L474.6 600.4Z M482.5 641.2 L474.6 654.8 L458.9 654.8 L451.1 641.2 L458.9 627.6 L474.6 627.6Z M482.5 668.4 L474.6 682.0 L458.9 682.0 L451.1 668.4 L458.9 654.8 L474.6 654.8Z M482.5 695.6 L474.6 709.2 L458.9 709.2 L451.1 695.6 L458.9 682.0 L474.6 682.0Z M482.5 722.8 L474.6 736.4 L458.9 736.4 L451.1 722.8 L458.9 709.2 L474.6 709.2Z M506.0 2.2 L498.2 15.8 L482.5 15.8 L474.6 2.2 L482.5 -11.4 L498.2 -11.4Z M506.0 29.3 L498.2 42.9 L482.5 42.9 L474.6 29.3 L482.5 15.8 L498.2 15.7Z M506.0 56.5 L498.2 70.1 L482.5 70.1 L474.6 56.5 L482.5 42.9 L498.2 42.9Z M506.0 83.7 L498.2 97.3 L482.5 97.3 L474.6 83.7 L482.5 70.1 L498.2 70.1Z M506.0 110.9 L498.2 124.5 L482.5 124.5 L474.6 110.9 L482.5 97.3 L498.2 97.3Z M506.0 138.1 L498.2 151.7 L482.5 151.7 L474.6 138.1 L482.5 124.5 L498.2 124.5Z M506.0 165.3 L498.2 178.9 L482.5 178.9 L474.6 165.3 L482.5 151.7 L498.2 151.7Z M506.0 192.5 L498.2 206.1 L482.5 206.1 L474.6 192.5 L482.5 178.9 L498.2 178.9Z M506.0 219.7 L498.2 233.3 L482.5 233.3 L474.6 219.7 L482.5 206.1 L498.2 206.1Z M506.0 246.9 L498.2 260.5 L482.5 260.5 L474.6 246.9 L482.5 233.3 L498.2 233.3Z M506.0 274.1 L498.2 287.7 L482.5 287.7 L474.6 274.1 L482.5 260.5 L498.2 260.5Z M506.0 301.3 L498.2 314.9 L482.5 314.9 L474.6 301.3 L482.5 287.7 L498.2 287.7Z M506.0 328.5 L498.2 342.1 L482.5 342.1 L474.6 328.5 L482.5 314.9 L498.2 314.9Z M506.0 355.7 L498.2 369.3 L482.5 369.3 L474.6 355.7 L482.5 342.1 L498.2 342.1Z M506.0 382.9 L498.2 396.5 L482.5 396.5 L474.6 382.9 L482.5 369.3 L498.2 369.3Z M506.0 410.1 L498.2 423.6 L482.5 423.6 L474.6 410.1 L482.5 396.5 L498.2 396.5Z M506.0 437.2 L498.2 450.8 L482.5 450.8 L474.6 437.2 L482.5 423.6 L498.2 423.6Z M506.0 464.4 L498.2 478.0 L482.5 478.0 L474.6 464.4 L482.5 450.8 L498.2 450.8Z M506.0 491.6 L498.2 505.2 L482.5 505.2 L474.6 491.6 L482.5 478.0 L498.2 478.0Z M506.0 518.8 L498.2 532.4 L482.5 532.4 L474.6 518.8 L482.5 505.2 L498.2 505.2Z M506.0 546.0 L498.2 559.6 L482.5 559.6 L474.6 546.0 L482.5 532.4 L498.2 532.4Z M506.0 573.2 L498.2 586.8 L482.5 586.8 L474.6 573.2 L482.5 559.6 L498.2 559.6Z M506.0 600.4 L498.2 614.0 L482.5 614.0 L474.6 600.4 L482.5 586.8 L498.2 586.8Z M506.0 627.6 L498.2 641.2 L482.5 641.2 L474.6 627.6 L482.5 614.0 L498.2 614.0Z M506.0 654.8 L498.2 668.4 L482.5 668.4 L474.6 654.8 L482.5 641.2 L498.2 641.2Z M506.0 682.0 L498.2 695.6 L482.5 695.6 L474.6 682.0 L482.5 668.4 L498.2 668.4Z M506.0 709.2 L498.2 722.8 L482.5 722.8 L474.6 709.2 L482.5 695.6 L498.2 695.6Z M506.0 736.4 L498.2 750.0 L482.5 750.0 L474.6 736.4 L482.5 722.8 L498.2 722.8Z" fill="none" stroke="#a8a6c2" stroke-width="7.6"/></g>
<g filter="url(#dBl1)">
<path d="M-10 79 H320.5 V112.5 H60.0 V168 H-10 Z M-10 471.5 H60.0 V513.0 H320.5 V562 H-10 Z M-10 274 H60.0 V362 H-10 Z" fill="#f8e414"/>
<path d="M-10 79 H320.5 V110.5 M-10 168 H60.0 M-10 274 H60.0 M-10 362 H60.0 M-10 471.5 H60.0 M-10 562 H320.5 V515.0" fill="none" stroke="#3a3a30" stroke-width="7" stroke-linejoin="miter"/>
<path d="M666 79 H346.5 V112.5 H604.5 V168 H666 Z M666 471.5 H604.5 V513.0 H346.5 V562 H666 Z M666 274 H604.5 V362 H666 Z" fill="#f8e414"/>
<path d="M666 79 H346.5 V110.5 M666 168 H604.5 M666 274 H604.5 M666 362 H604.5 M666 471.5 H604.5 M666 562 H346.5 V515.0" fill="none" stroke="#3a3a30" stroke-width="7" stroke-linejoin="miter"/>
</g>
<g clip-path="url(#dField2)">
<rect x="60.0" y="112.5" width="544.5" height="400.5" fill="#2e2e94" />
<g filter="url(#dBl10)">
<rect x="214.0" y="92.5" width="240.0" height="440.5" fill="#3450c4" />
<ellipse cx="334.0" cy="155.0" rx="185.0" ry="18.0" fill="#3868d8"/>
<ellipse cx="334.0" cy="268.0" rx="185.0" ry="18.0" fill="#3868d8"/>
<ellipse cx="334.0" cy="356.0" rx="185.0" ry="18.0" fill="#3868d8"/>
<ellipse cx="334.0" cy="474.0" rx="185.0" ry="18.0" fill="#3868d8"/>
</g>
<g filter="url(#dBl6)">
<rect x="272.0" y="92.5" width="124.0" height="440.5" fill="#4490e4" />
<ellipse cx="334.0" cy="155.0" rx="130.0" ry="12.0" fill="#58b8f0"/>
<ellipse cx="334.0" cy="268.0" rx="130.0" ry="12.0" fill="#58b8f0"/>
<ellipse cx="334.0" cy="356.0" rx="130.0" ry="12.0" fill="#58b8f0"/>
<ellipse cx="334.0" cy="474.0" rx="130.0" ry="12.0" fill="#58b8f0"/>
<ellipse cx="230.0" cy="216.0" rx="46.0" ry="30.0" fill="#2e2e94"/>
<ellipse cx="438.0" cy="216.0" rx="46.0" ry="30.0" fill="#2e2e94"/>
<ellipse cx="230.0" cy="314.0" rx="46.0" ry="30.0" fill="#2e2e94"/>
<ellipse cx="438.0" cy="314.0" rx="46.0" ry="30.0" fill="#2e2e94"/>
<ellipse cx="230.0" cy="416.0" rx="46.0" ry="30.0" fill="#2e2e94"/>
<ellipse cx="438.0" cy="416.0" rx="46.0" ry="30.0" fill="#2e2e94"/>
</g>
<g filter="url(#dBl5)">
<rect x="303.0" y="92.5" width="62.0" height="440.5" fill="#84e8f0" />
<ellipse cx="334.0" cy="155.0" rx="78.0" ry="10.0" fill="#84e8f0"/>
<ellipse cx="334.0" cy="155.0" rx="52.0" ry="22.0" fill="#84e8f0"/>
<ellipse cx="334.0" cy="268.0" rx="78.0" ry="10.0" fill="#84e8f0"/>
<ellipse cx="334.0" cy="268.0" rx="52.0" ry="22.0" fill="#84e8f0"/>
<ellipse cx="334.0" cy="356.0" rx="78.0" ry="10.0" fill="#84e8f0"/>
<ellipse cx="334.0" cy="356.0" rx="52.0" ry="22.0" fill="#84e8f0"/>
<ellipse cx="334.0" cy="474.0" rx="78.0" ry="10.0" fill="#84e8f0"/>
<ellipse cx="334.0" cy="474.0" rx="52.0" ry="22.0" fill="#84e8f0"/>
</g>
<g filter="url(#dBl4)">
<rect x="316.0" y="92.5" width="36.0" height="440.5" fill="#f0e420" />
<ellipse cx="334.0" cy="155.0" rx="40.0" ry="20.0" fill="#f0e420"/>
<ellipse cx="334.0" cy="268.0" rx="40.0" ry="20.0" fill="#f0e420"/>
<ellipse cx="334.0" cy="356.0" rx="40.0" ry="20.0" fill="#f0e420"/>
<ellipse cx="334.0" cy="474.0" rx="40.0" ry="20.0" fill="#f0e420"/>
</g>
<g filter="url(#dBl4)">
<rect x="326.0" y="92.5" width="16.0" height="440.5" fill="#f89410" />
<rect x="314.0" y="92.5" width="40.0" height="93.5" fill="#e02c10" rx="12"/>
<rect x="314.0" y="246.0" width="40.0" height="136.0" fill="#e02c10" rx="12"/>
<rect x="314.0" y="450.0" width="40.0" height="83.0" fill="#e02c10" rx="12"/>
</g>
<g filter="url(#dBl3)">
<rect x="323.0" y="102.5" width="22.0" height="47.5" fill="#901818" />
<rect x="323.0" y="284.0" width="22.0" height="60.0" fill="#901818" />
<rect x="323.0" y="486.0" width="22.0" height="37.0" fill="#901818" />
<path d="M325.0 131 L320.0 163 M343.0 131 L348.0 163" stroke="#901818" stroke-width="10" stroke-linecap="round"/>
<path d="M325.0 292 L320.0 260 M343.0 292 L348.0 260" stroke="#901818" stroke-width="10" stroke-linecap="round"/>
<path d="M325.0 332 L320.0 364 M343.0 332 L348.0 364" stroke="#901818" stroke-width="10" stroke-linecap="round"/>
<path d="M325.0 498 L320.0 466 M343.0 498 L348.0 466" stroke="#901818" stroke-width="10" stroke-linecap="round"/>
</g>
</g>
<g filter="url(#dBl1)">
<rect x="324.5" y="81.0" width="18.0" height="29.5" fill="#f4f2fa" />
<rect x="324.5" y="515.0" width="18.0" height="45.0" fill="#e4e0f2" />
</g>
<g filter="url(#dBl1)" fill="#23232e" opacity=".8">
<rect x="213.8" y="9.0" width="7" height="6.6" rx="2"/>
<rect x="213.8" y="25.6" width="7" height="6.6" rx="2"/>
<rect x="213.8" y="42.3" width="7" height="6.6" rx="2"/>
<rect x="213.8" y="58.9" width="7" height="6.6" rx="2"/>
<rect x="213.8" y="75.6" width="7" height="6.6" rx="2"/>
<rect x="213.8" y="92.2" width="7" height="6.6" rx="2"/>
<rect x="213.8" y="108.9" width="7" height="6.6" rx="2"/>
<rect x="213.8" y="125.6" width="7" height="6.6" rx="2"/>
<rect x="213.8" y="142.2" width="7" height="6.6" rx="2"/>
<rect x="213.8" y="158.9" width="7" height="6.6" rx="2"/>
<rect x="213.8" y="175.5" width="7" height="6.6" rx="2"/>
<rect x="213.8" y="192.2" width="7" height="6.6" rx="2"/>
<rect x="213.8" y="208.8" width="7" height="6.6" rx="2"/>
<rect x="213.8" y="225.5" width="7" height="6.6" rx="2"/>
<rect x="213.8" y="242.1" width="7" height="6.6" rx="2"/>
<rect x="213.8" y="258.8" width="7" height="6.6" rx="2"/>
<rect x="213.8" y="275.4" width="7" height="6.6" rx="2"/>
<rect x="213.8" y="292.1" width="7" height="6.6" rx="2"/>
<rect x="213.8" y="308.7" width="7" height="6.6" rx="2"/>
<rect x="213.8" y="325.3" width="7" height="6.6" rx="2"/>
<rect x="213.8" y="342.0" width="7" height="6.6" rx="2"/>
<rect x="213.8" y="358.6" width="7" height="6.6" rx="2"/>
<rect x="213.8" y="375.3" width="7" height="6.6" rx="2"/>
<rect x="213.8" y="391.9" width="7" height="6.6" rx="2"/>
<rect x="213.8" y="408.6" width="7" height="6.6" rx="2"/>
<rect x="213.8" y="425.2" width="7" height="6.6" rx="2"/>
<rect x="213.8" y="441.9" width="7" height="6.6" rx="2"/>
<rect x="213.8" y="458.5" width="7" height="6.6" rx="2"/>
<rect x="213.8" y="475.2" width="7" height="6.6" rx="2"/>
<rect x="213.8" y="491.8" width="7" height="6.6" rx="2"/>
<rect x="213.8" y="508.5" width="7" height="6.6" rx="2"/>
<rect x="213.8" y="525.1" width="7" height="6.6" rx="2"/>
<rect x="213.8" y="541.8" width="7" height="6.6" rx="2"/>
<rect x="213.8" y="558.4" width="7" height="6.6" rx="2"/>
<rect x="213.8" y="575.1" width="7" height="6.6" rx="2"/>
<rect x="213.8" y="591.7" width="7" height="6.6" rx="2"/>
<rect x="213.8" y="608.4" width="7" height="6.6" rx="2"/>
<rect x="213.8" y="625.0" width="7" height="6.6" rx="2"/>
<rect x="213.8" y="641.7" width="7" height="6.6" rx="2"/>
<rect x="436.5" y="9.0" width="7" height="6.6" rx="2"/>
<rect x="436.5" y="25.6" width="7" height="6.6" rx="2"/>
<rect x="436.5" y="42.3" width="7" height="6.6" rx="2"/>
<rect x="436.5" y="58.9" width="7" height="6.6" rx="2"/>
<rect x="436.5" y="75.6" width="7" height="6.6" rx="2"/>
<rect x="436.5" y="92.2" width="7" height="6.6" rx="2"/>
<rect x="436.5" y="108.9" width="7" height="6.6" rx="2"/>
<rect x="436.5" y="125.6" width="7" height="6.6" rx="2"/>
<rect x="436.5" y="142.2" width="7" height="6.6" rx="2"/>
<rect x="436.5" y="158.9" width="7" height="6.6" rx="2"/>
<rect x="436.5" y="175.5" width="7" height="6.6" rx="2"/>
<rect x="436.5" y="192.2" width="7" height="6.6" rx="2"/>
<rect x="436.5" y="208.8" width="7" height="6.6" rx="2"/>
<rect x="436.5" y="225.5" width="7" height="6.6" rx="2"/>
<rect x="436.5" y="242.1" width="7" height="6.6" rx="2"/>
<rect x="436.5" y="258.8" width="7" height="6.6" rx="2"/>
<rect x="436.5" y="275.4" width="7" height="6.6" rx="2"/>
<rect x="436.5" y="292.1" width="7" height="6.6" rx="2"/>
<rect x="436.5" y="308.7" width="7" height="6.6" rx="2"/>
<rect x="436.5" y="325.3" width="7" height="6.6" rx="2"/>
<rect x="436.5" y="342.0" width="7" height="6.6" rx="2"/>
<rect x="436.5" y="358.6" width="7" height="6.6" rx="2"/>
<rect x="436.5" y="375.3" width="7" height="6.6" rx="2"/>
<rect x="436.5" y="391.9" width="7" height="6.6" rx="2"/>
<rect x="436.5" y="408.6" width="7" height="6.6" rx="2"/>
<rect x="436.5" y="425.2" width="7" height="6.6" rx="2"/>
<rect x="436.5" y="441.9" width="7" height="6.6" rx="2"/>
<rect x="436.5" y="458.5" width="7" height="6.6" rx="2"/>
<rect x="436.5" y="475.2" width="7" height="6.6" rx="2"/>
<rect x="436.5" y="491.8" width="7" height="6.6" rx="2"/>
<rect x="436.5" y="508.5" width="7" height="6.6" rx="2"/>
<rect x="436.5" y="525.1" width="7" height="6.6" rx="2"/>
<rect x="436.5" y="541.8" width="7" height="6.6" rx="2"/>
<rect x="436.5" y="558.4" width="7" height="6.6" rx="2"/>
<rect x="436.5" y="575.1" width="7" height="6.6" rx="2"/>
<rect x="436.5" y="591.7" width="7" height="6.6" rx="2"/>
<rect x="436.5" y="608.4" width="7" height="6.6" rx="2"/>
<rect x="436.5" y="625.0" width="7" height="6.6" rx="2"/>
<rect x="436.5" y="641.7" width="7" height="6.6" rx="2"/>
</g>
</g>
<g filter="url(#dBl1)">
<rect x="2680.0" y="1582.0" width="58.0" height="656.0" fill="#808080" />
<rect x="2684.0" y="1590.0" width="50.0" height="644.0" fill="url(#dCb)" />
<path d="M2722 1718.5 h12 M2722 1974 h12" stroke="#666" stroke-width="5"/>
</g>
<text x="340.0" y="1561.0" font-size="50" fill="#000" textLength="66.5" lengthAdjust="spacingAndGlyphs">(d)</text>
<text fill="#000"><tspan x="635.5" y="1561.0" font-size="49" textLength="26.0" lengthAdjust="spacingAndGlyphs" font-style="italic">λ</tspan><tspan font-size="20"> </tspan><tspan x="678.2" y="1561.0" font-size="49" textLength="37.4" lengthAdjust="spacingAndGlyphs">=</tspan><tspan font-size="20"> </tspan><tspan x="730.7" y="1561.0" font-size="49" textLength="68.0" lengthAdjust="spacingAndGlyphs">0.8</tspan><tspan font-size="20"> </tspan><tspan x="820.4" y="1561.0" font-size="49" textLength="70.0" lengthAdjust="spacingAndGlyphs">µm</tspan></text>
<text fill="#000"><tspan x="1412.2" y="1561.0" font-size="49" textLength="26.0" lengthAdjust="spacingAndGlyphs" font-style="italic">λ</tspan><tspan font-size="20"> </tspan><tspan x="1454.9" y="1561.0" font-size="49" textLength="37.4" lengthAdjust="spacingAndGlyphs">=</tspan><tspan font-size="20"> </tspan><tspan x="1507.4" y="1561.0" font-size="49" textLength="25.0" lengthAdjust="spacingAndGlyphs">5</tspan><tspan font-size="20"> </tspan><tspan x="1555.1" y="1561.0" font-size="49" textLength="70.0" lengthAdjust="spacingAndGlyphs">µm</tspan></text>
<text fill="#000"><tspan x="2152.2" y="1561.0" font-size="49" textLength="26.0" lengthAdjust="spacingAndGlyphs" font-style="italic">λ</tspan><tspan font-size="20"> </tspan><tspan x="2194.9" y="1561.0" font-size="49" textLength="37.4" lengthAdjust="spacingAndGlyphs">=</tspan><tspan font-size="20"> </tspan><tspan x="2247.4" y="1561.0" font-size="49" textLength="50.0" lengthAdjust="spacingAndGlyphs">20</tspan><tspan font-size="20"> </tspan><tspan x="2320.1" y="1561.0" font-size="49" textLength="70.0" lengthAdjust="spacingAndGlyphs">µm</tspan></text>
<text fill="#000"><tspan x="2754.5" y="1733.0" font-size="49" textLength="49.0" lengthAdjust="spacingAndGlyphs">10</tspan><tspan x="2806.0" y="1717.5" font-size="34.5" textLength="49.5" lengthAdjust="spacingAndGlyphs">0.4</tspan></text>
<text fill="#000"><tspan x="2754.5" y="1992.6" font-size="49" textLength="49.0" lengthAdjust="spacingAndGlyphs">10</tspan><tspan x="2806.0" y="1978.0" font-size="34.5" textLength="18.0" lengthAdjust="spacingAndGlyphs">0</tspan></text>
<text fill="#000"><tspan x="2754.5" y="2241.5" font-size="49" textLength="49.0" lengthAdjust="spacingAndGlyphs">10</tspan><tspan x="2806.0" y="2226.8" font-size="34.5" textLength="82.0" lengthAdjust="spacingAndGlyphs">−0.4</tspan></text>
<text transform="translate(2950.5,2214) rotate(-90)" font-size="49"><tspan x="0" y="0" textLength="113.5" lengthAdjust="spacingAndGlyphs">Field</tspan><tspan font-size="20"> </tspan><tspan x="139" y="0" textLength="325" lengthAdjust="spacingAndGlyphs">intensity/arb.</tspan><tspan font-size="20"> </tspan><tspan x="491.5" y="0" textLength="116" lengthAdjust="spacingAndGlyphs">units</tspan></text>
</svg>
</body></html>
